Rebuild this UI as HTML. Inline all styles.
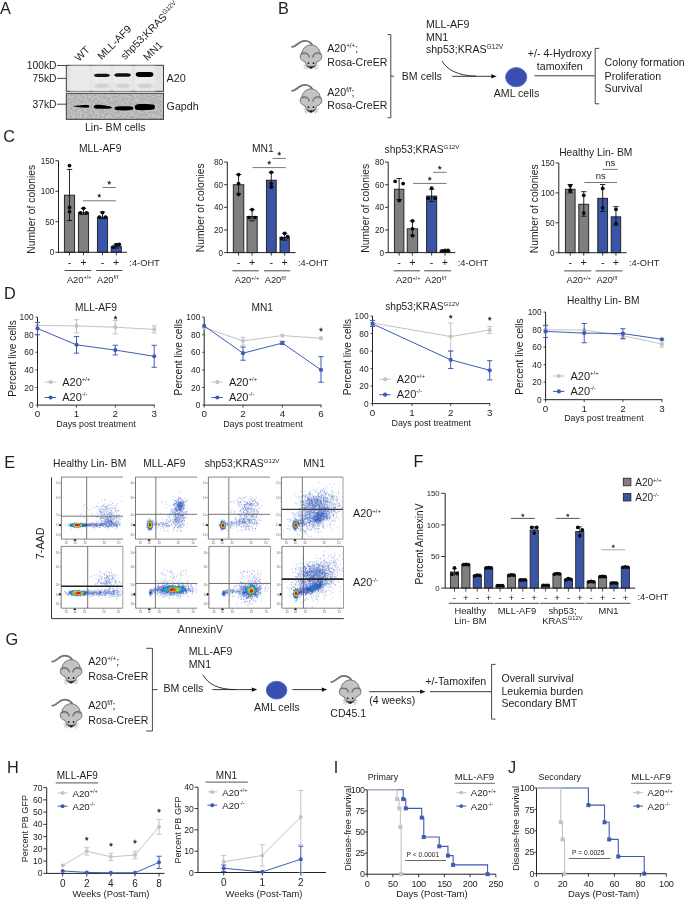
<!DOCTYPE html><html><head><meta charset="utf-8"><style>html,body{margin:0;padding:0;background:#fff;overflow:hidden;width:685px;height:900px;}svg{display:block;will-change:transform;}</style></head><body>
<svg width="685" height="900" viewBox="0 0 685 900" font-family='"Liberation Sans", sans-serif'>
<defs>
<symbol id="mouse" viewBox="0 0 40 38" overflow="visible">
 <path d="M4.2 11.6 C6.5 11.6 9 9.5 11.5 7.5 C13.5 6 16 5.4 18.5 5.8 C21 6.2 23 7.6 24.2 9.6" stroke="#5e5e5e" stroke-width="1.7" fill="none" stroke-linecap="round"/>
 <path d="M4.2 11.6 C6.5 11.6 9 9.5 11.5 7.5 C13.5 6 16 5.4 18.5 5.8 C21 6.2 23 7.6 24.2 9.6" stroke="#9c9c9c" stroke-width="0.6" fill="none" stroke-linecap="round"/>
 <path d="M23 9.7 C27.8 9.7 31.6 13.2 32.2 17.8 C33.8 18.8 34.4 21.6 33.4 23.6 C32.6 25.2 30.8 26 29.2 26.4 C28.2 29.6 25.8 33 23.1 33 C20.4 33 18 29.6 17 26.4 C15.4 26 13.6 25.2 12.8 23.6 C11.8 21.6 12.4 18.8 14 17.8 C14.6 13.2 18.4 9.7 23 9.7 Z" fill="#c3c3c3" stroke="#666" stroke-width="0.9"/>
 <path d="M12.9 19 C14.5 17.8 17.5 17.6 19.3 18.6 C20.6 19.4 21.2 20.8 21.4 22.4" stroke="#6c6c6c" stroke-width="1.3" fill="none"/>
 <path d="M33.3 19 C31.7 17.8 28.7 17.6 26.9 18.6 C25.6 19.4 25 20.8 24.8 22.4" stroke="#6c6c6c" stroke-width="1.3" fill="none"/>
 <path d="M13.2 19.9 C15 19.1 17.6 19 18.8 19.7" stroke="#a0a0a0" stroke-width="0.6" fill="none"/>
 <path d="M33 19.9 C31.2 19.1 28.6 19 27.4 19.7" stroke="#a0a0a0" stroke-width="0.6" fill="none"/>
 <circle cx="20.6" cy="28" r="0.9" fill="#1a1a1a"/>
 <circle cx="25.6" cy="28" r="0.9" fill="#1a1a1a"/>
 <path d="M19.2 30.3 C21.2 31.5 25 31.5 27 30.3 L26.2 31.6 C24.8 33.4 21.4 33.4 20 31.6 Z" fill="#444" stroke="#444" stroke-width="0.4"/>
 <circle cx="23.1" cy="32.3" r="0.9" fill="#111"/>
 <path d="M19 30.6 L15.6 30 M19 31.2 L16 33.2 M19.6 31.8 L18.4 34.6 M27.2 30.6 L30.6 30 M27.2 31.2 L30.2 33.2 M26.6 31.8 L27.8 34.6" stroke="#7a7a7a" stroke-width="0.55"/>
</symbol>
<filter id="fblur" x="0" y="0" width="100%" height="100%"><feGaussianBlur stdDeviation="0.25"/></filter></defs>
<rect width="685" height="900" fill="#fff"/>
<text x="-0.10" y="14.20" font-size="16.3" text-anchor="start" fill="#1e1e1e">A</text>
<text x="79.00" y="62.00" font-size="10.5" text-anchor="start" fill="#1e1e1e" transform="rotate(-45 79.00 62.00)">WT</text>
<text x="101.70" y="60.20" font-size="10.5" text-anchor="start" fill="#1e1e1e" transform="rotate(-45 101.70 60.20)">MLL-AF9</text>
<text x="125.00" y="60.20" font-size="10.5" text-anchor="start" fill="#1e1e1e" transform="rotate(-45 125.00 60.20)">shp53;KRAS<tspan font-size="6.5" dy="-4">G12V</tspan></text>
<text x="147.60" y="61.20" font-size="10.5" text-anchor="start" fill="#1e1e1e" transform="rotate(-45 147.60 61.20)">MN1</text>
<text x="56.50" y="68.80" font-size="10.3" text-anchor="end" fill="#1e1e1e">100kD</text>
<text x="56.50" y="81.80" font-size="10.3" text-anchor="end" fill="#1e1e1e">75kD</text>
<text x="56.50" y="107.50" font-size="10.3" text-anchor="end" fill="#1e1e1e">37kD</text>
<line x1="57.00" y1="65.50" x2="66.00" y2="65.50" stroke="#333" stroke-width="0.9"/>
<line x1="57.00" y1="78.40" x2="66.00" y2="78.40" stroke="#333" stroke-width="0.9"/>
<line x1="57.00" y1="104.20" x2="66.00" y2="104.20" stroke="#333" stroke-width="0.9"/>
<defs><filter id="blur1" x="-20%" y="-50%" width="140%" height="200%"><feGaussianBlur stdDeviation="0.8"/></filter><filter id="blur2" x="-20%" y="-100%" width="140%" height="300%"><feGaussianBlur stdDeviation="0.65"/></filter></defs>
<rect x="66.30" y="65.30" width="97.20" height="26.00" fill="#e2e2e2" stroke="#3e3e3e" stroke-width="1.0"/>
<rect x="70.00" y="66.00" width="20.00" height="25.00" fill="#ebebeb" stroke="none" stroke-width="0" filter="url(#blur1)"/>
<rect x="92.00" y="66.00" width="19.00" height="25.00" fill="#ebebeb" stroke="none" stroke-width="0" filter="url(#blur1)"/>
<rect x="113.00" y="66.00" width="19.00" height="25.00" fill="#ebebeb" stroke="none" stroke-width="0" filter="url(#blur1)"/>
<rect x="134.50" y="66.00" width="21.00" height="25.00" fill="#ebebeb" stroke="none" stroke-width="0" filter="url(#blur1)"/>
<ellipse cx="102.00" cy="85.8" rx="8.00" ry="2.0" fill="#cacaca" filter="url(#blur1)"/>
<ellipse cx="123.00" cy="85.8" rx="8.00" ry="2.0" fill="#cacaca" filter="url(#blur1)"/>
<ellipse cx="145.00" cy="85.8" rx="8.50" ry="2.0" fill="#cacaca" filter="url(#blur1)"/>
<rect x="94.00" y="73.65" width="15.80" height="3.30" rx="3.16" ry="1.65" fill="#151515" filter="url(#blur2)"/>
<rect x="114.40" y="73.15" width="16.40" height="3.50" rx="3.28" ry="1.75" fill="#101010" filter="url(#blur2)"/>
<rect x="135.80" y="72.10" width="17.60" height="4.80" rx="3.52" ry="2.40" fill="#050505" filter="url(#blur2)"/>
<filter id="mottle" x="0" y="0" width="100%" height="100%" filterUnits="objectBoundingBox" color-interpolation-filters="sRGB"><feTurbulence type="fractalNoise" baseFrequency="0.45 0.6" numOctaves="2" seed="7"/><feColorMatrix type="matrix" values="0.28 0 0 0 0.585  0.28 0 0 0 0.585  0.28 0 0 0 0.585  0 0 0 0 1"/></filter>
<rect x="66.3" y="93.3" width="97.2" height="26" filter="url(#mottle)"/>
<rect x="66.30" y="93.30" width="97.20" height="26.00" fill="none" stroke="#3e3e3e" stroke-width="1.0"/>
<path d="M72.9 106.2 C76 105.6 82 104.9 86.5 104.9 C88.5 104.9 89.6 105.6 89.6 106.3 C89.6 107.1 88.5 107.7 86.5 107.7 C82 107.7 76 106.9 72.9 106.2 Z" fill="#060606" filter="url(#blur2)"/>
<path d="M93.8 106.6 C93.8 105.2 95.5 104.8 98 104.8 C103 104.9 108 105.8 111.2 106.7 C112 107.2 112 108.3 110.8 108.6 C106 108.9 100 108.9 96 108.7 C94.5 108.5 93.8 107.8 93.8 106.6 Z" fill="#060606" filter="url(#blur2)"/>
<path d="M114.6 108.2 C114.6 106.8 116.5 106.3 120 106.2 C125 106.1 130 106.1 132.4 106.7 C133.6 107.1 133.6 109.2 132.4 109.7 C128 110.5 120 110.6 116.5 110.1 C115 109.8 114.6 109.2 114.6 108.2 Z" fill="#060606" filter="url(#blur2)"/>
<path d="M134.7 107.0 C134.7 105.2 136.5 104.3 140 104.1 C145 103.9 151 103.9 153.8 104.8 C155.2 105.4 155.3 108.6 153.8 109.3 C150 110.3 142 110.4 137.5 110.0 C135.5 109.7 134.7 108.8 134.7 107.0 Z" fill="#060606" filter="url(#blur2)"/>
<text x="166.60" y="81.50" font-size="10.8" text-anchor="start" fill="#1e1e1e">A20</text>
<text x="166.60" y="110.20" font-size="10.7" text-anchor="start" fill="#1e1e1e">Gapdh</text>
<text x="115.30" y="131.20" font-size="10.6" text-anchor="middle" fill="#1e1e1e">Lin- BM cells</text>
<text x="277.90" y="13.90" font-size="16.3" text-anchor="start" fill="#1e1e1e">B</text>
<use href="#mouse" x="287.90" y="35.20" width="40.00" height="38.00"/>
<use href="#mouse" x="287.90" y="79.20" width="40.00" height="38.00"/>
<text x="327.30" y="52.30" font-size="10.6" text-anchor="start" fill="#1e1e1e">A20<tspan font-size="6.3" dy="-4">+/+</tspan><tspan dy="4">;</tspan></text>
<text x="327.30" y="65.90" font-size="10.6" text-anchor="start" fill="#1e1e1e">Rosa-CreER</text>
<text x="327.30" y="95.50" font-size="10.6" text-anchor="start" fill="#1e1e1e">A20<tspan font-size="6.3" dy="-4">f/f</tspan><tspan dy="4">;</tspan></text>
<text x="327.30" y="109.30" font-size="10.6" text-anchor="start" fill="#1e1e1e">Rosa-CreER</text>
<path d="M387.5 34.6 L390.8 34.6 L390.8 117.8 L387.5 117.8" stroke="#333" stroke-width="0.9" fill="none"/>
<line x1="390.80" y1="76.20" x2="394.00" y2="76.20" stroke="#333" stroke-width="0.9"/>
<text x="401.80" y="79.50" font-size="10.6" text-anchor="start" fill="#1e1e1e">BM cells</text>
<path d="M442 60.9 C447 70 458 75.6 476 76.2" stroke="#222" stroke-width="0.9" fill="none"/>
<line x1="452.20" y1="76.30" x2="492.00" y2="76.30" stroke="#222" stroke-width="0.9"/>
<path d="M496.70 76.30 L491.30 74.14 L491.30 78.46 Z" fill="#111"/>
<text x="425.90" y="28.10" font-size="10.6" text-anchor="start" fill="#1e1e1e">MLL-AF9</text>
<text x="425.90" y="40.90" font-size="10.6" text-anchor="start" fill="#1e1e1e">MN1</text>
<text x="425.90" y="53.20" font-size="10.6" text-anchor="start" fill="#1e1e1e">shp53;KRAS<tspan font-size="6.5" dy="-4">G12V</tspan></text>
<ellipse cx="516.2" cy="77.2" rx="10.6" ry="9.6" fill="#3a4fb0" stroke="#5a70c8" stroke-width="1"/>
<text x="516.50" y="96.80" font-size="10.6" text-anchor="middle" fill="#1e1e1e">AML cells</text>
<line x1="534.50" y1="75.80" x2="594.50" y2="75.80" stroke="#222" stroke-width="0.9"/>
<text x="559.80" y="57.30" font-size="10.6" text-anchor="middle" fill="#1e1e1e">+/- 4-Hydroxy</text>
<text x="559.80" y="70.00" font-size="10.6" text-anchor="middle" fill="#1e1e1e">tamoxifen</text>
<path d="M599.2 48.4 L595.2 48.4 L595.2 103.8 L599.2 103.8" stroke="#333" stroke-width="0.9" fill="none"/>
<text x="604.60" y="66.40" font-size="10.6" text-anchor="start" fill="#1e1e1e">Colony formation</text>
<text x="604.60" y="79.60" font-size="10.6" text-anchor="start" fill="#1e1e1e">Proliferation</text>
<text x="604.60" y="92.20" font-size="10.6" text-anchor="start" fill="#1e1e1e">Survival</text>
<text x="3.30" y="142.00" font-size="16.3" text-anchor="start" fill="#1e1e1e">C</text>
<line x1="58.50" y1="160.70" x2="58.50" y2="252.80" stroke="#222" stroke-width="1"/>
<line x1="55.30" y1="252.30" x2="58.50" y2="252.30" stroke="#222" stroke-width="0.9"/>
<text x="54.30" y="255.20" font-size="8.2" text-anchor="end" fill="#1e1e1e">0</text>
<line x1="55.30" y1="221.77" x2="58.50" y2="221.77" stroke="#222" stroke-width="0.9"/>
<text x="54.30" y="224.67" font-size="8.2" text-anchor="end" fill="#1e1e1e">50</text>
<line x1="55.30" y1="191.23" x2="58.50" y2="191.23" stroke="#222" stroke-width="0.9"/>
<text x="54.30" y="194.13" font-size="8.2" text-anchor="end" fill="#1e1e1e">100</text>
<line x1="55.30" y1="160.70" x2="58.50" y2="160.70" stroke="#222" stroke-width="0.9"/>
<text x="54.30" y="163.60" font-size="8.2" text-anchor="end" fill="#1e1e1e">150</text>
<rect x="64.40" y="195.20" width="10.20" height="57.10" fill="#7f7f7f" stroke="#1a1a1a" stroke-width="0.9"/>
<rect x="78.40" y="212.61" width="10.20" height="39.69" fill="#7f7f7f" stroke="#1a1a1a" stroke-width="0.9"/>
<rect x="97.40" y="217.19" width="10.20" height="35.11" fill="#3a55a6" stroke="#1a1a1a" stroke-width="0.9"/>
<rect x="111.20" y="246.38" width="10.10" height="5.92" fill="#3a55a6" stroke="#1a1a1a" stroke-width="0.9"/>
<line x1="69.50" y1="169.43" x2="69.50" y2="220.55" stroke="#111" stroke-width="0.9"/>
<line x1="66.80" y1="169.43" x2="72.20" y2="169.43" stroke="#111" stroke-width="0.9"/>
<line x1="66.80" y1="220.55" x2="72.20" y2="220.55" stroke="#111" stroke-width="0.9"/>
<circle cx="69.50" cy="165.59" r="1.9" fill="#0a0a0a"/>
<circle cx="69.50" cy="207.42" r="1.9" fill="#0a0a0a"/>
<circle cx="69.50" cy="211.63" r="1.9" fill="#0a0a0a"/>
<line x1="83.50" y1="208.33" x2="83.50" y2="214.44" stroke="#111" stroke-width="0.9"/>
<line x1="80.80" y1="208.33" x2="86.20" y2="208.33" stroke="#111" stroke-width="0.9"/>
<line x1="80.80" y1="214.44" x2="86.20" y2="214.44" stroke="#111" stroke-width="0.9"/>
<circle cx="83.50" cy="208.33" r="1.9" fill="#0a0a0a"/>
<circle cx="80.50" cy="212.91" r="1.9" fill="#0a0a0a"/>
<circle cx="86.50" cy="212.91" r="1.9" fill="#0a0a0a"/>
<line x1="102.50" y1="212.00" x2="102.50" y2="218.71" stroke="#111" stroke-width="0.9"/>
<line x1="99.80" y1="212.00" x2="105.20" y2="212.00" stroke="#111" stroke-width="0.9"/>
<line x1="99.80" y1="218.71" x2="105.20" y2="218.71" stroke="#111" stroke-width="0.9"/>
<circle cx="102.50" cy="212.61" r="1.9" fill="#0a0a0a"/>
<circle cx="99.50" cy="217.19" r="1.9" fill="#0a0a0a"/>
<circle cx="105.50" cy="217.19" r="1.9" fill="#0a0a0a"/>
<line x1="116.25" y1="244.36" x2="116.25" y2="248.03" stroke="#111" stroke-width="0.9"/>
<line x1="113.55" y1="244.36" x2="118.95" y2="244.36" stroke="#111" stroke-width="0.9"/>
<line x1="113.55" y1="248.03" x2="118.95" y2="248.03" stroke="#111" stroke-width="0.9"/>
<circle cx="113.25" cy="247.11" r="1.9" fill="#0a0a0a"/>
<circle cx="116.25" cy="244.67" r="1.9" fill="#0a0a0a"/>
<circle cx="119.25" cy="244.36" r="1.9" fill="#0a0a0a"/>
<line x1="58.50" y1="252.30" x2="127.00" y2="252.30" stroke="#222" stroke-width="1"/>
<line x1="69.50" y1="252.30" x2="69.50" y2="255.30" stroke="#222" stroke-width="0.9"/>
<line x1="83.50" y1="252.30" x2="83.50" y2="255.30" stroke="#222" stroke-width="0.9"/>
<line x1="102.50" y1="252.30" x2="102.50" y2="255.30" stroke="#222" stroke-width="0.9"/>
<line x1="116.25" y1="252.30" x2="116.25" y2="255.30" stroke="#222" stroke-width="0.9"/>
<line x1="82.80" y1="200.80" x2="115.90" y2="200.80" stroke="#6a6a6a" stroke-width="0.9"/>
<text x="99.35" y="200.22" font-size="9" text-anchor="middle" fill="#1e1e1e" stroke="#1e1e1e" stroke-width="0.3">*</text>
<line x1="102.50" y1="187.50" x2="115.90" y2="187.50" stroke="#6a6a6a" stroke-width="0.9"/>
<text x="109.20" y="186.92" font-size="9" text-anchor="middle" fill="#1e1e1e" stroke="#1e1e1e" stroke-width="0.3">*</text>
<text x="100.20" y="151.70" font-size="10.3" text-anchor="middle" fill="#1e1e1e">MLL-AF9</text>
<text x="35.30" y="209.30" font-size="10.3" text-anchor="middle" fill="#1e1e1e" transform="rotate(-90 35.30 209.30)">Number of colonies</text>
<text x="69.50" y="265.90" font-size="10.8" text-anchor="middle" fill="#1e1e1e">-</text>
<text x="83.50" y="265.90" font-size="10.8" text-anchor="middle" fill="#1e1e1e">+</text>
<text x="102.50" y="265.90" font-size="10.8" text-anchor="middle" fill="#1e1e1e">-</text>
<text x="116.25" y="265.90" font-size="10.8" text-anchor="middle" fill="#1e1e1e">+</text>
<text x="129.30" y="265.70" font-size="9.3" text-anchor="start" fill="#1e1e1e">:4-OHT</text>
<line x1="64.60" y1="270.50" x2="91.30" y2="270.50" stroke="#333" stroke-width="0.9"/>
<line x1="96.20" y1="270.50" x2="122.40" y2="270.50" stroke="#333" stroke-width="0.9"/>
<text x="66.90" y="283.00" font-size="9.3" text-anchor="start" fill="#1e1e1e">A20<tspan font-size="5.6" dy="-3.6">+/+</tspan></text>
<text x="97.00" y="283.00" font-size="9.3" text-anchor="start" fill="#1e1e1e">A20<tspan font-size="5.6" dy="-3.6">f/f</tspan></text>
<line x1="227.30" y1="162.10" x2="227.30" y2="253.10" stroke="#222" stroke-width="1"/>
<line x1="224.10" y1="252.60" x2="227.30" y2="252.60" stroke="#222" stroke-width="0.9"/>
<text x="223.10" y="255.50" font-size="8.2" text-anchor="end" fill="#1e1e1e">0</text>
<line x1="224.10" y1="229.97" x2="227.30" y2="229.97" stroke="#222" stroke-width="0.9"/>
<text x="223.10" y="232.88" font-size="8.2" text-anchor="end" fill="#1e1e1e">20</text>
<line x1="224.10" y1="207.35" x2="227.30" y2="207.35" stroke="#222" stroke-width="0.9"/>
<text x="223.10" y="210.25" font-size="8.2" text-anchor="end" fill="#1e1e1e">40</text>
<line x1="224.10" y1="184.72" x2="227.30" y2="184.72" stroke="#222" stroke-width="0.9"/>
<text x="223.10" y="187.62" font-size="8.2" text-anchor="end" fill="#1e1e1e">60</text>
<line x1="224.10" y1="162.10" x2="227.30" y2="162.10" stroke="#222" stroke-width="0.9"/>
<text x="223.10" y="165.00" font-size="8.2" text-anchor="end" fill="#1e1e1e">80</text>
<rect x="233.30" y="184.72" width="10.50" height="67.88" fill="#7f7f7f" stroke="#1a1a1a" stroke-width="0.9"/>
<rect x="247.00" y="216.40" width="10.20" height="36.20" fill="#7f7f7f" stroke="#1a1a1a" stroke-width="0.9"/>
<rect x="266.40" y="180.20" width="9.80" height="72.40" fill="#3a55a6" stroke="#1a1a1a" stroke-width="0.9"/>
<rect x="280.00" y="237.33" width="9.30" height="15.27" fill="#3a55a6" stroke="#1a1a1a" stroke-width="0.9"/>
<line x1="238.55" y1="174.54" x2="238.55" y2="193.77" stroke="#111" stroke-width="0.9"/>
<line x1="235.85" y1="174.54" x2="241.25" y2="174.54" stroke="#111" stroke-width="0.9"/>
<line x1="235.85" y1="193.77" x2="241.25" y2="193.77" stroke="#111" stroke-width="0.9"/>
<circle cx="238.55" cy="174.54" r="1.9" fill="#0a0a0a"/>
<circle cx="238.55" cy="183.59" r="1.9" fill="#0a0a0a"/>
<circle cx="238.55" cy="194.34" r="1.9" fill="#0a0a0a"/>
<line x1="252.10" y1="209.61" x2="252.10" y2="220.92" stroke="#111" stroke-width="0.9"/>
<line x1="249.40" y1="209.61" x2="254.80" y2="209.61" stroke="#111" stroke-width="0.9"/>
<line x1="249.40" y1="220.92" x2="254.80" y2="220.92" stroke="#111" stroke-width="0.9"/>
<circle cx="252.10" cy="209.61" r="1.9" fill="#0a0a0a"/>
<circle cx="249.10" cy="217.53" r="1.9" fill="#0a0a0a"/>
<circle cx="255.10" cy="217.53" r="1.9" fill="#0a0a0a"/>
<line x1="271.30" y1="172.28" x2="271.30" y2="186.99" stroke="#111" stroke-width="0.9"/>
<line x1="268.60" y1="172.28" x2="274.00" y2="172.28" stroke="#111" stroke-width="0.9"/>
<line x1="268.60" y1="186.99" x2="274.00" y2="186.99" stroke="#111" stroke-width="0.9"/>
<circle cx="271.30" cy="172.28" r="1.9" fill="#0a0a0a"/>
<circle cx="271.30" cy="183.59" r="1.9" fill="#0a0a0a"/>
<circle cx="271.30" cy="186.99" r="1.9" fill="#0a0a0a"/>
<line x1="284.65" y1="233.37" x2="284.65" y2="240.16" stroke="#111" stroke-width="0.9"/>
<line x1="281.95" y1="233.37" x2="287.35" y2="233.37" stroke="#111" stroke-width="0.9"/>
<line x1="281.95" y1="240.16" x2="287.35" y2="240.16" stroke="#111" stroke-width="0.9"/>
<circle cx="284.65" cy="233.37" r="1.9" fill="#0a0a0a"/>
<circle cx="281.65" cy="238.46" r="1.9" fill="#0a0a0a"/>
<circle cx="287.65" cy="236.76" r="1.9" fill="#0a0a0a"/>
<line x1="227.30" y1="252.60" x2="295.60" y2="252.60" stroke="#222" stroke-width="1"/>
<line x1="238.55" y1="252.60" x2="238.55" y2="255.60" stroke="#222" stroke-width="0.9"/>
<line x1="252.10" y1="252.60" x2="252.10" y2="255.60" stroke="#222" stroke-width="0.9"/>
<line x1="271.30" y1="252.60" x2="271.30" y2="255.60" stroke="#222" stroke-width="0.9"/>
<line x1="284.65" y1="252.60" x2="284.65" y2="255.60" stroke="#222" stroke-width="0.9"/>
<line x1="252.60" y1="167.60" x2="285.80" y2="167.60" stroke="#6a6a6a" stroke-width="0.9"/>
<text x="269.20" y="167.02" font-size="9" text-anchor="middle" fill="#1e1e1e" stroke="#1e1e1e" stroke-width="0.3">*</text>
<line x1="272.60" y1="158.40" x2="285.80" y2="158.40" stroke="#6a6a6a" stroke-width="0.9"/>
<text x="279.20" y="157.82" font-size="9" text-anchor="middle" fill="#1e1e1e" stroke="#1e1e1e" stroke-width="0.3">*</text>
<text x="262.80" y="151.70" font-size="10.3" text-anchor="middle" fill="#1e1e1e">MN1</text>
<text x="204.30" y="207.80" font-size="10.3" text-anchor="middle" fill="#1e1e1e" transform="rotate(-90 204.30 207.80)">Number of colonies</text>
<text x="238.55" y="266.20" font-size="10.8" text-anchor="middle" fill="#1e1e1e">-</text>
<text x="252.10" y="266.20" font-size="10.8" text-anchor="middle" fill="#1e1e1e">+</text>
<text x="271.30" y="266.20" font-size="10.8" text-anchor="middle" fill="#1e1e1e">-</text>
<text x="284.65" y="266.20" font-size="10.8" text-anchor="middle" fill="#1e1e1e">+</text>
<text x="297.90" y="266.00" font-size="9.3" text-anchor="start" fill="#1e1e1e">:4-OHT</text>
<line x1="232.40" y1="270.80" x2="258.80" y2="270.80" stroke="#333" stroke-width="0.9"/>
<line x1="263.90" y1="270.80" x2="290.20" y2="270.80" stroke="#333" stroke-width="0.9"/>
<text x="234.70" y="283.30" font-size="9.3" text-anchor="start" fill="#1e1e1e">A20<tspan font-size="5.6" dy="-3.6">+/+</tspan></text>
<text x="264.70" y="283.30" font-size="9.3" text-anchor="start" fill="#1e1e1e">A20<tspan font-size="5.6" dy="-3.6">f/f</tspan></text>
<line x1="388.20" y1="162.10" x2="388.20" y2="253.10" stroke="#222" stroke-width="1"/>
<line x1="385.00" y1="252.60" x2="388.20" y2="252.60" stroke="#222" stroke-width="0.9"/>
<text x="384.00" y="255.50" font-size="8.2" text-anchor="end" fill="#1e1e1e">0</text>
<line x1="385.00" y1="229.97" x2="388.20" y2="229.97" stroke="#222" stroke-width="0.9"/>
<text x="384.00" y="232.88" font-size="8.2" text-anchor="end" fill="#1e1e1e">20</text>
<line x1="385.00" y1="207.35" x2="388.20" y2="207.35" stroke="#222" stroke-width="0.9"/>
<text x="384.00" y="210.25" font-size="8.2" text-anchor="end" fill="#1e1e1e">40</text>
<line x1="385.00" y1="184.72" x2="388.20" y2="184.72" stroke="#222" stroke-width="0.9"/>
<text x="384.00" y="187.62" font-size="8.2" text-anchor="end" fill="#1e1e1e">60</text>
<line x1="385.00" y1="162.10" x2="388.20" y2="162.10" stroke="#222" stroke-width="0.9"/>
<text x="384.00" y="165.00" font-size="8.2" text-anchor="end" fill="#1e1e1e">80</text>
<rect x="394.40" y="189.25" width="9.50" height="63.35" fill="#7f7f7f" stroke="#1a1a1a" stroke-width="0.9"/>
<rect x="407.20" y="228.84" width="10.50" height="23.76" fill="#7f7f7f" stroke="#1a1a1a" stroke-width="0.9"/>
<rect x="426.60" y="196.04" width="10.10" height="56.56" fill="#3a55a6" stroke="#1a1a1a" stroke-width="0.9"/>
<rect x="440.00" y="250.90" width="10.00" height="1.70" fill="#3a55a6" stroke="#1a1a1a" stroke-width="0.9"/>
<line x1="399.15" y1="178.50" x2="399.15" y2="199.43" stroke="#111" stroke-width="0.9"/>
<line x1="396.45" y1="178.50" x2="401.85" y2="178.50" stroke="#111" stroke-width="0.9"/>
<line x1="396.45" y1="199.43" x2="401.85" y2="199.43" stroke="#111" stroke-width="0.9"/>
<circle cx="395.15" cy="181.33" r="1.9" fill="#0a0a0a"/>
<circle cx="403.15" cy="183.59" r="1.9" fill="#0a0a0a"/>
<circle cx="399.15" cy="200.56" r="1.9" fill="#0a0a0a"/>
<line x1="412.45" y1="220.92" x2="412.45" y2="235.63" stroke="#111" stroke-width="0.9"/>
<line x1="409.75" y1="220.92" x2="415.15" y2="220.92" stroke="#111" stroke-width="0.9"/>
<line x1="409.75" y1="235.63" x2="415.15" y2="235.63" stroke="#111" stroke-width="0.9"/>
<circle cx="412.45" cy="220.92" r="1.9" fill="#0a0a0a"/>
<circle cx="412.45" cy="228.84" r="1.9" fill="#0a0a0a"/>
<circle cx="412.45" cy="235.63" r="1.9" fill="#0a0a0a"/>
<line x1="431.65" y1="189.25" x2="431.65" y2="201.69" stroke="#111" stroke-width="0.9"/>
<line x1="428.95" y1="189.25" x2="434.35" y2="189.25" stroke="#111" stroke-width="0.9"/>
<line x1="428.95" y1="201.69" x2="434.35" y2="201.69" stroke="#111" stroke-width="0.9"/>
<circle cx="431.65" cy="188.12" r="1.9" fill="#0a0a0a"/>
<circle cx="428.15" cy="198.30" r="1.9" fill="#0a0a0a"/>
<circle cx="435.15" cy="198.30" r="1.9" fill="#0a0a0a"/>
<line x1="445.00" y1="250.34" x2="445.00" y2="251.47" stroke="#111" stroke-width="0.9"/>
<line x1="442.30" y1="250.34" x2="447.70" y2="250.34" stroke="#111" stroke-width="0.9"/>
<line x1="442.30" y1="251.47" x2="447.70" y2="251.47" stroke="#111" stroke-width="0.9"/>
<circle cx="442.00" cy="250.90" r="1.9" fill="#0a0a0a"/>
<circle cx="445.00" cy="250.34" r="1.9" fill="#0a0a0a"/>
<circle cx="448.00" cy="250.34" r="1.9" fill="#0a0a0a"/>
<line x1="388.20" y1="252.60" x2="455.40" y2="252.60" stroke="#222" stroke-width="1"/>
<line x1="399.15" y1="252.60" x2="399.15" y2="255.60" stroke="#222" stroke-width="0.9"/>
<line x1="412.45" y1="252.60" x2="412.45" y2="255.60" stroke="#222" stroke-width="0.9"/>
<line x1="431.65" y1="252.60" x2="431.65" y2="255.60" stroke="#222" stroke-width="0.9"/>
<line x1="445.00" y1="252.60" x2="445.00" y2="255.60" stroke="#222" stroke-width="0.9"/>
<line x1="413.00" y1="183.40" x2="446.60" y2="183.40" stroke="#6a6a6a" stroke-width="0.9"/>
<text x="429.80" y="182.82" font-size="9" text-anchor="middle" fill="#1e1e1e" stroke="#1e1e1e" stroke-width="0.3">*</text>
<line x1="433.00" y1="172.30" x2="446.60" y2="172.30" stroke="#6a6a6a" stroke-width="0.9"/>
<text x="439.80" y="171.72" font-size="9" text-anchor="middle" fill="#1e1e1e" stroke="#1e1e1e" stroke-width="0.3">*</text>
<text x="384.60" y="153.00" font-size="10.3" text-anchor="start" fill="#1e1e1e">shp53;KRAS<tspan font-size="6.2" dy="-4">G12V</tspan></text>
<text x="369.50" y="208.30" font-size="10.3" text-anchor="middle" fill="#1e1e1e" transform="rotate(-90 369.50 208.30)">Number of colonies</text>
<text x="399.15" y="266.20" font-size="10.8" text-anchor="middle" fill="#1e1e1e">-</text>
<text x="412.45" y="266.20" font-size="10.8" text-anchor="middle" fill="#1e1e1e">+</text>
<text x="431.65" y="266.20" font-size="10.8" text-anchor="middle" fill="#1e1e1e">-</text>
<text x="445.00" y="266.20" font-size="10.8" text-anchor="middle" fill="#1e1e1e">+</text>
<text x="457.70" y="266.00" font-size="9.3" text-anchor="start" fill="#1e1e1e">:4-OHT</text>
<line x1="393.60" y1="270.80" x2="419.90" y2="270.80" stroke="#333" stroke-width="0.9"/>
<line x1="424.20" y1="270.80" x2="451.00" y2="270.80" stroke="#333" stroke-width="0.9"/>
<text x="395.90" y="283.30" font-size="9.3" text-anchor="start" fill="#1e1e1e">A20<tspan font-size="5.6" dy="-3.6">+/+</tspan></text>
<text x="425.00" y="283.30" font-size="9.3" text-anchor="start" fill="#1e1e1e">A20<tspan font-size="5.6" dy="-3.6">f/f</tspan></text>
<line x1="558.80" y1="163.00" x2="558.80" y2="253.20" stroke="#222" stroke-width="1"/>
<line x1="555.60" y1="252.70" x2="558.80" y2="252.70" stroke="#222" stroke-width="0.9"/>
<text x="554.60" y="255.60" font-size="8.2" text-anchor="end" fill="#1e1e1e">0</text>
<line x1="555.60" y1="222.80" x2="558.80" y2="222.80" stroke="#222" stroke-width="0.9"/>
<text x="554.60" y="225.70" font-size="8.2" text-anchor="end" fill="#1e1e1e">50</text>
<line x1="555.60" y1="192.90" x2="558.80" y2="192.90" stroke="#222" stroke-width="0.9"/>
<text x="554.60" y="195.80" font-size="8.2" text-anchor="end" fill="#1e1e1e">100</text>
<line x1="555.60" y1="163.00" x2="558.80" y2="163.00" stroke="#222" stroke-width="0.9"/>
<text x="554.60" y="165.90" font-size="8.2" text-anchor="end" fill="#1e1e1e">150</text>
<rect x="565.40" y="189.31" width="9.70" height="63.39" fill="#7f7f7f" stroke="#1a1a1a" stroke-width="0.9"/>
<rect x="578.80" y="204.26" width="9.90" height="48.44" fill="#7f7f7f" stroke="#1a1a1a" stroke-width="0.9"/>
<rect x="597.80" y="198.28" width="9.80" height="54.42" fill="#3a55a6" stroke="#1a1a1a" stroke-width="0.9"/>
<rect x="611.20" y="216.82" width="9.50" height="35.88" fill="#3a55a6" stroke="#1a1a1a" stroke-width="0.9"/>
<line x1="570.25" y1="184.53" x2="570.25" y2="192.90" stroke="#111" stroke-width="0.9"/>
<line x1="567.55" y1="184.53" x2="572.95" y2="184.53" stroke="#111" stroke-width="0.9"/>
<line x1="567.55" y1="192.90" x2="572.95" y2="192.90" stroke="#111" stroke-width="0.9"/>
<circle cx="570.25" cy="185.72" r="1.9" fill="#0a0a0a"/>
<circle cx="570.25" cy="190.21" r="1.9" fill="#0a0a0a"/>
<circle cx="570.25" cy="191.11" r="1.9" fill="#0a0a0a"/>
<line x1="583.75" y1="191.70" x2="583.75" y2="216.22" stroke="#111" stroke-width="0.9"/>
<line x1="581.05" y1="191.70" x2="586.45" y2="191.70" stroke="#111" stroke-width="0.9"/>
<line x1="581.05" y1="216.22" x2="586.45" y2="216.22" stroke="#111" stroke-width="0.9"/>
<circle cx="583.75" cy="195.29" r="1.9" fill="#0a0a0a"/>
<circle cx="583.75" cy="212.93" r="1.9" fill="#0a0a0a"/>
<line x1="602.70" y1="184.53" x2="602.70" y2="211.44" stroke="#111" stroke-width="0.9"/>
<line x1="600.00" y1="184.53" x2="605.40" y2="184.53" stroke="#111" stroke-width="0.9"/>
<line x1="600.00" y1="211.44" x2="605.40" y2="211.44" stroke="#111" stroke-width="0.9"/>
<circle cx="602.70" cy="188.41" r="1.9" fill="#0a0a0a"/>
<circle cx="602.70" cy="207.85" r="1.9" fill="#0a0a0a"/>
<line x1="615.95" y1="206.65" x2="615.95" y2="225.19" stroke="#111" stroke-width="0.9"/>
<line x1="613.25" y1="206.65" x2="618.65" y2="206.65" stroke="#111" stroke-width="0.9"/>
<line x1="613.25" y1="225.19" x2="618.65" y2="225.19" stroke="#111" stroke-width="0.9"/>
<circle cx="615.95" cy="209.34" r="1.9" fill="#0a0a0a"/>
<circle cx="615.95" cy="223.40" r="1.9" fill="#0a0a0a"/>
<line x1="558.80" y1="252.70" x2="626.70" y2="252.70" stroke="#222" stroke-width="1"/>
<line x1="570.25" y1="252.70" x2="570.25" y2="255.70" stroke="#222" stroke-width="0.9"/>
<line x1="583.75" y1="252.70" x2="583.75" y2="255.70" stroke="#222" stroke-width="0.9"/>
<line x1="602.70" y1="252.70" x2="602.70" y2="255.70" stroke="#222" stroke-width="0.9"/>
<line x1="615.95" y1="252.70" x2="615.95" y2="255.70" stroke="#222" stroke-width="0.9"/>
<line x1="584.30" y1="182.50" x2="617.00" y2="182.50" stroke="#6a6a6a" stroke-width="0.9"/>
<text x="600.65" y="179.30" font-size="9.5" text-anchor="middle" fill="#1e1e1e">ns</text>
<line x1="602.40" y1="169.40" x2="617.90" y2="169.40" stroke="#6a6a6a" stroke-width="0.9"/>
<text x="610.15" y="166.20" font-size="9.5" text-anchor="middle" fill="#1e1e1e">ns</text>
<text x="595.80" y="155.50" font-size="10.3" text-anchor="middle" fill="#1e1e1e">Healthy Lin- BM</text>
<text x="538.40" y="208.80" font-size="10.3" text-anchor="middle" fill="#1e1e1e" transform="rotate(-90 538.40 208.80)">Number of colonies</text>
<text x="570.25" y="266.30" font-size="10.8" text-anchor="middle" fill="#1e1e1e">-</text>
<text x="583.75" y="266.30" font-size="10.8" text-anchor="middle" fill="#1e1e1e">+</text>
<text x="602.70" y="266.30" font-size="10.8" text-anchor="middle" fill="#1e1e1e">-</text>
<text x="615.95" y="266.30" font-size="10.8" text-anchor="middle" fill="#1e1e1e">+</text>
<text x="629.00" y="266.10" font-size="9.3" text-anchor="start" fill="#1e1e1e">:4-OHT</text>
<line x1="564.20" y1="270.90" x2="591.20" y2="270.90" stroke="#333" stroke-width="0.9"/>
<line x1="595.60" y1="270.90" x2="622.40" y2="270.90" stroke="#333" stroke-width="0.9"/>
<text x="566.50" y="283.40" font-size="9.3" text-anchor="start" fill="#1e1e1e">A20<tspan font-size="5.6" dy="-3.6">+/+</tspan></text>
<text x="596.40" y="283.40" font-size="9.3" text-anchor="start" fill="#1e1e1e">A20<tspan font-size="5.6" dy="-3.6">f/f</tspan></text>
<text x="4.00" y="298.90" font-size="16.3" text-anchor="start" fill="#1e1e1e">D</text>
<line x1="37.50" y1="317.10" x2="37.50" y2="405.10" stroke="#222" stroke-width="1"/>
<text x="33.60" y="408.10" font-size="8.4" text-anchor="end" fill="#1e1e1e">0</text>
<line x1="35.50" y1="405.10" x2="37.50" y2="405.10" stroke="#222" stroke-width="0.8"/>
<text x="33.60" y="390.50" font-size="8.4" text-anchor="end" fill="#1e1e1e">20</text>
<line x1="35.50" y1="387.50" x2="37.50" y2="387.50" stroke="#222" stroke-width="0.8"/>
<text x="33.60" y="372.90" font-size="8.4" text-anchor="end" fill="#1e1e1e">40</text>
<line x1="35.50" y1="369.90" x2="37.50" y2="369.90" stroke="#222" stroke-width="0.8"/>
<text x="33.60" y="355.30" font-size="8.4" text-anchor="end" fill="#1e1e1e">60</text>
<line x1="35.50" y1="352.30" x2="37.50" y2="352.30" stroke="#222" stroke-width="0.8"/>
<text x="33.60" y="337.70" font-size="8.4" text-anchor="end" fill="#1e1e1e">80</text>
<line x1="35.50" y1="334.70" x2="37.50" y2="334.70" stroke="#222" stroke-width="0.8"/>
<text x="33.60" y="320.10" font-size="8.4" text-anchor="end" fill="#1e1e1e">100</text>
<line x1="35.50" y1="317.10" x2="37.50" y2="317.10" stroke="#222" stroke-width="0.8"/>
<line x1="37.50" y1="405.10" x2="154.70" y2="405.10" stroke="#222" stroke-width="1"/>
<line x1="37.50" y1="405.10" x2="37.50" y2="407.60" stroke="#222" stroke-width="0.8"/>
<text x="37.50" y="417.10" font-size="9.8" text-anchor="middle" fill="#1e1e1e">0</text>
<line x1="76.50" y1="405.10" x2="76.50" y2="407.60" stroke="#222" stroke-width="0.8"/>
<text x="76.50" y="417.10" font-size="9.8" text-anchor="middle" fill="#1e1e1e">1</text>
<line x1="115.30" y1="405.10" x2="115.30" y2="407.60" stroke="#222" stroke-width="0.8"/>
<text x="115.30" y="417.10" font-size="9.8" text-anchor="middle" fill="#1e1e1e">2</text>
<line x1="154.20" y1="405.10" x2="154.20" y2="407.60" stroke="#222" stroke-width="0.8"/>
<text x="154.20" y="417.10" font-size="9.8" text-anchor="middle" fill="#1e1e1e">3</text>
<polyline points="37.50,325.46 76.50,325.90 115.30,327.22 154.20,329.42" fill="none" stroke="#c3c3c3" stroke-width="1.0"/>
<circle cx="37.50" cy="325.46" r="2.1" fill="#c3c3c3"/>
<line x1="76.50" y1="319.74" x2="76.50" y2="332.94" stroke="#c3c3c3" stroke-width="1.0"/>
<line x1="73.90" y1="319.74" x2="79.10" y2="319.74" stroke="#c3c3c3" stroke-width="1.0"/>
<line x1="73.90" y1="332.94" x2="79.10" y2="332.94" stroke="#c3c3c3" stroke-width="1.0"/>
<circle cx="76.50" cy="325.90" r="2.1" fill="#c3c3c3"/>
<line x1="115.30" y1="320.62" x2="115.30" y2="333.82" stroke="#c3c3c3" stroke-width="1.0"/>
<line x1="112.70" y1="320.62" x2="117.90" y2="320.62" stroke="#c3c3c3" stroke-width="1.0"/>
<line x1="112.70" y1="333.82" x2="117.90" y2="333.82" stroke="#c3c3c3" stroke-width="1.0"/>
<circle cx="115.30" cy="327.22" r="2.1" fill="#c3c3c3"/>
<line x1="154.20" y1="325.90" x2="154.20" y2="332.94" stroke="#c3c3c3" stroke-width="1.0"/>
<line x1="151.60" y1="325.90" x2="156.80" y2="325.90" stroke="#c3c3c3" stroke-width="1.0"/>
<line x1="151.60" y1="332.94" x2="156.80" y2="332.94" stroke="#c3c3c3" stroke-width="1.0"/>
<circle cx="154.20" cy="329.42" r="2.1" fill="#c3c3c3"/>
<polyline points="37.50,328.54 76.50,344.82 115.30,350.10 154.20,356.26" fill="none" stroke="#3f5bb5" stroke-width="1.0"/>
<line x1="37.50" y1="322.38" x2="37.50" y2="334.70" stroke="#3f5bb5" stroke-width="1.0"/>
<line x1="34.90" y1="322.38" x2="40.10" y2="322.38" stroke="#3f5bb5" stroke-width="1.0"/>
<line x1="34.90" y1="334.70" x2="40.10" y2="334.70" stroke="#3f5bb5" stroke-width="1.0"/>
<circle cx="37.50" cy="328.54" r="2.1" fill="#3f5bb5"/>
<line x1="76.50" y1="336.46" x2="76.50" y2="353.18" stroke="#3f5bb5" stroke-width="1.0"/>
<line x1="73.90" y1="336.46" x2="79.10" y2="336.46" stroke="#3f5bb5" stroke-width="1.0"/>
<line x1="73.90" y1="353.18" x2="79.10" y2="353.18" stroke="#3f5bb5" stroke-width="1.0"/>
<circle cx="76.50" cy="344.82" r="2.1" fill="#3f5bb5"/>
<line x1="115.30" y1="345.26" x2="115.30" y2="354.94" stroke="#3f5bb5" stroke-width="1.0"/>
<line x1="112.70" y1="345.26" x2="117.90" y2="345.26" stroke="#3f5bb5" stroke-width="1.0"/>
<line x1="112.70" y1="354.94" x2="117.90" y2="354.94" stroke="#3f5bb5" stroke-width="1.0"/>
<circle cx="115.30" cy="350.10" r="2.1" fill="#3f5bb5"/>
<line x1="154.20" y1="345.26" x2="154.20" y2="367.26" stroke="#3f5bb5" stroke-width="1.0"/>
<line x1="151.60" y1="345.26" x2="156.80" y2="345.26" stroke="#3f5bb5" stroke-width="1.0"/>
<line x1="151.60" y1="367.26" x2="156.80" y2="367.26" stroke="#3f5bb5" stroke-width="1.0"/>
<circle cx="154.20" cy="356.26" r="2.1" fill="#3f5bb5"/>
<text x="115.50" y="322.12" font-size="9" text-anchor="middle" fill="#1e1e1e" stroke="#1e1e1e" stroke-width="0.3">*</text>
<text x="96.00" y="311.00" font-size="10.2" text-anchor="middle" fill="#1e1e1e">MLL-AF9</text>
<text x="96.00" y="427.00" font-size="8.9" text-anchor="middle" fill="#1e1e1e">Days post treatment</text>
<text x="16.30" y="358.50" font-size="10.2" text-anchor="middle" fill="#1e1e1e" transform="rotate(-90 16.30 358.50)">Percent live cells</text>
<line x1="44.70" y1="382.10" x2="56.10" y2="382.10" stroke="#c3c3c3" stroke-width="1.0"/>
<circle cx="50.60" cy="382.10" r="2.1" fill="#c3c3c3"/>
<line x1="44.70" y1="397.50" x2="56.10" y2="397.50" stroke="#3f5bb5" stroke-width="1.0"/>
<circle cx="50.60" cy="397.50" r="2.1" fill="#3f5bb5"/>
<text x="62.20" y="385.70" font-size="11.0" text-anchor="start" fill="#1e1e1e">A20<tspan font-size="6.0" dy="-4.6">+/+</tspan></text>
<text x="62.20" y="400.80" font-size="11.0" text-anchor="start" fill="#1e1e1e">A20<tspan font-size="6.0" dy="-4.6">-/-</tspan></text>
<line x1="204.20" y1="317.10" x2="204.20" y2="405.10" stroke="#222" stroke-width="1"/>
<text x="200.30" y="408.10" font-size="8.4" text-anchor="end" fill="#1e1e1e">0</text>
<line x1="202.20" y1="405.10" x2="204.20" y2="405.10" stroke="#222" stroke-width="0.8"/>
<text x="200.30" y="390.50" font-size="8.4" text-anchor="end" fill="#1e1e1e">20</text>
<line x1="202.20" y1="387.50" x2="204.20" y2="387.50" stroke="#222" stroke-width="0.8"/>
<text x="200.30" y="372.90" font-size="8.4" text-anchor="end" fill="#1e1e1e">40</text>
<line x1="202.20" y1="369.90" x2="204.20" y2="369.90" stroke="#222" stroke-width="0.8"/>
<text x="200.30" y="355.30" font-size="8.4" text-anchor="end" fill="#1e1e1e">60</text>
<line x1="202.20" y1="352.30" x2="204.20" y2="352.30" stroke="#222" stroke-width="0.8"/>
<text x="200.30" y="337.70" font-size="8.4" text-anchor="end" fill="#1e1e1e">80</text>
<line x1="202.20" y1="334.70" x2="204.20" y2="334.70" stroke="#222" stroke-width="0.8"/>
<text x="200.30" y="320.10" font-size="8.4" text-anchor="end" fill="#1e1e1e">100</text>
<line x1="202.20" y1="317.10" x2="204.20" y2="317.10" stroke="#222" stroke-width="0.8"/>
<line x1="204.20" y1="405.10" x2="321.50" y2="405.10" stroke="#222" stroke-width="1"/>
<line x1="204.20" y1="405.10" x2="204.20" y2="407.60" stroke="#222" stroke-width="0.8"/>
<text x="204.20" y="417.10" font-size="9.8" text-anchor="middle" fill="#1e1e1e">0</text>
<line x1="243.00" y1="405.10" x2="243.00" y2="407.60" stroke="#222" stroke-width="0.8"/>
<text x="243.00" y="417.10" font-size="9.8" text-anchor="middle" fill="#1e1e1e">2</text>
<line x1="282.40" y1="405.10" x2="282.40" y2="407.60" stroke="#222" stroke-width="0.8"/>
<text x="282.40" y="417.10" font-size="9.8" text-anchor="middle" fill="#1e1e1e">4</text>
<line x1="321.00" y1="405.10" x2="321.00" y2="407.60" stroke="#222" stroke-width="0.8"/>
<text x="321.00" y="417.10" font-size="9.8" text-anchor="middle" fill="#1e1e1e">6</text>
<polyline points="204.20,327.66 243.00,340.86 282.40,335.58 321.00,338.22" fill="none" stroke="#c3c3c3" stroke-width="1.0"/>
<circle cx="204.20" cy="327.66" r="2.1" fill="#c3c3c3"/>
<line x1="243.00" y1="337.34" x2="243.00" y2="345.26" stroke="#c3c3c3" stroke-width="1.0"/>
<line x1="240.40" y1="337.34" x2="245.60" y2="337.34" stroke="#c3c3c3" stroke-width="1.0"/>
<line x1="240.40" y1="345.26" x2="245.60" y2="345.26" stroke="#c3c3c3" stroke-width="1.0"/>
<circle cx="243.00" cy="340.86" r="2.1" fill="#c3c3c3"/>
<circle cx="282.40" cy="335.58" r="2.1" fill="#c3c3c3"/>
<circle cx="321.00" cy="338.22" r="2.1" fill="#c3c3c3"/>
<polyline points="204.20,325.90 243.00,353.18 282.40,343.06 321.00,369.90" fill="none" stroke="#3f5bb5" stroke-width="1.0"/>
<circle cx="204.20" cy="325.90" r="2.1" fill="#3f5bb5"/>
<line x1="243.00" y1="347.02" x2="243.00" y2="360.22" stroke="#3f5bb5" stroke-width="1.0"/>
<line x1="240.40" y1="347.02" x2="245.60" y2="347.02" stroke="#3f5bb5" stroke-width="1.0"/>
<line x1="240.40" y1="360.22" x2="245.60" y2="360.22" stroke="#3f5bb5" stroke-width="1.0"/>
<circle cx="243.00" cy="353.18" r="2.1" fill="#3f5bb5"/>
<line x1="282.40" y1="341.30" x2="282.40" y2="344.38" stroke="#3f5bb5" stroke-width="1.0"/>
<line x1="279.80" y1="341.30" x2="285.00" y2="341.30" stroke="#3f5bb5" stroke-width="1.0"/>
<line x1="279.80" y1="344.38" x2="285.00" y2="344.38" stroke="#3f5bb5" stroke-width="1.0"/>
<circle cx="282.40" cy="343.06" r="2.1" fill="#3f5bb5"/>
<line x1="321.00" y1="356.70" x2="321.00" y2="382.22" stroke="#3f5bb5" stroke-width="1.0"/>
<line x1="318.40" y1="356.70" x2="323.60" y2="356.70" stroke="#3f5bb5" stroke-width="1.0"/>
<line x1="318.40" y1="382.22" x2="323.60" y2="382.22" stroke="#3f5bb5" stroke-width="1.0"/>
<circle cx="321.00" cy="369.90" r="2.1" fill="#3f5bb5"/>
<text x="320.90" y="334.22" font-size="9" text-anchor="middle" fill="#1e1e1e" stroke="#1e1e1e" stroke-width="0.3">*</text>
<text x="262.30" y="311.00" font-size="10.2" text-anchor="middle" fill="#1e1e1e">MN1</text>
<text x="262.90" y="427.00" font-size="8.9" text-anchor="middle" fill="#1e1e1e">Days post treatment</text>
<text x="182.00" y="357.20" font-size="10.2" text-anchor="middle" fill="#1e1e1e" transform="rotate(-90 182.00 357.20)">Percent live cells</text>
<line x1="211.40" y1="382.10" x2="222.80" y2="382.10" stroke="#c3c3c3" stroke-width="1.0"/>
<circle cx="217.30" cy="382.10" r="2.1" fill="#c3c3c3"/>
<line x1="211.40" y1="397.50" x2="222.80" y2="397.50" stroke="#3f5bb5" stroke-width="1.0"/>
<circle cx="217.30" cy="397.50" r="2.1" fill="#3f5bb5"/>
<text x="228.90" y="385.70" font-size="11.0" text-anchor="start" fill="#1e1e1e">A20<tspan font-size="6.0" dy="-4.6">+/+</tspan></text>
<text x="228.90" y="400.80" font-size="11.0" text-anchor="start" fill="#1e1e1e">A20<tspan font-size="6.0" dy="-4.6">-/-</tspan></text>
<line x1="372.50" y1="316.00" x2="372.50" y2="403.60" stroke="#222" stroke-width="1"/>
<text x="368.60" y="406.60" font-size="8.4" text-anchor="end" fill="#1e1e1e">0</text>
<line x1="370.50" y1="403.60" x2="372.50" y2="403.60" stroke="#222" stroke-width="0.8"/>
<text x="368.60" y="389.08" font-size="8.4" text-anchor="end" fill="#1e1e1e">20</text>
<line x1="370.50" y1="386.08" x2="372.50" y2="386.08" stroke="#222" stroke-width="0.8"/>
<text x="368.60" y="371.56" font-size="8.4" text-anchor="end" fill="#1e1e1e">40</text>
<line x1="370.50" y1="368.56" x2="372.50" y2="368.56" stroke="#222" stroke-width="0.8"/>
<text x="368.60" y="354.04" font-size="8.4" text-anchor="end" fill="#1e1e1e">60</text>
<line x1="370.50" y1="351.04" x2="372.50" y2="351.04" stroke="#222" stroke-width="0.8"/>
<text x="368.60" y="336.52" font-size="8.4" text-anchor="end" fill="#1e1e1e">80</text>
<line x1="370.50" y1="333.52" x2="372.50" y2="333.52" stroke="#222" stroke-width="0.8"/>
<text x="368.60" y="319.00" font-size="8.4" text-anchor="end" fill="#1e1e1e">100</text>
<line x1="370.50" y1="316.00" x2="372.50" y2="316.00" stroke="#222" stroke-width="0.8"/>
<line x1="372.50" y1="403.60" x2="490.20" y2="403.60" stroke="#222" stroke-width="1"/>
<line x1="372.50" y1="403.60" x2="372.50" y2="406.10" stroke="#222" stroke-width="0.8"/>
<text x="372.50" y="415.60" font-size="9.8" text-anchor="middle" fill="#1e1e1e">0</text>
<line x1="411.90" y1="403.60" x2="411.90" y2="406.10" stroke="#222" stroke-width="0.8"/>
<text x="411.90" y="415.60" font-size="9.8" text-anchor="middle" fill="#1e1e1e">1</text>
<line x1="450.70" y1="403.60" x2="450.70" y2="406.10" stroke="#222" stroke-width="0.8"/>
<text x="450.70" y="415.60" font-size="9.8" text-anchor="middle" fill="#1e1e1e">2</text>
<line x1="489.70" y1="403.60" x2="489.70" y2="406.10" stroke="#222" stroke-width="0.8"/>
<text x="489.70" y="415.60" font-size="9.8" text-anchor="middle" fill="#1e1e1e">3</text>
<polyline points="372.50,323.01 450.70,336.59 489.70,330.02" fill="none" stroke="#c3c3c3" stroke-width="1.0"/>
<circle cx="372.50" cy="323.01" r="2.1" fill="#c3c3c3"/>
<line x1="450.70" y1="323.01" x2="450.70" y2="351.04" stroke="#c3c3c3" stroke-width="1.0"/>
<line x1="448.10" y1="323.01" x2="453.30" y2="323.01" stroke="#c3c3c3" stroke-width="1.0"/>
<line x1="448.10" y1="351.04" x2="453.30" y2="351.04" stroke="#c3c3c3" stroke-width="1.0"/>
<circle cx="450.70" cy="336.59" r="2.1" fill="#c3c3c3"/>
<line x1="489.70" y1="326.51" x2="489.70" y2="333.52" stroke="#c3c3c3" stroke-width="1.0"/>
<line x1="487.10" y1="326.51" x2="492.30" y2="326.51" stroke="#c3c3c3" stroke-width="1.0"/>
<line x1="487.10" y1="333.52" x2="492.30" y2="333.52" stroke="#c3c3c3" stroke-width="1.0"/>
<circle cx="489.70" cy="330.02" r="2.1" fill="#c3c3c3"/>
<polyline points="372.50,323.88 450.70,359.80 489.70,370.31" fill="none" stroke="#3f5bb5" stroke-width="1.0"/>
<line x1="372.50" y1="320.38" x2="372.50" y2="326.51" stroke="#3f5bb5" stroke-width="1.0"/>
<line x1="369.90" y1="320.38" x2="375.10" y2="320.38" stroke="#3f5bb5" stroke-width="1.0"/>
<line x1="369.90" y1="326.51" x2="375.10" y2="326.51" stroke="#3f5bb5" stroke-width="1.0"/>
<circle cx="372.50" cy="323.88" r="2.1" fill="#3f5bb5"/>
<line x1="450.70" y1="351.04" x2="450.70" y2="368.56" stroke="#3f5bb5" stroke-width="1.0"/>
<line x1="448.10" y1="351.04" x2="453.30" y2="351.04" stroke="#3f5bb5" stroke-width="1.0"/>
<line x1="448.10" y1="368.56" x2="453.30" y2="368.56" stroke="#3f5bb5" stroke-width="1.0"/>
<circle cx="450.70" cy="359.80" r="2.1" fill="#3f5bb5"/>
<line x1="489.70" y1="360.68" x2="489.70" y2="379.95" stroke="#3f5bb5" stroke-width="1.0"/>
<line x1="487.10" y1="360.68" x2="492.30" y2="360.68" stroke="#3f5bb5" stroke-width="1.0"/>
<line x1="487.10" y1="379.95" x2="492.30" y2="379.95" stroke="#3f5bb5" stroke-width="1.0"/>
<circle cx="489.70" cy="370.31" r="2.1" fill="#3f5bb5"/>
<text x="450.70" y="321.02" font-size="9" text-anchor="middle" fill="#1e1e1e" stroke="#1e1e1e" stroke-width="0.3">*</text>
<text x="489.70" y="322.82" font-size="9" text-anchor="middle" fill="#1e1e1e" stroke="#1e1e1e" stroke-width="0.3">*</text>
<text x="385.20" y="309.90" font-size="10.2" text-anchor="start" fill="#1e1e1e">shp53;KRAS<tspan font-size="6.2" dy="-4">G12V</tspan></text>
<text x="431.20" y="425.90" font-size="8.9" text-anchor="middle" fill="#1e1e1e">Days post treatment</text>
<text x="351.20" y="357.00" font-size="10.2" text-anchor="middle" fill="#1e1e1e" transform="rotate(-90 351.20 357.00)">Percent live cells</text>
<line x1="379.20" y1="379.30" x2="390.60" y2="379.30" stroke="#c3c3c3" stroke-width="1.0"/>
<circle cx="385.10" cy="379.30" r="2.1" fill="#c3c3c3"/>
<line x1="379.20" y1="394.70" x2="390.60" y2="394.70" stroke="#3f5bb5" stroke-width="1.0"/>
<circle cx="385.10" cy="394.70" r="2.1" fill="#3f5bb5"/>
<text x="396.70" y="382.90" font-size="11.0" text-anchor="start" fill="#1e1e1e">A20<tspan font-size="6.0" dy="-4.6">+/+</tspan></text>
<text x="396.70" y="398.00" font-size="11.0" text-anchor="start" fill="#1e1e1e">A20<tspan font-size="6.0" dy="-4.6">-/-</tspan></text>
<line x1="545.60" y1="312.10" x2="545.60" y2="399.70" stroke="#222" stroke-width="1"/>
<text x="541.70" y="402.70" font-size="8.4" text-anchor="end" fill="#1e1e1e">0</text>
<line x1="543.60" y1="399.70" x2="545.60" y2="399.70" stroke="#222" stroke-width="0.8"/>
<text x="541.70" y="385.18" font-size="8.4" text-anchor="end" fill="#1e1e1e">20</text>
<line x1="543.60" y1="382.18" x2="545.60" y2="382.18" stroke="#222" stroke-width="0.8"/>
<text x="541.70" y="367.66" font-size="8.4" text-anchor="end" fill="#1e1e1e">40</text>
<line x1="543.60" y1="364.66" x2="545.60" y2="364.66" stroke="#222" stroke-width="0.8"/>
<text x="541.70" y="350.14" font-size="8.4" text-anchor="end" fill="#1e1e1e">60</text>
<line x1="543.60" y1="347.14" x2="545.60" y2="347.14" stroke="#222" stroke-width="0.8"/>
<text x="541.70" y="332.62" font-size="8.4" text-anchor="end" fill="#1e1e1e">80</text>
<line x1="543.60" y1="329.62" x2="545.60" y2="329.62" stroke="#222" stroke-width="0.8"/>
<text x="541.70" y="315.10" font-size="8.4" text-anchor="end" fill="#1e1e1e">100</text>
<line x1="543.60" y1="312.10" x2="545.60" y2="312.10" stroke="#222" stroke-width="0.8"/>
<line x1="545.60" y1="399.70" x2="662.40" y2="399.70" stroke="#222" stroke-width="1"/>
<line x1="545.60" y1="399.70" x2="545.60" y2="402.20" stroke="#222" stroke-width="0.8"/>
<text x="545.60" y="411.70" font-size="9.8" text-anchor="middle" fill="#1e1e1e">0</text>
<line x1="584.20" y1="399.70" x2="584.20" y2="402.20" stroke="#222" stroke-width="0.8"/>
<text x="584.20" y="411.70" font-size="9.8" text-anchor="middle" fill="#1e1e1e">1</text>
<line x1="622.90" y1="399.70" x2="622.90" y2="402.20" stroke="#222" stroke-width="0.8"/>
<text x="622.90" y="411.70" font-size="9.8" text-anchor="middle" fill="#1e1e1e">2</text>
<line x1="661.90" y1="399.70" x2="661.90" y2="402.20" stroke="#222" stroke-width="0.8"/>
<text x="661.90" y="411.70" font-size="9.8" text-anchor="middle" fill="#1e1e1e">3</text>
<polyline points="545.60,329.62 584.20,330.06 622.90,335.75 661.90,344.07" fill="none" stroke="#c3c3c3" stroke-width="1.0"/>
<line x1="545.60" y1="326.12" x2="545.60" y2="333.12" stroke="#c3c3c3" stroke-width="1.0"/>
<line x1="543.00" y1="326.12" x2="548.20" y2="326.12" stroke="#c3c3c3" stroke-width="1.0"/>
<line x1="543.00" y1="333.12" x2="548.20" y2="333.12" stroke="#c3c3c3" stroke-width="1.0"/>
<circle cx="545.60" cy="329.62" r="2.1" fill="#c3c3c3"/>
<circle cx="584.20" cy="330.06" r="2.1" fill="#c3c3c3"/>
<line x1="622.90" y1="333.12" x2="622.90" y2="339.26" stroke="#c3c3c3" stroke-width="1.0"/>
<line x1="620.30" y1="333.12" x2="625.50" y2="333.12" stroke="#c3c3c3" stroke-width="1.0"/>
<line x1="620.30" y1="339.26" x2="625.50" y2="339.26" stroke="#c3c3c3" stroke-width="1.0"/>
<circle cx="622.90" cy="335.75" r="2.1" fill="#c3c3c3"/>
<line x1="661.90" y1="341.01" x2="661.90" y2="347.14" stroke="#c3c3c3" stroke-width="1.0"/>
<line x1="659.30" y1="341.01" x2="664.50" y2="341.01" stroke="#c3c3c3" stroke-width="1.0"/>
<line x1="659.30" y1="347.14" x2="664.50" y2="347.14" stroke="#c3c3c3" stroke-width="1.0"/>
<circle cx="661.90" cy="344.07" r="2.1" fill="#c3c3c3"/>
<polyline points="545.60,331.37 584.20,333.12 622.90,333.56 661.90,339.26" fill="none" stroke="#3f5bb5" stroke-width="1.0"/>
<line x1="545.60" y1="325.24" x2="545.60" y2="337.50" stroke="#3f5bb5" stroke-width="1.0"/>
<line x1="543.00" y1="325.24" x2="548.20" y2="325.24" stroke="#3f5bb5" stroke-width="1.0"/>
<line x1="543.00" y1="337.50" x2="548.20" y2="337.50" stroke="#3f5bb5" stroke-width="1.0"/>
<circle cx="545.60" cy="331.37" r="2.1" fill="#3f5bb5"/>
<line x1="584.20" y1="323.49" x2="584.20" y2="342.76" stroke="#3f5bb5" stroke-width="1.0"/>
<line x1="581.60" y1="323.49" x2="586.80" y2="323.49" stroke="#3f5bb5" stroke-width="1.0"/>
<line x1="581.60" y1="342.76" x2="586.80" y2="342.76" stroke="#3f5bb5" stroke-width="1.0"/>
<circle cx="584.20" cy="333.12" r="2.1" fill="#3f5bb5"/>
<line x1="622.90" y1="328.74" x2="622.90" y2="338.38" stroke="#3f5bb5" stroke-width="1.0"/>
<line x1="620.30" y1="328.74" x2="625.50" y2="328.74" stroke="#3f5bb5" stroke-width="1.0"/>
<line x1="620.30" y1="338.38" x2="625.50" y2="338.38" stroke="#3f5bb5" stroke-width="1.0"/>
<circle cx="622.90" cy="333.56" r="2.1" fill="#3f5bb5"/>
<circle cx="661.90" cy="339.26" r="2.1" fill="#3f5bb5"/>
<text x="603.20" y="303.80" font-size="10.2" text-anchor="middle" fill="#1e1e1e">Healthy Lin- BM</text>
<text x="603.90" y="420.90" font-size="8.9" text-anchor="middle" fill="#1e1e1e">Days post treatment</text>
<text x="523.00" y="356.50" font-size="10.2" text-anchor="middle" fill="#1e1e1e" transform="rotate(-90 523.00 356.50)">Percent live cells</text>
<line x1="553.00" y1="376.00" x2="564.40" y2="376.00" stroke="#c3c3c3" stroke-width="1.0"/>
<circle cx="558.90" cy="376.00" r="2.1" fill="#c3c3c3"/>
<line x1="553.00" y1="391.40" x2="564.40" y2="391.40" stroke="#3f5bb5" stroke-width="1.0"/>
<circle cx="558.90" cy="391.40" r="2.1" fill="#3f5bb5"/>
<text x="570.50" y="379.60" font-size="11.0" text-anchor="start" fill="#1e1e1e">A20<tspan font-size="6.0" dy="-4.6">+/+</tspan></text>
<text x="570.50" y="394.70" font-size="11.0" text-anchor="start" fill="#1e1e1e">A20<tspan font-size="6.0" dy="-4.6">-/-</tspan></text>
<text x="4.20" y="467.50" font-size="16.3" text-anchor="start" fill="#1e1e1e">E</text>
<text x="89.60" y="466.80" font-size="10.3" text-anchor="middle" fill="#1e1e1e">Healthy Lin- BM</text>
<text x="164.40" y="466.80" font-size="10.3" text-anchor="middle" fill="#1e1e1e">MLL-AF9</text>
<text x="242.10" y="466.80" font-size="10.3" text-anchor="middle" fill="#1e1e1e">shp53;KRAS<tspan font-size="6.2" dy="-4">G12V</tspan></text>
<text x="314.00" y="466.80" font-size="10.3" text-anchor="middle" fill="#1e1e1e">MN1</text>
<text x="353.00" y="516.60" font-size="10.8" text-anchor="start" fill="#1e1e1e">A20<tspan font-size="6.1" dy="-4.1">+/+</tspan></text>
<text x="353.00" y="585.80" font-size="10.8" text-anchor="start" fill="#1e1e1e">A20<tspan font-size="6.1" dy="-4.1">-/-</tspan></text>
<text x="43.80" y="543.30" font-size="10.8" text-anchor="middle" fill="#1e1e1e" transform="rotate(-90 43.80 543.30)">7-AAD</text>
<text x="200.50" y="633.00" font-size="10.6" text-anchor="middle" fill="#1e1e1e">AnnexinV</text>
<line x1="51.50" y1="477.50" x2="51.50" y2="618.60" stroke="#333" stroke-width="1.0"/>
<line x1="51.50" y1="618.60" x2="343.80" y2="618.60" stroke="#333" stroke-width="1.0"/>
<g filter="url(#fblur)">
<path d="M104.5 499.6h.8m-.5-.1h.8m-4.3 1.3h.8m18.8 .5h.8m-11.6 .3h.8m-13.1 1.2h.8m13.5 .2h.8m-8.4 .9h.8m6.8-.4h.8m4.1 .2h.8m-34 .8h.8m25.1-.2h.8m-7.3 .9h.8m-.4-.1h.8m3.5-.1h.8m2.2-.2h.8m3.2 .5h.8m.5 .2h.8m-33.4 .4h.8m11.2 .4h.8m-.1 0h.8m4.8-.1h.8m-.4-.6h.8m.3 .5h.8m2.5 .2h.8m-.7-.6h.8m0 .3h.8m1-.4h.8m2.1 .3h.8m-31.3 .5h.8m14.5 .1h.8m1.6 .3h.8m4.1 .1h.8m-.1 .2h.8m-.4-.4h.8m.5 .2h.8m7.2 .1h.8m-22.4 .2h.8m6.5 .2h.8m.1-.1h.8m2.5 .1h.8m-.3-.2h.8m4.9 .7h.8m.1 0h.8m4.5-.1h.8m-31.4 .3h.8m6.2-.1h.8m10.9 .3h.8m.2-.1h.8m-.3 .2h.8m.5-.2h.8m1 .1h.8m3.5-.3h.8m-.4 .2h.8m-32.6 1.2h.8m6.8-.1h.8m6.8-.3h.8m.6 .4h.8m.1-.4h.8m.6 .2h.8m.1-.2h.8m-.5 .1h.8m2.2 .2h.8m.2-.5h.8m-.1 0h.8m.8 .5h.8m2-.5h.8m2.3 0h.8m-.8 .1h.8m-27.4 1h.8m10.1-.1h.8m2.4-.1h.8m.5 .1h.8m0 0h.8m.7-.2h.8m1.9 .3h.8m8.9 0h.8m-20.2 1.2h.8m-.1-.7h.8m.8 .5h.8m1.5-.4h.8m-.6 .3h.8m.4 .2h.8m1.2 .1h.8m2.2-.7h.8m-.1 .2h.8m-.3 0h.8m3.1 .2h.8m-.7-.3h.8m1.2 .3h.8m.2-.3h.8m-19.6 1.3h.8m-.4 .1h.8m-.5-.2h.8m.6 0h.8m.4-.3h.8m2.9 .4h.8m-.1-.6h.8m.6 .6h.8m1.7-.6h.8m2.7 .6h.8m2.3-.2h.8m-18.6 .5h.8m0 .6h.8m.2 0h.8m-.8-.1h.8m.6-.2h.8m.4-.3h.8m3.6 .3h.8m.5-.1h.8m.5 .4h.8m.8-.2h.8m2.4-.5h.8m-26.1 1.5h.8m4.9-.4h.8m2.8-.2h.8m.2 .5h.8m3.8-.6h.8m-.6 .4h.8m1.3-.2h.8m-.4 .5h.8m.2-.6h.8m.1-.1h.8m.2 .7h.8m-30.8 .1h.8m16.7 .1h.8m2.1 .1h.8m1 .5h.8m-.2-.7h.8m-.6 .6h.8m1.8-.1h.8m-.5 .1h.8m.5-.2h.8m-.5-.2h.8m0 .3h.8m.2-.4h.8m-.5 .1h.8m.4 .2h.8m.4-.3h.8m2.3 .5h.8m-36.7 .3h.8m16.2 .4h.8m2-.1h.8m.8-.3h.8m.8 .1h.8m-.3 0h.8m1.1 .5h.8m-.2-.7h.8m1.1 0h.8m-.3 .3h.8m.9-.2h.8m-.3 .5h.8m-.5 0h.8m6.3-.3h.8m-27.6 .7h.8m-.6-.2h.8m2.7 0h.8m5.5 .7h.8m0-.7h.8m2 .6h.8m.5 0h.8m1.5-.3h.8m1.9-.3h.8m.1 .3h.8m.4-.1h.8m.1 .4h.8m.7-.2h.8m-.6 0h.8m.6-.4h.8m.5 .3h.8m-23.3 1.2h.8m1.1-.2h.8m-.4-.2h.8m2-.3h.8m2.8 .3h.8m.1 .3h.8m.1 0h.8m1.3-.2h.8m-.4-.2h.8m-.7-.2h.8m-.4 .7h.8m0-.4h.8m5-.3h.8m1.3 0h.8m-39.6 1.2h.8m2.8 .2h.8m12.2 0h.8m.1-.6h.8m2.5 .5h.8m1.1 .2h.8m0-.3h.8m-.5 .1h.8m0-.3h.8m-.4 0h.8m0 .2h.8m.3-.3h.8m1.1 .6h.8m-.3-.5h.8m.1-.1h.8m-.6 .4h.8m-.5 .2h.8m-.2 0h.8m-.5-.2h.8m.5 0h.8m.9 0h.8m-.8-.3h.8m1 .2h.8m.8 0h.8m-19.2 .7h.8m-.6-.2h.8m.1 .1h.8m-.1-.2h.8m0 .4h.8m-.2 .3h.8m-.1-.2h.8m1.9 .2h.8m.1-.6h.8m-.5 .3h.8m-.8-.4h.8m-.7 .1h.8m-.7 .1h.8m-.5 .5h.8m.6-.3h.8m-.3-.3h.8m1.6 .5h.8m.4-.2h.8m.5-.1h.8m.4 .3h.8m-.1 0h.8m-.6 .1h.8m.4 0h.8m.9-.3h.8m-20.1 .4h.8m-.5 .5h.8m-.5-.5h.8m.7 0h.8m.4 .1h.8m-.5 .2h.8m-.8 .2h.8m1-.1h.8m-.3-.2h.8m-.4 .4h.8m1 0h.8m-.5 .1h.8m.6-.1h.8m-.7-.4h.8m-.3-.2h.8m.1 .4h.8m1.3 .2h.8m-.4-.2h.8m-.5-.1h.8m-15 .8h.8m4-.3h.8m.5 .3h.8m-.4 0h.8m-.5 .4h.8m-.2-.5h.8m-.2 .3h.8m-.7-.3h.8m-.8 .2h.8m1.1 .3h.8m.3-.1h.8m-.7-.2h.8m-.2 0h.8m.1-.4h.8m2.2 .7h.8m2.1-.5h.8m0 .2h.8m-23.8 .4h.8m3.3 .6h.8m.2-.2h.8m1.4-.4h.8m.1 .5h.8m-.5-.5h.8m-.7 .2h.8m-.2 0h.8m.3 0h.8m-.7 .3h.8m.4 .1h.8m-.7-.3h.8m-.7 .4h.8m-.5-.1h.8m-.2-.2h.8m-.6-.4h.8m-.5 .1h.8m-.2 .4h.8m-.6 .2h.8m-.8 0h.8m-.3-.3h.8m0 .2h.8m.4-.6h.8m-.4 .1h.8m1.8 .4h.8m-19.3 .9h.8m2.2-.5h.8m1.4 .4h.8m0-.4h.8m.1 .5h.8m-.7-.4h.8m-.5 .5h.8m.2-.5h.8m.2-.2h.8m-.7 .6h.8m.3-.2h.8m.2 .2h.8m-.6 .1h.8m.5-.1h.8m-.8-.1h.8m-.4-.2h.8m2 .1h.8m.4 .1h.8m.6-.3h.8m-.5 .5h.8m-.3-.1h.8m.2-.6h.8m-.1 .3h.8m-27.3 1.2h.8m2.5-.5h.8m4 0h.8m.3-.2h.8m1.1 .5h.8m.8-.2h.8m-.3 0h.8m-.8 0h.8m-.7 .4h.8m-.6-.2h.8m.1-.1h.8m-.7-.2h.8m-.5 .3h.8m-.3 0h.8m-.7 0h.8m-.8-.3h.8m-.5 .5h.8m-.6-.4h.8m-.3 .3h.8m.9-.6h.8m-.5 0h.8m-.1 0h.8m-.6 .6h.8m-.6-.5h.8m-.8 .4h.8m2.1-.3h.8m-.5 .2h.8m-46.7 1.1h.8m.5-.1h.8m4.9-.5h.8m5.8 .4h.8m7.9 0h.8m6-.3h.8m2 0h.8m-.8 .5h.8m-.4-.3h.8m.2 .1h.8m.8 0h.8m-.6 0h.8m-.2-.5h.8m-.2 0h.8m-.3 .2h.8m-.3 .3h.8m.1-.5h.8m-.2 .3h.8m-.6 0h.8m-.4-.2h.8m-.1 .5h.8m.9-.1h.8m.1 0h.8m-.5-.2h.8m-.5-.1h.8m-.3-.2h.8m-.7 .7h.8m-.2-.6h.8m.7 .2h.8m-.2 .4h.8m-.4-.3h.8m1.1-.1h.8m-.7 .1h.8m-.3 .1h.8m-35.6 .3h.8m.9 0h.8m-.7 .4h.8m1.5 .1h.8m-.7 0h.8m-.1 0h.8m-.1-.1h.8m-.1 .2h.8m-.2-.3h.8m-.4 .1h.8m-.7 .3h.8m-.4-.2h.8m-.1-.1h.8m-.7 0h.8m-.1 .2h.8m-.2 .1h.8m-.3-.1h.8m-.3-.3h.8m.4 0h.8m-.6-.1h.8m-.5 .3h.8m-.6 0h.8m-.5-.4h.8m-.4 .3h.8m.6-.2h.8m-.8 .2h.8m-.5 0h.8m0 .1h.8m1.7 .2h.8m-.7-.1h.8m-.7-.5h.8m-.7 .3h.8m-.3 .2h.8m-.5-.4h.8m-.6 .4h.8m-.8-.2h.8m-.4 .1h.8m-.2-.4h.8m-.8 0h.8m.4-.1h.8m-.6 .4h.8m-.2-.4h.8m-.7 .1h.8m-.8 .3h.8m1-.2h.8m-.3 .4h.8m-.5-.3h.8m0 .1h.8m-.3-.3h.8m-.4 0h.8m-.5 .4h.8m-.7-.5h.8m-.5 .2h.8m-.6-.2h.8m-.3 .3h.8m-.7-.2h.8m-.1 .5h.8m-.7 .1h.8m-.8-.1h.8m.7-.4h.8m-.4 .4h.8m-.2-.4h.8m.2-.1h.8m.5-.1h.8m.5 .7h.8m0-.5h.8m-53.2 1.1h.8m.8-.1h.8m-.8 0h.8m-.5-.2h.8m-.5 .2h.8m16.6 0h.8m0-.3h.8m-.1 .1h.8m.2 .3h.8m-.6-.2h.8m-.3-.1h.8m-.7 .3h.8m-.7-.5h.8m.3 .3h.8m-.4 0h.8m-.5 .3h.8m-.6-.1h.8m-.7-.1h.8m-.5 .1h.8m-.7-.4h.8m-.5 .1h.8m-.4 .4h.8m-.3-.5h.8m.1-.1h.8m-.8 .3h.8m-.8 0h.8m-.6-.1h.8m2.1 0h.8m-.7 .3h.8m.6-.3h.8m-.7 .1h.8m-.8-.2h.8m-.5 .2h.8m-.7 .2h.8m1.1-.4h.8m-.6 .2h.8m-.4 .4h.8m-.5-.3h.8m-.5-.4h.8m-.7 .7h.8m-.5-.4h.8m-.8 .4h.8m-.8-.4h.8m-.3-.1h.8m-.7-.1h.8m-.5 .1h.8m-.7-.2h.8m-.5 .3h.8m-.3 .4h.8m-.4-.1h.8m-.6-.1h.8m.1 0h.8m-.1-.3h.8m-.8-.1h.8m-.3 .3h.8m-.5-.4h.8m-.6 .5h.8m-.8-.1h.8m-.7-.3h.8m-.5 .4h.8m-.8 .2h.8m-.3-.7h.8m-.1 .1h.8m-.1-.1h.8m-.7 .7h.8m.9-.3h.8m-.8-.4h.8m-.6 .3h.8m-.5 0h.8m-.7 .1h.8m-.7-.2h.8m-.5 .1h.8m-.4-.1h.8m-.7 .1h.8m-.3 .3h.8m-.2-.4h.8m-.7-.2h.8m-.4 .7h.8m-.5-.6h.8m-.5 .4h.8m0 .1h.8m-.2-.2h.8m0 .3h.8m-55 .7h.8m2.5-.5h.8m.7 .2h.8m17.9 .3h.8m-.2-.3h.8m-.8-.1h.8m-.8-.1h.8m-.3-.1h.8m-.8 .1h.8m-.6 .2h.8m-.7 .2h.8m-.5-.3h.8m0 0h.8m-.8 .1h.8m-.7-.1h.8m-.1 .4h.8m0-.6h.8m-.6 .1h.8m0 .5h.8m-.4-.4h.8m-.8 .1h.8m-.6 0h.8m-.4 0h.8m-.6-.3h.8m-.5 .2h.8m-.6 .4h.8m-.8-.4h.8m-.6 .1h.8m0 .1h.8m-.8 .1h.8m-.7-.4h.8m-.8 .1h.8m-.3 .2h.8m-.8-.4h.8m-.8 .1h.8m-.6 .3h.8m-.5-.2h.8m-.4-.1h.8m-.7-.1h.8m-.1 .6h.8m-.8-.5h.8m-.1 .3h.8m-.6-.2h.8m-.8 .4h.8m-.4 0h.8m-.7-.6h.8m1.4 0h.8m-.5 .3h.8m-.7 .3h.8m0-.1h.8m1.1 .1h.8m-.6-.3h.8m-.3 .3h.8m-.6-.1h.8m-.8-.1h.8m2-.3h.8m-.7 0h.8m-.1 .5h.8m-.7-.4h.8m-.1 .4h.8m-.7-.3h.8m-.2 .1h.8m-.7-.2h.8m-.7-.2h.8m-.7 .1h.8m-.7 0h.8m0 .2h.8m-.1 0h.8m-.8 .3h.8m-.1-.2h.8m-.6-.2h.8m0-.1h.8m-.2 .3h.8m-.4 .1h.8m-.2-.5h.8m-.2 .7h.8m-.5-.2h.8m1.2-.2h.8m-52.7 .6h.8m.3-.1h.8m.2 .2h.8m-.8 .1h.8m16.3 0h.8m-.7 .4h.8m-.8-.4h.8m-.7-.3h.8m0 .6h.8m-.1-.5h.8m-.6 .5h.8m-.8-.5h.8m-.5 .1h.8m-.1-.1h.8m-.4 0h.8m-.4 .2h.8m-.2-.2h.8m-.6 0h.8m.1-.1h.8m1 .4h.8m-.4-.2h.8m-.5 .4h.8m-.5-.2h.8m-.4-.3h.8m-.3 .3h.8m-.3-.1h.8m-.7 .1h.8m-.6 0h.8m-.2 .1h.8m-.5-.4h.8m-.3 0h.8m.6 .6h.8m-.2-.7h.8m-.7 .2h.8m.2-.2h.8m-.8 .1h.8m.4 0h.8m-.5 .4h.8m-.1 .2h.8m-.3-.3h.8m.6 .2h.8m-.7 .1h.8m0-.3h.8m-.6 0h.8m0 .1h.8m-.6-.4h.8m-.5 .1h.8m-.4-.2h.8m-.3 .3h.8m-.4-.1h.8m-.4 .4h.8m-.8-.4h.8m-.1 .4h.8m-.8-.1h.8m-.5 0h.8m-.5 .1h.8m-.7-.6h.8m.9 .7h.8m.3-.7h.8m.1 .6h.8m-.8-.1h.8m0 .1h.8m-.4-.1h.8m-.6 0h.8m-.4-.1h.8m-.5-.3h.8m-.6 0h.8m-.7 .5h.8m2.4 0h.8m-48.9 .3h.8m9.5 .1h.8m.7 0h.8m-.5 .2h.8m.1 .1h.8m.2-.2h.8m3.1-.3h.8m1 .6h.8m-.2-.5h.8m-.5 .6h.8m-.4-.5h.8m.3 .5h.8m1.1-.7h.8m-.6 .1h.8m-.5 .4h.8m.2 .1h.8m.5 0h.8m-.2-.3h.8m-.8 0h.8m2.9-.2h.8m1.1 .6h.8m.4-.1h.8m.3-.1h.8m-.7-.4h.8m-.3 .6h.8m-.7-.3h.8m-.6-.3h.8m-.4 .1h.8m-.3 .3h.8m1.3-.1h.8m-.3 .3h.8m-.3-.2h.8m.4-.1h.8m1.9-.4h.8m-.8 .5h.8m-.1-.2h.8m-.2-.1h.8m-42.9 1.2h.8m1-.2h.8m16.5-.2h.8m-.7 .2h.8m3.8-.2h.8m.2 .3h.8m3-.4h.8m-.7 .5h.8m2.6 0h.8m8.9 0h.8m-46.8 .4h.8m7.7 0h.8m35.6 .4h.8m-22.6 .4h.8m12.3 .6h.8" stroke="rgb(70, 100, 195)" stroke-width="0.8" stroke-opacity="0.55" fill="none"/>
<path d="M109.6 521.5h.8m-.7-.4h.8m-.9 .7h.8m-.5 .1h.8m-.6 .1h.8m-.8-.2h.8m-.7-.2h.8m-.6 .4h.8m-.3-.1h.8m-.5-.1h.8m-.8 .4h.8m-31.9 .9h.8m29.4-.7h.8m-.2 .2h.8m-.5-.2h.8m-41.5 1.5h.8m-.2-.1h.8m1.5-.4h.8m-.3-.2h.8m4.3 .1h.8m-.2 0h.8m-.4 .1h.8m-.1 .2h.8m4.5 .1h.8m-.5 0h.8m-.6 0h.8m13.8 .2h.8m-.5 0h.8m-32.1 .6h.8m-.7-.1h.8m-.4 .3h.8m-.6 0h.8m.1-.4h.8m-.8 .2h.8m10.3-.4h.8m-.7 0h.8m-.8 0h.8m-.3 .1h.8m-.4 0h.8m-.6 .2h.8m-.5 .2h.8m-.7-.5h.8m-.7 .3h.8m-.5 .2h.8m-.7-.2h.8m-.7-.4h.8m-.2 0h.8m-.7 .2h.8m-.8-.1h.8m-.6 .2h.8m-.7 .1h.8m-.7-.2h.8m-.7 .4h.8m-.8-.2h.8m.1 .1h.8m-.7-.1h.8m-.2 .3h.8m11.4 0h.8m-.7 0h.8m-.6 0h.8m-.6-.1h.8m-.4-.1h.8m-.6-.4h.8m-.4 .3h.8m-32 .7h.8m-.7-.3h.8m-.6 .3h.8m-.8-.1h.8m-.8 .2h.8m-.7 .3h.8m-.7 0h.8m-.7-.2h.8m-.8-.3h.8m-.8 .5h.8m14.8 0h.8m-.7-.2h.8m-.6-.3h.8m-.7-.1h.8m-.4-.1h.8m-.7 .1h.8m0 .4h.8m-.7-.3h.8m11.2 .3h.8m-.4-.3h.8m-.7 .2h.8m-.7 0h.8m-.4 .1h.8m-.4-.2h.8m-.8 .3h.8m-32.3 .4h.8m-.8 0h.8m-.3 .5h.8m-.6-.4h.8m-.8-.2h.8m12.3 .3h.8m-.8 0h.8m-.5-.3h.8m-.6-.1h.8m-.3 .1h.8m-.6 .3h.8m-.8-.2h.8m-.7 0h.8m-.8-.2h.8m-.1 .1h.8m-.8 0h.8m-16.6 .7h.8m-.6 .1h.8m1.5 .4h.8m-.2 0h.8m-.6 .1h.8m5.4 .1h.8m-.6-.2h.8m-.1-.4h.8m3.2-.1h.8m.3 .1h.8m-6.7 .7h.8" stroke="rgb(56, 91, 189)" stroke-width="0.8" stroke-opacity="0.55" fill="none"/>
<path d="M73.9 523h.8m-.1 .1h.8m.8 0h.8m-2.4 .5h.8m-.7-.1h.8m-.2 0h.8m-.5 .1h.8m-.8-.3h.8m-.2 0h.8m-.8 0h.8m-.6 .3h.8m-.6-.1h.8m-.8-.3h.8m.1 .3h.8m4 .4h.8m-11.1 .5h.8m-.7-.2h.8m-.6-.2h.8m-.8 .2h.8m-.7 .4h.8m-.8-.1h.8m-.4-.3h.8m8.4 0h.8m-.6 0h.8m-.8 .1h.8m-.5 0h.8m.4 .4h.8m.4-.1h.8m-.6 .1h.8m-.3 0h.8m-.6-.1h.8m-.3 .1h.8m-4.4 .1h.8m-.8 .6h.8m-.6-.6h.8m-.5 .5h.8m-.7-.3h.8m-.7-.1h.8m-.8 .1h.8m-.7-.1h.8m-.7 .3h.8m-.7 0h.8m-.8-.2h.8m-.6-.1h.8m-.7 .1h.8m-.4 .1h.8m-.7 .4h.8m-.7 0h.8m-.5-.1h.8m-.8-.5h.8m-.6 0h.8m-.7 .6h.8m-.7-.7h.8m-.6 .2h.8m-.8-.1h.8m-.6 .1h.8m-.7 .2h.8m-.7-.1h.8m-.6 .2h.8m-.6-.4h.8m-.8 .1h.8m-16 .9h.8m-.7 .3h.8m-.6-.1h.8m-.5 0h.8m-.8-.5h.8m9.2 .7h.8m-.5-.1h.8m-.8 .1h.8m-.7-.4h.8m-.8 .1h.8m-.7-.4h.8m-.5 .4h.8m-.7 0h.8m-.8 0h.8m-.6-.3h.8m-.6 .5h.8m-.6-.4h.8m-.6 .2h.8m-.8 0h.8m-10.2 .7h.8m-.6 .2h.8m-.6-.3h.8m-.8 .4h.8m4.3-.2h.8m2.4-.4h.8m-9.3 1h.8" stroke="rgb(44, 91, 186)" stroke-width="0.8" stroke-opacity="0.8" fill="none"/>
<path d="M80.7 523.8h.9m-.7 .1h.9m-.5-.3h.9m-10.4 1.1h.9m8.6-.3h.9m-.6-.3h.9m-.8 .5h.9m-.6 0h.9m-.7 0h.9m-.6 .1h.9m-12.4 .2h.9m-.8 .5h.9m-.8-.3h.9m-.7 .1h.9m-.8-.1h.9m-.8-.1h.9m-.7-.2h.9m-.8 .3h.9m-.9-.1h.9m-.2 .5h.9m8.1-.6h.9m-.8 .5h.9m-.9-.5h.9m-.8 .1h.9m-.8-.2h.9m-.8 .5h.9m-.9-.4h.9m-.8 .2h.9m-.9 0h.9m-.8-.1h.9m-.9-.1h.9m-.9 .5h.9m-.7-.3h.9m-11.2 .8h.9m-.9 .3h.9m-.8-.3h.9m-.9 .4h.9m-.6-.3h.9m7.4 0h.9m-.8-.2h.9m-.9-.2h.9m-.5 .2h.9m-.8-.1h.9m-.8 0h.9m-.9 .3h.9m-.8-.2h.9m-7.6 1.1h.9m-.5-.4h.9m.1 .5h.9m-.9-.3h.9m-.8 .4h.9m-.8-.3h.9m-.6 .2h.9m-.9-.3h.9m-.5-.2h.9m-.8 0h.9m-.3 .1h.9m-.8 0h.9m-.3 .4h.9m-.8-.2h.9m-1.8 .4h.9" stroke="rgb(42, 121, 196)" stroke-width="0.9" stroke-opacity="0.8" fill="none"/>
<path d="M73.1 523.6h.9m-.5 .2h.9m5.6 0h.9m-.4-.1h.9m-.8 0h.9m-8.9 1h.9m-.4-.5h.9m-.9-.1h.9m-.7 .4h.9m-.7-.3h.9m-.9 .2h.9m-.6 0h.9m-.8-.2h.9m-.9 .1h.9m-.9 0h.9m-.9 .2h.9m5-.5h.9m-.9 .2h.9m-.9 .2h.9m-.8-.4h.9m-.9 .5h.9m-.8-.3h.9m-.9 .1h.9m-.8 0h.9m-.5 .1h.9m-.9 0h.9m-.8 .1h.9m-9.3 .3h.9m-.9 .4h.9m-.9-.4h.9m-.8 .7h.9m-.8-.5h.9m-.9 0h.9m-.8-.1h.9m-.9 0h.9m-.8-.1h.9m-.9 0h.9m-.8 .5h.9m-.8-.5h.9m-.8 .2h.9m-.9 .1h.9m-.9-.3h.9" stroke="rgb(40, 150, 203)" stroke-width="0.9" stroke-opacity="1" fill="none"/>
<path d="M78.9 524.4h.9m-.9 .1h.9m-.9-.4h.9m-.7 0h.9m-.7 .1h.9m-.9-.2h.9m-.8 .2h.9m-.9-.2h.9m-.9 .2h.9m-.8 .4h.9m.3 .2h.9m-.8 .2h.9m-.8 .3h.9m-.9-.4h.9m-.9-.1h.9m-.8 .4h.9m-.9 0h.9m-.8 .1h.9m-.8-.4h.9m-.9 .1h.9m-.9 .3h.9m-.9-.2h.9m-.8-.3h.9m-.7 .1h.9m-.9-.1h.9m-.8 .3h.9m-9.5 .5h.9m-.9 .5h.9m-.8 .1h.9m-.8 0h.9m-.9-.3h.9m-.7 .3h.9m-.9-.3h.9m-.9 .2h.9m-.8-.2h.9m-.9-.2h.9m-.8 .4h.9m-.8 .2h.9m-.7-.4h.9m-.9-.2h.9m-.9 .5h.9m4.9-.5h.9m-.8 .6h.9m-.7-.4h.9m-.8 0h.9m-.7-.3h.9m-.8 .5h.9m-.8 .1h.9m-.8 .1h.9m-8 .2h.9m-.5 0h.9m4.9-.1h.9m-.4 0h.9m-.9 0h.9m-.6 0h.9" stroke="rgb(55, 170, 161)" stroke-width="0.9" stroke-opacity="1" fill="none"/>
<path d="M73.9 523.9h.9m-.5 0h.9m-.5-.1h.9m2.7-.1h.9m-5.8 1h.9m-.3-.2h.9m-.8-.3h.9m-.9-.1h.9m-.8 .4h.9m-.9 0h.9m-.9-.3h.9m2.7 .3h.9m-.8-.5h.9m-.8 .3h.9m-.9 0h.9m-.8 .1h.9m-.9-.3h.9m-.7 .2h.9m-.7-.1h.9m-.8 .3h.9m-.8-.1h.9m-.9-.4h.9m-6.6 .8h.9m-.8 0h.9m-.9 .1h.9m-.9 .4h.9m-.9-.2h.9m-.9 .4h.9m-.8-.5h.9m-.5 .3h.9m-.9 .2h.9m-.7-.7h.9" stroke="rgb(70, 190, 120)" stroke-width="0.9" stroke-opacity="1" fill="none"/>
<path d="M74.9 523.7h.9m-.1 .1h.9m.5-.1h.9m-.7 0h.9m-.8 .1h.9m-3.4 .3h.9m-.8 0h.9m-.9 .1h.9m-.8 .3h.9m-.9 0h.9m-.7-.3h.9m-.8 0h.9m-.8 .2h.9m-.9 0h.9m-.8-.3h.9m-.9 .4h.9m-.9-.4h.9m-.9-.1h.9m.3 .4h.9m-.8 .1h.9m-.7 .1h.9m-.8-.3h.9m-.9 0h.9m-.8 .2h.9m-.9-.1h.9m-.7 .1h.9m-.8-.4h.9m-.8 .2h.9m-.9-.2h.9m1.1 .6h.9m-.5 0h.9m-.8 0h.9m-.9 0h.9m-.8-.1h.9m-.7 .1h.9m-6.7 .8h.9m4.1-.3h.9m-.8 .2h.9m-.8-.1h.9m-.8-.5h.9m-.8 .4h.9m-.7 0h.9m-.9 .3h.9m-.8-.7h.9m-.9 .4h.9m-.9 .2h.9m-.8-.4h.9m-.8 .5h.9m-7.5 .3h.9m-.9-.2h.9m-.8 .2h.9m-.9 .1h.9m-.8-.3h.9m-.9 .4h.9m-.8 .3h.9m-.9-.6h.9m-.8-.1h.9m-.8 .4h.9m-.9-.2h.9m-.8-.1h.9m-.8 .4h.9m-.8-.4h.9m3 0h.9m-.7-.1h.9m-.9 .4h.9m-.8 0h.9m-.8-.2h.9m-.6-.2h.9m-.7 0h.9m-.9 .3h.9m-.9-.1h.9m-.9 0h.9m-.9-.1h.9m-.8 .1h.9m-.9 0h.9m-1.6 .7h.9m-.4-.1h.9m-.8 .1h.9" stroke="rgb(137, 203, 80)" stroke-width="0.9" stroke-opacity="1" fill="none"/>
<path d="M75.9 523.8h.9m-.5 0h.9m-.6-.2h.9m-1.4 .6h.9m-.9 .3h.9m-.8-.5h.9m-.9 .5h.9m-.8-.2h.9m-.9-.3h.9m-.9 .4h.9m-.9 0h.9m-.8 0h.9m-.8-.1h.9m-.9 .2h.9m-2.5 1.5h.9m-.9-.3h.9m-.8 .5h.9m-.8-.6h.9m-.8 .3h.9m-.8 0h.9m-.9 .2h.9m-.9-.1h.9m-.8-.1h.9m-.9 .1h.9m-.8 0h.9m-.8-.2h.9m-.9 0h.9m-.8-.1h.9m-.8 .2h.9m-1.7 .5h.9m-.3 .1h.9" stroke="rgb(202, 211, 44)" stroke-width="0.9" stroke-opacity="1" fill="none"/>
<path d="M74.3 524.7h.9m-.9 0h.9m-.7 0h.9m-.9 0h.9m3.4-.1h.9m-.7 .1h.9m-.5 0h.9m-6.4 .6h.9m-.9-.2h.9m-.8-.3h.9m-.9 .6h.9m-.9-.1h.9m-.8-.1h.9m-.9-.3h.9m-.9 .1h.9m-.8 .2h.9m-.9-.3h.9m-.8 .6h.9m-.9-.2h.9m-.7-.1h.9m-.9 0h.9m-.8-.3h.9m-.9-.1h.9m-.9 .4h.9m-.8-.1h.9m-.9-.2h.9m-.9-.1h.9m1.1 .7h.9m1.1-.7h.9m-.8 .4h.9m-.9 .1h.9m-.8-.2h.9m-.8-.2h.9m-.9 .6h.9m-.9-.5h.9m-.8 .3h.9m-.9 0h.9m-.8 .1h.9m-.9 .1h.9m-.8-.3h.9m-.9 0h.9m-.9 .3h.9m-.8 0h.9m-.8-.5h.9m-.9 .5h.9m-.9-.2h.9m-.8 .2h.9m-4.5 .7h.9m-.6-.3h.9m-.9 .2h.9m-.9 0h.9m-.9 .1h.9m-.9 .1h.9m-.8-.6h.9m-.9-.1h.9m-.7 .4h.9m-.8-.3h.9m-.8 0h.9m-.9 0h.9m-.9 .3h.9m-.8-.1h.9m-.8 .4h.9m-.8 0h.9m-.8-.4h.9m-.9 .3h.9m-.9-.4h.9m-.8 .1h.9m-.7-.1h.9m-.9 0h.9m-.9-.1h.9m-.9 .2h.9m-.8 .3h.9m-.9-.6h.9m-.9 .3h.9m-.8 .1h.9m-.9-.4h.9m-.9 .4h.9m-.9-.3h.9m-.9 .6h.9m-.9-.7h.9m-.9 .5h.9m-.8-.3h.9m-.9-.1h.9m-.9 0h.9m-.8 .3h.9m-.9-.3h.9m-.8 .3h.9m-.9-.2h.9m-.9-.2h.9m-.9 .2h.9m-.8 .3h.9m-.9-.4h.9m-.9 0h.9m-.7 .6h.9m-.8-.4h.9m-.9 .3h.9m-.9-.3h.9m-.9 .4h.9m-.8-.3h.9m-.8 .1h.9m-.9 .2h.9m-.8-.1h.9m-3.7 .2h.9m.4 .1h.9m-.1-.1h.9" stroke="rgb(228, 173, 32)" stroke-width="0.9" stroke-opacity="1" fill="none"/>
<path d="M75.1 524.7h.9m-.8-.1h.9m-.8 .1h.9m-.9-.1h.9m-.4 0h.9m-.9 .1h.9m.2-.1h.9m-.6 0h.9m-.9 0h.9m-.8 .1h.9m-.7-.1h.9m-.9 0h.9m-.8 0h.9m-.5 0h.9m-.9 .1h.9m-.8-.1h.9m-.6 .1h.9m-.8 0h.9m-4.5 .2h.9m-.9 .2h.9m-.9-.1h.9m-.8-.1h.9m-.9 .5h.9m-.7 .1h.9m-.8-.2h.9m-.9-.4h.9m-.8 .2h.9m-.9-.1h.9m-.9 .3h.9m-.9 .2h.9m-.8-.4h.9m-.9 .2h.9m-.8 0h.9m-.9 .1h.9m-.9-.5h.9m-.9 .6h.9m-.9-.2h.9m-.9-.3h.9m-.9 .1h.9m-.8 0h.9m-.9 .3h.9m-.8-.4h.9m-.9 0h.9m-.9 .2h.9m.1 .2h.9m-.8-.4h.9m-.9 .5h.9m-.9-.4h.9m-.8-.3h.9m-.9 .2h.9m-.8 .4h.9m-.8-.1h.9m-.8-.4h.9m-.9 .6h.9m-.9-.7h.9m-.9 .1h.9m-.8 .4h.9m-.9-.2h.9m-.8 .3h.9m-.8-.2h.9m-.9-.2h.9m-.9 .3h.9m-.9-.2h.9m-.9-.3h.9m-.7 .5h.9m-.9 .1h.9m-.9 .1h.9m-.9-.4h.9m-.8 0h.9m-.7-.2h.9m-.9 .6h.9m-.9-.3h.9m-.9 .1h.9m-.8 0h.9m-.9-.3h.9m-.8 0h.9m-.9-.2h.9m-.9 .2h.9m-.8-.2h.9m-.8 .1h.9m-.9 .4h.9m-.9-.1h.9m-.9 .1h.9m-.8-.2h.9" stroke="rgb(230, 52, 25)" stroke-width="0.9" stroke-opacity="1" fill="none"/>
<path d="M76.2 524.6h.9m-.8 0h.9m-.9 .1h.9m-1.3 .5h.9m-.8 0h.9m-.9-.3h.9m-.9 .1h.9m-.8 0h.9m-.8 .1h.9m-.9 .1h.9m-.9-.2h.9m-.9 .4h.9m-.8-.5h.9m-.9 .2h.9m-.9 .3h.9m-.8-.5h.9m-.9 .6h.9m-.8 0h.9m-.9-.7h.9m-.8 0h.9m-.9 .5h.9m-.8 0h.9m-.8 0h.9m-.9-.4h.9" stroke="rgb(220, 30, 20)" stroke-width="0.9" stroke-opacity="1" fill="none"/>
</g>
<line x1="61.40" y1="477.10" x2="123.00" y2="477.10" stroke="#666" stroke-width="0.8"/>
<line x1="61.40" y1="477.10" x2="61.40" y2="539.10" stroke="#555" stroke-width="0.8"/>
<line x1="61.40" y1="539.10" x2="123.00" y2="539.10" stroke="#666" stroke-width="0.8"/>
<line x1="86.66" y1="477.10" x2="86.66" y2="539.10" stroke="#505050" stroke-width="0.8"/>
<line x1="61.40" y1="516.16" x2="123.00" y2="516.16" stroke="#505050" stroke-width="0.8"/>
<line x1="59.80" y1="483.30" x2="61.40" y2="483.30" stroke="#777" stroke-width="0.6"/>
<text x="59.4" y="484.2" font-size="3" fill="#666" text-anchor="end">10</text>
<line x1="59.80" y1="497.56" x2="61.40" y2="497.56" stroke="#777" stroke-width="0.6"/>
<text x="59.4" y="498.5" font-size="3" fill="#666" text-anchor="end">10</text>
<line x1="59.80" y1="515.54" x2="61.40" y2="515.54" stroke="#777" stroke-width="0.6"/>
<text x="59.4" y="516.4" font-size="3" fill="#666" text-anchor="end">10</text>
<line x1="59.80" y1="525.46" x2="61.40" y2="525.46" stroke="#777" stroke-width="0.6"/>
<text x="59.4" y="526.4" font-size="3" fill="#666" text-anchor="end">10</text>
<line x1="59.80" y1="534.76" x2="61.40" y2="534.76" stroke="#777" stroke-width="0.6"/>
<text x="59.4" y="535.7" font-size="3" fill="#666" text-anchor="end">10</text>
<ellipse cx="60.1" cy="525.1" rx="0.9" ry="1.2" fill="#111"/>
<line x1="66.33" y1="539.10" x2="66.33" y2="540.70" stroke="#777" stroke-width="0.6"/>
<text x="66.3" y="543.9" font-size="3" fill="#666" text-anchor="middle">10</text>
<line x1="74.95" y1="539.10" x2="74.95" y2="540.70" stroke="#777" stroke-width="0.6"/>
<text x="75.0" y="543.9" font-size="3" fill="#666" text-anchor="middle">10</text>
<line x1="84.81" y1="539.10" x2="84.81" y2="540.70" stroke="#777" stroke-width="0.6"/>
<text x="84.8" y="543.9" font-size="3" fill="#666" text-anchor="middle">10</text>
<line x1="103.90" y1="539.10" x2="103.90" y2="540.70" stroke="#777" stroke-width="0.6"/>
<text x="103.9" y="543.9" font-size="3" fill="#666" text-anchor="middle">10</text>
<line x1="118.69" y1="539.10" x2="118.69" y2="540.70" stroke="#777" stroke-width="0.6"/>
<text x="118.7" y="543.9" font-size="3" fill="#666" text-anchor="middle">10</text>
<ellipse cx="75.0" cy="540.1" rx="1.4" ry="0.8" fill="#111"/>
<g filter="url(#fblur)">
<path d="M178.7 491.8h.8m-5.9 4.9h.8m3.6 .7h.8m-.3 .8h.8m-.8-.5h.8m0 .1h.8m.1 .2h.8m-3.8 .8h.8m-.1 .2h.8m.7-.6h.8m-.3 .3h.8m3.4-.3h.8m-12.3 1.1h.8m4.5 .3h.8m-.2-.3h.8m1.3-.1h.8m-.2-.2h.8m-.7 .4h.8m.7 .2h.8m-9.2 .8h.8m-.4 0h.8m.2-.2h.8m.1 .2h.8m-.5-.3h.8m.7-.1h.8m.8-.2h.8m5.7 .2h.8m-.6-.1h.8m-26.4 1.1h.8m12.8-.4h.8m0 .4h.8m-.2 .3h.8m1.3-.5h.8m1.7 .1h.8m-.2 .1h.8m-.4-.2h.8m0 0h.8m2.4-.2h.8m-21.2 1.4h.8m9.4-.3h.8m-.5 .2h.8m-.5-.3h.8m.7-.1h.8m-.5 .1h.8m-.1 .3h.8m.1 0h.8m-.7-.5h.8m0 .4h.8m-.7 0h.8m0-.4h.8m-.3 .4h.8m-.8 .1h.8m-.4-.2h.8m-.2 .1h.8m-.4-.1h.8m-.8 .1h.8m-.6-.3h.8m.1 0h.8m-.3 .4h.8m0-.5h.8m-25.1 1h.8m11.1-.1h.8m1.5 .6h.8m-.2-.1h.8m.1-.6h.8m-.2 .6h.8m-.6-.2h.8m-.5-.1h.8m-.7-.2h.8m-.7 .3h.8m-.8-.2h.8m-.5 .2h.8m1.5-.1h.8m-.8 .3h.8m-.1 0h.8m0 .1h.8m.1-.1h.8m-.7-.6h.8m-10.4 1.3h.8m-.2 .1h.8m-.5-.2h.8m-.5-.3h.8m.4 .6h.8m-.6-.1h.8m0-.6h.8m3.7 .4h.8m-.7 0h.8m-.4 .1h.8m-.7 .2h.8m-.3-.6h.8m-.1-.1h.8m-18.6 1.2h.8m6.4 0h.8m.8-.4h.8m-.7 .1h.8m.1-.1h.8m-.4 .6h.8m-.1-.3h.8m-.2-.3h.8m-.6 .2h.8m-.7 .5h.8m3.7-.6h.8m-.7-.1h.8m-.7 .3h.8m-.3 .4h.8m-.1-.7h.8m-.4 .7h.8m-12.3 .2h.8m.4-.1h.8m-.8 0h.8m-.6 .1h.8m-.7-.1h.8m2.5 0h.8m-.4 .2h.8m-.7 .2h.8m-.8 0h.8m3.2-.2h.8m-.7 .5h.8m-.7-.3h.8m0-.3h.8m-.7 .4h.8m-.2-.5h.8m-.7 .3h.8m-.1-.3h.8m-15.5 1.2h.8m3.5-.1h.8m0 0h.8m.9 0h.8m-.7 0h.8m-.5 .1h.8m-.6 .2h.8m-.4 0h.8m4.7-.3h.8m0 .2h.8m0 .2h.8m1.5-.4h.8m-12.6 1.1h.8m-.5 0h.8m.6-.3h.8m-.4 0h.8m-.1 .2h.8m3.7-.5h.8m-.4 .4h.8m-.4-.2h.8m-.7 .5h.8m-17.7 .8h.8m7.1-.2h.8m-.2 0h.8m.4-.3h.8m-.2 .2h.8m-.6 .2h.8m0-.2h.8m0 .3h.8m-.8-.3h.8m3.4 .2h.8m1-.1h.8m-10.6 .7h.8m.1 .1h.8m.6-.4h.8m.9 .5h.8m-.6-.3h.8m-.7 0h.8m1.8 .1h.8m-.6 .1h.8m.1-.3h.8m-.2 .5h.8m-.6-.1h.8m-.3 0h.8m.1-.1h.8m-14.7 .4h.8m-.6 .6h.8m-.4 0h.8m.4-.3h.8m1-.2h.8m-.7-.2h.8m-.5 0h.8m-.1 0h.8m-.6 0h.8m-.8 .5h.8m-.5-.4h.8m-.8 .3h.8m-.3-.3h.8m-.7 .3h.8m-.2-.1h.8m.1 .4h.8m-.8-.6h.8m-.7 .5h.8m2.6-.1h.8m-.5-.5h.8m.4 .1h.8m-.6 .3h.8m3 0h.8m-15.7 .9h.8m.9-.5h.8m.2 .6h.8m-.6-.2h.8m-.8-.3h.8m-.2 .3h.8m-.2 0h.8m-.4-.3h.8m-.7 .4h.8m-.5 .2h.8m-.7-.2h.8m-.7-.3h.8m-.3 .4h.8m-.5-.2h.8m-.1 .1h.8m1 0h.8m-.5-.1h.8m-.5 .2h.8m-.2-.1h.8m.5 .1h.8m-11.3 .8h.8m-.5-.3h.8m1.1-.3h.8m-.4 .6h.8m-.2-.1h.8m-.4 .1h.8m-.5-.2h.8m-.6 .1h.8m-.8 .2h.8m0-.7h.8m.7 .5h.8m-.7-.4h.8m-.1-.1h.8m-.2 0h.8m-.6 .7h.8m.3-.2h.8m-12 .6h.8m.2-.2h.8m.8 .3h.8m-.2-.2h.8m1.1 0h.8m.1 0h.8m-.3 .5h.8m.7-.5h.8m.1-.2h.8m-.3 .4h.8m1-.2h.8m-.3-.1h.8m-.8 .4h.8m1.3-.5h.8m1.1 .3h.8m-.3 .1h.8m-16.8 1h.8m.3-.2h.8m.4-.2h.8m.1 .5h.8m.2 0h.8m-.8-.6h.8m2.7 .6h.8m-.1-.1h.8m-.8-.2h.8m.6-.1h.8m-.6-.1h.8m-.7-.2h.8m.1 .2h.8m.5 .2h.8m1.1 .1h.8m.1-.3h.8m-.5-.2h.8m-14.8 .9h.8m-.4-.1h.8m.7 .3h.8m-.6 .1h.8m-.5-.1h.8m-.5 .4h.8m0 0h.8m-.6-.4h.8m.4 .3h.8m-.6 0h.8m-.5 0h.8m-.6 0h.8m0-.4h.8m-.6 .1h.8m4.1-.3h.8m-.7 .7h.8m.8-.3h.8m-25.7 .4h.8m7.8 .2h.8m.1 0h.8m.6 .2h.8m.7-.3h.8m1.4 0h.8m-.8 .5h.8m-.7 .1h.8m.3-.6h.8m-.6 0h.8m.4 .6h.8m-.6-.5h.8m-.5 .1h.8m.6 .4h.8m-.4-.1h.8m-.2-.5h.8m.4 0h.8m.8 .6h.8m-.8-.2h.8m2.8-.4h.8m-18.8 1.4h.8m2.7-.4h.8m.7 .4h.8m.2-.2h.8m1.7 .1h.8m-.1 0h.8m-.5-.1h.8m-.6 .2h.8m-.1-.2h.8m-.7 .2h.8m0-.2h.8m-.2-.3h.8m-.6 .5h.8m.6-.3h.8m.8-.4h.8m2 0h.8m-20.1 .9h.8m2.7 0h.8m1.4 .4h.8m1 0h.8m-.6-.3h.8m-.8 0h.8m.9 .2h.8m-.8 .2h.8m.6-.1h.8m.4 .2h.8m-.5-.7h.8m-.7 .5h.8m.2-.1h.8m-.3-.2h.8m-.7-.1h.8m-.2 .6h.8m-.7-.1h.8m-.8-.3h.8m-.3 .4h.8m-.5-.5h.8m-.8 0h.8m-.5 .4h.8m1.3-.6h.8m-17.6 1.4h.8m1-.5h.8m2.8-.1h.8m.3 .5h.8m-.4-.4h.8m.1-.1h.8m-.2 .1h.8m-.4 .3h.8m.7 0h.8m.1 .2h.8m-.4 0h.8m.5 0h.8m4 0h.8m-18.3 .9h.8m3.1-.2h.8m.9-.5h.8m-.7 .3h.8m.5 .4h.8m-.3-.1h.8m.3-.1h.8m-.6 .2h.8m-.4-.6h.8m.3 .5h.8m.2-.5h.8m.1 .5h.8m-.8-.1h.8m.3-.3h.8m-.3 .3h.8m.2-.3h.8m-9.8 .6h.8m-.4 .4h.8m-.8 .2h.8m.3-.3h.8m-.8-.2h.8m-.6 .6h.8m-.7-.4h.8m-.3 .4h.8m.5-.4h.8m-.5 0h.8m-.4 .3h.8m-.4-.2h.8m-.5-.2h.8m-.8 .5h.8m.2-.7h.8m1.5 .5h.8m-.4-.1h.8m-.6-.4h.8m-.3 .3h.8m-.8-.2h.8m-.1 .2h.8m-.4 0h.8m-37.1 1.1h.8m-.8-.1h.8m17.1 .2h.8m1.6-.5h.8m3.6-.2h.8m.9 .5h.8m-.7 0h.8m-.7 0h.8m-.6-.1h.8m0-.3h.8m.3 .5h.8m-.4 .1h.8m-.1-.3h.8m1.7 0h.8m-.4 .1h.8m-.8-.4h.8m.9-.1h.8m-35.3 1.5h.8m-.4-.5h.8m.7 0h.8m10.7 .3h.8m3.2-.1h.8m3.2 .3h.8m1-.3h.8m.6 .3h.8m-.4-.1h.8m-.3 .1h.8m-.6-.5h.8m-.5 .2h.8m-.7-.3h.8m0 .5h.8m-.6-.4h.8m-.6 .5h.8m-.5-.6h.8m.4 .2h.8m.6 .2h.8m-.8 0h.8m-.5-.2h.8m-.2 0h.8m1.8 .4h.8m.4-.3h.8m-37.6 .8h.8m1.8 .2h.8m-.7-.3h.8m1.4 .1h.8m-.5-.3h.8m19-.1h.8m1.1 .3h.8m.3 .3h.8m-.6-.1h.8m-.4-.5h.8m.7 0h.8m-.5 .1h.8m-.6 .5h.8m-.4-.2h.8m-.8 .2h.8m-.5-.4h.8m.1 0h.8m.8 .2h.8m.3-.1h.8m-.5 0h.8m-.2 0h.8m.1 0h.8m-.2 .2h.8m-37.7 .8h.8m3-.2h.8m-.5 .2h.8m-.1 .2h.8m.6-.5h.8m2.2 .2h.8m9-.1h.8m.5-.2h.8m-.1 .6h.8m-.4-.3h.8m.5-.1h.8m-.7 .3h.8m.4-.5h.8m1.9 .2h.8m-.2-.2h.8m.9 .6h.8m-.7-.4h.8m-.6 .3h.8m-.8-.2h.8m-.2-.1h.8m.3 .3h.8m-.3-.1h.8m.4-.3h.8m-.3 .1h.8m-.5 0h.8m.3 .3h.8m1.3-.1h.8m-37.9 1h.8m-.4-.6h.8m4.3 .6h.8m-.4-.2h.8m-.2-.3h.8m8.9 .4h.8m2.7-.4h.8m1.6 .3h.8m2.5-.4h.8m.2 .6h.8m.2-.4h.8m-.2 .1h.8m-.3 .1h.8m-.5-.2h.8m-.8-.2h.8m-.7 .1h.8m.2 0h.8m.6 0h.8m-.2 .5h.8m-.5 0h.8m.6-.7h.8m-.6 .1h.8m-.8 .1h.8m.8 .3h.8m-29.6 .7h.8m1.5 .1h.8m-.6-.4h.8m-.1 .6h.8m3-.4h.8m-.4 .2h.8m-.7 .1h.8m-.5-.2h.8m.5 .1h.8m-.4-.3h.8m.8 0h.8m2.5 .5h.8m4-.3h.8m-.6-.2h.8m1.8 .2h.8m-.4-.2h.8m-.8 .2h.8m0-.2h.8m.8-.2h.8m-.6 .4h.8m2-.3h.8m.4 .3h.8m.7 .1h.8m-38.7 .8h.8m7.4 0h.8m-.3 0h.8m1.2-.5h.8m.7 .4h.8m-.8-.4h.8m.5 .2h.8m1.1 .3h.8m1.6 .2h.8m-.1-.1h.8m0-.4h.8m.1 .1h.8m-.8 .4h.8m-.6-.4h.8m-.7 0h.8m0-.2h.8m3 .6h.8m1.3-.1h.8m-.4-.5h.8m-.7 .3h.8m2 .2h.8m-.1 0h.8m.5-.5h.8m-.7 .6h.8m-.1 0h.8m.4 0h.8m-27.6 .6h.8m-.5-.4h.8m-.4 .4h.8m-.6-.5h.8m-.5 .7h.8m.5-.3h.8m-.5-.4h.8m-.7 .3h.8m.7-.1h.8m.3 .2h.8m-.4 .2h.8m.4 0h.8m.5-.3h.8m-.2 .4h.8m-.8-.7h.8m-.7 .1h.8m-.1 .3h.8m.6-.1h.8m-.6-.2h.8m-.4 .3h.8m1.2 .2h.8m2.3 0h.8m-.4-.5h.8m4.9 .3h.8m2.5 0h.8m0-.1h.8m.5-.3h.8m-.6 .2h.8m-.2-.1h.8m3.5 .2h.8m-33.4 .6h.8m-.2-.1h.8m-.5 .4h.8m.8 .1h.8m.3-.3h.8m-.4 .3h.8m-.6-.2h.8m2.9-.1h.8m.8 .5h.8m1.6 0h.8m.7-.2h.8m.2 0h.8m5-.4h.8m-.6 0h.8m-.6 .5h.8m-.7-.4h.8m1.3-.2h.8m1 .4h.8m-.2-.1h.8m-.1-.1h.8m2.2 .3h.8m-.7-.1h.8m-.7-.1h.8m-38 .6h.8m7.8 .2h.8m6-.2h.8m0 .2h.8m2.3 .1h.8m-.1 0h.8m-.8-.3h.8m-.8 .5h.8m-.5-.3h.8m.3 .1h.8m.3-.1h.8m-.8-.3h.8m2 .1h.8m3 .5h.8m-.2-.4h.8m1 .1h.8m0 .1h.8m.7-.1h.8m-34.1 .8h.8m-.8 0h.8m4.2 .4h.8m-.8-.5h.8m-.7 0h.8m-.6 .2h.8m2.4-.2h.8m1.2 .3h.8m1.3-.5h.8m1.5 .3h.8m-.3-.1h.8m2 .1h.8m.1-.3h.8m1.5 .7h.8m0-.7h.8m4 .5h.8m3.4-.3h.8m-.2 .5h.8m0-.6h.8m-.6 .5h.8m-.6 0h.8m-.2 .1h.8m0-.7h.8m-35.9 .9h.8m-.7-.1h.8m-.2 .6h.8m4.2-.3h.8m10.5 .3h.8m2.7 0h.8m6.6-.5h.8m2.2-.1h.8m-.7 .6h.8m-.7-.6h.8m-.8 .2h.8m-.6-.2h.8m3.7 .4h.8m-31.5 .9h.8m-.3-.5h.8m10.2 0h.8m9.4 .1h.8m.2-.1h.8m11.6 0h.8m-39.3 1.5h.8m-.1 0h.8m.6 0h.8m0-.7h.8m-.8 .3h.8m4.2-.2h.8m3.7-.1h.8m12.1 .2h.8m3.4 0h.8m1.5 0h.8m-33.1 1h.8m.7-.1h.8m-.5 .1h.8m-.2-.3h.8m-.8 .1h.8m-.2 .3h.8m0-.5h.8m15.6 .1h.8m8.7 .6h.8m-30.2 .1h.8m14.5 .4h.8m1.5-.3h.8m7.3 .1h.8m2 .3h.8m2.9-.1h.8m.6 .1h.8m-14.7 .6h.8m12.1-.1h.8m-9.3 .8h.8" stroke="rgb(70, 100, 195)" stroke-width="0.8" stroke-opacity="0.55" fill="none"/>
<path d="M178.9 502.7h.8m-.8-.3h.8m-.5 .6h.8m-.7-.1h.8m-.4-.3h.8m-.6 0h.8m-.7 0h.8m-.7 0h.8m-.8-.2h.8m-.5 .2h.8m-.7 .5h.8m-.7-.3h.8m-3.5 .7h.8m0 .2h.8m0 .2h.8m-.5-.3h.8m-.7-.1h.8m-.8 .3h.8m-.7-.4h.8m-.7 0h.8m-.6-.1h.8m-.1 .4h.8m-.7-.2h.8m-.4 .2h.8m-4.4 .7h.8m-.4 .1h.8m-.6-.4h.8m-.5 0h.8m-.8 0h.8m-.8 0h.8m-.6 .6h.8m0-.7h.8m-.8 0h.8m-.7 .7h.8m-.6-.6h.8m-.8 .3h.8m-.3-.1h.8m-.4-.3h.8m-.1 .3h.8m-5.4 1h.8m.5-.5h.8m-.3 .7h.8m-.5-.3h.8m-.2 0h.8m-.7-.1h.8m-.8-.3h.8m-.5 .6h.8m-.8 .1h.8m-.7-.3h.8m-.6-.4h.8m-.3 0h.8m-.7 .1h.8m-.6 .6h.8m-.5 0h.8m-5.5 .1h.8m-.7 .3h.8m-.5-.1h.8m-.3 .2h.8m-.7 .1h.8m-.6-.3h.8m-.7 .5h.8m-.8-.4h.8m-.3 .2h.8m-.8 0h.8m-.6-.3h.8m-.6 0h.8m-.7 .5h.8m-.7 0h.8m-.7-.2h.8m-.7-.1h.8m-.5-.2h.8m-.8-.1h.8m-.3 .3h.8m-.2 0h.8m-.4-.2h.8m-.7-.1h.8m-.8 .5h.8m-.7-.4h.8m-.8 .5h.8m-.7 0h.8m-4.5 .5h.8m-.7-.4h.8m-.8 .3h.8m-.5 .4h.8m-.6-.5h.8m-.4 .4h.8m-.6 .1h.8m-.7-.1h.8m-.3-.4h.8m-.3 0h.8m-.7 .3h.8m-.4 0h.8m-.6-.4h.8m-.7 .3h.8m-.8 0h.8m-.5 0h.8m-.7 .1h.8m-3.3 .8h.8m-.7 .2h.8m-.4-.3h.8m-.5-.1h.8m-.5 .1h.8m-.6-.4h.8m-.8 .2h.8m-.8-.1h.8m-.3 .4h.8m-.5-.2h.8m-.8 0h.8m-.1 .2h.8m-3.3 .9h.8m-.6 0h.8m-.8-.2h.8m0 .1h.8m.5-.5h.8m-2.7 1.3h.8m-.4-.2h.8m-.7 .2h.8m-.6-.3h.8m-.8-.2h.8m-.6 .3h.8m-.7 .1h.8m-.7-.4h.8m-2.6 .9h.8m-.7 .3h.8m-.5-.4h.8m-.6 .2h.8m-.8 .2h.8m-.7-.4h.8m-.6 .1h.8m-.6 .1h.8m-.8-.2h.8m-.7 .1h.8m-.5 .2h.8m-32.8 11.2h.8m-.7 0h.8m-.6-.3h.8m-.4 .7h.8m-.6-.2h.8m-.6-.3h.8m-.8 .3h.8m-.7-.3h.8m-.4-.2h.8m0 .7h.8m-4.4 .5h.8m1.9-.4h.8m-.5 0h.8m-3.7 .9h.8m-.4-.1h.8m3.4 1.1h.8m-.7 .3h.8m-.9 .7h.8m-.8-.4h.8m-.3 .3h.8m-.7 .1h.8m-.5-.4h.8m-7.1 1.4h.8m-.4 0h.8m4.6 0h.8m-.4-.3h.8m-1.6 1.1h.8m-5.3 1.4h.8m-.6 0h.8m2.7 .2h.8m-.7-.2h.8m-4.9 .7h.8m.7 .3h.8m-.6-.1h.8m-.7-.1h.8m-.5 .2h.8m-.5 0h.8m-.8-.2h.8m-.5 .1h.8m.5-.2h.8m-.6-.3h.8m-3.7 1.2h.8m-.3-.3h.8m-.8 0h.8m-.6-.1h.8m-.6 .4h.8m-.5-.2h.8m-.3 .2h.8m-.7-.2h.8m-.6 0h.8" stroke="rgb(56, 91, 189)" stroke-width="0.8" stroke-opacity="0.55" fill="none"/>
<path d="M151 521.8h.8m-.7 .3h.8m-.8-.2h.8m-.2 .2h.8m-4.6 .6h.8m2.5-.2h.8m-.5 .1h.8m-4.6 .7h.8m-.7 .2h.8m-1.3 3.1h.8m-.2 .6h.8m-.4 .4h.8m-.5 .3h.8m-.7-.1h.8m-.8-.2h.8m-.7 .3h.8m-1 .3h.8" stroke="rgb(44, 91, 186)" stroke-width="0.8" stroke-opacity="0.8" fill="none"/>
<path d="M148.5 522.1h.9m-.7 0h.9m-.9 .1h.9m-.8-.3h.9m-.8 .3h.9m-.9-.2h.9m-.9 0h.9m-1.5 .4h.9m-.8 .2h.9m-.6-.2h.9m-.8 0h.9m-.8 .2h.9m1.3 .3h.9m-.7 .1h.9m-.8-.2h.9m-5.2 1h.9m-.5-.1h.9m-.6 .1h.9m-.8 0h.9m-.9 0h.9m2.3-.5h.9m-.5 .3h.9m-5 .5h.9m-.9 .2h.9m-.7 0h.9m-.8 .3h.9m-.8-.2h.9m-.9 .2h.9m-.8-.5h.9m-.8 0h.9m-.9 .4h.9m-1.3 .4h.9m-.9 .4h.9m-.8-.3h.9m-.8 .4h.9m-.9-.1h.9m-.9-.4h.9m-.9-.1h.9m-1.2 1.3h.9m-.6-.1h.9m-.9-.3h.9m-.8 .1h.9m-.8 .1h.9m2.1 .9h.9m-.9 .2h.9m-.9-.2h.9m-.7 .2h.9m-2.8 .5h.9m-.8 0h.9m-.5 0h.9m-.9 0h.9m-.9 .2h.9m-.9-.1h.9m-.5 0h.9m-.8-.1h.9m-.8 .3h.9m-.9 0h.9m-.9-.1h.9m-.7 .1h.9m-.1-.5h.9m-2.9 1h.9m.2 .1h.9m-.8-.1h.9m-.9 .1h.9" stroke="rgb(42, 121, 196)" stroke-width="0.9" stroke-opacity="0.8" fill="none"/>
<path d="M149.9 522.2h.9m-.5-.2h.9m-.9-.3h.9m-.9 0h.9m-.8 .6h.9m-.8-.6h.9m-1.5 .7h.9m-.8 .1h.9m-.9-.1h.9m-.8 .2h.9m-.5-.1h.9m-.9 0h.9m-.9 .1h.9m-.7-.2h.9m-.7 1.4h.9m-.7 0h.9m-.7-.2h.9m-.7 .3h.9m-1.4 .5h.9m-.9 0h.9m-.9 .2h.9m-.8-.2h.9m-.8-.1h.9m-.8 .1h.9m-.9-.4h.9m-.9 .6h.9m-.8 .1h.9m-.9-.1h.9m-.9 0h.9m-.9 0h.9m-.8-.6h.9m-.8 .6h.9m-.7-.3h.9m-1.8 1.1h.9m-.8-.2h.9m-.4 .1h.9m-.7-.4h.9m-1.4 .7h.9m-.4 .7h.9m-.9-.2h.9m-.8-.5h.9m-.9 .6h.9m-.9-.3h.9m-1.8 .5h.9m-.6 0h.9" stroke="rgb(40, 150, 203)" stroke-width="0.9" stroke-opacity="1" fill="none"/>
<path d="M149.2 522.3h.9m-.7-.1h.9m-.8-.1h.9m-.7-.3h.9m-.9 .2h.9m-.9-.3h.9m-.8 .5h.9m-1.4 .2h.9m-.8 .1h.9m-2 4.3h.9m-.8 0h.9m-.8-.2h.9m-.8 .2h.9m-.8 .2h.9m-.8-.4h.9m-.8 .1h.9m-.9-.1h.9m-.9 0h.9m-.8 .3h.9m-1.3 .5h.9m-.7 0h.9" stroke="rgb(55, 170, 161)" stroke-width="0.9" stroke-opacity="1" fill="none"/>
<path d="M148.1 523.1h.9m-.9-.2h.9m-.9 .2h.9m-.6-.2h.9m-.8 .2h.9m-.8 0h.9m-.8 0h.9m-.9-.1h.9m-.9 .1h.9m-.8-.2h.9m-.8-.1h.9m-.9 .2h.9m-1.7 .3h.9m-.6 .2h.9m-.9 0h.9m-.9-.3h.9m-.6 .1h.9m-.9 .2h.9m-.7-.2h.9m.1 3.7h.9m-.8-.4h.9m-.8 .2h.9m-.9 .1h.9m-.8 0h.9m-.9 .1h.9m-.9 .1h.9m-.9-.3h.9m-.8 .1h.9m-.9-.1h.9m-.8-.1h.9m-.8 0h.9m-.8 0h.9m-.9 .1h.9m-.8 .3h.9m-.8-.1h.9m-.9 .1h.9m-.8-.1h.9m-1.5 .3h.9m-.8 .1h.9m-.6 0h.9" stroke="rgb(70, 190, 120)" stroke-width="0.9" stroke-opacity="1" fill="none"/>
<path d="M150.1 522.9h.9m-.8 .1h.9m-.9-.3h.9m-.7 0h.9m-.8 0h.9m-.8 0h.9m-.9 .3h.9m-.6 .1h.9m-1.6 .1h.9m-.8 .4h.9m-.9 0h.9m-.8-.4h.9m-.8 .2h.9m-.9 0h.9m-.8 0h.9m-3.3 2.6h.9m-.8 .2h.9m-.8-.3h.9m-.9-.2h.9m-.9 .4h.9m-.8 .1h.9m-.9-.2h.9m-.8 .3h.9m-.9-.4h.9m-.8-.2h.9m-.9 .3h.9m-.9 0h.9m-.8 .1h.9m-.8 .1h.9m-.8-.1h.9m-.9-.3h.9m-1.5 .6h.9m-.5 .1h.9m-.9-.1h.9m-.8 0h.9m-.7 .3h.9m-.9-.2h.9m-.9 .2h.9m-.5 .4h.9m-.8 0h.9m-.9-.3h.9m-.8-.3h.9m-.8 .6h.9m-.9-.5h.9m-.9 .1h.9m-.9 .3h.9m-.9 0h.9m-.8 0h.9m-1.4 .3h.9m-.8-.1h.9m-.8 .3h.9m-.8 0h.9m-.9-.2h.9" stroke="rgb(137, 203, 80)" stroke-width="0.9" stroke-opacity="1" fill="none"/>
<path d="M149.1 523.1h.9m-.8-.2h.9m-.8 .1h.9m-.9-.2h.9m-.8 .3h.9m-.8-.2h.9m-.8-.2h.9m-.9 .1h.9m-.9-.1h.9m-.9 0h.9m-.9 .2h.9m-.8 .1h.9m-.8-.2h.9m-.9 .1h.9m-.9 0h.9m-.8-.1h.9m-2.7 1h.9m-.6-.2h.9m-.9 .3h.9m-.8 0h.9m-.6-.1h.9m-.9-.2h.9m-.8 0h.9m-.8-.4h.9m-.9 .2h.9m-.6 .1h.9m-.9-.3h.9m-.9 0h.9m-.7 .3h.9m-.8-.3h.9m-.9 .4h.9m-.7-.3h.9m-.8 0h.9m-2.7 .8h.9m-.8 .3h.9m-.8-.1h.9m-.7 .1h.9m-.8-.4h.9m-.7 .6h.9m-.8-.1h.9m-.9 .1h.9m-.9-.2h.9m-.8-.4h.9m-1.7 .9h.9m-.9 .2h.9m-.7-.2h.9m-.9 .4h.9m-.9 .1h.9m-.8-.1h.9m-.7-.2h.9m-.9-.1h.9m-.8 .4h.9m-.9 .1h.9m-.9-.3h.9m-.8 .1h.9m-.9-.2h.9m-.9-.1h.9m.2 1.2h.9m-.8-.1h.9m-.9 .2h.9m-.9-.4h.9m-.9-.3h.9m-.8 .7h.9m-.9-.4h.9m-.9-.3h.9m-.8 .3h.9m-.9-.2h.9m-.9 .4h.9m-.8 .2h.9m-.8 0h.9m-.8 0h.9m-.9 0h.9m-.8 0h.9m-.8-.6h.9m-1.3 .7h.9m-.7 .1h.9m-.7 0h.9" stroke="rgb(202, 211, 44)" stroke-width="0.9" stroke-opacity="1" fill="none"/>
<path d="M150.3 523.9h.9m-.8-.1h.9m-.9 .1h.9m-.7-.1h.9m-.7 0h.9m-.8 .1h.9m-1.8 .4h.9m-.9 .4h.9m-.8-.6h.9m-.9 .1h.9m-.9-.1h.9m-.9 .2h.9m-.9-.2h.9m-.8 .6h.9m-.8-.5h.9m-.7 0h.9m-.9 .3h.9m-.8-.4h.9m-.9 0h.9m-.9 .2h.9m-.8-.2h.9m-.7 .2h.9m-1.8 1h.9m-.9 .1h.9m-.9-.6h.9m-.8 .5h.9m-.9-.1h.9m-.8 .2h.9m-.8-.4h.9m-.8 0h.9m-.8 .3h.9m-.9-.3h.9m-.9 0h.9m-.9-.1h.9m-.8 .3h.9m-.9-.3h.9m-.8 .1h.9" stroke="rgb(228, 173, 32)" stroke-width="0.9" stroke-opacity="1" fill="none"/>
<path d="M149.5 525.5h.9m-1.4 .4h.9m-.9 0h.9m-.8-.3h.9m-.7 .4h.9m-.9 0h.9m-.9 .2h.9m-.9-.1h.9m-.9 .2h.9m-.9-.3h.9m-.8-.2h.9m-.8 0h.9m-.9-.2h.9m-.9 .4h.9m-.8-.2h.9m-.9 .5h.9m-.9-.4h.9m-.9-.3h.9m-.8 .3h.9m-.9-.3h.9m-.9 .3h.9m-.8 .4h.9m-.9-.7h.9m-.8 0h.9m-1.6 .8h.9m-.8 .1h.9m-.4 0h.9m-.9-.1h.9" stroke="rgb(240, 122, 25)" stroke-width="0.9" stroke-opacity="1" fill="none"/>
<path d="M149 523.9h.9m-.7 0h.9m-.7-.3h.9m-.9 .1h.9m-.8 0h.9m-.6 0h.9m-.8-.1h.9m-1.8 .4h.9m-.9 .2h.9m-.9 .2h.9m-.8-.4h.9m-.7 .2h.9m-.9-.2h.9m-.9 .5h.9m-.9-.2h.9m-.9-.3h.9m-.8 .3h.9m-.9-.3h.9m-.8 .3h.9m-.7 .3h.9m-.8-.2h.9m-.9-.3h.9m-.8-.1h.9m-.9 .1h.9" stroke="rgb(230, 52, 25)" stroke-width="0.9" stroke-opacity="1" fill="none"/>
<path d="M149 524.7h.9m-.5 0h.9m-.8 0h.9m-.6 0h.9m-.9-.1h.9m-.9 .1h.9m-.8-.1h.9m-1.8 .3h.9m-.8 .4h.9m-.9 .1h.9m-.8-.1h.9m-.9-.3h.9m-.8 .2h.9m-.9-.3h.9m-.8 .4h.9m-.9 .2h.9m-.9-.6h.9m-.7 .3h.9m-.8-.4h.9m-.9 .5h.9m-.9-.5h.9m-.9 .2h.9m-.9-.1h.9m-.8 .4h.9m-.9 .2h.9m-.8-.2h.9m-.9 .1h.9" stroke="rgb(220, 30, 20)" stroke-width="0.9" stroke-opacity="1" fill="none"/>
</g>
<line x1="135.50" y1="477.10" x2="197.10" y2="477.10" stroke="#666" stroke-width="0.8"/>
<line x1="135.50" y1="477.10" x2="135.50" y2="539.10" stroke="#555" stroke-width="0.8"/>
<line x1="135.50" y1="539.10" x2="197.10" y2="539.10" stroke="#666" stroke-width="0.8"/>
<line x1="155.83" y1="477.10" x2="155.83" y2="539.10" stroke="#505050" stroke-width="0.8"/>
<line x1="135.50" y1="514.30" x2="197.10" y2="514.30" stroke="#505050" stroke-width="0.8"/>
<line x1="133.90" y1="483.30" x2="135.50" y2="483.30" stroke="#777" stroke-width="0.6"/>
<text x="133.5" y="484.2" font-size="3" fill="#666" text-anchor="end">10</text>
<line x1="133.90" y1="497.56" x2="135.50" y2="497.56" stroke="#777" stroke-width="0.6"/>
<text x="133.5" y="498.5" font-size="3" fill="#666" text-anchor="end">10</text>
<line x1="133.90" y1="515.54" x2="135.50" y2="515.54" stroke="#777" stroke-width="0.6"/>
<text x="133.5" y="516.4" font-size="3" fill="#666" text-anchor="end">10</text>
<line x1="133.90" y1="525.46" x2="135.50" y2="525.46" stroke="#777" stroke-width="0.6"/>
<text x="133.5" y="526.4" font-size="3" fill="#666" text-anchor="end">10</text>
<line x1="133.90" y1="534.76" x2="135.50" y2="534.76" stroke="#777" stroke-width="0.6"/>
<text x="133.5" y="535.7" font-size="3" fill="#666" text-anchor="end">10</text>
<ellipse cx="134.2" cy="525.1" rx="0.9" ry="1.2" fill="#111"/>
<line x1="140.43" y1="539.10" x2="140.43" y2="540.70" stroke="#777" stroke-width="0.6"/>
<text x="140.4" y="543.9" font-size="3" fill="#666" text-anchor="middle">10</text>
<line x1="149.05" y1="539.10" x2="149.05" y2="540.70" stroke="#777" stroke-width="0.6"/>
<text x="149.1" y="543.9" font-size="3" fill="#666" text-anchor="middle">10</text>
<line x1="158.91" y1="539.10" x2="158.91" y2="540.70" stroke="#777" stroke-width="0.6"/>
<text x="158.9" y="543.9" font-size="3" fill="#666" text-anchor="middle">10</text>
<line x1="178.00" y1="539.10" x2="178.00" y2="540.70" stroke="#777" stroke-width="0.6"/>
<text x="178.0" y="543.9" font-size="3" fill="#666" text-anchor="middle">10</text>
<line x1="192.79" y1="539.10" x2="192.79" y2="540.70" stroke="#777" stroke-width="0.6"/>
<text x="192.8" y="543.9" font-size="3" fill="#666" text-anchor="middle">10</text>
<ellipse cx="149.1" cy="540.1" rx="1.4" ry="0.8" fill="#111"/>
<g filter="url(#fblur)">
<path d="M244.9 496h.8m1.4 0h.8m2.5 .4h.8m-8.5 1.1h.8m2-.1h.8m9.7 .1h.8m-17.9 .2h.8m-.7 0h.8m.7 .5h.8m2-.1h.8m.3-.3h.8m6.8 .3h.8m-25.5 .6h.8m12.3-.1h.8m7.6 .3h.8m.9-.1h.8m-.4 0h.8m-14.3 .5h.8m3.3 .4h.8m11.4-.2h.8m.2 0h.8m4.4 .1h.8m-25.4 .9h.8m5.1-.4h.8m7.6 .5h.8m2-.1h.8m-.4 0h.8m.6-.3h.8m-22.3 .9h.8m3.9-.3h.8m-.1 .6h.8m4.8-.2h.8m-.7 .2h.8m.1-.1h.8m3.1-.4h.8m1.9-.1h.8m1.1 .6h.8m1.1-.3h.8m-.4 .1h.8m-25.8 .4h.8m-.3 .7h.8m8.1-.4h.8m-.5 .3h.8m-.7-.2h.8m3-.4h.8m1.7 .7h.8m-.8-.5h.8m2 .1h.8m1.5-.3h.8m-.3 .4h.8m1.9 .3h.8m-.7-.3h.8m-.1 0h.8m.8 .2h.8m-23.9 .8h.8m2.2 .1h.8m.3-.5h.8m.1 .3h.8m-.2-.1h.8m0-.1h.8m5.2 .2h.8m-.7 .1h.8m-.3-.2h.8m-.8-.1h.8m.9 0h.8m-.6 .2h.8m6.4 .2h.8m-11.2 .7h.8m.7-.3h.8m-.6 0h.8m1.8-.3h.8m-.6 .2h.8m-.4 .2h.8m-.5 .3h.8m-.4-.5h.8m-.7-.1h.8m.5 .4h.8m0 .1h.8m2-.2h.8m.5 .2h.8m-.3-.6h.8m-18.4 1.3h.8m1.4 .1h.8m.6-.6h.8m.2 .1h.8m-.7 .2h.8m0 .1h.8m.8-.4h.8m-.3 .4h.8m-.4-.2h.8m-.5 .2h.8m.2 .1h.8m-.8-.5h.8m-.7 .1h.8m.2 .1h.8m-.4 0h.8m.4 .5h.8m-.7-.7h.8m.1 .1h.8m3.1 .4h.8m-.7-.3h.8m-21.5 .6h.8m1 0h.8m-.6 .7h.8m-.1-.1h.8m3.5-.5h.8m-.8 .2h.8m-.6-.3h.8m.6 .1h.8m-.7 .2h.8m-.6-.1h.8m.3 0h.8m1.6-.2h.8m-.6 0h.8m-.4 .6h.8m0-.1h.8m-.4-.2h.8m.2 .4h.8m3.7 0h.8m-.1-.4h.8m-14.1 .9h.8m-.1-.2h.8m1.9 .5h.8m.3-.6h.8m.1 .1h.8m2.7-.2h.8m-.3 .5h.8m.4-.2h.8m-.3 .2h.8m-.2-.4h.8m4.3 .4h.8m-23.3 .8h.8m.4 .1h.8m1.4-.6h.8m1.4 .6h.8m-.4-.5h.8m-.7 .1h.8m.9 .4h.8m1 .1h.8m1.1-.3h.8m.9-.3h.8m5.9 .6h.8m-17 .6h.8m-.1-.1h.8m.4 0h.8m2.7 0h.8m-.1 .3h.8m.6 0h.8m1 0h.8m-23 .1h.8m13.2 .7h.8m1.1 0h.8m-.7-.5h.8m-.7 0h.8m-.6-.2h.8m-.6 .5h.8m-.8-.5h.8m.6 .4h.8m0 .3h.8m.6-.2h.8m.1-.2h.8m.3 .2h.8m.2 .1h.8m1.1-.2h.8m2.4 .3h.8m1.2-.3h.8m-18.8 .7h.8m0 .2h.8m.2-.4h.8m-.7-.1h.8m1.5 .5h.8m.3-.3h.8m.1 0h.8m-.7 .1h.8m.3 0h.8m-.7 .3h.8m0 0h.8m.3-.5h.8m.8 .4h.8m-.1-.4h.8m1.4-.1h.8m-24.3 1.3h.8m7.6 .2h.8m.6-.5h.8m1.9 .2h.8m0-.4h.8m.6 .1h.8m.7 .5h.8m1.1-.4h.8m.6-.1h.8m-.5 .5h.8m1.2-.4h.8m-.2 .4h.8m.9-.4h.8m0 .3h.8m-17.2 .4h.8m-.2 .4h.8m2.3-.4h.8m-.6-.1h.8m.8 0h.8m-.5 .4h.8m-.8-.3h.8m-.4 .2h.8m-.6-.1h.8m-.1 .5h.8m2.5-.3h.8m1.8-.4h.8m0 .2h.8m2.1 .3h.8m-29.6 .6h.8m2 .4h.8m2-.4h.8m-.7 .3h.8m4.3-.5h.8m.3-.1h.8m2.1 .1h.8m2.9 .4h.8m.2 .2h.8m-.1-.3h.8m1.6-.4h.8m.4 .2h.8m.7 .4h.8m.1-.1h.8m.7-.5h.8m1.6 .5h.8m-29.6 .7h.8m3.9 .2h.8m7.7-.2h.8m-.6-.4h.8m-.8 .2h.8m-.4 0h.8m2.7 0h.8m-.3 0h.8m-.5 .5h.8m1.8-.7h.8m1.6 0h.8m0 .7h.8m2.2-.7h.8m-.3 0h.8m.4 .3h.8m-18 .5h.8m0 .6h.8m1.4-.5h.8m0-.1h.8m.5 .6h.8m-.2-.2h.8m.4 .3h.8m.6-.3h.8m-.6-.1h.8m.7 0h.8m.2 .2h.8m1.3 .2h.8m-26.6 .8h.8m8.6-.5h.8m1 0h.8m5.3 .1h.8m-.7 0h.8m-.1-.3h.8m1 .7h.8m2.1-.5h.8m1.9 .5h.8m-.7-.3h.8m0-.4h.8m-.2 .6h.8m.2-.1h.8m-.3-.4h.8m-.5-.1h.8m3.9 .7h.8m-24.1 .7h.8m-.6-.1h.8m-.6-.4h.8m4.1 .5h.8m.5-.1h.8m.2-.2h.8m.7 .3h.8m1.4-.4h.8m1.7 .5h.8m.4-.5h.8m3 .2h.8m-18.5 1h.8m-.1-.3h.8m.6 .4h.8m1-.2h.8m1.5 .2h.8m.2-.6h.8m.9 .3h.8m.2-.3h.8m.7-.1h.8m.2 .3h.8m-.6 .4h.8m-.4-.5h.8m-.8 .4h.8m-.2-.5h.8m2 .1h.8m4.3-.1h.8m-22.1 1.4h.8m3.4-.7h.8m-.4 .1h.8m-.3 .3h.8m.4 0h.8m-.7-.2h.8m3.5 0h.8m-.8-.2h.8m1.1 .5h.8m.1 0h.8m.4-.5h.8m1 .5h.8m-22.2 .9h.8m.9-.6h.8m3.3 .3h.8m-.8-.2h.8m3.3 .6h.8m1 0h.8m-.1-.2h.8m.3 .2h.8m1-.7h.8m.2 .1h.8m-.8 .2h.8m2.5-.3h.8m.3 .2h.8m-.2 .1h.8m-.7 .4h.8m-18.2 .7h.8m1.7 .1h.8m.8-.1h.8m.1-.1h.8m-.8 .1h.8m1.1-.3h.8m-.5-.2h.8m4.4 0h.8m.9 .1h.8m1.5-.1h.8m4 .3h.8m-26.2 1.1h.8m.2-.2h.8m-.6 .1h.8m3.8-.4h.8m.3 .2h.8m-.5-.4h.8m0 .3h.8m.3-.1h.8m-.6 .5h.8m.6-.2h.8m-.2 0h.8m.8 .2h.8m.1-.1h.8m1.3-.2h.8m.9 .2h.8m.1-.3h.8m.7 .4h.8m-34.7 .5h.8m1.7 .2h.8m14.4 .1h.8m-.4-.6h.8m-.5 .6h.8m-.2-.5h.8m.3 0h.8m-.6 .4h.8m-.4-.6h.8m1 .1h.8m-.7 .2h.8m-.8-.3h.8m0 .1h.8m-.3 .4h.8m.9-.3h.8m-.2 0h.8m-.6 .2h.8m-.3-.1h.8m-.5 .3h.8m-.4-.5h.8m.2 0h.8m-.6 .1h.8m-.4-.1h.8m.2 .2h.8m.6-.1h.8m-.4 .1h.8m.3 0h.8m-.2 .1h.8m-.5-.1h.8m1.5-.3h.8m1.3 .7h.8m-38.5 .8h.8m-.4-.1h.8m2-.2h.8m10.2-.2h.8m1.1 .5h.8m.5-.7h.8m-.1 .7h.8m-.6-.4h.8m.5 .4h.8m.7-.5h.8m-.3-.2h.8m1.5 .6h.8m.5 0h.8m.4 .1h.8m-.6-.4h.8m-.2-.2h.8m-.2-.1h.8m-.6 .2h.8m-.7 0h.8m.6 .2h.8m-.5 .2h.8m2.3-.4h.8m1.9 .4h.8m2.3-.1h.8m-39.9 .9h.8m-.7-.6h.8m-.7 .7h.8m-.3 0h.8m-.6-.6h.8m-.8 .6h.8m-.7-.2h.8m-.1 .2h.8m-.6-.4h.8m.4-.1h.8m.2 .2h.8m4.1 .2h.8m1.6-.3h.8m2.6 .3h.8m-.3-.5h.8m.2 .6h.8m.3-.3h.8m-.3 .1h.8m-.5-.1h.8m-.6-.2h.8m0 .2h.8m1.1-.2h.8m-.8 0h.8m-.6 .5h.8m-.5-.7h.8m-.2 .5h.8m0 0h.8m-.8-.5h.8m-.5 0h.8m3.7 .7h.8m-.7-.1h.8m-.6-.4h.8m-.7-.1h.8m-.6 .4h.8m-.5 0h.8m1-.1h.8m-.2-.4h.8m1.5 .3h.8m.1-.1h.8m-.3 .2h.8m-36.4 .8h.8m-.6-.1h.8m-.4-.2h.8m2.7 .5h.8m-.7 .1h.8m3.1-.6h.8m2.1 .1h.8m-.7 .2h.8m-.3 0h.8m1.3-.1h.8m-.4-.2h.8m1.3 .3h.8m1.4-.1h.8m-.6-.1h.8m-.7 .4h.8m.4-.4h.8m.3 0h.8m-.5 .5h.8m-.7 0h.8m-.2-.4h.8m.1 .2h.8m-.8-.4h.8m-.5 0h.8m-.5-.1h.8m-.8 .1h.8m-.7 .3h.8m-.6 .3h.8m0-.3h.8m-.1-.2h.8m-.1-.2h.8m0 .2h.8m-.1-.1h.8m1.5 .6h.8m-.7-.1h.8m3.3 0h.8m-30.4 .3h.8m-.3 .1h.8m.9 .3h.8m.6-.2h.8m.8-.2h.8m.2-.1h.8m-.5 .2h.8m.7-.2h.8m0 .6h.8m-.5 0h.8m-.4-.1h.8m.8-.4h.8m-.6 0h.8m-.3 .6h.8m-.6-.6h.8m0-.1h.8m.4 .2h.8m-.6 .5h.8m.1-.2h.8m-.2 .1h.8m1 0h.8m-.8-.3h.8m-.8 .4h.8m-.7-.3h.8m-.4 0h.8m-.4-.3h.8m.6 .4h.8m-.3-.1h.8m-.6-.3h.8m-.8 .6h.8m-.7-.7h.8m-.7 .3h.8m2.4-.2h.8m-.6 .2h.8m-.3 .3h.8m.1-.6h.8m1 .5h.8m-.7-.2h.8m-.4 .4h.8m.3 0h.8m1.1-.4h.8m0 .3h.8m-.7-.5h.8m-.8 .6h.8m-.4-.3h.8m-37.6 1h.8m4.3-.6h.8m-.3 .3h.8m.1-.1h.8m-.8 .4h.8m-.6-.5h.8m-.2-.1h.8m-.7 .3h.8m-.4 0h.8m-.4-.1h.8m.2 .5h.8m-.5 0h.8m.1-.3h.8m-.3-.3h.8m.1 .1h.8m-.4-.1h.8m-.2 .5h.8m2.1 0h.8m-.6 0h.8m.8-.5h.8m.6 .2h.8m-.2 .1h.8m-.4-.1h.8m.2 .2h.8m1.6-.3h.8m-.1-.2h.8m-.3 .6h.8m-.6-.5h.8m.5 .3h.8m-.5-.1h.8m.9-.2h.8m.6-.1h.8m.4 0h.8m-.5 .3h.8m-.2 .1h.8m1.3-.4h.8m2.3 .5h.8m1 .1h.8m-39.4 .6h.8m4.9-.4h.8m-.5 .6h.8m.4 0h.8m-.3-.2h.8m-.8-.2h.8m-.7 .1h.8m-.6-.1h.8m1.7 .4h.8m1.6-.6h.8m-.7 .4h.8m.3-.3h.8m.5-.1h.8m-.2 .3h.8m1.1 0h.8m-.6-.1h.8m.5 .5h.8m1.4-.6h.8m.6 .2h.8m3.1 .4h.8m-.7-.7h.8m-.8 .7h.8m6.1-.6h.8m-.8 .2h.8m.8-.2h.8m-.6-.1h.8m-37.9 1.2h.8m7.6 .1h.8m.4 0h.8m.1-.1h.8m-.8 .3h.8m1-.7h.8m-.6 .4h.8m-.5-.3h.8m.5 .6h.8m3-.1h.8m-.3-.2h.8m1-.3h.8m-.8 .3h.8m-.5 .3h.8m3.7-.4h.8m1.3-.3h.8m2.6 .5h.8m-.8-.2h.8m3 0h.8m3 0h.8m-38.6 1.2h.8m.4-.2h.8m6.2-.5h.8m2.3 .7h.8m-.7-.4h.8m1.4-.3h.8m2.6 .6h.8m-.5-.1h.8m3.9 .1h.8m1.8-.6h.8m-.5 .5h.8m.3 0h.8m1.5-.1h.8m-.4-.2h.8m.1 .2h.8m1.2 .2h.8m5.4-.3h.8m-31.7 .6h.8m4.2-.1h.8m2.8 .4h.8m2.8 .2h.8m2.3-.5h.8m-.8 .1h.8m0 .5h.8m3-.6h.8m-.1-.1h.8m-.3 .2h.8m.6-.1h.8m2.3 .3h.8m0 .3h.8m-32.9 .1h.8m.2 .6h.8m3.5-.1h.8m4.1 0h.8m-.7-.4h.8m12.6 .1h.8m.6 .5h.8m-.2 0h.8m1.8 0h.8m1.6 0h.8m-31.5 .5h.8m.1-.2h.8m-.3 .5h.8m2.4-.1h.8m.2-.3h.8m5.2-.2h.8m15.4 .2h.8m3.3 .1h.8m.2 0h.8m1.3 .1h.8m-.5 0h.8m-.7-.3h.8m-35.1 .8h.8m2.8-.1h.8m18.9 .6h.8m.3-.3h.8m1.9-.4h.8m.1 .4h.8m-28.5 .7h.8m-.7-.1h.8m-.7-.1h.8m-.8 0h.8m3-.1h.8m1.7 .5h.8m12.1-.2h.8m3.9-.3h.8m-.1 .2h.8m2 .2h.8m-.8 0h.8m5.8 .2h.8m-35.7 .4h.8m16 .1h.8m3.2-.2h.8m10.4-.1h.8m-26 .9h.8" stroke="rgb(70, 100, 195)" stroke-width="0.8" stroke-opacity="0.55" fill="none"/>
<path d="M221 522.1h.8m-.8 0h.8m-.7-.4h.8m-.6 .2h.8m-.7 .2h.8m-.7-.3h.8m-.5 .2h.8m.4 .2h.8m-.5-.2h.8m-.8-.2h.8m-.7 .3h.8m-.6-.1h.8m-3.7 .7h.8m-.3-.1h.8m-.2-.1h.8m.4 .1h.8m-.4-.2h.8m-.8 .2h.8m-3.3 .7h.8m-2 1.3h.8m-1.5 .6h.8m-.6 .1h.8m-.7-.1h.8m-.7 0h.8m-.7-.4h.8m-.5 .4h.8m4.4 .3h.8m-1 .7h.8m-.6-.1h.8m-1.8 1.5h.8m-.5 .3h.8m-.7-.2h.8m-.7 0h.8m-.7-.1h.8m-3.4 .9h.8m-.5 .2h.8m0-.1h.8m0-.6h.8m-.7 .2h.8m-.7-.1h.8m-.5 0h.8m-2.9 .7h.8m-.7 .4h.8m-.7-.4h.8m-.8 .1h.8m-.3 .2h.8m-.6 .2h.8m-.7-.2h.8" stroke="rgb(56, 91, 189)" stroke-width="0.8" stroke-opacity="0.55" fill="none"/>
<path d="M222.1 522.1h.8m-.8 .3h.8m-.7 .2h.8m-.3-.2h.8m.6 .6h.8m-.8 .1h.8m-.7 .4h.8m-.8 .1h.8m-4.7 3.5h.8m-.6-.2h.8m-.8-.2h.8m-.7 .4h.8m-.7-.5h.8m-.8 .5h.8m-1.1 .2h.8m-.7-.1h.8m-.3 .7h.8m-.8-.4h.8m-.7 0h.8m-.7 .4h.8m-.6-.2h.8m-1.2 .7h.8m-.6-.1h.8" stroke="rgb(44, 91, 186)" stroke-width="0.8" stroke-opacity="0.8" fill="none"/>
<path d="M220 523.7h.9m-.8-.1h.9m-.4 .3h.9m-.7-.2h.9m-.9 0h.9m-.9 .1h.9m2.4-.1h.9m-.5 0h.9m-.9-.1h.9m-5.3 1.1h.9m-.7-.6h.9m-.9 .6h.9m-.8-.3h.9m-.8-.3h.9m2.4 .2h.9m-.9-.2h.9m-.4 .1h.9m-.7-.1h.9m-5.1 .8h.9m-.9 .5h.9m-.8 0h.9m-.5 0h.9m-.9 .1h.9m-.8-.1h.9m-1.7 .5h.9m-.5-.2h.9m-.8-.1h.9m-.8 .5h.9m2.3 .6h.9m-.8-.1h.9m-.7 .2h.9m-.9 .3h.9m-.9-.6h.9m-3.2 1.4h.9m-.7-.4h.9m-.8 .1h.9m-.6 .3h.9m-.5-.2h.9m-.9-.2h.9m-.4 .1h.9m-.7 .1h.9m-.7 .1h.9m-2.8 .4h.9m-.7-.2h.9m-.8 .4h.9m-.8-.4h.9m-.9 0h.9m-.9 .1h.9m-.6 .3h.9m-.6-.4h.9m-.9 .1h.9m-.8-.1h.9m-.9 .2h.9m-.2 .1h.9" stroke="rgb(42, 121, 196)" stroke-width="0.9" stroke-opacity="0.8" fill="none"/>
<path d="M221.3 522.9h.9m-.8-.2h.9m-.8 .1h.9m.5 0h.9m-.8 .2h.9m-.9 .1h.9m-.9-.3h.9m-.6 .2h.9m-.9 0h.9m-.8-.3h.9m-.6 0h.9m-3.4 .7h.9m-.8-.2h.9m-.8 0h.9m-.7 .3h.9m-.9-.1h.9m-.8 .2h.9m-.9-.3h.9m.4 0h.9m-.5 .2h.9m-.8 0h.9m-.8-.1h.9m-.7 1.7h.9m-.9 .3h.9m-.8-.2h.9m-.6-.1h.9m-.8-.2h.9m-.9 .5h.9m-.8-.4h.9m-.8 0h.9m-.8 .2h.9m-.8-.1h.9m-1.8 .8h.9m-.8-.3h.9m-.9 .2h.9m-.8 .5h.9m-.9 0h.9m-.9-.3h.9m-.8 0h.9m-.9-.4h.9m-.9 .6h.9m-.4-.6h.9m-.9 .1h.9m-.8 .2h.9m-.9 0h.9m-1.8 .5h.9m-.8 .1h.9m-.5-.1h.9m-.6 0h.9" stroke="rgb(40, 150, 203)" stroke-width="0.9" stroke-opacity="1" fill="none"/>
<path d="M221.9 523h.9m-.8-.2h.9m-.8 0h.9m-.9 .3h.9m-.7-.3h.9m-.9-.1h.9m-.8 .1h.9m-.9 .3h.9m-.9-.1h.9m-.7 0h.9m-1.5 .3h.9m-.9 .2h.9m-.9-.3h.9m-.8 .1h.9m-.7-.1h.9m-.8 0h.9m-.8 .3h.9m-.9 0h.9m-.8-.3h.9m-.8 0h.9m-2.7 3.3h.9m-.5 .6h.9m-.8 0h.9m-.8-.5h.9m-.9 .1h.9m-.8-.1h.9m-.9 .1h.9m-.8 .1h.9m-1.5 .4h.9m-.8 .3h.9m-.4-.3h.9" stroke="rgb(55, 170, 161)" stroke-width="0.9" stroke-opacity="1" fill="none"/>
<path d="M221 523.9h.9m-.8-.1h.9m-.4 .1h.9m-1.6 .3h.9m-.9-.1h.9m-.8 .2h.9m-.8 0h.9m-.8 .1h.9m-.8-.1h.9m-.9-.2h.9m-.9 .1h.9m-.8 .3h.9m-.8-.5h.9m-.9 .2h.9m-.9 .1h.9m-.9 .2h.9m-.9-.2h.9m-.8 .1h.9m-.8-.1h.9m-.8-.1h.9m-.9 .1h.9m-.9 .1h.9m.1 2.4h.9m-.7-.2h.9m-.8 .5h.9m-.6-.4h.9m-.9 .2h.9m-.6 0h.9m-1.8 .5h.9m-.8-.1h.9m-.9 .2h.9m-.8-.1h.9m-.9 0h.9m-.7-.1h.9m-.6-.1h.9m-.8 .1h.9m-.8-.1h.9m-.8 .2h.9" stroke="rgb(70, 190, 120)" stroke-width="0.9" stroke-opacity="1" fill="none"/>
<path d="M223.2 523.6h.9m-.9 0h.9m-.8 .3h.9m-.9-.3h.9m-.8 0h.9m-.9 .1h.9m-.9 0h.9m-.9 0h.9m-.8 0h.9m-.8 0h.9m-.8-.1h.9m-.9 .1h.9m-1.8 .8h.9m-.8-.1h.9m-.9 0h.9m-.9-.1h.9m-.9 0h.9m-.9 0h.9m-.9 .3h.9m-.8-.6h.9m-.6 .5h.9m-.9-.2h.9m-.8 0h.9m-.7 .3h.9m-.9-.4h.9m-.8 .1h.9m-.9-.3h.9m-2.7 3h.9m-.8-.1h.9m-.9 .2h.9m-.8-.1h.9m-.9 0h.9m-.8-.3h.9m-.7 0h.9m-.8-.2h.9m-.9 .2h.9m-.9 .4h.9m-.8-.3h.9m-.7 0h.9m-.9-.2h.9m-1.7 .8h.9m-.8 .1h.9m-.8-.1h.9m-.7-.2h.9m-.8 .2h.9m-.9-.2h.9m-.9 0h.9m-.6 .3h.9" stroke="rgb(137, 203, 80)" stroke-width="0.9" stroke-opacity="1" fill="none"/>
<path d="M221.1 524.7h.9m-.6-.1h.9m-.7 .1h.9m-.8 0h.9m-1.6 .2h.9m-.9 .4h.9m-.9 .1h.9m-.8-.5h.9m-.8 .6h.9m-.8-.1h.9m-.9 .1h.9m-.9-.5h.9m-.7 .3h.9m-.9 .1h.9m-.8-.5h.9m-.9 .5h.9m-.9-.4h.9m-.8-.1h.9m-.9 .1h.9m-.9 .1h.9m-.9-.1h.9m-.8-.1h.9m-.9 .4h.9m-.9-.2h.9m-1.8 .9h.9m-.9 .3h.9m-.9 0h.9m-.7 0h.9m-.8-.5h.9m-.9 .5h.9m-.9-.7h.9m-.9 .1h.9m-.8 .5h.9m-.8-.4h.9m-.8 .4h.9m-.9-.5h.9m-.9 .3h.9m-.9 .3h.9m-.8-.5h.9m-.9-.2h.9m-.9 .7h.9m-.8-.7h.9m-.9 .2h.9m-.9 .4h.9m-.9-.2h.9m-.8-.4h.9m-.9 .3h.9m-.9-.1h.9m-.9-.1h.9m-.8-.1h.9" stroke="rgb(202, 211, 44)" stroke-width="0.9" stroke-opacity="1" fill="none"/>
<path d="M221.9 523.8h.9m-.9-.1h.9m-.9 .1h.9m-.7 0h.9m-.6 .1h.9m-.5 0h.9m-1.8 .4h.9m-.8 0h.9m-.9 .1h.9m-.6-.2h.9m-.8 0h.9m-.9 .1h.9m-.9 0h.9m-.9 .2h.9m-.9-.2h.9m-.7-.3h.9m-.9 0h.9m-.7 0h.9m-.9 .2h.9m-.9 .4h.9m-.9-.1h.9m-.8 .1h.9m-.9 0h.9m-.9 .1h.9m-.8-.1h.9m-.6 0h.9m-.8 .1h.9m-.8 0h.9m-.8-.1h.9m-.7 0h.9m-1.7 .4h.9m-.9-.2h.9m-.8 .6h.9m-.9 0h.9m-.9-.6h.9m-.9 0h.9m-.7 .7h.9m-.8-.2h.9m-.9-.1h.9m-.9 .2h.9m-.9-.6h.9m-.8 .2h.9m-.8 .2h.9m-.7 .1h.9m-1.8 .5h.9m-.9-.1h.9m-.8 .5h.9m-.9 0h.9m-.9 0h.9m-.8-.2h.9m-.9-.1h.9m-.9-.2h.9m-.8 .5h.9m-.9-.4h.9m-.9 0h.9m-.9 .1h.9m-.8 .3h.9m-.9-.6h.9m-.9 0h.9m-.9 0h.9m-.8 .6h.9m-.8-.6h.9m-.8 0h.9m-.9 .3h.9m-.9 0h.9m-.9 .2h.9m-.8-.5h.9m-.9 .5h.9m-.9 0h.9m-1.5 .4h.9m-.3 0h.9" stroke="rgb(228, 173, 32)" stroke-width="0.9" stroke-opacity="1" fill="none"/>
<path d="M221.9 526.2h.9m-.7-.4h.9m-.9 .3h.9m-.9-.2h.9m-.9 .2h.9m-.9 .1h.9m-.9-.2h.9m-.8 0h.9m-.9 0h.9m-.9-.1h.9m-.9 .1h.9m-.8-.1h.9m-.8 .4h.9m-.9 0h.9m-.9-.1h.9m-.9-.6h.9m-.8 .1h.9m-.9 .5h.9m-.9-.1h.9m-.9-.1h.9m-.9-.1h.9m-.9-.2h.9m-.8 .5h.9m-.9 .1h.9m-.9 0h.9m-.8-.4h.9m-.8-.1h.9m-1.8 .7h.9m-.9 0h.9m-.6-.1h.9m-.3 0h.9" stroke="rgb(230, 52, 25)" stroke-width="0.9" stroke-opacity="1" fill="none"/>
<path d="M222.2 524.7h.9m-.9-.1h.9m-1.2 .9h.9m-.8-.4h.9m-.9 .3h.9m-.9-.6h.9m-.9 .7h.9m-.9-.3h.9m-.9 .3h.9m-.8-.7h.9m-.9 .1h.9m-.9 .5h.9m-.9-.5h.9m-.9 .2h.9m-.8 .4h.9m-.9-.6h.9m-.9 .4h.9m-.8-.1h.9m-.9-.3h.9m-.8 .2h.9m-.9 .1h.9m-.9-.4h.9m-.9 .1h.9m-.8-.1h.9m-.9 .3h.9m-.8-.2h.9m-.9 .1h.9m-.8 .3h.9m-.9-.2h.9m-.9-.1h.9m-.9 0h.9m-.8 0h.9m-.9 0h.9" stroke="rgb(220, 30, 20)" stroke-width="0.9" stroke-opacity="1" fill="none"/>
</g>
<line x1="208.40" y1="477.10" x2="270.00" y2="477.10" stroke="#666" stroke-width="0.8"/>
<line x1="208.40" y1="477.10" x2="208.40" y2="539.10" stroke="#555" stroke-width="0.8"/>
<line x1="208.40" y1="539.10" x2="270.00" y2="539.10" stroke="#666" stroke-width="0.8"/>
<line x1="228.73" y1="477.10" x2="228.73" y2="539.10" stroke="#aaa" stroke-width="1.6"/>
<line x1="208.40" y1="514.30" x2="270.00" y2="514.30" stroke="#505050" stroke-width="0.8"/>
<line x1="206.80" y1="483.30" x2="208.40" y2="483.30" stroke="#777" stroke-width="0.6"/>
<text x="206.4" y="484.2" font-size="3" fill="#666" text-anchor="end">10</text>
<line x1="206.80" y1="497.56" x2="208.40" y2="497.56" stroke="#777" stroke-width="0.6"/>
<text x="206.4" y="498.5" font-size="3" fill="#666" text-anchor="end">10</text>
<line x1="206.80" y1="515.54" x2="208.40" y2="515.54" stroke="#777" stroke-width="0.6"/>
<text x="206.4" y="516.4" font-size="3" fill="#666" text-anchor="end">10</text>
<line x1="206.80" y1="525.46" x2="208.40" y2="525.46" stroke="#777" stroke-width="0.6"/>
<text x="206.4" y="526.4" font-size="3" fill="#666" text-anchor="end">10</text>
<line x1="206.80" y1="534.76" x2="208.40" y2="534.76" stroke="#777" stroke-width="0.6"/>
<text x="206.4" y="535.7" font-size="3" fill="#666" text-anchor="end">10</text>
<ellipse cx="207.1" cy="525.1" rx="0.9" ry="1.2" fill="#111"/>
<line x1="213.33" y1="539.10" x2="213.33" y2="540.70" stroke="#777" stroke-width="0.6"/>
<text x="213.3" y="543.9" font-size="3" fill="#666" text-anchor="middle">10</text>
<line x1="221.95" y1="539.10" x2="221.95" y2="540.70" stroke="#777" stroke-width="0.6"/>
<text x="222.0" y="543.9" font-size="3" fill="#666" text-anchor="middle">10</text>
<line x1="231.81" y1="539.10" x2="231.81" y2="540.70" stroke="#777" stroke-width="0.6"/>
<text x="231.8" y="543.9" font-size="3" fill="#666" text-anchor="middle">10</text>
<line x1="250.90" y1="539.10" x2="250.90" y2="540.70" stroke="#777" stroke-width="0.6"/>
<text x="250.9" y="543.9" font-size="3" fill="#666" text-anchor="middle">10</text>
<line x1="265.69" y1="539.10" x2="265.69" y2="540.70" stroke="#777" stroke-width="0.6"/>
<text x="265.7" y="543.9" font-size="3" fill="#666" text-anchor="middle">10</text>
<ellipse cx="222.0" cy="540.1" rx="1.4" ry="0.8" fill="#111"/>
<g filter="url(#fblur)">
<path d="M318.7 482.5h.8m9.5 1.3h.8m4 .7h.8m-8.2 2.5h.8m5.1 .6h.8m-10 1.1h.8m-7 .8h.8m6-.6h.8m-11.2 .9h.8m1.2 .2h.8m4.6-.3h.8m.8 .2h.8m3.2 0h.8m-6.6 .9h.8m1 .1h.8m.3 .1h.8m.1 0h.8m6.8-.5h.8m-32.5 .7h.8m2.7 .5h.8m5.5-.2h.8m3-.2h.8m5.2 .2h.8m-.5 0h.8m.9 .4h.8m1.8-.2h.8m6.3 .1h.8m5.7 0h.8m-43.3 .8h.8m12.9 0h.8m5.1-.5h.8m.3 .1h.8m.4 .3h.8m.1-.3h.8m1 .3h.8m2.9 .2h.8m-.2-.1h.8m-.3-.4h.8m6.7 .5h.8m4.8-.3h.8m-29.5 .7h.8m-.7 .4h.8m-.7-.5h.8m8.7 .3h.8m2.7-.3h.8m1.9 .5h.8m.3-.4h.8m.2-.2h.8m4.5 .4h.8m3.2-.1h.8m-29.5 1.1h.8m.6-.3h.8m.1 .1h.8m.9-.3h.8m5.4 0h.8m-.8 .1h.8m-.4 .4h.8m5.9-.6h.8m-.1 .1h.8m2.7 .3h.8m9.3-.1h.8m-35.1 .6h.8m1.8-.2h.8m1 .4h.8m-.1 0h.8m.5 .1h.8m4.8 .2h.8m-.1-.2h.8m1.6-.2h.8m-.1 0h.8m.4 .2h.8m0-.3h.8m1.2-.1h.8m-.6 .4h.8m-.3-.2h.8m1.4 .2h.8m-.6 .2h.8m0-.7h.8m.8 .5h.8m.3 .1h.8m-38 .7h.8m7.4 .2h.8m0-.4h.8m-.7 .3h.8m.9-.6h.8m.2 .5h.8m2.5 .2h.8m3.1 0h.8m3.9-.1h.8m2.1-.6h.8m-.4 .4h.8m.3 .1h.8m.8-.3h.8m3.7 .2h.8m1.8 0h.8m-.7-.2h.8m1.2 .4h.8m-.5 0h.8m-35.8 .9h.8m2.3 0h.8m-.5-.2h.8m1.4-.1h.8m.2 .1h.8m-.3-.5h.8m.9 .1h.8m.1-.1h.8m.6 .5h.8m2.2-.5h.8m-.6 .4h.8m-.8-.1h.8m-.3 .2h.8m1-.4h.8m-.4 .5h.8m.7-.6h.8m-.3 .3h.8m-.5 .4h.8m-.6-.6h.8m-.2 .6h.8m-.1-.2h.8m-.1-.4h.8m-.1 .6h.8m-.8-.5h.8m8.1 .5h.8m.2-.3h.8m0-.1h.8m-.4 .4h.8m1.4-.1h.8m2.4-.4h.8m-42.2 .6h.8m2.3 .2h.8m1 .4h.8m.1-.2h.8m2.5 .1h.8m-.4-.1h.8m.7 .3h.8m-.8-.3h.8m1.7-.2h.8m1.1-.1h.8m.6 .2h.8m-.4-.2h.8m.3 .5h.8m0-.3h.8m0-.3h.8m-.7 .3h.8m1.3-.2h.8m.4 .2h.8m-.7 .2h.8m.8 0h.8m-.7-.3h.8m-.2 .4h.8m.8-.2h.8m-.7 .2h.8m-.7-.2h.8m-.7-.1h.8m-.4 .2h.8m-.4-.3h.8m-.1 0h.8m-.5 .4h.8m.4 .1h.8m0-.7h.8m3.1 .1h.8m-.1 .1h.8m-.6 .1h.8m.1 0h.8m-.5 .1h.8m1.7-.1h.8m-.6-.1h.8m5.3 0h.8m-44.5 1.3h.8m2.7-.4h.8m2.4-.1h.8m1.5 .2h.8m-.8 .1h.8m-.2-.2h.8m-.6 .4h.8m-.7-.5h.8m1.1 .5h.8m.3-.5h.8m-.6 .3h.8m-.6 .2h.8m.6-.6h.8m-.3-.1h.8m1.5 .4h.8m-.7 .1h.8m.4 .1h.8m-.7-.4h.8m-.3 .2h.8m-.2 0h.8m.9 .2h.8m-.7 .1h.8m-.4-.7h.8m-.4 .5h.8m-.5-.5h.8m.9 .5h.8m-.5 .1h.8m.5-.3h.8m-.8 .4h.8m.6 0h.8m-.1 0h.8m2.9-.7h.8m.4 .2h.8m6.2 .3h.8m-35.3 1h.8m1.8-.2h.8m.4 .1h.8m-.2-.4h.8m-.1 .4h.8m-.4-.3h.8m-.2 0h.8m-.6 .2h.8m1.9-.3h.8m-.6 .3h.8m-.3 .2h.8m-.8-.1h.8m-.3-.6h.8m-.7 0h.8m-.7 .3h.8m.7 .1h.8m-.3-.1h.8m-.6 .1h.8m.2 .3h.8m-.2 0h.8m-.2 0h.8m3.4-.5h.8m1.6 0h.8m-.1 .5h.8m-.2 0h.8m-.7-.3h.8m-.1-.4h.8m3.1 .3h.8m-.6 0h.8m.2 .4h.8m-.6-.2h.8m1.6 .2h.8m-28.8 .2h.8m-.6 .4h.8m-.4-.4h.8m-.3 .6h.8m-.8-.6h.8m-.6-.1h.8m-.4 .4h.8m-.7-.1h.8m-.6 .3h.8m.1 .1h.8m-.1-.3h.8m-.8 .1h.8m-.8 0h.8m.4-.3h.8m-.5 .3h.8m.5-.1h.8m-.7 .3h.8m.2-.1h.8m-.5-.6h.8m-.1 .2h.8m-.6 .3h.8m.2-.4h.8m-.7 .1h.8m-.3-.1h.8m-.5 .2h.8m.7 .2h.8m-.6 .2h.8m.8-.4h.8m-.2-.1h.8m0-.1h.8m-.7 0h.8m-.4 .6h.8m-.4-.2h.8m.2-.2h.8m-.5 .2h.8m2.5-.5h.8m.9 .5h.8m-.2-.5h.8m1.7 .6h.8m1.8-.3h.8m0-.2h.8m-.3 .1h.8m.1 .4h.8m-38.2 .3h.8m2.7 0h.8m.9 .2h.8m-.4 .1h.8m.5 .2h.8m-.2 0h.8m-.6 0h.8m-.4-.4h.8m-.3 .2h.8m-.3-.3h.8m-.2 .1h.8m.2 0h.8m-.7 .2h.8m-.7-.3h.8m-.5 .1h.8m.1 0h.8m-.8-.2h.8m-.5 .2h.8m-.1 0h.8m-.3 0h.8m0-.1h.8m-.7 .1h.8m-.2 .1h.8m-.4 .3h.8m-.7-.3h.8m-.4 .4h.8m-.7 0h.8m-.4-.4h.8m-.8-.3h.8m-.7 .4h.8m-.2-.2h.8m-.4 .1h.8m-.4-.3h.8m-.8 .5h.8m-.5-.3h.8m0 .4h.8m-.1-.2h.8m-.8 .3h.8m-.8-.1h.8m-.3-.3h.8m-.5 .1h.8m1.6-.3h.8m-.7 0h.8m-.7 .4h.8m.5-.5h.8m-.6 .6h.8m1-.2h.8m-.4-.2h.8m2.1-.2h.8m-.3 0h.8m1.5 .4h.8m-.4-.2h.8m2.6 .2h.8m-37.8 .7h.8m.8-.2h.8m1 .4h.8m-.1-.5h.8m.5 .4h.8m.3-.4h.8m-.5 .5h.8m-.6 0h.8m-.4-.2h.8m-.7-.2h.8m.8 0h.8m-.5 .1h.8m-.1 .3h.8m-.5-.2h.8m-.3 .1h.8m-.5 .1h.8m-.6-.4h.8m-.7 0h.8m-.7 .5h.8m.1 0h.8m-.4-.6h.8m.2 .5h.8m-.5 0h.8m-.3 .2h.8m-.7-.3h.8m-.4-.2h.8m-.4 .5h.8m-.8-.7h.8m-.3 .2h.8m.4 .4h.8m-.8-.5h.8m-.2 .1h.8m-.8-.2h.8m-.2 .7h.8m.2-.3h.8m-.4 .2h.8m-.4 0h.8m-.1-.2h.8m-.4 0h.8m0-.1h.8m.1 .1h.8m.1 .1h.8m-.7-.3h.8m-.3 .4h.8m-.1-.5h.8m.1-.1h.8m-.4 .4h.8m-.4 .2h.8m-.3 0h.8m-.1-.1h.8m1.2 .2h.8m5.8-.7h.8m3.2 .2h.8m1 .4h.8m-43.6 .8h.8m.5-.2h.8m-.5-.2h.8m-.7 0h.8m.8 .5h.8m-.7-.3h.8m-.5-.3h.8m.6 .5h.8m-.3-.3h.8m2.2-.1h.8m-.4 .1h.8m.1 .3h.8m-.6 .1h.8m.5-.4h.8m-.4-.2h.8m-.7 .4h.8m-.7 0h.8m-.7 0h.8m-.7-.5h.8m-.5 .2h.8m-.6 0h.8m.1 .2h.8m.1-.2h.8m-.4-.1h.8m-.1-.1h.8m-.6 .6h.8m-.2-.2h.8m-.4 .1h.8m-.7-.1h.8m.1 .1h.8m-.7-.3h.8m-.8-.1h.8m.2 .4h.8m-.5 .2h.8m.2-.5h.8m-.6-.2h.8m-.7 .1h.8m-.8 .4h.8m-.3-.1h.8m-.5-.3h.8m-.4 .5h.8m-.7-.4h.8m1 .5h.8m-.6-.6h.8m-.7 .6h.8m.1-.6h.8m-.5 .2h.8m0-.2h.8m-.7-.1h.8m-.3 .1h.8m-.2 .4h.8m-.2 .2h.8m-.4-.6h.8m0-.1h.8m0 .1h.8m-.8 .2h.8m1.7-.1h.8m-.7 .5h.8m3.8-.5h.8m1.3 .4h.8m-38.9 .5h.8m.3 .2h.8m.5-.3h.8m1.3-.1h.8m-.4 0h.8m-.4 .5h.8m-.7-.3h.8m.6 .4h.8m-.5-.1h.8m.2-.2h.8m-.4 0h.8m-.6 .2h.8m-.7 0h.8m-.7-.5h.8m-.3 .1h.8m-.1 .5h.8m.4-.3h.8m-.8-.3h.8m-.5 0h.8m-.4 .5h.8m-.4 0h.8m-.5 .1h.8m.4-.5h.8m-.4 .2h.8m-.8 .2h.8m-.5-.1h.8m-.4-.3h.8m-.6 .5h.8m-.5 0h.8m-.8-.2h.8m0 .1h.8m-.8 0h.8m-.4-.5h.8m.6 .1h.8m-.1 .5h.8m-.7-.7h.8m-.4 .5h.8m-.8-.1h.8m.1 .2h.8m-.7 0h.8m-.7 0h.8m-.8-.5h.8m2.4 .1h.8m.1-.2h.8m0 .4h.8m.5-.1h.8m.9-.3h.8m-.1 .5h.8m-.6-.3h.8m.7 .5h.8m4.1-.3h.8m-41.4 .5h.8m-.4-.1h.8m6.7 .4h.8m0 0h.8m.9 .1h.8m.2 0h.8m-.7 0h.8m-.7-.5h.8m-.2 .6h.8m-.7 0h.8m.4-.4h.8m-.4 .3h.8m-.6-.5h.8m-.8 .3h.8m-.6-.2h.8m-.1 .6h.8m-.7-.1h.8m-.6-.5h.8m-.6 .4h.8m-.4-.4h.8m-.8 .4h.8m-.2-.1h.8m-.6 .3h.8m-.7-.6h.8m.7 .1h.8m.5 .2h.8m-.7 0h.8m-.5 .1h.8m.1 .1h.8m-.5 0h.8m.2-.6h.8m-.7 .3h.8m-.7-.1h.8m-.1 0h.8m.5 0h.8m-.8 .5h.8m.2-.3h.8m-.5-.1h.8m-.6-.2h.8m-.3 .5h.8m0-.3h.8m-.5 .4h.8m-.7-.1h.8m.7 .1h.8m-.7 0h.8m-.4-.4h.8m1.7-.1h.8m2.9 .4h.8m-.2 0h.8m.7-.2h.8m.3 .3h.8m-.8-.7h.8m3.4 .5h.8m-.3-.3h.8m-43.3 .6h.8m3.4 .5h.8m-.3-.2h.8m1 .2h.8m-.3-.2h.8m-.1 .4h.8m1.2-.6h.8m0 .5h.8m-.1 0h.8m-.6-.3h.8m-.3-.3h.8m.1 .3h.8m.1 .2h.8m.6-.4h.8m-.4 .1h.8m-.4 .5h.8m-.4-.4h.8m-.1-.1h.8m-.6-.2h.8m-.4 .5h.8m-.8 0h.8m-.3-.5h.8m0 .1h.8m-.7 .4h.8m-.1 .1h.8m-.2 .1h.8m-.6 0h.8m-.5-.7h.8m-.7 .5h.8m-.7 .2h.8m-.2-.2h.8m-.6-.2h.8m0 .1h.8m-.6 .2h.8m.8-.6h.8m-.4 .2h.8m-.5 .4h.8m-.6 0h.8m-.1-.5h.8m-.4 .2h.8m.2 .4h.8m-.4 0h.8m-.1-.4h.8m-.4-.2h.8m-.2 .3h.8m.2 0h.8m1-.3h.8m.8 0h.8m1.5 .1h.8m1 .5h.8m-.5-.3h.8m.8-.2h.8m1.1-.1h.8m-40.8 1h.8m2.9 0h.8m-.3 0h.8m-.7-.3h.8m-.5 .1h.8m.8 .3h.8m-.7 .3h.8m-.8-.5h.8m-.4 .2h.8m.7-.2h.8m.4 0h.8m-.6 0h.8m-.7 .5h.8m-.1-.7h.8m-.4 .4h.8m-.3 .2h.8m-.8-.5h.8m-.7-.1h.8m-.3 .5h.8m-.4-.5h.8m.1 .3h.8m-.7 .1h.8m-.5-.3h.8m0 .3h.8m-.3 .1h.8m-.2 .1h.8m-.7-.5h.8m-.5 .6h.8m-.3-.3h.8m-.6 .1h.8m-.3-.4h.8m-.7 .5h.8m.7 0h.8m.3 0h.8m-.3-.5h.8m-.7 .4h.8m-.3-.1h.8m-.5-.3h.8m-.8 .6h.8m-.5-.7h.8m-.7 .5h.8m-.2 .2h.8m.4-.4h.8m-.7-.3h.8m-.4 .7h.8m1.1-.3h.8m-.4 .2h.8m.5-.5h.8m.1 .4h.8m-.8 .2h.8m.4-.5h.8m-.4 .5h.8m2.3-.1h.8m.7-.6h.8m5.8 .2h.8m-.4 .4h.8m-40 .4h.8m.2 .4h.8m-.3-.5h.8m1 .1h.8m.6 .3h.8m-.2 0h.8m.7-.3h.8m-.5 .3h.8m.2-.4h.8m-.3 .1h.8m-.8 .1h.8m.7-.2h.8m-.7 .3h.8m-.4-.2h.8m-.1-.1h.8m-.8 0h.8m-.6 .3h.8m-.6-.4h.8m-.6 .5h.8m-.8-.5h.8m-.7 .7h.8m-.6-.7h.8m-.3 .3h.8m.1-.3h.8m-.1 .1h.8m-.8 .6h.8m-.6-.7h.8m-.4 .5h.8m-.3-.5h.8m-.8 .3h.8m.2 .4h.8m-.2-.7h.8m-.5 0h.8m-.7 .1h.8m-.4 .4h.8m-.1-.2h.8m-.5-.1h.8m.2 .5h.8m-.5-.2h.8m-.4-.4h.8m0 .1h.8m.9 .5h.8m-.4-.7h.8m.2 .7h.8m1.1-.5h.8m1.6-.1h.8m.2 .6h.8m.6-.4h.8m0 .1h.8m1.4 .2h.8m1.6-.4h.8m.3 .4h.8m-.3-.2h.8m-.3-.2h.8m-39.6 1.2h.8m3.1 .1h.8m0-.3h.8m-.3-.1h.8m0 0h.8m-.3-.2h.8m-.5 .2h.8m.3-.1h.8m-.1-.2h.8m.6 .6h.8m.8-.3h.8m-.2-.3h.8m-.4 .1h.8m-.7 .4h.8m0-.3h.8m-.2 .1h.8m-.6 0h.8m-.7 0h.8m-.5 .2h.8m-.5-.1h.8m-.7-.3h.8m0 .2h.8m-.4 .2h.8m.6-.1h.8m-.5 .2h.8m-.5 .1h.8m-.7 0h.8m-.7-.6h.8m-.8 .3h.8m-.7-.4h.8m.8 .6h.8m-.1-.5h.8m-.1 .2h.8m-.2 0h.8m-.6 0h.8m-.4 0h.8m-.7 .1h.8m-.7 .2h.8m-.3-.2h.8m-.3-.1h.8m.7 .1h.8m.1 .3h.8m-.6-.2h.8m.7-.2h.8m4.2 .4h.8m-.3-.7h.8m2.4 .7h.8m2.3-.3h.8m-40.1 .7h.8m.8-.3h.8m-.4 .5h.8m-.5-.3h.8m-.5 .5h.8m-.8-.2h.8m-.6-.5h.8m-.2 .3h.8m-.3 .1h.8m.1-.3h.8m-.3 .2h.8m-.4-.3h.8m.4 0h.8m-.7 .3h.8m.3-.3h.8m-.7 .4h.8m-.6 .2h.8m-.8-.3h.8m.4-.2h.8m-.6 .3h.8m-.7-.3h.8m-.6 .1h.8m.2 0h.8m-.6 .5h.8m-.4-.4h.8m-.5 .1h.8m-.5 .1h.8m-.7 .1h.8m-.4-.5h.8m-.4 .2h.8m-.8 .4h.8m-.7-.6h.8m-.4 .3h.8m-.2 .1h.8m-.7-.5h.8m1.4 .1h.8m-.2 0h.8m-.5 .6h.8m-.7-.7h.8m.4 .4h.8m-.8-.4h.8m-.6 .3h.8m.2 .2h.8m-.6 0h.8m-.7 .1h.8m-.7-.6h.8m.1 .5h.8m-.2-.5h.8m-.6 .4h.8m-.8 .2h.8m-.6-.3h.8m-.6 .4h.8m-.4-.2h.8m-.6 .2h.8m-.4-.7h.8m-.5 .6h.8m-.1 0h.8m.1-.2h.8m-.6-.1h.8m-.4-.3h.8m-.3 .3h.8m-.4 .2h.8m-.1 .1h.8m1.1-.2h.8m-.2 .3h.8m.8-.2h.8m-.4 .1h.8m.7-.3h.8m-.7 .1h.8m-.7-.2h.8m6.1 .5h.8m-.8-.3h.8m-44.1 1.1h.8m-.3-.1h.8m1-.6h.8m2.9 .4h.8m-.3 .3h.8m-.8-.5h.8m-.6 .2h.8m.1-.4h.8m-.5 .1h.8m-.6 0h.8m-.4 .2h.8m1.7 0h.8m.1 .4h.8m-.6-.7h.8m.4 .2h.8m-.5 .3h.8m-.6 .2h.8m-.6 0h.8m-.2-.4h.8m-.7-.2h.8m0-.1h.8m-.5 .7h.8m2.3-.4h.8m-.4 .3h.8m-.2-.6h.8m-.6 .1h.8m-.4 .1h.8m-.5 .1h.8m.3 0h.8m0 .4h.8m-.6-.6h.8m-.5 .6h.8m-.8 0h.8m.8 0h.8m-.3-.3h.8m-.6 .3h.8m-.2-.5h.8m-.4-.1h.8m-.5 .4h.8m-.6-.3h.8m-.6 0h.8m-.6-.1h.8m-.5 .6h.8m-.2-.5h.8m.2 .4h.8m-.8-.2h.8m0-.2h.8m-.2 .3h.8m-.7-.3h.8m.9 .5h.8m1.5-.4h.8m-.7-.2h.8m-.4 0h.8m-.6 .6h.8m-.3-.4h.8m-38.8 1.2h.8m-.4 0h.8m2-.4h.8m.8-.1h.8m.9 .1h.8m.2 .1h.8m-.5-.4h.8m-.6 .1h.8m-.6-.1h.8m0 .6h.8m-.1-.4h.8m.5-.1h.8m-.1 0h.8m.3 .5h.8m0-.4h.8m-.7-.1h.8m.9 0h.8m-.3 .5h.8m-.6-.5h.8m.6 .4h.8m-.5 0h.8m-.4-.2h.8m-.6 .4h.8m-.2 0h.8m-.7-.5h.8m-.7-.1h.8m-.1 .2h.8m-.5-.1h.8m-.4 0h.8m-.2 .4h.8m-.6 .1h.8m-.5 0h.8m-.5-.7h.8m-.5 0h.8m-.5 .1h.8m-.6 .1h.8m-.3 .4h.8m-.6-.6h.8m-.4 .1h.8m-.3-.1h.8m-.6 .4h.8m-.4-.2h.8m.2 .2h.8m-.7 .1h.8m-.6 .1h.8m-.8 0h.8m.1-.6h.8m-.5 .6h.8m-.2-.6h.8m0 0h.8m.6 .3h.8m.1 0h.8m2.5 0h.8m-36 .5h.8m1.7 0h.8m1.2 .5h.8m-.6-.4h.8m3 .2h.8m-.5 0h.8m.8 0h.8m-.7 .1h.8m-.5 .2h.8m-.4-.5h.8m-.8 .2h.8m.2 .2h.8m1-.2h.8m-.6-.3h.8m-.4 .3h.8m-.8-.3h.8m.1 .6h.8m-.8 .1h.8m-.6-.1h.8m-.7-.1h.8m1.1-.3h.8m0-.1h.8m0 0h.8m-.7 .1h.8m-.3-.2h.8m-.7 .7h.8m-.8-.7h.8m-.8 .5h.8m.2-.3h.8m1 .2h.8m-.3-.4h.8m-.5 .2h.8m-.5 .2h.8m-.2-.2h.8m-.6 .1h.8m-.8-.3h.8m.3 .5h.8m-.4-.5h.8m0 .3h.8m-.6 .1h.8m.5 .1h.8m.4-.2h.8m-.7 .1h.8m.8 .1h.8m-.2-.1h.8m.4-.4h.8m-.3 0h.8m-.4 .1h.8m1.2 0h.8m-.1-.1h.8m-.8 .5h.8m-.4 0h.8m2.4-.2h.8m-37 .9h.8m1.6-.2h.8m-.2 .4h.8m-.2-.1h.8m-.2 .1h.8m-.1-.6h.8m1.4 .5h.8m.8 .2h.8m-.5-.1h.8m-.7-.6h.8m.2 .2h.8m-.4 .1h.8m1.2 .1h.8m-.2-.4h.8m-.3 .7h.8m-.8-.1h.8m-.1-.2h.8m-.6 0h.8m-.7 .1h.8m-.5-.3h.8m-.2-.1h.8m1 .6h.8m-.4-.4h.8m-.1-.2h.8m-.7 .5h.8m-.8-.6h.8m-.7 0h.8m.5 .6h.8m-.7-.2h.8m-.7-.3h.8m-.6 .4h.8m-.7-.3h.8m-.4-.1h.8m-.3 .5h.8m0-.6h.8m-.7 .4h.8m-.4 .2h.8m-.5-.1h.8m.3-.1h.8m-.4 .3h.8m-.5-.2h.8m-.8-.3h.8m-.7 .5h.8m-.4-.6h.8m.3 0h.8m-.1 .4h.8m.1-.3h.8m-.5 .1h.8m-.1-.3h.8m1.4 .2h.8m-.7 .1h.8m-.8 0h.8m.4-.1h.8m.9 .2h.8m-.8-.3h.8m-.4 .2h.8m2.2 .4h.8m.8 0h.8m-52.3 .4h.8m10 .1h.8m-.3-.4h.8m1.9 .7h.8m-.7-.3h.8m2 .3h.8m-.1-.2h.8m.4 0h.8m-.6-.2h.8m-.3-.3h.8m-.3 0h.8m-.6 .6h.8m-.4 0h.8m-.6 0h.8m-.3-.6h.8m-.5 .7h.8m-.2-.1h.8m-.1-.5h.8m-.7 .3h.8m-.6 0h.8m.9-.4h.8m-.5 0h.8m-.3 .3h.8m-.8 .3h.8m-.8 0h.8m3.2-.3h.8m-.5-.1h.8m-.4-.1h.8m-.4 0h.8m-.5-.1h.8m-.4 .1h.8m-.7-.1h.8m-.7 .6h.8m.5-.6h.8m-.6 .3h.8m-.5 .2h.8m-.5-.1h.8m-.5 .3h.8m.1-.6h.8m-.8-.1h.8m-.6 .4h.8m-.4 .3h.8m-.8-.7h.8m-.6 .2h.8m-.1 0h.8m-.7 .3h.8m-.5-.5h.8m-.1 .1h.8m0 .2h.8m-.3-.3h.8m-.7 .3h.8m-.1 .1h.8m-.6-.2h.8m-.6-.1h.8m-.8 .2h.8m-.2 .3h.8m.9-.6h.8m-.5 .2h.8m.2 .4h.8m1.1-.4h.8m-.8 .2h.8m.3 .2h.8m3 0h.8m1.5-.6h.8m-49.9 1.4h.8m4.6-.4h.8m1.4 0h.8m-.5-.2h.8m.4 .7h.8m.4-.6h.8m-.7 0h.8m-.1-.1h.8m1.1 0h.8m.5 0h.8m-.7 .3h.8m-.5 .1h.8m0 0h.8m-.8 .3h.8m.5-.4h.8m.5 .3h.8m-.8-.3h.8m-.6-.3h.8m-.3 .3h.8m.1-.1h.8m-.7 .2h.8m-.3-.4h.8m-.7 .6h.8m-.5 0h.8m-.7-.2h.8m-.7 .2h.8m0-.1h.8m-.3-.5h.8m-.2 .1h.8m-.2-.1h.8m-.7 .2h.8m-.5 .4h.8m-.3 0h.8m-.8-.1h.8m2.9 .1h.8m-.3-.5h.8m-.1 0h.8m1.4 .1h.8m-.1 .2h.8m.9-.2h.8m-.7 0h.8m.5 .1h.8m1.3 .4h.8m-.1-.5h.8m1 0h.8m3.2-.2h.8m0 .7h.8m.3-.5h.8m-45.8 1.1h.8m.4-.1h.8m2 0h.8m.4 .1h.8m.4 0h.8m-.3 .2h.8m3.6-.7h.8m-.1 .4h.8m.2-.3h.8m-.4 .4h.8m.2-.3h.8m-.2-.2h.8m1 .7h.8m-.7-.3h.8m-.8 .1h.8m-.5 .2h.8m.2-.2h.8m-.4 0h.8m-.6 .1h.8m.2-.5h.8m0 .1h.8m-.5 0h.8m-.5-.2h.8m0 .7h.8m-.7-.1h.8m-.5-.1h.8m-.7 .2h.8m-.7-.1h.8m-.6-.4h.8m-.7 0h.8m-.2 .3h.8m0-.4h.8m-.6 0h.8m2.3-.1h.8m-.5 .1h.8m.1 0h.8m2.3 .6h.8m-.6-.6h.8m-.5 .2h.8m-.7-.1h.8m-.7-.1h.8m-.6-.1h.8m.1 .5h.8m-.6-.4h.8m-.4-.1h.8m-.4 .7h.8m-.8-.1h.8m.9-.3h.8m-.3 .4h.8m-.4-.3h.8m-.7-.4h.8m-.7 .3h.8m1-.1h.8m.3-.1h.8m1.1 .2h.8m-40.6 .7h.8m5.7 .1h.8m-.4-.1h.8m-.3 .2h.8m2.3 0h.8m0-.1h.8m.3-.2h.8m.1 .6h.8m-.2-.5h.8m-.8 0h.8m-.1 .4h.8m-.1-.3h.8m-.3 .2h.8m1.3 .1h.8m-.6-.1h.8m-.2 .1h.8m-.1-.1h.8m.1-.1h.8m-.4-.3h.8m7.8 0h.8m-.4 .4h.8m-.3-.4h.8m-.5 .3h.8m-.4-.4h.8m-.1 0h.8m-.6 .2h.8m-.2 .4h.8m-.1-.4h.8m-.5-.2h.8m.4 .7h.8m2.6 0h.8m2.3-.6h.8m-42.9 .7h.8m.4 .3h.8m2.7 .4h.8m-.5-.5h.8m.1 .1h.8m-.2 .4h.8m0-.1h.8m-.6 .1h.8m1.7-.7h.8m-.7 0h.8m.2 .4h.8m-.2-.3h.8m-.2 .3h.8m-.7 .1h.8m-.4-.3h.8m-.2 .5h.8m-.3-.4h.8m0-.2h.8m-.6 .2h.8m-.4-.3h.8m-.3 0h.8m-.7 .1h.8m-.7 .1h.8m-.5 .4h.8m.7-.3h.8m1.3 .4h.8m-.5-.2h.8m-.8-.4h.8m.8 .4h.8m-.4-.3h.8m6.7 .4h.8m-.3-.1h.8m-.6 0h.8m.7-.5h.8m-.8 .3h.8m-.6 .2h.8m.4-.2h.8m.1 0h.8m-.3 0h.8m.3 .4h.8m3.1-.6h.8m-.2 .2h.8m-39.1 1h.8m.3-.3h.8m.4 .2h.8m1.5-.1h.8m-.1 .2h.8m-.6-.5h.8m1.1 .4h.8m0 .3h.8m-.4-.4h.8m.1 .2h.8m-.7-.2h.8m.1 0h.8m0 .2h.8m-.6-.5h.8m-.7 .2h.8m.9 .5h.8m-.5-.5h.8m-.4-.1h.8m-.7 0h.8m-.4 .4h.8m-.6 0h.8m.2-.3h.8m-.4 .2h.8m-.5-.4h.8m.6 .6h.8m-.5-.2h.8m-.2 .1h.8m-.5 .1h.8m-.3-.2h.8m-.6 .2h.8m-.7-.4h.8m-.4 .4h.8m6.4 .1h.8m-.5-.3h.8m-.6-.1h.8m0 .4h.8m-.8-.2h.8m-.7 .1h.8m-.4-.5h.8m-.4-.1h.8m-.7 .4h.8m-.5 .1h.8m-.2-.2h.8m-.6 .1h.8m-.7-.1h.8m-.3 .1h.8m-.7-.4h.8m3.3 .3h.8m0 .1h.8m.1-.4h.8m-.7 .3h.8m-.6 .1h.8m-40.5 .5h.8m.4 .1h.8m2.5-.2h.8m.3 .1h.8m.2 .4h.8m-.5-.4h.8m2.1 .1h.8m-.5-.2h.8m-.4 .3h.8m0-.2h.8m-.7 .4h.8m-.4 .2h.8m.3-.4h.8m-.7 .2h.8m1.5-.5h.8m-.2 .6h.8m-.4 0h.8m-.1-.2h.8m-.2-.2h.8m-.3 0h.8m-.1-.2h.8m-.3 .5h.8m-.3-.5h.8m-.4 .6h.8m-.4-.2h.8m-.6-.2h.8m-.8 .5h.8m-.7-.5h.8m-.7-.1h.8m-.6 .4h.8m-.5-.3h.8m7.1-.1h.8m-.3 .1h.8m-.7 .3h.8m-.4-.4h.8m-.8 .4h.8m-.7-.2h.8m-.5 .3h.8m-.1-.2h.8m.1-.4h.8m-.6 .6h.8m-.5-.5h.8m-.1 0h.8m-.2-.1h.8m-.2 .1h.8m-.1-.1h.8m.4 .3h.8m2.7 .4h.8m1.7-.7h.8m-43.8 1.2h.8m5.3 .2h.8m2.3-.3h.8m-.2-.2h.8m1.6 .4h.8m.1-.3h.8m-.2 .5h.8m.6-.5h.8m-.7 .2h.8m-.4 .2h.8m-.3-.1h.8m-.6-.4h.8m-.3 .5h.8m-.4-.1h.8m1.2 0h.8m-.8 0h.8m-.7 0h.8m-.2-.4h.8m-.7 .1h.8m-.1 .2h.8m7.4-.3h.8m-.3-.1h.8m-.3 .4h.8m-.7 .1h.8m-.6 .1h.8m-.6-.6h.8m-.6 .1h.8m-.7 .1h.8m-.1 .5h.8m-.4-.1h.8m-.6-.3h.8m-.7-.1h.8m-.5 .2h.8m-.2-.2h.8m-.8-.2h.8m-.7 .3h.8m-.3 0h.8m-.7 .1h.8m-.4-.1h.8m0-.1h.8m.4 .2h.8m-.5 .1h.8m-.5-.5h.8m2.3 .3h.8m2.5-.1h.8m-41.5 1.1h.8m4.3-.3h.8m-.5-.2h.8m-.8 .4h.8m.5 .1h.8m-.6-.4h.8m1-.1h.8m-.6 .7h.8m-.4-.1h.8m-.8-.5h.8m-.3 .6h.8m.2-.5h.8m-.6 0h.8m-.5-.1h.8m-.6 .5h.8m-.7-.3h.8m-.8 .3h.8m-.4-.1h.8m-.8-.1h.8m-.2 .2h.8m-.5 0h.8m-.6-.6h.8m-.6 0h.8m-.6 .1h.8m-.6 .4h.8m.5-.3h.8m-.6 .5h.8m-.6-.2h.8m-.6 0h.8m-.6-.3h.8m-.3 .3h.8m-.6-.1h.8m-.5-.2h.8m-.8 .5h.8m-.3-.3h.8m-.4-.4h.8m-.7 .4h.8m-.1 0h.8m6.3-.2h.8m-.4 .5h.8m.5-.3h.8m-.8 .2h.8m-.5-.2h.8m-.8-.3h.8m-.4 .5h.8m-.5 .1h.8m.2-.6h.8m.5 .3h.8m-.8 0h.8m-.8-.1h.8m-.7 .4h.8m-.4-.5h.8m-.5 .3h.8m-.6 .1h.8m-.3 0h.8m.5-.4h.8m-.8 .5h.8m-.3-.3h.8m-43 1.1h.8m5.9-.4h.8m-.2 0h.8m-.4 .2h.8m-.7 .1h.8m-.8 .1h.8m2-.2h.8m1.2-.4h.8m-.6 .6h.8m.4-.2h.8m-.4-.2h.8m.3-.3h.8m0 .6h.8m0-.1h.8m-.8-.1h.8m.1-.2h.8m-.6 .5h.8m-.3-.5h.8m-.6 0h.8m-.7 .4h.8m-.2 .1h.8m-.5-.1h.8m-.2-.5h.8m0-.1h.8m.6 .2h.8m0 .1h.8m-.4-.3h.8m-.5 .6h.8m.3-.2h.8m-.7-.3h.8m-.5 .3h.8m-.5-.3h.8m0-.1h.8m6 0h.8m-.3 .3h.8m-.6-.2h.8m-.8 .4h.8m.4-.2h.8m-.7 0h.8m.1 .1h.8m-.1-.1h.8m-.7-.2h.8m-.8 .5h.8m1.5-.6h.8m-.4 .1h.8m.5 .2h.8m-.5 .3h.8m-.4 0h.8m.3 0h.8m4.1-.6h.8m1.6 .2h.8m-50.1 .6h.8m1 .3h.8m.6 .3h.8m1.8-.1h.8m1.2-.4h.8m-.6 .3h.8m1.1 .1h.8m.1 .2h.8m-.3-.2h.8m.5 .1h.8m-.1-.6h.8m-.7 .4h.8m.2-.1h.8m.2 .1h.8m-.8-.4h.8m-.2 .4h.8m.1-.4h.8m-.5 .2h.8m.5 .4h.8m.4-.1h.8m0-.1h.8m-.6 0h.8m-.7 .2h.8m-.5 0h.8m1 0h.8m.1 0h.8m-.7 .1h.8m-.7-.3h.8m-.7-.4h.8m7.6 .7h.8m-.3-.5h.8m-.7 .5h.8m-.2 0h.8m-.4-.3h.8m-.8-.2h.8m-.6 .3h.8m-.7 .1h.8m-.5-.1h.8m-.7-.3h.8m-.8 .2h.8m-.6-.2h.8m-.2 .5h.8m1.1-.6h.8m-.4 .3h.8m-.1-.1h.8m-35.5 1.2h.8m-.1-.2h.8m.3-.3h.8m.8 .3h.8m-.4-.5h.8m-.8 .5h.8m-.7-.1h.8m-.4-.3h.8m-.1-.1h.8m-.8 .6h.8m1 .1h.8m-.3-.2h.8m-.6 0h.8m-.6-.2h.8m-.3 0h.8m-.2-.1h.8m-.4 0h.8m.2-.1h.8m-.8 .6h.8m-.6-.1h.8m-.6-.2h.8m-.5-.2h.8m-.6 .4h.8m.1 .1h.8m2.1-.6h.8m-.2 0h.8m-.2 .6h.8m.2-.6h.8m-.6-.1h.8m0 .4h.8m-.7 .2h.8m-.7-.3h.8m1.2 .2h.8m7.5-.5h.8m-.5 .7h.8m-.7-.4h.8m.2-.3h.8m0 .7h.8m-.6-.5h.8m1-.1h.8m.5-.1h.8m.2 .1h.8m4.4 0h.8m.7 .2h.8m-44.9 .5h.8m2.6 .1h.8m-.8 .3h.8m2.5 .1h.8m.4-.3h.8m-.8 .3h.8m-.5-.5h.8m-.7 .5h.8m.4-.4h.8m.3-.1h.8m.8 0h.8m-.8 .7h.8m-.7-.3h.8m-.6 0h.8m-.6-.4h.8m.5 .4h.8m.4 0h.8m.9-.4h.8m-.5 .1h.8m.9 .4h.8m.2 0h.8m-.6-.4h.8m-.6 .1h.8m-.7-.2h.8m-.7 .4h.8m-.3 .3h.8m-.6-.4h.8m.2 .4h.8m.8-.6h.8m-.7 0h.8m-.7 .2h.8m-.7 .4h.8m1.3-.3h.8m-.6 .2h.8m-.7-.2h.8m.5 .3h.8m-.8-.3h.8m.5-.3h.8m-.7 .4h.8m-.8 .1h.8m-.6 .1h.8m-.2 0h.8m-.6-.2h.8m-.8-.1h.8m-.7-.2h.8m-.4 .5h.8m.4-.5h.8m5.5-.1h.8m2.6-.1h.8m.4 .5h.8m1.3 .2h.8m-46.3 .2h.8m7.7 .3h.8m-.8 .3h.8m-.3-.4h.8m-.6 0h.8m.6-.3h.8m-.4 .6h.8m-.5-.1h.8m-.7-.1h.8m0 .3h.8m-.7 0h.8m-.8-.6h.8m-.1 .6h.8m-.6-.4h.8m-.3-.3h.8m-.6 .2h.8m-.7-.1h.8m2.7 .2h.8m-.1 .1h.8m-.1-.2h.8m-.2 .4h.8m-.2-.6h.8m.6 0h.8m.1 .5h.8m-.7 .2h.8m-.8-.1h.8m-.3-.6h.8m-.4 .3h.8m-.6-.3h.8m.1 .2h.8m.5 .3h.8m0 0h.8m-.8 .1h.8m.1-.5h.8m-.8 .4h.8m-.4-.5h.8m0 .6h.8m-.5-.3h.8m0 .4h.8m-.6-.6h.8m-.7 .1h.8m.6-.1h.8m-.2-.1h.8m2.8 .5h.8m4.1-.1h.8m-38.5 1h.8m-.7 .1h.8m-.3-.5h.8m5.1-.2h.8m0 .6h.8m-.7-.4h.8m-.3-.1h.8m.1 0h.8m-.6 .5h.8m.8 0h.8m-.4-.2h.8m-.7-.3h.8m-.7 .3h.8m.7 0h.8m-.3-.1h.8m-.8-.1h.8m-.7 .2h.8m-.4-.4h.8m-.3 .4h.8m.7-.1h.8m-.4 .3h.8m-.8-.4h.8m-.7-.1h.8m-.7 .1h.8m-.3-.2h.8m-.5 .2h.8m-.8 .2h.8m-.7-.3h.8m-.8 .2h.8m-.4-.3h.8m-.7 .7h.8m2.1 0h.8m.4-.6h.8m-.3 .3h.8m-.2-.1h.8m-.1 .1h.8m-.8 .3h.8m.4 0h.8m-.4-.1h.8m-.5-.1h.8m-.4-.5h.8m-.6 .2h.8m.6 0h.8m-.6 .5h.8m.1-.3h.8m1.1-.1h.8m-.6-.1h.8m-24.7 .9h.8m-.5 .3h.8m-.7-.2h.8m-.7-.3h.8m-.1 .6h.8m-.6-.1h.8m-.1-.3h.8m-.7-.2h.8m-.7 .2h.8m-.7 .4h.8m-.2-.1h.8m-.7-.6h.8m0 .6h.8m-.6-.5h.8m-.7 .5h.8m-.5-.4h.8m-.2 0h.8m-.7 .3h.8m1-.2h.8m-.3 0h.8m2 .4h.8m-.8-.7h.8m2.6 .1h.8m3 .2h.8m-.2-.2h.8m-.7 .6h.8m-.3-.5h.8m-.2 0h.8m-.1 .5h.8m-.1-.5h.8m1.5 .1h.8m-24 .5h.8m-.7 .2h.8m-.8 .1h.8m.4 .4h.8m0-.6h.8m-.3 0h.8m1.4 0h.8m-.5 .6h.8m-.7-.6h.8m-.5 .4h.8m-.5 0h.8m.1-.2h.8m-.7 .1h.8m-.7 .2h.8m.8-.4h.8m1 .2h.8m.6 .1h.8m-.4-.2h.8m-.7-.3h.8m.1 .3h.8m-.6 .3h.8m.7-.5h.8m-.7 .1h.8m-.4-.1h.8m-.4 .2h.8m2 .3h.8m.8-.1h.8m-.4 .2h.8m.4-.6h.8m1-.1h.8m3 .3h.8m2.1 .2h.8m.5-.1h.8m2.1 .1h.8m-34.7 .5h.8m-.8 .4h.8m2.1-.4h.8m.2 .4h.8m-.8 .1h.8m-.8-.1h.8m.8-.1h.8m3.2 .1h.8m-.7 .1h.8m-.5 0h.8m2.7-.5h.8m-.3 .3h.8m-.7-.3h.8m-.7 .2h.8m1.3 .2h.8m.9 .1h.8m.6-.2h.8m0 .2h.8m2.8-.4h.8m-35.5 1h.8m2 .2h.8m-.6-.7h.8m6.9 .2h.8m-.3 .4h.8m.6-.3h.8m-.6 .3h.8m1.6-.4h.8m-.2 0h.8m1 .2h.8m-.5 .1h.8m.6-.3h.8m.9-.1h.8m1.2 .4h.8m.1-.4h.8m.5 .5h.8m.1 0h.8m.2-.1h.8m.5-.5h.8m.2 .3h.8m3.2 0h.8m.7-.3h.8m3.2 .5h.8m2.2-.5h.8m-31.9 1h.8m-.4-.2h.8m-.8 .3h.8m1.7-.1h.8m4.2 .3h.8m1.6-.1h.8m1.6-.1h.8m.2 0h.8m-.5 .1h.8m3.5 .1h.8m.3-.5h.8m2.7 .6h.8m-.5-.1h.8m0 0h.8m-17.2 .5h.8m4.1 .3h.8m-.2-.4h.8m1.5 0h.8m7.9 .4h.8m5.6-.5h.8m6.3 .4h.8m-47.1 1.1h.8m1.7 0h.8m-.4 0h.8m3.1-.6h.8m.1 .4h.8m-.7 .2h.8m1.3-.1h.8m-.4-.6h.8m4.7 .7h.8m-.3-.1h.8m.3-.6h.8m2.5 .3h.8m2.7 0h.8m1.3 .4h.8m-.6-.1h.8m.3-.3h.8m5.2 .4h.8m-37.7 .1h.8m-.3 0h.8m5 .1h.8m-.1 .5h.8m1.5-.5h.8m3.1 .5h.8m8.5-.3h.8m.9 .2h.8m2.2-.4h.8m.5 0h.8m1.7 .2h.8m.1-.2h.8m-30.4 .7h.8m3.8 .5h.8m-.5-.5h.8m-.7 0h.8m-.3 .1h.8m-.8 .4h.8m-.8-.5h.8m-.6 0h.8m-.5 .5h.8m-.8-.4h.8m2.7 .3h.8m.3 .1h.8m2-.4h.8m-.7 .4h.8m-.3-.5h.8m3 .4h.8m-.6-.3h.8m1.6-.1h.8m-.8 .7h.8m-.5-.4h.8m2-.1h.8m17.8 .2h.8m-49.1 .5h.8m12.1 .3h.8m3.4 .1h.8m2.8-.2h.8m.4-.1h.8m-11.6 .8h.8m5-.1h.8m2.7 .3h.8m.4 .1h.8m-.4-.3h.8m-.7 .2h.8m8.6 .2h.8m2.7-.3h.8m2 .2h.8m-17.9 .4h.8m12.6 .2h.8m0 .4h.8m-21.4 .6h.8m6.2 .1h.8m.4 0h.8m-9.5 .6h.8m5.1 0h.8m3.4 .7h.8m-8.6 .7h.8m8.4 1.1h.8m1.7-.1h.8m9.3-.3h.8" stroke="rgb(70, 100, 195)" stroke-width="0.8" stroke-opacity="0.55" fill="none"/>
<path d="M317 512.5h.8m-.7 0h.8m-.6-.2h.8m-.7 0h.8m-.6-.3h.8m-.5 .2h.8m-.5 .4h.8m-.7-.1h.8m1.9 0h.8m-.7 0h.8m-.8 .1h.8m-.7-.1h.8m0-.4h.8m-.3 .6h.8m-6.9 .7h.8m-.7-.1h.8m-.2 .1h.8m-.6 0h.8m-.7-.6h.8m-.6 .3h.8m-.8 0h.8m-.6-.1h.8m-.6 .4h.8m-.5-.4h.8m-.6 0h.8m-.4 .1h.8m-.8 .3h.8m-.7-.2h.8m-.4 .2h.8m-.1-.4h.8m0-.2h.8m-.6 .7h.8m-.3-.5h.8m-.6 .5h.8m-.7-.2h.8m-.8-.5h.8m-.8 .3h.8m-.6 .4h.8m-.6-.4h.8m-.4 0h.8m-.7-.1h.8m-.6 .5h.8m-.7-.4h.8m-.7 .3h.8m-.5 0h.8m-8.1 .5h.8m-.6-.2h.8m-.2 0h.8m-.8-.1h.8m-.4 .6h.8m-.8-.4h.8m-.7 0h.8m-.2-.1h.8m-.8 .2h.8m-.7 .3h.8m-.7-.1h.8m-.6-.4h.8m.1 .4h.8m-.6 .2h.8m-.7-.4h.8m-.7-.2h.8m-.4 .4h.8m-.8 0h.8m-.1 .1h.8m-.6-.5h.8m-.6 .1h.8m-.7-.2h.8m-.5 .2h.8m-.4 0h.8m-.2 .5h.8m-.6-.7h.8m-.6 .3h.8m-.8 0h.8m-.7-.1h.8m-.6 0h.8m-.7 .2h.8m-7.9 .5h.8m-.7 .5h.8m-.6 .1h.8m-.5-.5h.8m-.3 .1h.8m-.7 0h.8m-.7-.2h.8m-.6 .1h.8m-.8 .3h.8m-.6-.3h.8m-.2 .2h.8m-.5-.2h.8m-.6 .3h.8m-.8-.3h.8m-.5-.2h.8m-.8 .7h.8m-.7-.5h.8m-.1 .1h.8m-.8 .2h.8m-.7-.3h.8m-.2 .1h.8m-.8 .4h.8m-.6-.4h.8m-.6 .4h.8m-.7-.5h.8m-.5 .1h.8m-.5-.1h.8m-.6-.2h.8m-.7 .7h.8m-.2-.3h.8m-.7-.3h.8m-8.6 1.4h.8m.2-.3h.8m-.7 .2h.8m-.5-.4h.8m-.5 .3h.8m-.8 .2h.8m-.7-.7h.8m-.8 .7h.8m-.8 0h.8m-.6-.5h.8m-.5 .2h.8m-.7 .2h.8m-.2-.1h.8m-.8 .1h.8m-.6-.4h.8m-.6-.2h.8m-.7 .6h.8m-.7-.3h.8m-.5 .1h.8m0-.1h.8m-.7 .3h.8m-.8-.3h.8m-.7 0h.8m-.7 .2h.8m-.2 .1h.8m-.5-.4h.8m-.7 .3h.8m-.6 .2h.8m-.6-.2h.8m-.7 .1h.8m-.3-.3h.8m-.6 .3h.8m-8 .3h.8m-.1 .3h.8m-.6 .1h.8m-.7-.1h.8m-.7 .2h.8m-.7-.4h.8m-.7-.1h.8m.1 .4h.8m-.7-.5h.8m-.5 .1h.8m-.7 .2h.8m-.4-.3h.8m0 .7h.8m-.8-.2h.8m-.3-.2h.8m-.5-.1h.8m-.6 .3h.8m-.6-.4h.8m-.5 .6h.8m-.8-.4h.8m-.2-.2h.8m-.2 .3h.8m-.7-.1h.8m-.7 .3h.8m-.5 .1h.8m-.5 0h.8m-9.3 .6h.8m-.7-.1h.8m-.5-.2h.8m-.5-.1h.8m-.7 .3h.8m-.2-.2h.8m-.8 .5h.8m-.2-.7h.8m-.7 .6h.8m-.1-.2h.8m-.8 .3h.8m-.7-.5h.8m-.3 .1h.8m-.8 .1h.8m-.5-.2h.8m-.1 .4h.8m-.8-.1h.8m-.2 .1h.8m-.4-.5h.8m-.7 .3h.8m-.7-.3h.8m-.8 .2h.8m-.5 0h.8m-.6-.3h.8m-.4 .2h.8m-.6 0h.8m0 .2h.8m-.8 .2h.8m-8.4 .8h.8m-.7-.2h.8m-.5 0h.8m-.8 .2h.8m.6-.3h.8m-.6 .3h.8m-.8-.6h.8m-.6 0h.8m-.6 .1h.8m-.7 .3h.8m-.6 0h.8m-.3-.4h.8m-.8 .3h.8m-.7 .2h.8m-.8 .2h.8m-.6-.3h.8m-.8-.1h.8m-.6 0h.8m-.7-.2h.8m-.3 .5h.8m-.7-.6h.8m-.8 .6h.8m-.5-.3h.8m-.6 0h.8m-.8-.2h.8m-.7 0h.8m-.4-.1h.8m-.8 .4h.8m-.5-.3h.8m-.7 .3h.8m-.5-.1h.8m-.3-.3h.8m-.6 .7h.8m-.3-.7h.8m-8.9 1.4h.8m.2 .1h.8m-.8 0h.8m-.7-.2h.8m-.7 .1h.8m-.3-.1h.8m-.5 .2h.8m-.5-.4h.8m-.7-.2h.8m-.3 .1h.8m-.6 .2h.8m-.8 .3h.8m-.4-.5h.8m-.7 0h.8m-.6 0h.8m-.5 .5h.8m-.4-.1h.8m-.3-.3h.8m-.7 .1h.8m-.7 .1h.8m-.3 .1h.8m-.8-.2h.8m-.4 .2h.8m-.5-.1h.8m-.6 .2h.8m-.5 0h.8m-.5-.2h.8m-.8-.5h.8m-.7 .2h.8m-.6 .1h.8m-.8 .2h.8m-7.9 1h.8m-.6-.6h.8m0 .2h.8m-.8 .4h.8m-.6-.3h.8m-.7 .3h.8m-.6-.3h.8m-.8 0h.8m-.7 .3h.8m-.5-.5h.8m-.7 .2h.8m-.2 0h.8m-.4 0h.8m-.7 0h.8m-.8-.2h.8m-.6 .3h.8m-.8 0h.8m-.3-.1h.8m-.6 .1h.8m-.8 0h.8m-.6-.5h.8m-.8 .1h.8m-.6 .4h.8m-.6-.2h.8m-.7 .3h.8m-.1-.5h.8m-.4 .2h.8m-.6-.2h.8m-.4 .3h.8m-.2-.2h.8m-8.3 1h.8m-.7-.2h.8m-.6-.1h.8m.1-.1h.8m-.7 .3h.8m-.7-.1h.8m-.8 .3h.8m-.5-.3h.8m-.7 .3h.8m-.7-.1h.8m-.5 0h.8m-.7-.3h.8m-.7 0h.8m-.8 .6h.8m-.6-.4h.8m-.7 .3h.8m-.8-.4h.8m-.3 .3h.8m-.1-.3h.8m-.7-.1h.8m-.8 .2h.8m-.7-.1h.8m-.8-.2h.8m-.6 .2h.8m-.8 .3h.8m-.3-.1h.8m-.1-.2h.8m-.7 .4h.8m-.8-.2h.8m-.7-.4h.8m-.7 .3h.8m-.4 .1h.8m-.5 .1h.8m-.3 0h.8m-.6-.1h.8m-.6-.1h.8m-.8 0h.8m-27.4 1h.8m-.2-.2h.8m-.7 0h.8m-.8 0h.8m-.3 .4h.8m-.3-.5h.8m17.6 .2h.8m-.4 .1h.8m-.6-.2h.8m-.5-.3h.8m-.6 .6h.8m-.4-.3h.8m-.6 .1h.8m1.6-.4h.8m-.6 0h.8m-.8 .3h.8m-.5-.3h.8m-26.3 1.5h.8m-.5-.1h.8m-.5-.2h.8m.5-.4h.8m1 .6h.8m-.6-.5h.8m-.4 .5h.8m17.2-.6h.8m-23.2 1h.8m-.7-.2h.8m2.8 .2h.8m.4 .3h.8m-.7-.1h.8m-6.8 1.1h.8m4.9-.2h.8m-.8 .2h.8m-.7-.2h.8m-.7-.4h.8m-.7 .1h.8m-.3 .2h.8m-.8 .2h.8m-6.6 .9h.8m-.7-.4h.8m4.5 .3h.8m-.6-.6h.8m-.8 .4h.8m-.8 .2h.8m-6.9 .2h.8m-.8 .7h.8m-.8-.1h.8m-.6-.6h.8m4.5 .6h.8m-.4-.5h.8m-.6 .2h.8m-6.7 1.5h.8m-.6-.2h.8m3.3 .7h.8m-.6-.2h.8m-.2 .1h.8m-.8 0h.8m-6.2 .5h.8m-.2-.3h.8m-.2 .5h.8m-.5 .2h.8m1.5-.4h.8m-.7 .3h.8m-.5 .1h.8m-.7 0h.8m-.7-.4h.8m-.7 .1h.8m-4.5 .6h.8m-.4 0h.8m-.6-.2h.8m-.6 .1h.8m.2 .5h.8m-.4 0h.8m-.7-.1h.8m-.2-.3h.8m-2.8 .9h.8m-.4-.3h.8m-.5 .5h.8m-.2 0h.8" stroke="rgb(56, 91, 189)" stroke-width="0.8" stroke-opacity="0.55" fill="none"/>
<path d="M294.1 521.7h.8m-.7 .4h.8m-.7-.1h.8m-.5 .1h.8m-.6-.2h.8m-.7 .1h.8m-.2 .2h.8m-.8 0h.8m-.6-.1h.8m-.8 .1h.8m-.1 0h.8m-.7 .1h.8m-4.2 .8h.8m-.6-.4h.8m-.5 .1h.8m-.4-.3h.8m-.6 .1h.8m-.6 0h.8m-.7-.2h.8m-.8 0h.8m-.6 .2h.8m0-.1h.8m-.3 .1h.8m-.7-.1h.8m-.2 .1h.8m-.6 .5h.8m-.5-.2h.8m-.7 .1h.8m-.8-.3h.8m-.4 .4h.8m-5.3 .1h.8m-.4 .2h.8m-.8 0h.8m-.7-.1h.8m2.3 .2h.8m-.6-.3h.8m-.8 .1h.8m-.4 0h.8m-1.1 2.9h.8m-.8 .2h.8m-3.6 1.1h.8m-.7 .3h.8m-.4-.1h.8m-.7 .1h.8m-.7-.1h.8m-.8 .1h.8m-.7-.3h.8m-.6 .4h.8m-.6 0h.8m-.8-.3h.8m-.6-.1h.8m-1.5 .5h.8m-.6 .2h.8m-.4 .1h.8m-.6-.1h.8" stroke="rgb(44, 91, 186)" stroke-width="0.8" stroke-opacity="0.8" fill="none"/>
<path d="M296.8 523.7h.9m-.8 .2h.9m-1 .7h.9m-.9 0h.9m-.8-.3h.9m-.8-.1h.9m-.5 .2h.9m-.8 .2h.9m-1.3 .9h.9m-.8-.5h.9m-.3 .4h.9m-5.7 1.6h.9m-.5 0h.9m-.9 .1h.9m-.5-.4h.9m-.9 0h.9m-.8-.1h.9m1.1 .2h.9m-.5 .1h.9m-.6-.4h.9m-.7 .2h.9m-4.7 .5h.9m-.4 .1h.9m-.6-.1h.9m2.1 0h.9" stroke="rgb(42, 121, 196)" stroke-width="0.9" stroke-opacity="0.8" fill="none"/>
<path d="M296.1 523h.9m-.5 .1h.9m-.8 0h.9m-.9-.1h.9m-4.1 .9h.9m-.7 0h.9m-.6-.1h.9m1.1-.6h.9m-.8 .4h.9m-.8-.2h.9m-.8 .2h.9m-.8-.1h.9m-4.2 .5h.9m-.7 .1h.9m-.8 .4h.9m-.9-.4h.9m-.5 .1h.9m-.9 0h.9m-.8 .2h.9" stroke="rgb(40, 150, 203)" stroke-width="0.9" stroke-opacity="1" fill="none"/>
<path d="M294.2 522.7h.9m-.8 .3h.9m-.6-.2h.9m-.8-.1h.9m-.9-.1h.9m-.8 .3h.9m-1.6 .3h.9m-.6 .2h.9m-.8-.1h.9m-.7 0h.9m-.9 .3h.9m-.9-.3h.9m-.8 .2h.9m-2.7 1.1h.9m-.9 0h.9m-.4 .1h.9m-.9-.1h.9m-1.4 .2h.9m-.8 .7h.9m-.9 0h.9m-.7-.2h.9m-.8-.1h.9m-.8 .1h.9m-.9 .1h.9m-.8-.4h.9m-.9 0h.9m-.8-.2h.9m-.8 .3h.9m-.8 .2h.9m-1.7 .7h.9m-.8-.2h.9m-.8 0h.9m-.7 .5h.9m-.8-.6h.9m-.8 .4h.9m-.9-.2h.9m-.8 .3h.9m-.9 .3h.9m-.7 .2h.9m-.8 .4h.9m-.9-.5h.9m-.8 .3h.9m-.8-.1h.9m-.7 0h.9m-.8 .3h.9m-.7 0h.9m-.9-.5h.9m-.9 .1h.9m-.9 .3h.9m-.9 .1h.9m-1.5 .1h.9m-.8 0h.9m-.6 0h.9m-.9 .2h.9m-.8-.2h.9m-.8 0h.9" stroke="rgb(55, 170, 161)" stroke-width="0.9" stroke-opacity="1" fill="none"/>
<path d="M294.9 522.8h.9m-.9-.1h.9m-.8 .2h.9m-.8 .2h.9m-.9-.4h.9m-.9 .4h.9m-.7 0h.9m-.9-.4h.9m-.8 0h.9m-.8 .3h.9m-.8 .1h.9m-.7 0h.9m-.9-.3h.9m-.9 .2h.9m-1.5 .2h.9m-.8 .3h.9m-.9-.1h.9m-.8-.1h.9m-.9-.1h.9m-.9 .1h.9m-.4 3h.9m-.9-.6h.9m-.9 .4h.9m-.8-.3h.9m-.9-.2h.9m-.9 .6h.9m-.8 .1h.9m-.9-.3h.9m-.5 .1h.9m-.9 0h.9m-.9-.1h.9m-.7 0h.9m-2.7 .9h.9m-.9 0h.9m-.8-.1h.9m-.8 .1h.9m-.8 0h.9m-.9-.3h.9m-.9 .4h.9m-.8 .1h.9m-.8-.1h.9m-.8-.3h.9m-.4-.3h.9m-.3 .1h.9m-2.6 .7h.9m-.4 0h.9m-.9 0h.9m-.5 .3h.9" stroke="rgb(70, 190, 120)" stroke-width="0.9" stroke-opacity="1" fill="none"/>
<path d="M296.2 523.9h.9m-.6 0h.9m-.7-.2h.9m-1.6 .5h.9m-.9 .4h.9m-.8-.1h.9m-.9-.1h.9m-.9-.1h.9m-.8 0h.9m-.9-.2h.9m-.8 .2h.9m-.9 0h.9m-.8 .2h.9m-.8 0h.9" stroke="rgb(137, 203, 80)" stroke-width="0.9" stroke-opacity="1" fill="none"/>
<path d="M294 523.6h.9m-.8 .1h.9m-.5 0h.9m-.8-.1h.9m-.8 .1h.9m-.9 .1h.9m-.7 0h.9m-.9-.1h.9m-1.8 .8h.9m-.6-.4h.9m-.7-.1h.9m-.9 .4h.9m-.9-.1h.9m-.8-.1h.9m-.9 .3h.9m-.8-.5h.9m-.9 .5h.9m-.9-.5h.9m-.8 .5h.9m-.9-.5h.9m.2 .6h.9m-.7 0h.9m-.7 .1h.9m-.9-.1h.9m-.8 0h.9m-.6 .1h.9m-1.7 .6h.9m-.9-.2h.9m-.9 .3h.9m-.8 .1h.9m-.9-.6h.9m-.8-.1h.9m-.9 .1h.9m-.8 .6h.9m-.9-.7h.9m-.8 .5h.9m-.9-.2h.9m-.8 .3h.9m-.7-.1h.9m-.8 0h.9m-.9 0h.9m-.9 0h.9m-.8-.2h.9m-.9 0h.9" stroke="rgb(202, 211, 44)" stroke-width="0.9" stroke-opacity="1" fill="none"/>
<path d="M294 526.2h.9m-.9-.2h.9m-.8-.3h.9m-.9 .5h.9m-.9 0h.9m-.9-.6h.9m-.8 0h.9m-.9 .6h.9m-.8-.4h.9m-.8 .3h.9m-.9-.5h.9m-.9 .3h.9m-.8 .3h.9m-.9-.6h.9m-.8 .2h.9m-.8 .4h.9m-.9-.1h.9m-.8 0h.9m-.9-.2h.9m-.8 0h.9m-1.9 .6h.9m-.7 0h.9m-.8-.1h.9m-.8 0h.9m-.5 0h.9m-.8 .1h.9" stroke="rgb(228, 173, 32)" stroke-width="0.9" stroke-opacity="1" fill="none"/>
<path d="M294.9 523.9h.9m-.6-.2h.9m-.6 0h.9m-.9 .2h.9m-.9 0h.9m-.8-.1h.9m-.7 0h.9m-.9 0h.9m-.9 0h.9m-2.7 .8h.9m-.6 .1h.9m-.5 0h.9m-.8 0h.9m-.7-.4h.9m-.8 .2h.9m-.9-.3h.9m-.9 .2h.9m-.9-.2h.9m-.9 .3h.9m-.8-.4h.9m-.9-.1h.9m-.9 .1h.9m-.8 .1h.9m-.9-.1h.9m-.8 .4h.9m-.8-.3h.9m-.9 .2h.9m-.8-.4h.9m-.8 .3h.9m-.9 .1h.9m-.8-.1h.9m-.9-.2h.9m-2.7 1.2h.9m-.9-.1h.9m-.8-.1h.9m-.9-.2h.9m-.9 .3h.9m-.8 .2h.9m-.9-.6h.9m-.8 .7h.9m-.9-.7h.9m-.8 .1h.9m-.9 .5h.9m-.8-.6h.9m-.9 .7h.9m-.8-.5h.9m-.8-.2h.9m-.9 .3h.9m-.8-.1h.9m-.9 .4h.9m-.9-.6h.9m-.8 0h.9m-.9 0h.9m-.7 .7h.9m-1.1 .4h.9m-.9 .2h.9m-.8-.2h.9m-.9-.2h.9m-.9 .3h.9m-.9-.2h.9m-.9 .2h.9m-.8 0h.9m-.9 .3h.9m-.8-.6h.9m-.9 .6h.9m-.9 0h.9m-.8-.7h.9m-.7 .3h.9m-.9 .2h.9m-.9-.2h.9m-.9 0h.9m-.9-.3h.9m-.9 .4h.9m-.8-.4h.9m-.8 .6h.9m-.8 .1h.9m-1.8 .1h.9m-.8 .1h.9m-.5-.1h.9m-.6 0h.9" stroke="rgb(240, 122, 25)" stroke-width="0.9" stroke-opacity="1" fill="none"/>
<path d="M294.9 524.7h.9m-.8-.1h.9m-.9 0h.9m-.6 0h.9m-.8 0h.9m-.8 0h.9m-1.5 .8h.9m-.9-.6h.9m-.8 .6h.9m-.9-.6h.9m-.9 0h.9m-.8 .6h.9m-.9-.3h.9m-.8-.2h.9m-.9 .2h.9m-.9 0h.9m-.9 .4h.9m-.9-.6h.9m-.9 .5h.9m-.8-.4h.9m-.9 .5h.9m-.7-.1h.9m-.9-.3h.9m-.9 .2h.9m-.9 .1h.9m-.8-.2h.9m-.9 .3h.9m-.8-.5h.9m-.8-.1h.9m-.9 0h.9" stroke="rgb(220, 30, 20)" stroke-width="0.9" stroke-opacity="1" fill="none"/>
</g>
<line x1="281.40" y1="477.10" x2="343.00" y2="477.10" stroke="#666" stroke-width="0.8"/>
<line x1="281.40" y1="477.10" x2="281.40" y2="539.10" stroke="#555" stroke-width="0.8"/>
<line x1="281.40" y1="539.10" x2="343.00" y2="539.10" stroke="#666" stroke-width="0.8"/>
<line x1="343.00" y1="477.10" x2="343.00" y2="539.10" stroke="#888" stroke-width="0.8"/>
<line x1="302.34" y1="477.10" x2="302.34" y2="539.10" stroke="#505050" stroke-width="0.8"/>
<line x1="281.40" y1="509.34" x2="343.00" y2="509.34" stroke="#3a3a3a" stroke-width="1.2"/>
<line x1="279.80" y1="483.30" x2="281.40" y2="483.30" stroke="#777" stroke-width="0.6"/>
<text x="279.4" y="484.2" font-size="3" fill="#666" text-anchor="end">10</text>
<line x1="279.80" y1="497.56" x2="281.40" y2="497.56" stroke="#777" stroke-width="0.6"/>
<text x="279.4" y="498.5" font-size="3" fill="#666" text-anchor="end">10</text>
<line x1="279.80" y1="515.54" x2="281.40" y2="515.54" stroke="#777" stroke-width="0.6"/>
<text x="279.4" y="516.4" font-size="3" fill="#666" text-anchor="end">10</text>
<line x1="279.80" y1="525.46" x2="281.40" y2="525.46" stroke="#777" stroke-width="0.6"/>
<text x="279.4" y="526.4" font-size="3" fill="#666" text-anchor="end">10</text>
<line x1="279.80" y1="534.76" x2="281.40" y2="534.76" stroke="#777" stroke-width="0.6"/>
<text x="279.4" y="535.7" font-size="3" fill="#666" text-anchor="end">10</text>
<ellipse cx="280.1" cy="525.1" rx="0.9" ry="1.2" fill="#111"/>
<line x1="286.33" y1="539.10" x2="286.33" y2="540.70" stroke="#777" stroke-width="0.6"/>
<text x="286.3" y="543.9" font-size="3" fill="#666" text-anchor="middle">10</text>
<line x1="294.95" y1="539.10" x2="294.95" y2="540.70" stroke="#777" stroke-width="0.6"/>
<text x="295.0" y="543.9" font-size="3" fill="#666" text-anchor="middle">10</text>
<line x1="304.81" y1="539.10" x2="304.81" y2="540.70" stroke="#777" stroke-width="0.6"/>
<text x="304.8" y="543.9" font-size="3" fill="#666" text-anchor="middle">10</text>
<line x1="323.90" y1="539.10" x2="323.90" y2="540.70" stroke="#777" stroke-width="0.6"/>
<text x="323.9" y="543.9" font-size="3" fill="#666" text-anchor="middle">10</text>
<line x1="338.69" y1="539.10" x2="338.69" y2="540.70" stroke="#777" stroke-width="0.6"/>
<text x="338.7" y="543.9" font-size="3" fill="#666" text-anchor="middle">10</text>
<ellipse cx="295.0" cy="540.1" rx="1.4" ry="0.8" fill="#111"/>
<g filter="url(#fblur)">
<path d="M103.3 567h.8m7.2 2.9h.8m-12 1.8h.8m5.4-.5h.8m-7.7 1h.8m8.3-.1h.8m-.5 .1h.8m1.1 .5h.8m-8.2 .8h.8m1.5-.5h.8m2.5-.2h.8m1.5 .2h.8m-7.9 1.2h.8m8-.1h.8m-16.9 .8h.8m2.9-.4h.8m2.7 .3h.8m-.6-.1h.8m4.1 .2h.8m3.5-.4h.8m2.2 .3h.8m2.4-.1h.8m-26.1 .6h.8m4.5 .5h.8m5.6-.2h.8m-.4 .2h.8m-.6-.4h.8m2.1 .1h.8m.3 .1h.8m0-.4h.8m.1 .5h.8m2-.1h.8m-25.5 1.1h.8m.9-.6h.8m5.7 .3h.8m1.2-.1h.8m.6 .1h.8m3.9 .1h.8m-.5 0h.8m-.5-.3h.8m.3 .3h.8m-.6-.5h.8m5.1 .1h.8m-9.2 1.1h.8m-.8 .2h.8m.7-.3h.8m-.5 .3h.8m3-.6h.8m-.4 .4h.8m1.3 0h.8m-19.6 .8h.8m4.7-.2h.8m2.3 .3h.8m-.7-.5h.8m.8 .4h.8m-.1 .3h.8m-.6-.4h.8m2.6-.2h.8m1-.1h.8m-.7 .3h.8m-.7 .3h.8m5.6 .1h.8m-18.4 .2h.8m-.5 .2h.8m-.1-.1h.8m1.4 0h.8m1.2 .4h.8m-.2-.5h.8m0-.1h.8m.6 .4h.8m-.7-.3h.8m2.2 .3h.8m1-.4h.8m-16.3 1.3h.8m-.8-.4h.8m0 .1h.8m5.1-.2h.8m3.1 .5h.8m-.5 0h.8m-.3-.1h.8m.7-.2h.8m1.2-.2h.8m.6 .4h.8m-16.2 .9h.8m.8-.3h.8m3.1 .4h.8m.3-.1h.8m.5-.5h.8m.3 0h.8m-.3 .1h.8m2.3 .1h.8m2.9-.1h.8m-.7 .4h.8m-18.2 .4h.8m-.4 .6h.8m5.5-.5h.8m-.2 .3h.8m-.5-.5h.8m.2 .4h.8m.1-.1h.8m-.6-.2h.8m.4 0h.8m2.4 .1h.8m1.6 .3h.8m-.2-.1h.8m3 0h.8m-21.9 1.1h.8m.4-.6h.8m1.4 .5h.8m1.6-.5h.8m1.4 .2h.8m-.4-.1h.8m1 .1h.8m.5-.1h.8m-.4 0h.8m4.8-.1h.8m2.2 .4h.8m.1-.4h.8m-36.4 .7h.8m12.7 .5h.8m2.4 0h.8m.5 0h.8m.6 0h.8m.8 .2h.8m-.4-.4h.8m.1 0h.8m-.2-.1h.8m-.7-.1h.8m-.8 .1h.8m.1 .4h.8m.1-.6h.8m-.4 .6h.8m.8-.5h.8m-.7 .4h.8m-.1-.5h.8m2.2 .2h.8m0 .3h.8m-.1-.3h.8m-21.2 1h.8m1-.4h.8m1.7 .6h.8m-.2-.6h.8m-.4 0h.8m-.2 .2h.8m-.1 0h.8m.3 .1h.8m-.1 .4h.8m-.3-.5h.8m.2 .1h.8m-.4 0h.8m-.4 .2h.8m.1 .1h.8m1.1-.5h.8m-.5 .4h.8m-.3-.2h.8m5.5 .2h.8m2.9 .2h.8m.3-.7h.8m-27 1.4h.8m.5-.6h.8m7.8 .3h.8m-.1 .2h.8m0 .1h.8m.6-.5h.8m3 .4h.8m1.4-.1h.8m-12.2 .6h.8m1.8 .3h.8m1.8 .2h.8m.5-.1h.8m-.3 .1h.8m.8-.5h.8m1.8 0h.8m3.1 0h.8m-17.5 .9h.8m.3 0h.8m3 .3h.8m2.3-.3h.8m-13.2 .8h.8m6.6-.3h.8m2.9 .7h.8m4.7 0h.8m0-.7h.8m4.3 .2h.8m-10.5 1h.8m-.1-.3h.8m-.5 .4h.8m-1.5 1h.8m2.2-.3h.8m2.8-.2h.8m.1-.1h.8m.5 .4h.8m-23.3 .8h.8m1.7-.2h.8m2.3 0h.8m2.5 .1h.8m1-.2h.8m.7 .5h.8m.1-.2h.8m-.8-.2h.8m.3 .1h.8m-.2-.4h.8m1.6 .5h.8m-.5-.5h.8m-.2 .5h.8m-43.7 .8h.8m2.7-.4h.8m.7 .5h.8m2.9 0h.8m5.3-.5h.8m1.8 .6h.8m8.7-.3h.8m3.6 .2h.8m1.9 0h.8m0-.4h.8m.4 .4h.8m.4-.4h.8m-.7 .5h.8m-.1-.4h.8m4.2 .3h.8m.1-.1h.8m.4 .1h.8m3.5-.6h.8m-52.7 1.4h.8m.7 0h.8m1.6-.4h.8m-.5 0h.8m-.4 0h.8m0 .1h.8m.1 .1h.8m6.1-.2h.8m1.6 .1h.8m1.5 0h.8m1.5-.3h.8m.1 .7h.8m-.4-.5h.8m-.1 .2h.8m.7-.3h.8m1 .4h.8m-.5 .2h.8m-.3-.5h.8m1.3-.2h.8m.6 .3h.8m.2 .3h.8m.4-.5h.8m1.2 0h.8m.8 .1h.8m-.7 .5h.8m-.5 0h.8m-.6-.5h.8m-.3 0h.8m-.5 .2h.8m-.2 .3h.8m.9-.1h.8m.1-.3h.8m-.6 .2h.8m-.5 .2h.8m2.9-.5h.8m-.1 .2h.8m-.7 .1h.8m-.6-.3h.8m-.4 .3h.8m-.7 0h.8m-.4-.2h.8m.5-.2h.8m-.2 .1h.8m-.6-.2h.8m-.6 .3h.8m-.6-.3h.8m-.7 .6h.8m.1-.2h.8m-.6 .1h.8m-54.7 .4h.8m3.9 .5h.8m16.1-.6h.8m-.4 .4h.8m-.8-.2h.8m.8 .4h.8m-.1-.2h.8m-.5 .2h.8m.8-.5h.8m.3 .4h.8m-.8-.3h.8m1 .5h.8m.4-.2h.8m-.7 .1h.8m-.3 0h.8m.5-.3h.8m-.6 .4h.8m1.7-.3h.8m-.8 0h.8m.1-.4h.8m-.5 0h.8m-.6 .4h.8m-.5-.1h.8m1.7 .1h.8m.4-.3h.8m1 .1h.8m-.6 .2h.8m-.4 .1h.8m-.8-.3h.8m1.1 0h.8m-.8 .4h.8m-.6-.2h.8m-.2-.2h.8m-.5-.1h.8m0 .4h.8m.2-.2h.8m-.4 .1h.8m-.8-.4h.8m-.3 .5h.8m-.5 0h.8m-.7-.1h.8m.2 .3h.8m-.4-.4h.8m1.7-.3h.8m-.2 .7h.8m1-.3h.8m.4 .2h.8m0 .1h.8m-57.8 .1h.8m.3 .3h.8m-.4 0h.8m1.4 .3h.8m18.9-.4h.8m-.2 0h.8m-.7 .5h.8m0-.4h.8m-.3 .4h.8m0-.5h.8m-.6 .3h.8m.1-.5h.8m-.2 .2h.8m-.2 .3h.8m-.6-.2h.8m-.6-.3h.8m-.4 .2h.8m.1 .4h.8m-.4 .1h.8m-.4-.2h.8m-.7-.2h.8m-.7-.3h.8m-.7 .2h.8m-.2 .5h.8m-.5-.6h.8m-.6 .3h.8m-.6 .3h.8m.1-.6h.8m-.7 .1h.8m-.1 0h.8m1.6 .4h.8m-.7-.3h.8m-.8-.2h.8m-.2-.1h.8m-.3 .5h.8m-.6-.5h.8m.5 .1h.8m-.1 .1h.8m-.5 .1h.8m.1 .2h.8m-.7-.5h.8m-.4 .4h.8m-.5 0h.8m-.4 .1h.8m-.4 .2h.8m-.4-.5h.8m-.1 .1h.8m-.4 .1h.8m-.6-.1h.8m.7 .1h.8m-.3-.2h.8m-.5 .5h.8m-.5-.4h.8m.4-.3h.8m-.5 .2h.8m-.4 .1h.8m-.7 .1h.8m-.5 0h.8m.3-.3h.8m.6 .2h.8m.3 .4h.8m-.7 0h.8m-.2-.7h.8m-.2 .4h.8m-53.7 .5h.8m-.1 .2h.8m.6 .2h.8m-.7 0h.8m18.9-.2h.8m-.6-.2h.8m-.2 .4h.8m-.5 .1h.8m-.6-.4h.8m-.7 .2h.8m-.4 .3h.8m-.6 0h.8m-.5 0h.8m-.4-.3h.8m-.2-.2h.8m-.6-.2h.8m-.7 .4h.8m-.6 .3h.8m-.7-.6h.8m-.5 .3h.8m-.5-.1h.8m-.5 .3h.8m0-.3h.8m-.7 .2h.8m-.7-.2h.8m-.7-.1h.8m-.8 .4h.8m-.4-.4h.8m-.8 .2h.8m.6-.4h.8m.8 .1h.8m-.7 .4h.8m.7-.1h.8m1.4 .1h.8m-.1-.5h.8m.6 .2h.8m-.6 .5h.8m-.6-.4h.8m-.7-.1h.8m-.7 .2h.8m-.5-.1h.8m.2 .4h.8m-.8-.1h.8m-.7-.2h.8m-.7-.3h.8m-.1 .4h.8m-.1-.1h.8m.5-.1h.8m-.7-.2h.8m-.7 .3h.8m-.2-.2h.8m0 .2h.8m-.4 .2h.8m-.5 .1h.8m-.6-.3h.8m-.2 0h.8m0 .1h.8m-.4 .1h.8m-.2-.6h.8m-.1 .3h.8m-.4 0h.8m-.7 .1h.8m1.4-.3h.8m.8 .6h.8m-54.5 .6h.8m.8-.5h.8m.7 .5h.8m.7-.3h.8m-.2 .2h.8m15.8 .2h.8m-.4-.1h.8m-.7 .2h.8m.5-.3h.8m-.6-.3h.8m-.7-.1h.8m.7 .7h.8m-.5-.5h.8m0 .1h.8m0-.2h.8m-.6 .4h.8m-.8-.4h.8m-.1-.1h.8m-.4 0h.8m-.8 .1h.8m.5 .3h.8m-.5 .2h.8m.7 0h.8m-.3-.2h.8m-.7 .3h.8m-.7-.3h.8m-.4 .1h.8m-.7-.5h.8m-.8 .1h.8m-.4 .4h.8m-.6-.1h.8m-.3 .3h.8m-.6-.1h.8m.3 .1h.8m-.8-.5h.8m-.1 .1h.8m-.4 .4h.8m-.5-.1h.8m0-.5h.8m2.4 .5h.8m-.5 .1h.8m-.1-.5h.8m-.8-.2h.8m.5 .1h.8m-.5-.1h.8m0 .1h.8m.2 0h.8m-.1 0h.8m-.3 0h.8m-.6-.1h.8m-.1 .4h.8m-.2 .1h.8m.6 .2h.8m-.7-.2h.8m-.4 .2h.8m-.5-.5h.8m.8 .3h.8m0-.3h.8m-.2 .1h.8m-.4 .4h.8m1.5-.2h.8m1-.5h.8m-55.8 .8h.8m-.6 .6h.8m.5-.5h.8m-.6 .2h.8m-.7 0h.8m-.2-.2h.8m14.8 .4h.8m-.2 0h.8m-.7 0h.8m-.6 .2h.8m-.8 0h.8m1.1-.3h.8m-.4 .3h.8m-.4-.5h.8m.6 .2h.8m-.5 .2h.8m.4-.5h.8m-.6 .2h.8m.5 .2h.8m-.5-.1h.8m-.7-.1h.8m-.4 .2h.8m1.2-.2h.8m1.4-.2h.8m-.2-.1h.8m-.7 0h.8m-.7 .1h.8m-.5 0h.8m-.7 .2h.8m-.2-.1h.8m1.1 .3h.8m-.6 0h.8m.8-.1h.8m-.1 .2h.8m-.8-.5h.8m.9 .3h.8m-.3-.2h.8m-.6 .2h.8m2.4-.3h.8m.9 .5h.8m-.7-.4h.8m.5-.1h.8m-.6 0h.8m-.2-.1h.8m-.8 .3h.8m.4 .2h.8m.4-.5h.8m.6 .6h.8m.6-.2h.8m-.6-.2h.8m.8 .2h.8m-52.3 .4h.8m7.1 .7h.8m3.1-.2h.8m10.9-.5h.8m.2 .5h.8m-.2-.1h.8m1.8 0h.8m1.9-.1h.8m0 .2h.8m1.1-.2h.8m-.5-.3h.8m-.6 .7h.8m1.3-.7h.8m-.7 .3h.8m-.7 .3h.8m-.5-.5h.8m3.1 .2h.8m-.2 .3h.8m.5-.3h.8m1.2-.1h.8m.4-.2h.8m3.2 .1h.8m-.4 .1h.8m.4 .1h.8m-.4 .3h.8m-49.3 .5h.8m3.1 .1h.8m3.9 0h.8m8.9-.2h.8m-.5 .1h.8m.6 .3h.8m6.1 0h.8m12.7 .1h.8m.1-.3h.8m1.9 .2h.8m.8-.2h.8m-.4 .2h.8m-12.5 .7h.8m2.3-.4h.8m.1 .4h.8m4-.5h.8m1.4 .9h.8m-16.1 .8h.8m14.3 .3h.8" stroke="rgb(70, 100, 195)" stroke-width="0.8" stroke-opacity="0.55" fill="none"/>
<path d="M76.7 590.1h.8m-7.1 .9h.8m5.9-.4h.8m.2 .2h.8m-.5-.2h.8m3.8 .3h.8m-.5 0h.8m.7 .2h.8m-16.3 .8h.8m-.2-.5h.8m-.3-.2h.8m-.1 .4h.8m-.5-.1h.8m-.6 .1h.8m-.6-.2h.8m10.1 0h.8m-.5 0h.8m.8 0h.8m-.7 .1h.8m-.8 .3h.8m-.1 0h.8m13.8 0h.8m-31.8 .6h.8m-.5-.1h.8m-.8 .1h.8m-.3 .1h.8m14.7 .1h.8m-.8 .1h.8m-.7-.5h.8m-.5 .1h.8m-.7-.1h.8m-.8-.2h.8m-.4 .5h.8m-.7 0h.8m-.4 .1h.8m-.8-.5h.8m-.6 .5h.8m-.6-.5h.8m10.9 .1h.8m-.7-.1h.8m-.6 .1h.8m-.8 .1h.8m-.7 .3h.8m-.4-.3h.8m-.7 .4h.8m-.6 0h.8m-.6-.5h.8m-.7 .4h.8m-.8-.5h.8m-31.9 .7h.8m-.6 .5h.8m-.8 .1h.8m-.5-.6h.8m-.8 .1h.8m-.7 .5h.8m-.7 0h.8m15.1-.1h.8m-.7 .1h.8m-.7-.6h.8m-.7 0h.8m.1 .7h.8m-.8-.5h.8m11.2 .1h.8m-.5 .2h.8m-.6-.2h.8m-.5 .4h.8m-.7-.2h.8m-.8-.2h.8m-30.8 .5h.8m-.3 .6h.8m-.7-.4h.8m13.4 .3h.8m-.3 .2h.8m-.7-.3h.8m-.1-.4h.8m13.7 0h.8m-30.2 1.1h.8m9.9 .2h.8m-.4 .2h.8m-.4-.4h.8m-.8 .1h.8m-.6 .1h.8m-.4 0h.8m1.4-.4h.8m-14.8 .7h.8m-.8 .2h.8m11.1-.1h.8m-.4 .3h.8m-.5-.4h.8m-.6 .1h.8" stroke="rgb(56, 91, 189)" stroke-width="0.8" stroke-opacity="0.55" fill="none"/>
<path d="M72.1 591h.8m6.7-.1h.8m-10.1 1h.8m-.4-.1h.8m.4 0h.8m-.2-.2h.8m-.7-.2h.8m-.7-.2h.8m6.1 .5h.8m0-.3h.8m-.5 .3h.8m-.5 0h.8m-.7-.3h.8m-.4-.2h.8m-.7 .5h.8m-.4 .1h.8m-.5-.3h.8m1.4 .4h.8m-15.4 .3h.8m-.6 0h.8m-.8 .5h.8m-.6-.2h.8m-.7-.4h.8m-.6 .6h.8m12 0h.8m-.7 0h.8m-.5-.5h.8m-.7 .1h.8m-.7-.3h.8m-.8 .1h.8m-.7 .6h.8m-.8-.7h.8m-.3 .3h.8m-.7 0h.8m-.6 .4h.8m-.6 0h.8m-1.5 .1h.8m-.8 .6h.8m-.6-.2h.8m-.6 .3h.8m-.6-.1h.8m-2.4 .5h.8m-.6 .3h.8m-.4 0h.8m-.7 .1h.8m-.7-.3h.8m-12.5 .8h.8m-.3 0h.8m.3-.1h.8m-.6 0h.8m.2 .3h.8m-.3 .1h.8m-.7-.3h.8m-.6 0h.8m-.7 .3h.8m-.5-.3h.8m2.5 .3h.8m-.4-.3h.8m-.3 .2h.8m-.7-.2h.8m1.8-.4h.8m-11.6 .8h.8m-.5 .2h.8m-.2 .2h.8m-.8-.4h.8m.6 .3h.8m.5-.2h.8m-.6 0h.8m2.8 .1h.8" stroke="rgb(44, 91, 186)" stroke-width="0.8" stroke-opacity="0.8" fill="none"/>
<path d="M73.5 590.9h.9m-.1 .2h.9m-.9 0h.9m-.6-.2h.9m3 .2h.9m-.8-.2h.9m-.4 .2h.9m-8.4 .8h.9m-.8 0h.9m.8-.3h.9m-.7 .1h.9m-.9-.3h.9m-.8 .2h.9m-.5 .1h.9m-.8-.1h.9m-.9-.3h.9m3.7 .4h.9m-.6-.2h.9m-.8 0h.9m-.8-.1h.9m-9.4 .7h.9m-.8 .1h.9m-.9 .5h.9m-.5-.7h.9m-.8 .6h.9m-.8 0h.9m-.8-.5h.9m-2.3 .7h.9m-.9 .4h.9m-.8-.1h.9m-.6 .4h.9m-.8-.6h.9m-.9 .5h.9m-.8-.1h.9m11.8-.5h.9m-.8 .2h.9m-.8 .5h.9m-.8-.6h.9m-.9 .3h.9m-.7-.1h.9m-.9 .1h.9m-14.8 .5h.9m-.1 .1h.9m-.8 .4h.9m-.9 .1h.9m-.8-.4h.9m-.8-.1h.9m-.8 .1h.9m-.7-.2h.9m-.9 .3h.9m-.9-.1h.9m-.8 .4h.9m-.9-.4h.9m-.8 .1h.9m11-.3h.9m-.8-.1h.9m-.7 0h.9m-13.7 .8h.9m-.5 .2h.9m4.3 .3h.9m-.8-.1h.9m-.1 .2h.9m-.7-.2h.9m-.9 .3h.9m-.6-.1h.9m-.9 0h.9m-.6-.2h.9m-.7 .3h.9m-.9-.3h.9m-.1-.1h.9m-.8 0h.9m-3.5 .9h.9m0 0h.9m-.6 0h.9m-.7-.3h.9" stroke="rgb(42, 121, 196)" stroke-width="0.9" stroke-opacity="0.8" fill="none"/>
<path d="M75.9 591.1h.9m.4-.2h.9m-.7 0h.9m-.2 .1h.9m-4.3 .5h.9m-.1 0h.9m-.7 .1h.9m-.9 .2h.9m-.7 0h.9m-.7-.5h.9m-.9 .4h.9m-.8 .1h.9m-.6-.6h.9m-.7 0h.9m-.8 0h.9m-.9 .3h.9m-.2-.2h.9m-.7-.1h.9m-.9 .1h.9m-.6-.1h.9m-.9 .5h.9m-.7 0h.9m-.7-.4h.9m3.2 .5h.9m-.9 .6h.9m-.9-.2h.9m-.8 .5h.9m-.9-.7h.9m-.8 0h.9m-.8 .1h.9m-.9 .6h.9m-.7-.3h.9m-.9 .2h.9m-.6-.4h.9m-13.3 1.2h.9m-.8-.6h.9m-.8 .4h.9m-.9 0h.9m-.8-.4h.9m-.6 .3h.9m-.9-.2h.9m-.9 .1h.9m-.7 .5h.9m10 .8h.9m-.9-.1h.9m-.6-.3h.9m-.9-.2h.9m-.9 .2h.9m-.6 .1h.9m-.9 0h.9m-.9 .1h.9m-.9-.2h.9m-.8 0h.9m-.9-.1h.9m-.9 .5h.9" stroke="rgb(40, 150, 203)" stroke-width="0.9" stroke-opacity="1" fill="none"/>
<path d="M81.8 591.9h.9m-.8 0h.9m-.8 0h.9m-.9-.1h.9m-10.9 .7h.9m-.8-.1h.9m-.9 .2h.9m-.8-.4h.9m-.6 0h.9m-.9 .5h.9m-.8-.7h.9m-.9 .7h.9m8.2-.2h.9m-.9 .1h.9m-.8-.5h.9m-.9-.1h.9m-.7 .3h.9m-.6 .1h.9m-.8 1h.9m-.9-.1h.9m-.8-.1h.9m-.9 0h.9m-.8-.4h.9m-.7 .6h.9m-.6-.4h.9m-.8 .1h.9m-12.2 .7h.9m-.9 0h.9m-.9 .3h.9m-.7 .2h.9m-.9-.2h.9m-.7 0h.9m-.9 .1h.9m-.8-.1h.9m-.9 .2h.9m-.3-.1h.9m-.8-.2h.9m-.9-.2h.9m-.8 .5h.9m-.5-.1h.9m-.9 0h.9m-.9-.2h.9m-.8 .1h.9m6.9-.1h.9m-.8-.2h.9m-.8 .1h.9m-.7 .1h.9m-.9 0h.9m-.7 0h.9m.1-.4h.9m-12 1h.9m-.8-.2h.9m-.8 .2h.9m.2-.2h.9m-.9 .1h.9m-.7-.1h.9m-.8 .1h.9m-.8 0h.9m7.1-.1h.9m-.7 .1h.9m-.5 .2h.9" stroke="rgb(55, 170, 161)" stroke-width="0.9" stroke-opacity="1" fill="none"/>
<path d="M72.9 591.9h.9m-.9 0h.9m-.8-.1h.9m-.8 .1h.9m6.9-.1h.9m-9 .5h.9m-.7 .3h.9m-.8-.2h.9m-.9 .2h.9m-.9-.2h.9m-.8 .2h.9m-.9-.5h.9m-.9 .3h.9m-.8-.1h.9m-.8-.1h.9m-.9 .2h.9m-.7-.2h.9m-.8 0h.9m-.9 .4h.9m5.9-.6h.9m-.9 0h.9m-.8 .1h.9m-.7 .6h.9m-.8 0h.9m-.8-.2h.9m-.8 0h.9m-.9 0h.9m-.7-.4h.9m-10.3 1.1h.9m-.8 .3h.9m-.8-.4h.9m-.9-.2h.9m-.7-.1h.9m-.9 .2h.9m-.8 0h.9m-.9-.2h.9m-.8 .4h.9m-.8-.2h.9m-.8 .2h.9m-1.4 .4h.9m.8 .7h.9m-.8-.6h.9m-.9 .1h.9m-.8 .4h.9m-.9-.3h.9m-.9 .1h.9m-.9 .1h.9m-.7-.3h.9m-.9 0h.9m-.8 .2h.9m-.8-.3h.9m-.6 .2h.9m-.9-.2h.9m-.8 .3h.9m-.9 .3h.9m-.7-.3h.9m-.9 .2h.9m-.8-.4h.9m-.8 .2h.9m-.8 .1h.9m-.9 .2h.9m-.9-.4h.9m-.9 .3h.9m-.8 .1h.9m4.1-.5h.9m-.9 .1h.9m-.8-.1h.9m-.9 .5h.9m-.8-.5h.9m-.9 .3h.9m-.6-.2h.9m-.8 .3h.9m-8.3 .2h.9m0 .2h.9m-.6 0h.9m4.9-.2h.9" stroke="rgb(70, 190, 120)" stroke-width="0.9" stroke-opacity="1" fill="none"/>
<path d="M79.5 592.1h.9m-.9 .6h.9m-.7 0h.9m-.6 0h.9m-.9-.7h.9m-.9 .2h.9m-.8 .1h.9m-.8 .1h.9m-.7-.1h.9m.2 .6h.9m-.9 .4h.9m-.9 .2h.9m-.8-.3h.9m-.9-.2h.9m-.9 .2h.9m-.8-.1h.9m-.8-.3h.9m-.9 .3h.9m-.8 .2h.9m-.9 .2h.9m-.9-.2h.9m-.8-.5h.9m-.6 .5h.9m-.9-.5h.9m-7.3 1.4h.9m-.7-.4h.9m-.9 .4h.9m-.8-.1h.9m-.7-.1h.9m-.8 .1h.9m-.8-.2h.9m1.1 0h.9m-.9 .2h.9m-.9 0h.9m-.7 0h.9m-.7-.2h.9m-.8 .4h.9m-.9-.6h.9m-.9 .6h.9m-.9-.4h.9m-.7-.2h.9m-.8 .1h.9m-.7-.1h.9m-.7 .5h.9m-.9-.3h.9m-.8 .1h.9m-.5 0h.9m-.9 0h.9m.8-.4h.9m-7.1 .9h.9m-.1-.1h.9m1.2 .1h.9m-.8-.1h.9m-.6 0h.9m-.3 .2h.9m-.9 .1h.9m-.5-.2h.9" stroke="rgb(137, 203, 80)" stroke-width="0.9" stroke-opacity="1" fill="none"/>
<path d="M73.9 591.9h.9m.2 0h.9m-.8 0h.9m-.8-.1h.9m-.7 .1h.9m-.9-.1h.9m-2.5 .9h.9m-.8 0h.9m-.9-.5h.9m-.9 0h.9m-.8-.1h.9m-.9-.1h.9m-.7 .4h.9m-.8-.1h.9m-.8 .2h.9m-.8-.1h.9m-.9-.4h.9m-.9 .6h.9m-.8 .1h.9m-.7-.3h.9m-.9 .3h.9m-.9-.1h.9m-.8 0h.9m-.7 .1h.9m-.9-.7h.9m-.8 .6h.9m-.9-.3h.9m-.9-.3h.9m-.9 .4h.9m-.9-.2h.9m-.9 .1h.9m-.9 .3h.9m-.8-.3h.9m-.8 .3h.9m-.9-.2h.9m-.8 .1h.9m-.8-.5h.9m-.9 0h.9m2 .5h.9m-.8-.2h.9m-.9 .3h.9m-.9 .1h.9m-.8 0h.9m-.8-.2h.9m-.9 .2h.9m-.8-.5h.9m-.9 .3h.9m-.9-.2h.9m-.7 .1h.9m-.8-.3h.9m-.9 .5h.9m-.8 0h.9m-.8-.2h.9m-7.5 1.1h.9m-.7-.7h.9m-.9 .7h.9m-.8-.3h.9m-.8-.3h.9m-.8 .1h.9m-.8 .3h.9m-.8-.4h.9m-.9 .3h.9m-.9 .1h.9m-.9-.1h.9m-.8-.3h.9m-.9 .1h.9m-.9 .5h.9m-.8-.4h.9m5.9 0h.9m-.9-.2h.9m-.9 .2h.9m-.8 0h.9m-.8 .4h.9m-.8-.6h.9m-.9-.1h.9m-.8 .5h.9m-.9 .1h.9m-.9-.5h.9m-.9 0h.9m-.8 .6h.9m-.8-.3h.9m-.9-.3h.9m-.8 .5h.9m-.9 0h.9m-.8-.1h.9m-.9-.4h.9m-.9-.1h.9m-.9 .6h.9m-.9-.2h.9m-.8-.3h.9m-9.2 .7h.9m-.6 .1h.9m2.3 .5h.9m-.6 .1h.9m-.9-.5h.9m-.7 .1h.9m-.9 .1h.9m-.9-.2h.9m-.7 0h.9m-.7 .1h.9m-.9 0h.9m-.8-.2h.9m-.8 .4h.9m-.8 .1h.9m-.8-.5h.9m-.9 .3h.9m-.6 .2h.9m-.8-.1h.9m-.8-.1h.9m-.9-.2h.9m-.8 .2h.9m-.9-.1h.9m1.5-.3h.9m-.8 .1h.9m-5 .9h.9m-.2 0h.9m-.5-.2h.9m-.8 0h.9m-.7 .1h.9m-.9-.1h.9m-.7 .2h.9" stroke="rgb(202, 211, 44)" stroke-width="0.9" stroke-opacity="1" fill="none"/>
<path d="M75.7 591.9h.9m-.2 0h.9m-.8 0h.9m-.5 0h.9m-.8 0h.9m-.6 0h.9m.1 0h.9m-3.5 .4h.9m-.8 .1h.9m-.9-.1h.9m-.7-.3h.9m-.9 .3h.9m-.8 0h.9m-.9-.2h.9m-.8 .2h.9m-.9 .2h.9m-.7-.5h.9m-.8 .2h.9m-.8-.2h.9m-.9 .5h.9m-.8 .1h.9m-.9-.4h.9m-.8 .1h.9m-.7 0h.9m-.8 .1h.9m-.9 .2h.9m-.8-.2h.9m-.9 .2h.9m-.8-.5h.9m-.9-.1h.9m-.9 .5h.9m-.9-.3h.9m-.8 .1h.9m-.9 .2h.9m-.7-.4h.9m-.8 .1h.9m-.9 0h.9m-.8 .3h.9m-.9-.5h.9m-.9 .1h.9m-.8 .5h.9m-.9-.5h.9m-.9 .5h.9m-.8-.2h.9m-.8-.2h.9m-.9 .2h.9m-.9 0h.9m-.7 .3h.9m-.9-.5h.9m-.8-.1h.9m-.8-.1h.9m-5.6 1.2h.9m-.9 .1h.9m-.9 .2h.9m-.8-.6h.9m-.9 .4h.9m-.9 .1h.9m-.6 .1h.9m-.7-.7h.9m-.8 .7h.9m-.9-.6h.9m-.8 .2h.9m-.8-.1h.9m-1.4 .7h.9m-.8-.1h.9m-.7 .1h.9" stroke="rgb(228, 173, 32)" stroke-width="0.9" stroke-opacity="1" fill="none"/>
<path d="M74.9 593.5h.9m-.9-.3h.9m-.9-.2h.9m-.8 0h.9m-.9 .5h.9m-.8-.5h.9m-.9-.1h.9m-.8 .3h.9m-.8-.3h.9m-.9 .3h.9m-.8-.2h.9m-.9 .1h.9m-.9 .2h.9m-.9-.1h.9m-.8 .2h.9m-.8-.3h.9m-.8-.2h.9m-.6 .1h.9m-.8 .4h.9m-.9-.5h.9m-.7 .3h.9m-.8 .3h.9m-.9-.7h.9m-.9 0h.9m-.8 .6h.9m2.1-.3h.9m-.8-.3h.9m-.9 .4h.9m-.8 .2h.9m-.9-.4h.9m-.9 .3h.9m-.9-.3h.9m-.7 .5h.9m-.9-.3h.9m-.9 .3h.9m-.9-.5h.9m-.8-.2h.9m-.9 .4h.9m-.9-.1h.9m-.8 .2h.9m-.9 .2h.9m-.8-.4h.9m-.9 0h.9m-.8-.3h.9m-.9 .2h.9m-.9 .1h.9m-.9-.1h.9m-.8-.1h.9m-6.6 .7h.9m-.8 .1h.9m-.6-.1h.9m-.9 .1h.9m-.4-.1h.9m-.9 0h.9m-.7 .1h.9m-.9-.1h.9m-.8 0h.9m-.8 .1h.9m2.7-.1h.9m-.9 .1h.9m-.8-.1h.9m-.6 0h.9m-.8 .1h.9" stroke="rgb(240, 122, 25)" stroke-width="0.9" stroke-opacity="1" fill="none"/>
<path d="M76.7 593.4h.9m-.9-.4h.9m-.8 0h.9m-.9 .4h.9m-.9-.3h.9m-.8 .3h.9m-.9 .1h.9m-.9-.3h.9m-.9 0h.9m-.9 .3h.9m-.8-.1h.9m-.9-.5h.9m-.9 .4h.9m-.8-.2h.9m-.9 .4h.9m-.8-.2h.9m-.9 0h.9m-.9-.5h.9m-.8 0h.9m-.9 .4h.9m-.9 .3h.9m-.7-.1h.9m-.9-.6h.9m-.9 .3h.9m-.9 0h.9m.1-.3h.9m-.8 0h.9m-.9 .5h.9m-.8 .2h.9m-.9-.3h.9m-.8 .3h.9m-.8-.2h.9m-.8-.5h.9m-.9 0h.9m-.8 .7h.9m-.8-.5h.9m-.8 .3h.9m-.9 0h.9m-.8-.5h.9m-.9 .7h.9m-3.4 .1h.9m-.8 .1h.9m-.8-.1h.9m-.6 0h.9m-.8 .1h.9m.2-.1h.9m-.8 .1h.9m-.3-.1h.9m-.7 .1h.9" stroke="rgb(230, 52, 25)" stroke-width="0.9" stroke-opacity="1" fill="none"/>
<path d="M77.6 593.1h.9m-.8 .4h.9m-.8-.1h.9m-.9-.6h.9m-.9 .5h.9m-.6 .1h.9m-.9-.5h.9m-.9 .4h.9m-.9-.5h.9m-.7 .4h.9m-.9-.2h.9m-.9 .1h.9m-.9 .1h.9m-.9-.3h.9m-.8-.1h.9m-.9 .3h.9m-.8-.2h.9m-1.8 .7h.9m-.1 .1h.9" stroke="rgb(220, 30, 20)" stroke-width="0.9" stroke-opacity="1" fill="none"/>
</g>
<line x1="61.20" y1="546.40" x2="122.80" y2="546.40" stroke="#666" stroke-width="0.8"/>
<line x1="61.20" y1="546.40" x2="61.20" y2="608.20" stroke="#555" stroke-width="0.8"/>
<line x1="61.20" y1="608.20" x2="122.80" y2="608.20" stroke="#666" stroke-width="0.8"/>
<line x1="122.80" y1="546.40" x2="122.80" y2="608.20" stroke="#888" stroke-width="0.8"/>
<line x1="87.69" y1="546.40" x2="87.69" y2="608.20" stroke="#505050" stroke-width="0.8"/>
<line x1="61.20" y1="586.26" x2="122.80" y2="586.26" stroke="#222" stroke-width="1.4"/>
<line x1="59.60" y1="552.58" x2="61.20" y2="552.58" stroke="#777" stroke-width="0.6"/>
<text x="59.2" y="553.5" font-size="3" fill="#666" text-anchor="end">10</text>
<line x1="59.60" y1="566.79" x2="61.20" y2="566.79" stroke="#777" stroke-width="0.6"/>
<text x="59.2" y="567.7" font-size="3" fill="#666" text-anchor="end">10</text>
<line x1="59.60" y1="584.72" x2="61.20" y2="584.72" stroke="#777" stroke-width="0.6"/>
<text x="59.2" y="585.6" font-size="3" fill="#666" text-anchor="end">10</text>
<line x1="59.60" y1="594.60" x2="61.20" y2="594.60" stroke="#777" stroke-width="0.6"/>
<text x="59.2" y="595.5" font-size="3" fill="#666" text-anchor="end">10</text>
<line x1="59.60" y1="603.87" x2="61.20" y2="603.87" stroke="#777" stroke-width="0.6"/>
<text x="59.2" y="604.8" font-size="3" fill="#666" text-anchor="end">10</text>
<ellipse cx="59.9" cy="594.3" rx="0.9" ry="1.2" fill="#111"/>
<line x1="66.13" y1="608.20" x2="66.13" y2="609.80" stroke="#777" stroke-width="0.6"/>
<text x="66.1" y="613.0" font-size="3" fill="#666" text-anchor="middle">10</text>
<line x1="74.75" y1="608.20" x2="74.75" y2="609.80" stroke="#777" stroke-width="0.6"/>
<text x="74.8" y="613.0" font-size="3" fill="#666" text-anchor="middle">10</text>
<line x1="84.61" y1="608.20" x2="84.61" y2="609.80" stroke="#777" stroke-width="0.6"/>
<text x="84.6" y="613.0" font-size="3" fill="#666" text-anchor="middle">10</text>
<line x1="103.70" y1="608.20" x2="103.70" y2="609.80" stroke="#777" stroke-width="0.6"/>
<text x="103.7" y="613.0" font-size="3" fill="#666" text-anchor="middle">10</text>
<line x1="118.49" y1="608.20" x2="118.49" y2="609.80" stroke="#777" stroke-width="0.6"/>
<text x="118.5" y="613.0" font-size="3" fill="#666" text-anchor="middle">10</text>
<ellipse cx="74.8" cy="609.2" rx="1.4" ry="0.8" fill="#111"/>
<g filter="url(#fblur)">
<path d="M163.3 569.9h.8m1.9 0h.8m4.4 .1h.8m11.6 .3h.8m1.4-.3h.8m-6.1 1h.8m1.7 .1h.8m-16.9 .1h.8m1.3 .3h.8m1.4 .2h.8m13.9-.3h.8m-16.5 .7h.8m9.8 .6h.8m-21.4 .1h.8m.6 .7h.8m0-.2h.8m7.2-.4h.8m.5 .2h.8m1.4 .1h.8m2.9-.4h.8m2.2 .6h.8m3.8 .7h.8m-23.7 .7h.8m.6 0h.8m8.1 .1h.8m4.3-.2h.8m1.4 0h.8m1.7 .2h.8m-18.3 .3h.8m6.3 .1h.8m3.1 .6h.8m4.1-.2h.8m-16.1 .3h.8m3.9 .7h.8m2.8-.2h.8m13.4-.3h.8m-15.4 1.1h.8m2-.4h.8m-11.5 1.3h.8m6.7-.4h.8m5.8-.2h.8m-10 .8h.8m1.5 0h.8m-11.5 1.1h.8m2.9 0h.8m13.1 .2h.8m-15.3 .8h.8m3.6-.1h.8m1.9 0h.8m2-.4h.8m11.7 .7h.8m-31.7 .4h.8m.4 .1h.8m2-.3h.8m2.6 .2h.8m2.9-.1h.8m9.5 0h.8m8.5 .4h.8m-26.7 .4h.8m.2 .5h.8m-.3-.3h.8m.4 0h.8m-.4-.3h.8m1.1 .6h.8m.6-.1h.8m2.4-.5h.8m.8 0h.8m4.3 .3h.8m2.3 .3h.8m-21.9 .2h.8m6.5 0h.8m5.7 .6h.8m-.1-.2h.8m1.6 .2h.8m3.2-.4h.8m4.6-.1h.8m-32.8 1.3h.8m7.3-.4h.8m-.7 .2h.8m-.3 0h.8m3.6-.4h.8m2.4 .3h.8m1.3 .2h.8m.5-.3h.8m1.2 .1h.8m-.4-.3h.8m1.9 .2h.8m1.1 .4h.8m.4-.6h.8m0 0h.8m-.7 .4h.8m-.7-.2h.8m.6 .3h.8m1.9-.2h.8m-.6 0h.8m-.2 .3h.8m-.3-.2h.8m-.2-.2h.8m-34.3 .9h.8m1.8 0h.8m5.1 .2h.8m.4 .1h.8m.1-.5h.8m-.5 0h.8m-.7 0h.8m-.4 .4h.8m.8-.2h.8m3.4-.1h.8m-.3-.3h.8m4.1 0h.8m-.6 .6h.8m-.8-.2h.8m.5-.3h.8m1.2 .5h.8m.6 .1h.8m3-.7h.8m-.3 .4h.8m2.7 .3h.8m4.1-.1h.8m-34.1 .5h.8m-.2 .1h.8m.4 .2h.8m6.7-.4h.8m2.6 .3h.8m2.5-.5h.8m2.1 .4h.8m-.5 .3h.8m.3-.3h.8m2.1 .2h.8m1.5-.4h.8m1.9 .2h.8m-.4-.1h.8m-34.9 .7h.8m.3-.2h.8m.1 .4h.8m1.7 .1h.8m.1-.3h.8m-.6 .1h.8m-.3-.3h.8m.1 .1h.8m.2 .1h.8m-.5-.2h.8m7.9 .3h.8m-.1 0h.8m-.5-.3h.8m3.6 .1h.8m1.8 0h.8m.5 .2h.8m-.5 0h.8m-.3 0h.8m-.2 .3h.8m-.6 .1h.8m.2-.6h.8m-.5 .4h.8m3.1 0h.8m5.1-.4h.8m-40.6 1.3h.8m.2-.6h.8m-.4 .4h.8m-.2 0h.8m-.3 0h.8m0-.1h.8m0-.1h.8m-.8 .1h.8m-.3-.1h.8m-.7 .2h.8m24.3 .2h.8m.5 0h.8m.1-.6h.8m-.6 .7h.8m-.8-.7h.8m-.7 .6h.8m1.8-.4h.8m-.1-.1h.8m-37.4 1.4h.8m1.3-.4h.8m-.5 0h.8m27.3-.1h.8m1.8 .4h.8m2.7-.6h.8m-.2 .6h.8m-39.3 .5h.8m33.2 .2h.8m0 0h.8m-.7 .2h.8m-.7-.4h.8m-.4 .3h.8m.1 .1h.8m.7-.1h.8m.2-.3h.8m-.4-.1h.8m2.2-.2h.8m-46.6 .9h.8m-.1 .6h.8m-.1 0h.8m.8-.6h.8m-.7 .5h.8m-.8 0h.8m.2-.6h.8m-.7 0h.8m-.6 .1h.8m31.2-.1h.8m-.5 .6h.8m-.1-.2h.8m.1 .1h.8m.3 .1h.8m-.5-.6h.8m1.8 .7h.8m.2-.3h.8m-44.5 .4h.8m-.7 .5h.8m-.4-.4h.8m3 .4h.8m-.6-.5h.8m32.4 .4h.8m-.5-.1h.8m0-.1h.8m.1 .4h.8m-.7-.2h.8m-.1-.2h.8m-.4 .5h.8m4.3-.1h.8m-46.8 .2h.8m-.4 0h.8m2.8 .3h.8m-.8-.2h.8m-.4 .2h.8m-.8 .4h.8m-.5 0h.8m-.5-.1h.8m1.3-.1h.8m29.1 0h.8m.2 .2h.8m-.3-.6h.8m-.3 .6h.8m-.4-.4h.8m-.5 .1h.8m-.1 0h.8m-.6 0h.8m0 .3h.8m.2 0h.8m-.7-.1h.8m0-.2h.8m2.8-.2h.8m-48.8 .7h.8m2.9 .6h.8m0-.5h.8m-.7-.2h.8m.9 .6h.8m-.6-.1h.8m-.6 .1h.8m.8-.6h.8m-.6 .2h.8m-.2 0h.8m.2 .5h.8m-.5-.1h.8m25.2 .1h.8m-.4 0h.8m-.7 0h.8m-.8-.1h.8m4-.4h.8m-.5 0h.8m.8-.1h.8m.4 0h.8m-40.3 1.1h.8m-.2-.1h.8m-.5 .1h.8m-.4 0h.8m1 0h.8m.4 .2h.8m.1-.4h.8m-.4 .1h.8m-.6 .2h.8m-.5-.4h.8m25.3 .5h.8m-.4-.6h.8m-.3 .7h.8m-.1-.6h.8m3.6 .6h.8m-.8-.1h.8m2.8-.3h.8m-47.8 .9h.8m3.3 .1h.8m1.1-.3h.8m-.5-.1h.8m-.5 .5h.8m.9-.6h.8m2 .1h.8m-.1 .4h.8m-.5-.2h.8m-.7-.3h.8m-.5 .1h.8m.3 0h.8m-.6 .2h.8m.2 .3h.8m-.7 0h.8m3.1-.5h.8m14.2 .2h.8m0 .4h.8m2.5-.1h.8m3.4 0h.8m-43 .3h.8m2.5 .1h.8m-.5 .2h.8m.7 0h.8m1.7 0h.8m.4 0h.8m-.6-.3h.8m1.2 .3h.8m.8-.3h.8m.1 .2h.8m-.1 .1h.8m.7-.2h.8m-.2 .5h.8m2.1 0h.8m3.4 0h.8m-.1-.3h.8m-.2 .2h.8m-.4-.2h.8m-.3 .1h.8m-.3-.1h.8m.9-.3h.8m.8 .6h.8m.1-.4h.8m-.1 .3h.8m-.5-.3h.8m.3-.2h.8m.8-.1h.8m-.2 .1h.8m1-.1h.8m.1 .4h.8m5.9 .3h.8m-43.3 .5h.8m6.9-.3h.8m1.3 0h.8m2.2 .5h.8m1.2-.5h.8m1.7 .1h.8m-.2 .2h.8m1.3 .3h.8m-.4-.2h.8m1 .1h.8m.3-.2h.8m-.4-.2h.8m.5 0h.8m.8 0h.8m-.2 .5h.8m1.8-.4h.8m3.8-.1h.8m-35.6 1h.8m-.7 .3h.8m-.1-.7h.8m-.4 .3h.8m8 .1h.8m1-.4h.8m.1 .6h.8m.5-.1h.8m.1-.5h.8m.7 .1h.8m.3 .5h.8m.8-.4h.8m-.2 .4h.8m-.6-.5h.8m.4-.1h.8m-.7 .6h.8m1.6-.1h.8m-.5-.1h.8m1.5-.2h.8m-.5 .4h.8m1.3-.5h.8m-.5 .3h.8m2.2 .3h.8m1.1-.2h.8m-34.6 .3h.8m14.8 .2h.8m-.8-.1h.8m12.3 .1h.8m.9 .5h.8m-.7-.1h.8m6.4-.1h.8m-29.4 .3h.8m2.4 .1h.8m.7 .6h.8m8.1-.1h.8m3.7-.4h.8m-.7 .5h.8m10-.7h.8m-20.7 .9h.8m11.3-.1h.8m-11.4 .8h.8m8.9 .4h.8" stroke="rgb(70, 100, 195)" stroke-width="0.8" stroke-opacity="0.55" fill="none"/>
<path d="M167.3 585.4h.8m2.4 0h.8m.8-.1h.8m-.1-.2h.8m5.3 .1h.8m-17.6 1h.8m-.1 .1h.8m2.2-.5h.8m-.8 .3h.8m-.3 .1h.8m-.7-.3h.8m1-.1h.8m-.5-.1h.8m-.3-.1h.8m-.6 .3h.8m-.2-.1h.8m-.7-.1h.8m.7 0h.8m-.6-.1h.8m-.7 0h.8m1.1 .6h.8m-.7 0h.8m3.6-.4h.8m-.2-.1h.8m-.5-.1h.8m.5 .6h.8m.2-.1h.8m-.3 .1h.8m.1-.1h.8m-.2 0h.8m-26.2 .9h.8m2.7 0h.8m.6-.2h.8m-.6-.4h.8m-.6 .2h.8m.1 .1h.8m0-.3h.8m-.3 .5h.8m-.6-.5h.8m0 .4h.8m6.6-.1h.8m-.6-.2h.8m-.7 0h.8m-.6 .1h.8m-.5 .3h.8m-.7-.5h.8m-.3 .4h.8m-.2-.4h.8m4.2 .2h.8m-.6 .2h.8m-.1 .1h.8m-.5-.5h.8m.3 .1h.8m-.5 .3h.8m-26 .8h.8m0 .3h.8m-.8-.5h.8m-.6 .2h.8m-.6 .3h.8m.1-.6h.8m-.8 .2h.8m0 .1h.8m-.5-.2h.8m-.8 0h.8m-.5 .5h.8m-.6-.5h.8m-.1 .3h.8m21.2 .2h.8m-28.4 .5h.8m-.8 0h.8m.2-.3h.8m-.7 .2h.8m-.3 .1h.8m-.6 .3h.8m-.7 0h.8m.5-.2h.8m0 .2h.8m23.1-.5h.8m-30.5 1.3h.8m-.6-.3h.8m-.3-.3h.8m-.8 .6h.8m-.8-.2h.8m-.7 .1h.8m.7-.1h.8m-.5-.3h.8m-.6 .1h.8m-.5 .1h.8m-.7 .3h.8m-.6-.6h.8m.6 .6h.8m-.8-.4h.8m24.4-.1h.8m-.7 .4h.8m-.6-.5h.8m-.5 .5h.8m-.6 0h.8m-36.1 .7h.8m-.5 .2h.8m-.7-.1h.8m-.2-.3h.8m-.7 .4h.8m-.5-.3h.8m-.4 .3h.8m2.5-.6h.8m-.7-.1h.8m-.6 .6h.8m-.8-.6h.8m-.6 .3h.8m-.5 .1h.8m-.6-.4h.8m-.7 .4h.8m-.7 .3h.8m.1-.2h.8m-.6 .1h.8m-.7-.6h.8m-.8 .5h.8m-.5 0h.8m-.1-.3h.8m-.7 .3h.8m-.4 0h.8m-.7 0h.8m-.7-.5h.8m-.7 .4h.8m-.5-.4h.8m-.8 .5h.8m-.7-.3h.8m-.8 .4h.8m24-.2h.8m-.1 0h.8m-.6 .1h.8m-.3-.3h.8m-.7 .2h.8m-37.2 1.1h.8m-.5 0h.8m.4-.5h.8m-.7 .5h.8m-.5-.5h.8m-.5 0h.8m2.6 .1h.8m.5 .1h.8m-.7 0h.8m-.1-.3h.8m-.7 .1h.8m.6 .3h.8m-.1 0h.8m.6-.1h.8m-.4 .1h.8m21.4 0h.8m-.1 .1h.8m-.8-.1h.8m-.5-.3h.8m-.7 .5h.8m-.6-.6h.8m-.8 .3h.8m0 .3h.8m-.7-.5h.8m-37.9 .7h.8m-.6 .2h.8m.2 .2h.8m-.7 0h.8m-.2-.3h.8m-.7 .3h.8m-.5-.1h.8m7.4 .1h.8m-.1-.5h.8m-.4 .2h.8m-.2 .2h.8m-.7-.2h.8m-.8-.2h.8m-.6 .4h.8m-.5-.3h.8m0 .6h.8m-.6-.1h.8m19.5 .1h.8m.3-.7h.8m.2 .1h.8m.2 .4h.8m-36.2 .5h.8m-.6 .5h.8m0-.1h.8m9-.6h.8m-.7 0h.8m-.8 .2h.8m0 .4h.8m.1-.4h.8m3.2 .4h.8m-.7 0h.8m-.8-.5h.8m14 .6h.8m-.6-.6h.8m-.5 .2h.8m-.8-.2h.8m-.3-.1h.8m.3 0h.8m-34.2 1.3h.8m-.7 .1h.8m-.5-.5h.8m11.3 .4h.8m-.7-.2h.8m-.8 .4h.8m-.2-.7h.8m0 .7h.8m.3-.2h.8m1.4-.5h.8m-.5 .6h.8m-.4 .1h.8m2.7-.5h.8m-.1 .5h.8m-.7-.4h.8m.1 .1h.8m.2 .3h.8m-.5-.7h.8m-.5 .4h.8m-.4 .1h.8m-.6-.4h.8m-.5 .2h.8m-.5 .3h.8m-.8-.4h.8m.5-.1h.8m-.3-.1h.8m-.2 0h.8m-.6 .4h.8m-.7-.1h.8m-.4 0h.8m-.4 .1h.8m-.4-.4h.8m-.5 .7h.8m-.5-.2h.8m-.7 0h.8m-32.9 1h.8m-.8-.3h.8m-.8 .3h.8m-.5 0h.8m-.7-.4h.8m-.6-.1h.8m-.8 .1h.8m-.8 .3h.8m14.4-.5h.8m0 0h.8m-.6-.1h.8m2.2 .7h.8m-.6-.3h.8m.3 .2h.8m-.6-.2h.8m.4-.4h.8m-.1 0h.8m-.1 .1h.8m3.7 0h.8m1.6 0h.8m-31.7 .8h.8m-.5 .1h.8m-.6-.2h.8m19.9 0h.8" stroke="rgb(56, 91, 189)" stroke-width="0.8" stroke-opacity="0.55" fill="none"/>
<path d="M167 586.1h.8m.1 .2h.8m-.4-.3h.8m-.1 .1h.8m-.7 .1h.8m0 0h.8m-.2-.2h.8m-.4 .2h.8m.2-.1h.8m-.6 .2h.8m4.4-.2h.8m.5 .1h.8m-.8-.1h.8m-16.3 1h.8m2.8-.4h.8m-.5-.1h.8m-.3 0h.8m-.8 .1h.8m-.2-.2h.8m-.5 .4h.8m-.8 0h.8m-.8-.4h.8m-.6 .2h.8m-.6-.2h.8m.1 .1h.8m-.3 .2h.8m-.8 .1h.8m-.6-.2h.8m-.4-.1h.8m-.3 .2h.8m-.1-.4h.8m-.7 .1h.8m-.7 .3h.8m-.3-.3h.8m-.7 .2h.8m-.8-.3h.8m2.9 .1h.8m-.4 0h.8m-.8 .3h.8m-.5-.3h.8m-.7 .3h.8m-.7 0h.8m-.6 .1h.8m-.8-.2h.8m-.5-.2h.8m.1 0h.8m-.7 .2h.8m-.7 0h.8m2.1 .4h.8m-.5-.1h.8m.5 0h.8m-21.3 .3h.8m-.6 .2h.8m-.6 .1h.8m-.8 .1h.8m-.6-.3h.8m-.5-.2h.8m-.8 .6h.8m-.4 .1h.8m-.6-.1h.8m-.8-.2h.8m-.5 .2h.8m-.5-.4h.8m-.5-.2h.8m-.4 .4h.8m-.4-.2h.8m-.8 .1h.8m-.3 .4h.8m-.5-.2h.8m-.8-.3h.8m-.6 .3h.8m13.4 .1h.8m-.7-.5h.8m-.6 .5h.8m-.5-.1h.8m-.8-.4h.8m-.7 0h.8m-.6-.1h.8m.1 0h.8m-.5 .7h.8m-.7-.2h.8m.1 .2h.8m-23.4 .6h.8m-.8 .2h.8m-.4-.1h.8m21.2-.1h.8m-.5-.2h.8m-.7 .2h.8m-24.3 .6h.8m-.5 .2h.8m0-.5h.8m20.8 .2h.8m-.6 .2h.8m-.7 .3h.8m-.3 0h.8m-.8-.5h.8m-24.5 .7h.8m-.4 .4h.8m.4 .1h.8m-.8 .1h.8m20.6-.3h.8m-.8-.1h.8m-.5-.2h.8m-23.8 1h.8m-.2-.1h.8m-.6 .1h.8m5.1 .4h.8m-.5 0h.8m12.8 0h.8m-.5-.2h.8m-.5 .2h.8m.3-.2h.8m-.5-.4h.8m0 0h.8m-22.3 1h.8m1 .4h.8m-.2-.1h.8m.1 .1h.8m-.8 0h.8m.8-.5h.8m-.8 0h.8m-.6 .1h.8m-.5 .3h.8m11.5 .1h.8m-.6 0h.8m0 0h.8m-.7-.5h.8m-.7-.2h.8m0 0h.8m-.6 .2h.8m-34.7 1.2h.8m-.7 0h.8m-.6-.6h.8m-.7 0h.8m-.6 .2h.8m-.5 .3h.8m-.5 .1h.8m-.6 .1h.8m-.6-.3h.8m-.6-.4h.8m-.8 .1h.8m-.7 .4h.8m13.4-.4h.8m-.5 .4h.8m-.5-.1h.8m-.6-.1h.8m-.4-.3h.8m-.5 .2h.8m-.6 .3h.8m-.5 .1h.8m-.7-.5h.8m.7-.1h.8m-.5 0h.8m8.1 .6h.8m-.7-.6h.8m-.1 .4h.8m-.7-.4h.8m-.8 .6h.8m-.4-.2h.8m-.7 0h.8m-.6 .3h.8m-.2-.5h.8m-.6 .1h.8m.1 0h.8m-.5-.1h.8m-33 1.1h.8m-.7-.1h.8m-.8 .2h.8m-.7-.5h.8m-.7 .6h.8m-.5-.4h.8m-.6 .4h.8m-.8-.2h.8m-.2 .1h.8m-.7-.5h.8m18.1 0h.8m-.7-.1h.8m-.4 .4h.8m-.4-.3h.8m-.3 .1h.8m-.8-.1h.8m-22.6 .7h.8m.4 0h.8m18.5 .1h.8m-.3 0h.8" stroke="rgb(44, 91, 186)" stroke-width="0.8" stroke-opacity="0.8" fill="none"/>
<path d="M173.5 587.1h.9m5.8 0h.9m-15.6 .8h.9m1.3-.1h.9m-.9 .1h.9m-.7-.6h.9m-.8 0h.9m-.7 .4h.9m3.2-.5h.9m-.7 .4h.9m-.8-.3h.9m-.8 .5h.9m-.5 0h.9m.2-.2h.9m4.1 .3h.9m-.8-.1h.9m-.9-.5h.9m-.8 .3h.9m-.8-.3h.9m-.9 .4h.9m-.4 .2h.9m-.9 0h.9m-.8-.6h.9m-.6-.1h.9m-18.6 1.2h.9m-.9 .2h.9m-.8-.2h.9m-.2 .3h.9m-.8-.3h.9m-.7 .1h.9m-.5 .2h.9m-.4-.3h.9m-.9 .3h.9m-.1-.1h.9m-.9 0h.9m-.9-.5h.9m.3-.1h.9m-.7 .2h.9m-.8 .4h.9m-.8-.4h.9m-.7 .2h.9m14.1-.2h.9m-.6-.2h.9m-.9 .5h.9m-.8-.4h.9m-.9 .2h.9m-.7 .2h.9m-.6-.5h.9m-.6 .2h.9m-.7 .5h.9m-.8 0h.9m-.9-.3h.9m-22.8 .7h.9m-.7 .4h.9m-.9-.3h.9m-.7 .2h.9m-.9-.5h.9m-.5 .4h.9m-.8-.4h.9m-.6 .5h.9m1.5-.6h.9m.3 .2h.9m-.6-.1h.9m-.6 .2h.9m14.1-.3h.9m-.1 .2h.9m-.9 .1h.9m-.6 .2h.9m-.9-.1h.9m-.7-.3h.9m-.7 0h.9m-23 .7h.9m-.8 0h.9m-.7 .1h.9m-.6 0h.9m-.8 0h.9m-.4 .6h.9m-.6-.3h.9m-.9-.3h.9m-.9 .2h.9m-.6 .1h.9m-.9 .2h.9m2.5-.6h.9m-.8 .2h.9m-.9 0h.9m-.8-.2h.9m-.6 .1h.9m-.2 .6h.9m-.6-.4h.9m12 .4h.9m-.5 0h.9m-.9-.4h.9m-.3 .2h.9m-.7-.2h.9m-.7 .1h.9m-.7 .2h.9m-.8 .1h.9m-.9-.3h.9m-.6-.3h.9m-.7 .2h.9m-.6-.1h.9m-21.8 .9h.9m-.7 0h.9m-.2 .2h.9m2.2 .1h.9m-.9 .1h.9m.1-.7h.9m10.5 .5h.9m.1 .1h.9m-.4 0h.9m-.8 0h.9m-.5-.6h.9m-.8 .3h.9m-.6 .4h.9m-.4-.4h.9m-.6 0h.9m-.9 0h.9m-.8 0h.9m0-.2h.9m-20.3 1.1h.9m-.8-.4h.9m-.8 .1h.9m-.9-.1h.9m1.7 .4h.9m-.7-.3h.9m.6 .3h.9m-.7-.3h.9m.3 .6h.9m-.7-.1h.9m-.9 0h.9m-.8 .1h.9m3.2 0h.9m-.3 0h.9m-.8-.1h.9m-.8 .1h.9m-.6 0h.9m2.6-.4h.9m-.1-.3h.9m-.8 .4h.9m-.5-.4h.9m-.7 .4h.9m-.8 0h.9m-.3-.1h.9m-.7 .1h.9m-.7-.4h.9m-12.7 1.5h.9m-.7-.4h.9m-.8 .4h.9m1.5-.7h.9m-.8 .2h.9m-.8-.1h.9m-.9 .6h.9m-.6-.1h.9m-.8-.2h.9m-.8 .3h.9m-.4-.2h.9m-.8 .1h.9m-.9-.5h.9m-.4 .2h.9m-.5 .2h.9m-.1 0h.9m-.3-.2h.9m-.5-.3h.9m-.5 .6h.9m-.6-.5h.9m-.8-.1h.9m-.7 .6h.9m-.6-.4h.9m-.8 .3h.9" stroke="rgb(42, 121, 196)" stroke-width="0.9" stroke-opacity="0.8" fill="none"/>
<path d="M169.1 587.1h.9m4.6-.1h.9m-.5 .1h.9m.1 0h.9m.3 0h.9m-9.7 .8h.9m-.8-.1h.9m-.8 0h.9m-.7-.6h.9m-.5 .3h.9m-.9 .4h.9m-.6-.2h.9m-.7 .1h.9m-.9-.2h.9m-.3-.4h.9m.4 .7h.9m-.7-.5h.9m-.9 .3h.9m-.9-.4h.9m1.8 .3h.9m-.8-.2h.9m-.4-.2h.9m-.4 .6h.9m-.9-.1h.9m-.5 .1h.9m-.8-.1h.9m-.8-.5h.9m-.8 .4h.9m-.9 .1h.9m-.4-.2h.9m-.8-.2h.9m-.9 0h.9m-.5 .4h.9m-.7 0h.9m-.8 0h.9m-.7-.4h.9m-.9-.1h.9m-.3 .7h.9m-.8-.2h.9m-.6-.1h.9m-12 .7h.9m-.9 .4h.9m-.6-.3h.9m-.6-.2h.9m-.9-.1h.9m11.2 .2h.9m-.8-.2h.9m-.9 .6h.9m-.9-.3h.9m-.8-.1h.9m-.9-.2h.9m-.8 0h.9m-.7 .1h.9m-.7 .5h.9m-.9-.7h.9m-.7 .1h.9m-.7 .4h.9m-.9-.3h.9m-.7 .4h.9m-18.8 .4h.9m-.6 .2h.9m-.6 0h.9m-.8-.1h.9m-.7 .3h.9m-.7-.4h.9m-.8-.1h.9m-.6 .3h.9m-.9-.1h.9m-.7-.2h.9m-.9 .3h.9m0 .1h.9m.3-.4h.9m-.8 .1h.9m-.6 .5h.9m-.7-.3h.9m11 .1h.9m-.7-.1h.9m-.9 .2h.9m-.2-.2h.9m-.5 0h.9m-.7-.2h.9m-.8 .4h.9m-.6 .1h.9m-.7-.4h.9m-19.1 1h.9m-.7-.5h.9m-.9 .5h.9m-.9-.5h.9m-.8 0h.9m-.9 .1h.9m-.8 .2h.9m-.5-.1h.9m-.9 .1h.9m-.5-.1h.9m-.4-.1h.9m-.5-.1h.9m-.9 0h.9m-.5 .7h.9m-.6-.3h.9m0-.2h.9m-.7 0h.9m11.5 .3h.9m.1-.4h.9m-.8 .1h.9m-.7-.2h.9m-.7 0h.9m-.7 .1h.9m-.8 .1h.9m-.6-.2h.9m-19.4 1h.9m-.9 0h.9m-.7 .2h.9m-.8-.2h.9m-.4 .4h.9m-.6-.1h.9m-.6 .2h.9m-.8-.3h.9m-.9 0h.9m-.6 .1h.9m-.8 .2h.9m-.7-.2h.9m-.8 .2h.9m-.2-.3h.9m-.8-.1h.9m10.6 .3h.9m-.7-.1h.9m-.7 0h.9m-.9 0h.9m.5-.2h.9m-.7-.3h.9m-.8 .2h.9m-.6 .1h.9m-17 .7h.9m-.7-.2h.9m0 0h.9m-.6 .5h.9m-.9 0h.9m3.9 .2h.9m.1 0h.9m-.7 0h.9m-.8 0h.9m5.1-.7h.9m-.8 0h.9m-.9 .2h.9m-.9 0h.9m-.7 .2h.9m-.9-.2h.9m-.9 .1h.9m-9 .9h.9m-.8 0h.9m-.7 .2h.9m-.3-.5h.9m-.7 .5h.9m-.6 0h.9m-.7-.5h.9m-.9 0h.9m-.9-.1h.9m-.7 .1h.9" stroke="rgb(40, 150, 203)" stroke-width="0.9" stroke-opacity="1" fill="none"/>
<path d="M170.5 587h.9m-.3 0h.9m-.8 0h.9m-.9 .1h.9m-1.7 .1h.9m-.9 0h.9m-.9 .4h.9m-.3 .2h.9m-.7 .1h.9m-3.7 .5h.9m-.5 .3h.9m-.5-.6h.9m-.7 0h.9m9.2 .2h.9m-.8 .3h.9m-.9-.5h.9m-.8 .2h.9m-.8 0h.9m-.8 .4h.9m-.9-.3h.9m-.9 .4h.9m-16.1 1.3h.9m-.5 .2h.9m-.8-.3h.9m-.8 .1h.9m-.6-.1h.9m-.9 .3h.9m-.8-.1h.9m-.7-.1h.9m-.8-.1h.9m-.8 .3h.9m-.9-.4h.9m-.8 0h.9m-.8 .1h.9m1.3 .1h.9m-.7 .1h.9m-.5 .1h.9m-.7-.1h.9m9-.2h.9m-.4-.1h.9m-.7 0h.9m-15.8 .8h.9m-.6-.1h.9m-.8-.1h.9m0 .1h.9m-.8-.2h.9m1.3 .2h.9m-.7 .2h.9m-.9-.3h.9m7.4 .5h.9m1.3-.4h.9m-.7-.2h.9m-2.7 1h.9m-.8 .1h.9m-.7 .2h.9" stroke="rgb(55, 170, 161)" stroke-width="0.9" stroke-opacity="1" fill="none"/>
<path d="M177.4 588h.9m-.8 .6h.9m-.9-.3h.9m-.3-.3h.9m-.7 .3h.9m-.9 .2h.9m-.8 0h.9m-.8-.5h.9m-.9 0h.9m-.8 0h.9m-.9 .4h.9m-.8-.4h.9m-.9 .7h.9m-.7-.5h.9m-10.8 1h.9m-.8-.1h.9m-.8-.1h.9m-.9 .3h.9m-.8-.1h.9m6.9-.4h.9m-.1 .1h.9m-.9-.1h.9m-.3 0h.9m-.3 .1h.9m-.6 .6h.9m-.9-.5h.9m-.6 .3h.9m-.9-.3h.9m-.8 0h.9m-.8 0h.9m-12.3 .6h.9m-.3 .2h.9m8.2 .2h.9m-.7 0h.9m-.3 .1h.9m-.6-.5h.9m-.9 0h.9m-.7 0h.9m-.5 .2h.9m-11.4 1.1h.9m-.6 0h.9m-.6 0h.9m2.6 .2h.9m-.8-.2h.9m-.3 .2h.9m-.6-.2h.9m.1 .1h.9m-.8-.2h.9m-.6 .1h.9m-.7 0h.9m-.8 .1h.9m-.7 0h.9m-.3 .1h.9m.3-.4h.9m-.9 .1h.9m-.7-.4h.9m-.7 0h.9m-9.6 1.2h.9m-.7-.1h.9m-.8-.3h.9m3.2 .3h.9m-.9-.1h.9m-.6 .2h.9m-.7-.2h.9m-.9 .1h.9m-.7 0h.9m-.6-.2h.9m-.8 0h.9m-.8-.1h.9m-.7 .1h.9m-.7 .1h.9m-.8 .2h.9m-.7-.2h.9m-.7 0h.9m-.8 0h.9m-.8 .2h.9m-.7-.3h.9m-.9 .3h.9m-.8-.3h.9m-.9 .2h.9m-.8 .1h.9" stroke="rgb(70, 190, 120)" stroke-width="0.9" stroke-opacity="1" fill="none"/>
<path d="M174.4 587.9h.9m-5.8 .2h.9m-.9 .4h.9m-.7 0h.9m-.8-.4h.9m-.9 .3h.9m-.8 .3h.9m-.7 0h.9m-.8-.6h.9m-.8 .6h.9m.2-.3h.9m-.9-.4h.9m-.9 .2h.9m-.8 .4h.9m-.5-.1h.9m-.8 .2h.9m-.9-.1h.9m-.9 0h.9m-.7 .1h.9m-.9 0h.9m-.8-.1h.9m-.7-.2h.9m-.9-.4h.9m-.9 0h.9m-.8 .7h.9m0 0h.9m-.8 0h.9m-.8 0h.9m-.7-.7h.9m-.9 .7h.9m-.8-.4h.9m-.9 .1h.9m-.8-.4h.9m-.9 .6h.9m-.6-.5h.9m-.9 .4h.9m-.8-.4h.9m-.8 .3h.9m-.5-.4h.9m-.9 0h.9m-.9 .2h.9m-.6 .3h.9m-.9 .2h.9m-.8-.3h.9m-.9 0h.9m-.8 .2h.9m-.9-.2h.9m-.9-.1h.9m-.8 .2h.9m-.6-.5h.9m-.4 .3h.9m-.8 0h.9m-.6 .1h.9m-.8-.3h.9m-.8 .5h.9m-.8 0h.9m-8.5 .2h.9m-.4 0h.9m-.6 0h.9m1.5 0h.9m.6 0h.9m0 0h.9m-.3 0h.9m0 0h.9m-.7 .1h.9m-.7-.1h.9m.2 .6h.9m-.9-.1h.9m-.5 .2h.9m-.9-.4h.9m-.9 0h.9m-.7 .4h.9m-.7-.1h.9m-.9-.3h.9m-2.7 .9h.9m-.5-.1h.9m-.7 .3h.9m-.7-.2h.9m-.8 .1h.9m-6.6 .8h.9m-.8 .2h.9m-.3-.2h.9m3.2-.5h.9m-.5 0h.9m-.7 .2h.9m-.7 0h.9m-.9 0h.9m-.8-.2h.9m-6.5 .9h.9m-.8 .2h.9m-.6 .2h.9m-.5-.3h.9" stroke="rgb(137, 203, 80)" stroke-width="0.9" stroke-opacity="1" fill="none"/>
<path d="M170.6 588.5h.9m-.9 0h.9m-.7 0h.9m-.8-.1h.9m-.8-.3h.9m-.7 .3h.9m-.8 .3h.9m4 .6h.9m-.9-.2h.9m-.8-.1h.9m-.9 .4h.9m-.6-.5h.9m-.7 .6h.9m-.6-.4h.9m-.8 0h.9m-.8 .2h.9m-.8 0h.9m-.8-.3h.9m-.9 .1h.9m-.9 0h.9m-.6 .3h.9m-.7-.4h.9m-.9 0h.9m-2.7 1.2h.9m-.8-.6h.9m-.9 .6h.9m-.8-.3h.9m-.9-.3h.9m-.6 .4h.9m-.7-.3h.9m-.8 .4h.9m-.9 .1h.9m-.8-.5h.9m-.9 0h.9m-.6-.1h.9m-.8 .2h.9m-.4 0h.9m-8.5 1h.9m-.9 .3h.9m-.9 0h.9m-.8 0h.9m-.5-.1h.9m-.9 .1h.9m-.7-.1h.9m-.7 .1h.9m-.9 0h.9m-.4 0h.9m-.6-.1h.9m3.6-.3h.9m-.5 0h.9m-7.2 .7h.9m-.8 .3h.9m-.7-.4h.9m-.4 0h.9m-.8 .3h.9m-.5-.4h.9m-.9 .5h.9" stroke="rgb(202, 211, 44)" stroke-width="0.9" stroke-opacity="1" fill="none"/>
<path d="M175.2 589h.9m-.7 .3h.9m-.7 .1h.9m-.7-.4h.9m-.9-.1h.9m-.9 .6h.9m-.8-.5h.9m-.8-.1h.9m-7.3 1h.9m-.8 .2h.9m-.9 .2h.9m-.6-.1h.9m-.9-.3h.9m-.8 .4h.9m-.9 0h.9m4.2-.3h.9m-.7 .2h.9m-.7-.1h.9m-.9 0h.9m-.8 .1h.9m-7.2 .6h.9m-.7-.3h.9m-.5-.1h.9m4.3 .4h.9m-.7-.2h.9m-.5-.1h.9" stroke="rgb(228, 173, 32)" stroke-width="0.9" stroke-opacity="1" fill="none"/>
<path d="M169.5 589.5h.9m-.8-.3h.9m-.9-.1h.9m-.7 0h.9m-.7 .4h.9m-.8-.2h.9m-.9 .2h.9m-.9 0h.9m1.3-.6h.9m-.5 .1h.9m-.5 .4h.9m.2 .1h.9m-.8-.4h.9m-.6 .4h.9m-.9-.3h.9m-.7-.3h.9m-.9 .4h.9m-.8 .1h.9m-.8-.5h.9m-.9 .3h.9m-.9 0h.9m-.8 .1h.9m-.9 0h.9m-.9-.1h.9m-.9 0h.9m-6.6 .6h.9m-.8-.1h.9m-.5 .2h.9m-.9-.2h.9m-.9 .1h.9m-.7-.2h.9m-.9 0h.9m-.8 0h.9m-.8 .1h.9m1.1 .6h.9m-.9-.3h.9m-.9 .2h.9m-.8 0h.9m-.9 .1h.9m-.9 0h.9m-.8 0h.9m-.8-.2h.9m-.9-.5h.9m-.9 .1h.9m-.8 .6h.9m-.7-.5h.9m-.9-.1h.9m-.9 .5h.9m-.8-.5h.9m-.9 .2h.9m-.9 .4h.9m-.2-.2h.9m-.9 .1h.9m-.8 .1h.9m-.8-.2h.9m-.7-.1h.9m-.9 .3h.9m-.8-.3h.9m-.9 .3h.9m-.8 0h.9m-.9-.5h.9m-.9 .3h.9m-.8-.4h.9m-.8 .2h.9m-.9-.3h.9m-.5 .5h.9m-.8-.4h.9m-.8 .4h.9m-3.5 .3h.9m-.8 .3h.9m-.8-.3h.9m-.9 .1h.9m-.7 .3h.9m-.8-.1h.9m-.6-.3h.9m-.9 .1h.9m-.9 0h.9m-.5 .2h.9m-.8-.1h.9m-.8 .1h.9m-.9-.2h.9m-.8-.1h.9m-.9 .2h.9m-.4-.1h.9m-.6-.1h.9m-.8 .2h.9m-.9 0h.9m-.9-.1h.9m-.7-.1h.9" stroke="rgb(240, 122, 25)" stroke-width="0.9" stroke-opacity="1" fill="none"/>
<path d="M171.3 589.1h.9m-.7 .4h.9m-.6 0h.9m-.8-.3h.9m-.9-.2h.9m-.8 .2h.9m-.9 .2h.9m-.8-.5h.9m-.8 .4h.9m.2 .2h.9m-.8-.4h.9m-.8 .4h.9m-.8-.1h.9m-.9 0h.9m-.7-.3h.9m-.9 .2h.9m-.8-.3h.9m-.8 .1h.9m-4.5 .8h.9m-.7 .4h.9m-.9-.4h.9m-.7 0h.9m-.8 .1h.9m-.9 .2h.9m-.7-.1h.9m-.8-.2h.9m-.8 .3h.9m-.8-.4h.9m-.9 .1h.9m-.8 .3h.9m-.9 .1h.9m-.9-.7h.9m-.8 .5h.9m-.8 0h.9m-.6 .2h.9m-.8-.3h.9m-.8-.4h.9m-.9 .3h.9m-.8 .2h.9m.1-.4h.9m-.7 0h.9m-.6 .1h.9m-.6-.2h.9m-4.4 .9h.9m-.8 .1h.9m-.9 0h.9m-.7-.1h.9m-.9 .1h.9m-.8 0h.9m-.7-.1h.9m-.8 .2h.9m-.5-.3h.9m-.8 .4h.9" stroke="rgb(230, 52, 25)" stroke-width="0.9" stroke-opacity="1" fill="none"/>
<path d="M170.5 589.2h.9m-.8-.1h.9m-.9 0h.9m-.6 .2h.9m-.9 .1h.9m-.8 0h.9m-.9-.3h.9m-.7 .4h.9m-.8-.1h.9m-1.8 .3h.9m-.8-.1h.9m-.7 .2h.9m-.9 0h.9m-.8-.2h.9m-.8 0h.9m-.8 .1h.9m-.7-.1h.9" stroke="rgb(220, 30, 20)" stroke-width="0.9" stroke-opacity="1" fill="none"/>
</g>
<line x1="135.70" y1="546.40" x2="197.30" y2="546.40" stroke="#666" stroke-width="0.8"/>
<line x1="135.70" y1="546.40" x2="135.70" y2="608.20" stroke="#555" stroke-width="0.8"/>
<line x1="135.70" y1="608.20" x2="197.30" y2="608.20" stroke="#666" stroke-width="0.8"/>
<line x1="155.41" y1="546.40" x2="155.41" y2="608.20" stroke="#505050" stroke-width="0.8"/>
<line x1="135.70" y1="583.48" x2="197.30" y2="583.48" stroke="#505050" stroke-width="0.8"/>
<line x1="134.10" y1="552.58" x2="135.70" y2="552.58" stroke="#777" stroke-width="0.6"/>
<text x="133.7" y="553.5" font-size="3" fill="#666" text-anchor="end">10</text>
<line x1="134.10" y1="566.79" x2="135.70" y2="566.79" stroke="#777" stroke-width="0.6"/>
<text x="133.7" y="567.7" font-size="3" fill="#666" text-anchor="end">10</text>
<line x1="134.10" y1="584.72" x2="135.70" y2="584.72" stroke="#777" stroke-width="0.6"/>
<text x="133.7" y="585.6" font-size="3" fill="#666" text-anchor="end">10</text>
<line x1="134.10" y1="594.60" x2="135.70" y2="594.60" stroke="#777" stroke-width="0.6"/>
<text x="133.7" y="595.5" font-size="3" fill="#666" text-anchor="end">10</text>
<line x1="134.10" y1="603.87" x2="135.70" y2="603.87" stroke="#777" stroke-width="0.6"/>
<text x="133.7" y="604.8" font-size="3" fill="#666" text-anchor="end">10</text>
<ellipse cx="134.4" cy="594.3" rx="0.9" ry="1.2" fill="#111"/>
<line x1="140.63" y1="608.20" x2="140.63" y2="609.80" stroke="#777" stroke-width="0.6"/>
<text x="140.6" y="613.0" font-size="3" fill="#666" text-anchor="middle">10</text>
<line x1="149.25" y1="608.20" x2="149.25" y2="609.80" stroke="#777" stroke-width="0.6"/>
<text x="149.3" y="613.0" font-size="3" fill="#666" text-anchor="middle">10</text>
<line x1="159.11" y1="608.20" x2="159.11" y2="609.80" stroke="#777" stroke-width="0.6"/>
<text x="159.1" y="613.0" font-size="3" fill="#666" text-anchor="middle">10</text>
<line x1="178.20" y1="608.20" x2="178.20" y2="609.80" stroke="#777" stroke-width="0.6"/>
<text x="178.2" y="613.0" font-size="3" fill="#666" text-anchor="middle">10</text>
<line x1="192.99" y1="608.20" x2="192.99" y2="609.80" stroke="#777" stroke-width="0.6"/>
<text x="193.0" y="613.0" font-size="3" fill="#666" text-anchor="middle">10</text>
<ellipse cx="149.3" cy="609.2" rx="1.4" ry="0.8" fill="#111"/>
<g filter="url(#fblur)">
<path d="M240 570.1h.8m11.5 0h.8m-.6 .1h.8m7.3 0h.8m-14.7 .8h.8m5.3-.4h.8m3.4 .1h.8m-14.7 .9h.8m-.2-.2h.8m-.3 0h.8m1.1 .4h.8m2.1-.2h.8m-.7 0h.8m4.2 0h.8m-14.5 1.1h.8m6-.2h.8m9.4 .2h.8m2.6-.1h.8m-20.1 .7h.8m-.5-.4h.8m8.8 .5h.8m5.3 .2h.8m.1 0h.8m-11.6 1.4h.8m2.6-.6h.8m8.1 .3h.8m-18.7 .5h.8m6.9 .1h.8m3.5 .2h.8m2.6 .2h.8m-14.8 .7h.8m3.2-.2h.8m.8 .5h.8m3.9-.2h.8m.9-.5h.8m-13.7 1.2h.8m4.4 .1h.8m4.9 .1h.8m3.2 .1h.8m1.4-.7h.8m-14.6 1.5h.8m3.7-.5h.8m3 0h.8m-.1 .4h.8m.1 0h.8m-15.3 .2h.8m10.1 0h.8m3.1 .4h.8m0-.2h.8m-15.3 1.1h.8m5-.1h.8m3.2-.2h.8m1.5-.2h.8m3.7 .1h.8m-.5 .1h.8m-.4 .4h.8m-.2-.6h.8m-10.8 1.4h.8m2.6-.3h.8m1.2-.3h.8m1.3 .5h.8m-20.8 .6h.8m1.6 .4h.8m4.9-.3h.8m1.1 0h.8m0-.4h.8m1.3 .7h.8m-.1-.7h.8m1.8 0h.8m-.5 .5h.8m0 0h.8m-.5 0h.8m1.4 .2h.8m.1-.2h.8m-.7-.2h.8m-.2 .4h.8m-19.7 .8h.8m7.6-.4h.8m2.7-.3h.8m2.4 .6h.8m-.1-.2h.8m-16.1 .4h.8m-.6 .4h.8m0-.2h.8m-.1 .1h.8m.1-.1h.8m1.5 .5h.8m2.3-.1h.8m-.4-.6h.8m2.2 .2h.8m-.2 .5h.8m-.6 0h.8m-.1-.1h.8m.4-.2h.8m-.2 .2h.8m.2 .1h.8m2.3-.3h.8m0 0h.8m-.8-.1h.8m4.8-.1h.8m-25.6 .6h.8m3 .5h.8m-.8-.4h.8m1.4 .5h.8m-.7-.5h.8m.8-.1h.8m.9 .7h.8m-.7-.7h.8m.5 .7h.8m1.2-.6h.8m1.2 .6h.8m2.1-.1h.8m-23.6 .5h.8m2.3-.2h.8m1.1 .6h.8m2-.4h.8m.4 .1h.8m-.7 .3h.8m.4-.7h.8m.2 .1h.8m-.4 .6h.8m-.6-.2h.8m-.4-.2h.8m.5-.2h.8m1.3-.1h.8m1.1 .6h.8m-.8-.6h.8m1.2 .7h.8m-.7-.2h.8m-.5 .2h.8m.3-.5h.8m-.8 .5h.8m.9-.5h.8m3.3 .3h.8m-26.3 1h.8m1.1-.1h.8m2.5-.2h.8m1.5 0h.8m3.7-.4h.8m-.4 0h.8m4 .1h.8m.3 .5h.8m-.4-.1h.8m.2 .2h.8m1.6-.1h.8m-.4 .1h.8m6-.5h.8m-31.7 1.1h.8m2.9-.4h.8m.9-.1h.8m.1 .5h.8m-.5 .2h.8m-.5 0h.8m-.6-.3h.8m1-.3h.8m.7 .5h.8m10.1-.2h.8m1.5 0h.8m-.1-.3h.8m-.5 .5h.8m-.2-.6h.8m-27.8 1h.8m-.8-.2h.8m-.2 0h.8m3.1 .4h.8m.2 .3h.8m-.2 0h.8m-.4-.4h.8m-.5 .1h.8m-.3 .1h.8m.7 0h.8m-.6 0h.8m-.3 0h.8m1.8 0h.8m9.3-.5h.8m-.6 0h.8m1.4 .7h.8m-.5-.1h.8m-.7-.4h.8m5.2 .5h.8m-.4-.1h.8m-36.9 .9h.8m9.9-.7h.8m-.5 .7h.8m-.5-.7h.8m.2 .5h.8m-.4 .2h.8m13.6-.1h.8m-.8-.6h.8m.2 .5h.8m-.1-.2h.8m-.5 .3h.8m-.5-.6h.8m-.5 .1h.8m-.8-.1h.8m.2 .3h.8m.5 .3h.8m6.6-.1h.8m-33.4 1h.8m.6 0h.8m1.4-.6h.8m.5 .4h.8m17.8 0h.8m-.8-.3h.8m.5-.1h.8m-.5 .6h.8m5.5 0h.8m-41.8 .6h.8m1.3-.1h.8m.3 .1h.8m-.7 .1h.8m.9 .1h.8m-.3-.2h.8m.4-.1h.8m-.1-.2h.8m4.3 .1h.8m-.3 .1h.8m-.3 .2h.8m.2-.2h.8m-.7-.1h.8m-.5 .2h.8m17 0h.8m-.7-.1h.8m-.7-.3h.8m-.1 .2h.8m-.5 .4h.8m2.7-.5h.8m.4 .2h.8m-.8 .3h.8m-43.7 .8h.8m2.2-.2h.8m.8 .2h.8m-.3 0h.8m.8-.2h.8m-.2 .1h.8m-.3 0h.8m1-.1h.8m.4-.1h.8m-.8 .2h.8m2.8 0h.8m.9 0h.8m.8-.5h.8m-.6-.1h.8m.2 .6h.8m17.5 .1h.8m-.3-.5h.8m-37.3 .8h.8m-.3 .1h.8m1-.3h.8m-.7 .1h.8m.1 0h.8m-.5 .3h.8m-.4 .1h.8m1.3-.1h.8m-.8-.2h.8m.3 .3h.8m-.8 0h.8m-.5-.5h.8m-.4 .7h.8m-.3-.5h.8m-.7 0h.8m.6 0h.8m-.6-.1h.8m.8 .4h.8m-.7-.1h.8m0-.1h.8m.5-.1h.8m-.5 0h.8m-.6 .5h.8m0 0h.8m.6-.3h.8m0-.2h.8m16.5 .2h.8m-.7 .3h.8m-.5-.1h.8m-.1-.5h.8m-33.3 .7h.8m-.2 .5h.8m-.2-.1h.8m-.5 .2h.8m1.1-.5h.8m-.2-.1h.8m.8 .4h.8m-.7 .3h.8m-.8-.7h.8m-.2 .4h.8m-.5-.4h.8m-.2 .5h.8m-.5-.2h.8m.1 .3h.8m-.5 0h.8m-.1-.2h.8m.2 .1h.8m-.8-.5h.8m-.2 .5h.8m-.6 0h.8m-.7-.4h.8m-.3 .3h.8m-.3-.2h.8m-.5 .3h.8m-.8-.2h.8m-.7 .3h.8m-.1 0h.8m-.6-.1h.8m.1-.5h.8m-.8 .5h.8m17.9 .2h.8m0-.1h.8m3-.3h.8m1.8-.1h.8m-41.2 .8h.8m-.6 .5h.8m-.7-.6h.8m-.3-.1h.8m2.5 .6h.8m.5 .1h.8m-.7-.6h.8m-.7 .6h.8m-.8-.7h.8m-.8 .7h.8m-.8-.4h.8m-.7 .1h.8m2.5 .1h.8m1-.1h.8m-.4-.3h.8m0 0h.8m-.2 .2h.8m.9 .3h.8m15.6-.5h.8m-.4 0h.8m-.8 .5h.8m-.6-.1h.8m-.6-.3h.8m-.5 0h.8m0 .3h.8m.2-.1h.8m-34.6 .4h.8m-.3 .2h.8m-.5 .4h.8m-.7 0h.8m1.1-.1h.8m-.1-.2h.8m-.4-.2h.8m.7 0h.8m-.1-.1h.8m1.7 0h.8m.1 .1h.8m1.1 .5h.8m0-.4h.8m.1 .4h.8m-.4 0h.8m.1-.6h.8m-.7 .5h.8m-.3 0h.8m16.3-.1h.8m-.3 .2h.8m0 0h.8m-.4-.4h.8m-.3 .1h.8m-40.6 .6h.8m5.3 .4h.8m5.8-.4h.8m4.3 .1h.8m-.6 .3h.8m-.1-.4h.8m0 .5h.8m15.8-.1h.8m-.5-.1h.8m.1-.3h.8m-37.2 1.2h.8m1.7-.2h.8m4.4 .2h.8m-.7-.2h.8m7.9 .4h.8m.5-.7h.8m17 0h.8m.4 .6h.8m.6-.4h.8m-.6 .5h.8m-36.6 .4h.8m-.2 .1h.8m6.9 .2h.8m7.4-.2h.8m.1 .3h.8m-.7-.7h.8m.8 .7h.8m-.1-.1h.8m.3 .1h.8m5.1 0h.8m1.9-.1h.8m2.5-.3h.8m.5 .3h.8m-35.8 .3h.8m-.8 .3h.8m7.5 .2h.8m1.2 .1h.8m4.9-.5h.8m-.5 .2h.8m1-.3h.8m.4 0h.8m-.3-.1h.8m-.2 .4h.8m-.7-.3h.8m-.4-.1h.8m1.1 .7h.8m4.3 0h.8m-.6-.4h.8m-.6 .2h.8m-.8-.5h.8m-.7 .4h.8m.8-.3h.8m-.6-.1h.8m-.7 .6h.8m.6-.4h.8m-.7-.1h.8m-.4 0h.8m-.4 .5h.8m-.4-.4h.8m-.7 .5h.8m.1 0h.8m-20.2 .2h.8m1.4 .3h.8m1.8 0h.8m-.8-.2h.8m2.1 .3h.8m-.6 .1h.8m-.8-.2h.8m-.6 .3h.8m-.7-.7h.8m-.5 .1h.8m-.2 .5h.8m1.4-.5h.8m-.6 0h.8m-.3 .1h.8m1 .3h.8m3.1-.4h.8m-.3 .3h.8m-.7-.2h.8m.1 .1h.8m-19.8 .9h.8m2.1 .1h.8m1.3-.1h.8m2.5 .3h.8m-.6-.7h.8m-.8 .5h.8m-.2 0h.8m.2 0h.8m1.1-.3h.8m-.7 .4h.8m-.4 .1h.8m.8-.5h.8m-.8 .1h.8m3.4-.3h.8m3.8 .5h.8m-21.1 1h.8m3.5-.7h.8m-.1 .4h.8m-.6 .2h.8m-.4-.5h.8m1.2-.1h.8m.9 .2h.8m0 .3h.8m-11.2 .5h.8m-.4 .1h.8m1.4-.2h.8m-.6 .2h.8m6.7-.2h.8m-.1 .5h.8m.8 .1h.8m-5 .6h.8m-.3-.1h.8m4.3-.3h.8m5.6 .3h.8m-17.9 1.1h.8m-.1-.6h.8m.9 .4h.8m-.6 .1h.8m1.6 0h.8m3.5-.6h.8m1.2 .2h.8m-14.6 1.3h.8m2.5-.2h.8m.8-.4h.8m1.7 0h.8m4.6 .3h.8m-18.3 .4h.8m6.6 .5h.8m3.6 0h.8m-8.1 .4h.8m7.5 .1h.8m-13.9 1.2h.8m14.5-.6h.8m-5.3 1.1h.8m-.1 .1h.8m-3.8 .8h.8" stroke="rgb(70, 100, 195)" stroke-width="0.8" stroke-opacity="0.55" fill="none"/>
<path d="M250.5 584.6h.8m-.7-.1h.8m-.6-.3h.8m.3 .5h.8m-.5-.1h.8m-4 .9h.8m.1-.4h.8m-.6 .1h.8m-.3-.4h.8m-.4 0h.8m-.2 .2h.8m1.2 .4h.8m-.6-.1h.8m-11 .8h.8m.1 .1h.8m-.4 0h.8m.7-.1h.8m-.6 .2h.8m-.2 0h.8m-.6-.1h.8m-.6 0h.8m.1-.3h.8m-.7 0h.8m.6-.3h.8m2.9 0h.8m-.6 .3h.8m-.5 .3h.8m-.7 0h.8m-.8-.2h.8m-11.1 1h.8m-.8-.4h.8m-.6 .5h.8m-.8-.6h.8m-.8 .6h.8m-.2-.5h.8m-.7 .2h.8m-.6-.2h.8m8.3 .3h.8m-.7-.4h.8m-.6 .4h.8m-.1-.5h.8m-13 1.5h.8m-.7-.2h.8m-.3 .1h.8m.1-.5h.8m.4 .5h.8m-.6-.5h.8m-.8 .4h.8m8.7 .2h.8m-14.6 .7h.8m-.5-.6h.8m-.7 .7h.8m-.4-.3h.8m-.8 .1h.8m.3 .2h.8m-.8-.2h.8m-.2-.4h.8m-.5 .5h.8m11.2-.6h.8m-.4 0h.8m-.7 .3h.8m-.8 .2h.8m-.1 .2h.8m-.4-.1h.8m.1-.6h.8m-17.2 1.4h.8m.4-.4h.8m12.9 .1h.8m-.8-.1h.8m-.3-.1h.8m-.3 .3h.8m-.6 .3h.8m-.8 0h.8m-17.6 .7h.8m-.1-.2h.8m-.3-.2h.8m-.5 .3h.8m-.6-.2h.8m-.8-.1h.8m-.7 .4h.8m-.7-.3h.8m-.2 0h.8m12.2 .1h.8m-.4 .2h.8m-35 .7h.8m1.9 .2h.8m14.9-.1h.8m-.6-.6h.8m-.6 .6h.8m.2-.2h.8m12 .1h.8m-.6 .2h.8m-.8 0h.8m-.4-.1h.8m-.6-.1h.8m-.3-.2h.8m-35.4 .6h.8m-.3 .2h.8m-.2 .2h.8m0 .1h.8m-.5-.2h.8m-.2-.4h.8m16 .7h.8m-.6-.4h.8m-.5-.3h.8m-.2 .5h.8m12-.5h.8m-.6 0h.8m-.6 .3h.8m-.2 0h.8m-36.4 .5h.8m-.3 .7h.8m2.8-.4h.8m-.7 .4h.8m15.4-.1h.8m12.5-.1h.8m-.7 0h.8m-34.4 .8h.8m-.4-.4h.8m2.5 .2h.8m-.6-.3h.8m-.7 .2h.8m15.1-.1h.8m.4 .6h.8m-.8-.2h.8m-.6-.1h.8m-.7 .3h.8m2-.3h.8m8.8 0h.8m-.6-.4h.8m0 .1h.8m-.6 .2h.8m-35.9 .6h.8m-.6 .4h.8m-.6-.4h.8m1.6 .5h.8m-.4-.2h.8m-.3-.4h.8m15.9 .6h.8m-.7-.4h.8m-.7 .5h.8m-.7-.3h.8m-.6 .1h.8m-.3 0h.8m-.7 0h.8m0 .1h.8m-.4-.4h.8m-.6 .4h.8m.9-.1h.8m-.6-.3h.8m-.5 .2h.8m-.6-.2h.8m7.3 .5h.8m-.7-.1h.8m-.5-.1h.8m-.6 .1h.8m-34.6 .2h.8m.3 .6h.8m-.8 0h.8m-.5 0h.8m17.5-.4h.8m.4 .1h.8m.4 .1h.8m-.7 .1h.8m.7-.5h.8m-.8 0h.8m-.7 0h.8m-.6 .6h.8m-.3 0h.8m-.4-.4h.8m-.7 0h.8m-.6-.2h.8m-.2 .4h.8m-.5 .3h.8m0 0h.8m-.2-.3h.8m-.1 .3h.8m-.2 0h.8m-.2 0h.8m-.4-.2h.8m-.1-.1h.8m.7 0h.8m-.8-.1h.8m.5 .3h.8m-.6 .1h.8m-.4-.7h.8m-.5 .4h.8m-.8 .2h.8m-.7-.5h.8m-.5-.1h.8m-.7 .3h.8m-.7 .3h.8m-34.8 .3h.8m-.3 0h.8m-.8 .1h.8m-.3 .1h.8m-.4 0h.8m18.3-.2h.8m.9 .3h.8m-.8-.2h.8m-.7-.2h.8m.1 .1h.8m.6 .4h.8m-.4-.4h.8m0 0h.8m-.3 .4h.8m-.5-.1h.8m-.6 .3h.8m-.7-.5h.8m.3 .3h.8m-.6 .1h.8m1.6-.6h.8m.5 0h.8m-.6 .4h.8m-.5-.1h.8m-8.3 1.2h.8m-.7-.7h.8m-.6 .2h.8m-.8 .4h.8m-.4-.2h.8m-.7 .3h.8m-.7-.4h.8m-.6-.3h.8m.1 .1h.8m-.6-.1h.8m-.2 .2h.8m-3.6 1.1h.8m-.3-.1h.8m.1-.3h.8" stroke="rgb(56, 91, 189)" stroke-width="0.8" stroke-opacity="0.55" fill="none"/>
<path d="M250.5 585.1h.8m.8 .3h.8m-3 .8h.8m-.6 0h.8m-.7-.1h.8m-.2-.3h.8m0 .2h.8m-.7-.3h.8m-.1 0h.8m-.6 0h.8m-.8 0h.8m-.6 .1h.8m-.5-.1h.8m-.1 .4h.8m-7.5 1h.8m-.8-.1h.8m1.6-.3h.8m-.5-.1h.8m2.6 .2h.8m-.8-.3h.8m-.6 0h.8m-.4 .1h.8m-.3 .4h.8m-.9 .6h.8m-.8-.2h.8m-.5 .5h.8m-.7-.1h.8m-.4-.4h.8m-.5 .5h.8m-11.1 .5h.8m-.6-.1h.8m-.7-.1h.8m-.7 .2h.8m9.9-.1h.8m-12.2 .6h.8m-.7 .2h.8m-.8-.3h.8m-.2 0h.8m8.9 .1h.8m-.6-.1h.8m0 .6h.8m-.6-.1h.8m-12.5 .8h.8m-.5-.3h.8m-.7-.2h.8m-.6 .5h.8m-.7-.1h.8m-.8 .1h.8m10.1-.2h.8m-.7-.3h.8m-.8 .7h.8m-13.5 .5h.8m.4 0h.8m-.7 .2h.8m-.7-.5h.8m-.5 0h.8m-.7 .3h.8m-.7 .1h.8m-.7 .1h.8m9.2 0h.8m.4-.4h.8m-35 1.3h.8m-.1 0h.8m-.5-.1h.8m.2 .1h.8m-.8 0h.8m18.5 0h.8m-.1 0h.8m-.6-.2h.8m.2 0h.8m-.8 .1h.8m-.7 0h.8m-.6-.6h.8m7.3 .7h.8m-.8 0h.8m.6-.6h.8m-33.5 1.3h.8m-.8-.6h.8m-.6 .1h.8m-.7 .6h.8m-.7-.3h.8m-.8 0h.8m-.6-.2h.8m-.7 .4h.8m-.8-.1h.8m-.4-.2h.8m-.7 .1h.8m-.4 .3h.8m-.7-.6h.8m-.8 .6h.8m-.3 0h.8m16.7-.1h.8m-.7-.2h.8m-.8-.2h.8m-.7 .3h.8m-.5-.3h.8m-.5 .4h.8m-.6-.5h.8m-.8 .4h.8m-.8 .1h.8m-.4-.6h.8m-.6 .6h.8m-.3-.1h.8m-.5-.2h.8m-.5 .2h.8m-.7 .2h.8m-.8-.6h.8m0-.1h.8m-.7 .7h.8m-.7 0h.8m-.5-.2h.8m-.8-.1h.8m-.7-.2h.8m6.9 .3h.8m-.6-.3h.8m-.7 .3h.8m-31.3 .3h.8m-.7 .7h.8m-.7-.5h.8m18.7 .5h.8m-.8-.2h.8m-.6-.3h.8m-.8 .2h.8m-.6-.3h.8m-.8 0h.8m-.4 0h.8m-.5-.1h.8m-.7 .3h.8m.5 .2h.8m-.7-.2h.8m-.5 0h.8m-.8-.2h.8m-.7 .3h.8m6.5 .2h.8m-.6-.5h.8m-.7 .5h.8m-.7-.6h.8m-.5 .2h.8m-33.2 .8h.8m-.4 .2h.8m-.7-.3h.8m-.6 .5h.8m-.8-.4h.8m-.7 .5h.8m-.7 0h.8m-.3-.3h.8m-.8-.1h.8m-.7 .1h.8m-.6-.2h.8m22.7 0h.8m-.3 .3h.8m-.6 .2h.8m-.5-.5h.8m2.7 .1h.8m-.7 .4h.8m-.8-.5h.8m-.6 .3h.8m-.2 .1h.8m-.5-.4h.8m-.6 .3h.8m-.3-.4h.8m-.6 .1h.8m-.5 .2h.8m-.8-.3h.8m-.4 .4h.8m-33.4 .3h.8m-.6 .2h.8m0 0h.8m23.7 0h.8m3.7 0h.8m.2-.1h.8" stroke="rgb(44, 91, 186)" stroke-width="0.8" stroke-opacity="0.8" fill="none"/>
<path d="M250.5 586.3h.9m-.4-.1h.9m-.8 .1h.9m-.3 0h.9m.1 0h.9m-.8-.2h.9m-3.4 .8h.9m-.4 0h.9m-.6-.4h.9m-.6 .1h.9m-.8 .2h.9m-.8-.2h.9m-.7 .1h.9m-.8-.2h.9m-.6 .4h.9m-.8-.4h.9m-.6 .3h.9m-.6-.4h.9m-6.1 1.3h.9m-.8-.5h.9m-.9 .4h.9m-.8 .3h.9m-.9-.6h.9m-.6 .1h.9m-3.6 1.1h.9m-.7-.5h.9m-.7 .1h.9m-.7 .5h.9m-.9-.5h.9m-.7 .6h.9m7.1-.7h.9m-.7 .5h.9m-.5-.2h.9m-.8 .1h.9m-10.3 .7h.9m-.7-.2h.9m-.8 .2h.9m-.6-.3h.9m-.8 .5h.9m8-.3h.9m-.8 .1h.9m-.9 .2h.9m-.8 0h.9m-10.7 .4h.9m-.5-.1h.9m-.7 .6h.9m-.9-.5h.9m8.3 .3h.9m-.8-.3h.9m-.8 .2h.9m-.8 0h.9m-.8-.3h.9m-.8 .1h.9m-10.6 .9h.9m7.3 .2h.9m-.6 .2h.9m-.2-.3h.9m-.7 .1h.9m-.5-.1h.9m-10.4 .6h.9m-.5 .1h.9m-.6 0h.9m6.2 0h.9m-.6-.2h.9m-33 2.2h.9m-.7 0h.9m-.8-.5h.9m-.6 .6h.9m-.7-.2h.9m-.7 0h.9m-.6-.3h.9m-.9-.1h.9m-.7 .6h.9m-.9-.3h.9m22.7-.2h.9m-.7 .3h.9m-.6-.4h.9m4.3 0h.9m-.6 .4h.9m-.8-.2h.9m-.9 .3h.9m-.9-.6h.9m-32.1 .8h.9m.2 0h.9m-.7 0h.9m24.8 .7h.9m-.6-.4h.9m-.8 .1h.9m-.5 0h.9m-.8 .2h.9m-.8-.3h.9m-.7 .1h.9m-.7 .2h.9m-.7 0h.9m-.6 .1h.9m-.8-.6h.9m1.4-.1h.9m-5 .8h.9m.8 0h.9m-.3 .1h.9" stroke="rgb(42, 121, 196)" stroke-width="0.9" stroke-opacity="0.8" fill="none"/>
<path d="M253.7 587h.9m-.9 0h.9m-6.2 .9h.9m-.9-.4h.9m-.7-.2h.9m-.9 .2h.9m-.8 .3h.9m-.9-.5h.9m-.7 .5h.9m-.6-.4h.9m-.9 .5h.9m-.6 0h.9m-.8-.3h.9m-.8-.3h.9m-.7 .5h.9m-.7-.1h.9m-.8-.1h.9m-.8 .2h.9m2.1 0h.9m-.1-.2h.9m-8.3 .6h.9m-.6 .5h.9m-.9 0h.9m-.6 0h.9m6.7 .7h.9m-.7-.3h.9m-9.3 .8h.9m-.8 .4h.9m-.9-.3h.9m-.8 .1h.9m-.6-.2h.9m-.8 .4h.9m6 0h.9m-.9 0h.9m-.8-.3h.9m-.8 .3h.9m-.6-.2h.9m-.9-.1h.9m-.7-.3h.9m-9.3 1h.9m-.9-.3h.9m-.6 .3h.9m-.6 .1h.9m6.2-.1h.9m-.6-.1h.9m-.6-.2h.9m-7.8 1.4h.9m-.6 .1h.9m-1.5 .7h.9m-.4-.3h.9m4.2 .1h.9m-.6-.4h.9m-.9 .1h.9m-.8 .3h.9m-.7-.2h.9m-6.3 .8h.9m-.7 0h.9m-.9 .1h.9m-.8 0h.9m-.9-.1h.9m-.8 .5h.9m-.7-.7h.9m-.8 .7h.9m-.9-.2h.9m-.9 .2h.9m-.8-.6h.9m-1.3 .8h.9" stroke="rgb(40, 150, 203)" stroke-width="0.9" stroke-opacity="1" fill="none"/>
<path d="M250.3 587.8h.9m-.8-.6h.9m-.8 .3h.9m-.7 .1h.9m-.6 .3h.9m-.9-.6h.9m.3 .5h.9m-.8-.4h.9m-.5 0h.9m-.9 .1h.9m-.8-.2h.9m-.9 0h.9m-.7-.1h.9m-6.3 1h.9m-.8 0h.9m-.8-.2h.9m-.7 .6h.9m-.8 0h.9m-.9-.3h.9m-.8 .2h.9m-.9 .1h.9m-.8-.4h.9m4.1-.1h.9m-.8 0h.9m-.7 .4h.9m-.8 .1h.9m-.8 .1h.9m-.7-.7h.9m-.8 .6h.9m-.9 0h.9m-8.6 .8h.9m-.8-.4h.9m-.6-.1h.9m-.8 .2h.9m-.9 .1h.9m-.6-.2h.9m-.7 .2h.9m-.8-.3h.9m-.7-.1h.9m-.8 .1h.9m-.7-.1h.9m-.9 0h.9m4.3 .6h.9m-.8 0h.9m-.6-.1h.9m-.9-.5h.9m-7.9 1h.9m-.4-.1h.9m5.2 .3h.9m-.9-.2h.9m-.3 .4h.9m-.8 0h.9m-.9 .1h.9m-.8-.5h.9m-.9 .1h.9m-7.1 1.2h.9m-.6-.3h.9m4.4 0h.9m-.6-.4h.9m-.9 .2h.9m-.8-.2h.9m-.6 .5h.9m-.9-.1h.9m-7.2 .4h.9m-.9 .6h.9m-.6-.6h.9m-.8 .3h.9m-.8 .2h.9m4-.3h.9m-.7 0h.9m-.5 .3h.9m-.8-.2h.9m-.7-.3h.9m-.9 .1h.9m-5.5 1.9h.9m-.9-.4h.9m-.9 .5h.9m-.9 0h.9m-.8-.5h.9m-.5 .3h.9m-.8-.2h.9m1.3 .6h.9m-.4-.2h.9m-.8-.2h.9m-.8 .4h.9m-.8-.6h.9m-.8-.1h.9" stroke="rgb(55, 170, 161)" stroke-width="0.9" stroke-opacity="1" fill="none"/>
<path d="M251.7 587.1h.9m-.8-.1h.9m-1.3 .2h.9m-.8 0h.9m-.8 .7h.9m-.9-.4h.9m-.8-.1h.9m-.7-.2h.9m-4.3 1.4h.9m-.8-.1h.9m-.9-.1h.9m-.5 .3h.9m-.4-.4h.9m-.6 0h.9m-.8 .2h.9m-.9-.3h.9m-.9 .3h.9m-.8 .1h.9m-3.5 .6h.9m-.5 .1h.9m-.8-.3h.9m-.7 0h.9m-.7 .1h.9m-.9 .1h.9m-.9-.2h.9m-.6-.2h.9m-.9 0h.9m-.3 .1h.9m-2.3 .8h.9m-.9 .4h.9m-.7 0h.9m-.8 0h.9m-1.3 .4h.9m-.9 .2h.9m-.6 0h.9m-.7 0h.9m-.7 1.1h.9m-.6 0h.9m-1.2 .5h.9m-.8-.2h.9m-.7 0h.9m-.9 .1h.9m-.6 .1h.9m-.8-.2h.9m-.8 .3h.9m-.9-.4h.9m-.8 .6h.9m.2 .7h.9m-.6-.4h.9m-.8 .5h.9m-.5 0h.9m-.9-.4h.9m-.8-.1h.9m-.9 0h.9m-.8-.1h.9m-.8 .2h.9m-.9 .4h.9m-.8-.2h.9m-.8-.3h.9m-.5-.1h.9m-.8 .3h.9m-.9-.1h.9m-2.8 .6h.9m-.3 .1h.9m-.9-.1h.9m-.5 .1h.9" stroke="rgb(70, 190, 120)" stroke-width="0.9" stroke-opacity="1" fill="none"/>
<path d="M251 587.9h.9m-1.5 .1h.9m-.9 .7h.9m-.9-.1h.9m-.5-.6h.9m-.9 .5h.9m-.9 .2h.9m-.7-.6h.9m-.9 .4h.9m-.7-.4h.9m.5 .1h.9m-.9 .3h.9m-.9 .1h.9m-.9-.1h.9m-.6 0h.9m-.9 0h.9m-.7-.3h.9m-.9 .3h.9m-.9 .2h.9m-5.4 .3h.9m-.9 .5h.9m-.7 0h.9m-.8-.4h.9m-.7 .2h.9m-.7-.2h.9m1-.2h.9m.1 .1h.9m-.8-.2h.9m-.8 0h.9m-.9 .6h.9m-.8-.4h.9m-.8 .5h.9m-.9-.7h.9m-.8 .3h.9m-.9 .2h.9m-.9 .1h.9m-.8-.2h.9m-5.2 .7h.9m3.1-.2h.9m-.8 .1h.9m-5 1.1h.9m-.8 .3h.9m-.6 .2h.9m-.7-.1h.9m-.9 0h.9m-.9 .1h.9m2.5 .5h.9m-.9 .8h.9m-.9-.7h.9m-.6 .1h.9m-.8 .3h.9m-.9-.3h.9m-.7-.1h.9m-.9 .2h.9m-.9-.1h.9" stroke="rgb(137, 203, 80)" stroke-width="0.9" stroke-opacity="1" fill="none"/>
<path d="M251.5 587.9h.9m-1.1 .2h.9m-.8 .4h.9m-.8-.2h.9m-.7 .2h.9m-.7-.3h.9m-.8 .5h.9m-.8 0h.9m-.9-.6h.9m-3.6 1h.9m-.5 0h.9m-.9 .4h.9m-.7-.3h.9m-.7 0h.9m.4-.4h.9m-.7 0h.9m-.9 .1h.9m-.9 0h.9m-.7-.1h.9m-4.4 1.1h.9m-.8 0h.9m-.9 .1h.9m-.8 0h.9m-.8 .1h.9m-.8-.1h.9m-.9 .2h.9m-.7-.2h.9m-.8 .3h.9m-.9-.4h.9m-.2-.2h.9m-.9-.1h.9m-.6 .1h.9m-.9 0h.9m1.6 .3h.9m-.8 .1h.9m-.6-.2h.9m-.9 .4h.9m-.9-.4h.9m-5.4 .8h.9m-.8-.1h.9m-.9 .1h.9m-.8 .1h.9m-.8 0h.9m-.9-.4h.9m-.6 .2h.9m2.3 .1h.9m-.9 .3h.9m-.8 0h.9m-.3-.5h.9m-.9 .5h.9m-.9-.3h.9m-.7 .1h.9m-4.3 1.1h.9m1.9-.7h.9m-.7 0h.9m-.7 0h.9m-.8 .6h.9m-4.6 .9h.9m-.8-.3h.9m-.8-.1h.9m-.7 .4h.9m-.9-.6h.9m-.6 .2h.9m-.9-.2h.9m-.9 0h.9m-.8-.1h.9m-.8 .6h.9" stroke="rgb(202, 211, 44)" stroke-width="0.9" stroke-opacity="1" fill="none"/>
<path d="M250.5 589h.9m-.9-.1h.9m-.8 .4h.9m-.9 .1h.9m-.5-.2h.9m-.9-.2h.9m-.7 .1h.9m-.9 0h.9m-.9 .1h.9m-.8 .1h.9m-.8 0h.9m-.9 .1h.9m-.2-.1h.9m-3.5 .7h.9m-.8-.1h.9m-.7 0h.9m-.9 .4h.9m-.7-.2h.9m-.3-.3h.9m-.3-.2h.9m-.7 0h.9m-.6 .2h.9m-.8-.1h.9m-.8-.1h.9m-3.5 .8h.9m-.6 .4h.9m-.9-.1h.9m-.8 0h.9m-.9-.2h.9m-.8 .3h.9m-.9-.3h.9m-.8 .3h.9m-.8 .1h.9m-.8 0h.9m-1.7 .7h.9m-.5-.1h.9m-.5-.3h.9m-.8 0h.9m.2 .8h.9m-.8 .6h.9m-.7-.2h.9m-.8 .2h.9m-.9-.4h.9m-.8 .3h.9m-.9-.3h.9m-.7 .4h.9m-.9-.5h.9m-.9-.1h.9m-.8 .2h.9" stroke="rgb(228, 173, 32)" stroke-width="0.9" stroke-opacity="1" fill="none"/>
<path d="M251.5 590.2h.9m-.9-.1h.9m-.9-.2h.9m-.8 0h.9m-.5 .2h.9m-.8-.1h.9m-1.7 .4h.9m-.9 .1h.9m-.4 0h.9m-.7 .3h.9m-.7-.4h.9m-2.7 2.3h.9m-.9-.6h.9m-.9 .1h.9m-.9-.2h.9m-.8 .3h.9m-.9 0h.9m-.7 0h.9m-.8 .4h.9m-.6 0h.9m-.8-.6h.9m-.9 0h.9" stroke="rgb(240, 122, 25)" stroke-width="0.9" stroke-opacity="1" fill="none"/>
<path d="M250.3 589.9h.9m-.9 .4h.9m-.8-.2h.9m-.7 .1h.9m-.8-.1h.9m-.9 0h.9m-.8 .2h.9m-.7 0h.9m-.7-.3h.9m-1.8 .5h.9m-.3 .3h.9m-.8-.2h.9m-.5 .5h.9m-.6 0h.9m-.9-.1h.9m-.8 .1h.9m-.8-.1h.9m-.9 .1h.9m-.8-.1h.9m-.7 .1h.9m-1.8 .1h.9m-.8 .5h.9m-.9-.4h.9m-.9 .1h.9m-.8 .3h.9m-.8-.4h.9m-.8 .1h.9m-.8 .3h.9m-.9-.1h.9m-.9 0h.9m-.8-.3h.9m-.8 .2h.9m-.8-.2h.9m-.8 .3h.9" stroke="rgb(230, 52, 25)" stroke-width="0.9" stroke-opacity="1" fill="none"/>
<path d="M250.4 590.9h.9m-.8 .1h.9m-.7 .1h.9m-.8-.1h.9m-.7 .1h.9m-.8-.2h.9m-.9 .2h.9m-.9-.1h.9m-1.6 .2h.9m-.9 0h.9m-.8 .6h.9m-.9-.3h.9m-.9 0h.9m-.7 0h.9m-.9 .3h.9m-.5-.4h.9m-.9 .3h.9m-.8-.4h.9" stroke="rgb(220, 30, 20)" stroke-width="0.9" stroke-opacity="1" fill="none"/>
</g>
<line x1="208.90" y1="546.40" x2="270.50" y2="546.40" stroke="#666" stroke-width="0.8"/>
<line x1="208.90" y1="546.40" x2="208.90" y2="608.20" stroke="#555" stroke-width="0.8"/>
<line x1="208.90" y1="608.20" x2="270.50" y2="608.20" stroke="#666" stroke-width="0.8"/>
<line x1="270.50" y1="546.40" x2="270.50" y2="608.20" stroke="#888" stroke-width="0.8"/>
<line x1="229.23" y1="546.40" x2="229.23" y2="608.20" stroke="#aaa" stroke-width="1.6"/>
<line x1="208.90" y1="583.48" x2="270.50" y2="583.48" stroke="#505050" stroke-width="0.8"/>
<line x1="207.30" y1="552.58" x2="208.90" y2="552.58" stroke="#777" stroke-width="0.6"/>
<text x="206.9" y="553.5" font-size="3" fill="#666" text-anchor="end">10</text>
<line x1="207.30" y1="566.79" x2="208.90" y2="566.79" stroke="#777" stroke-width="0.6"/>
<text x="206.9" y="567.7" font-size="3" fill="#666" text-anchor="end">10</text>
<line x1="207.30" y1="584.72" x2="208.90" y2="584.72" stroke="#777" stroke-width="0.6"/>
<text x="206.9" y="585.6" font-size="3" fill="#666" text-anchor="end">10</text>
<line x1="207.30" y1="594.60" x2="208.90" y2="594.60" stroke="#777" stroke-width="0.6"/>
<text x="206.9" y="595.5" font-size="3" fill="#666" text-anchor="end">10</text>
<line x1="207.30" y1="603.87" x2="208.90" y2="603.87" stroke="#777" stroke-width="0.6"/>
<text x="206.9" y="604.8" font-size="3" fill="#666" text-anchor="end">10</text>
<ellipse cx="207.6" cy="594.3" rx="0.9" ry="1.2" fill="#111"/>
<line x1="213.83" y1="608.20" x2="213.83" y2="609.80" stroke="#777" stroke-width="0.6"/>
<text x="213.8" y="613.0" font-size="3" fill="#666" text-anchor="middle">10</text>
<line x1="222.45" y1="608.20" x2="222.45" y2="609.80" stroke="#777" stroke-width="0.6"/>
<text x="222.5" y="613.0" font-size="3" fill="#666" text-anchor="middle">10</text>
<line x1="232.31" y1="608.20" x2="232.31" y2="609.80" stroke="#777" stroke-width="0.6"/>
<text x="232.3" y="613.0" font-size="3" fill="#666" text-anchor="middle">10</text>
<line x1="251.40" y1="608.20" x2="251.40" y2="609.80" stroke="#777" stroke-width="0.6"/>
<text x="251.4" y="613.0" font-size="3" fill="#666" text-anchor="middle">10</text>
<line x1="266.19" y1="608.20" x2="266.19" y2="609.80" stroke="#777" stroke-width="0.6"/>
<text x="266.2" y="613.0" font-size="3" fill="#666" text-anchor="middle">10</text>
<ellipse cx="222.5" cy="609.2" rx="1.4" ry="0.8" fill="#111"/>
<g filter="url(#fblur)">
<path d="M326.4 547.2h.8m-3 4.1h.8m9.5 1h.8m6.7 1h.8m-26.9 1.6h.8m6.5 .1h.8m4-.1h.8m1.6-.3h.8m3.4 .2h.8m3.4 .1h.8m-16.6 .7h.8m.4-.3h.8m8.6 .4h.8m-6.3 .9h.8m2.6 0h.8m6.5-.3h.8m-16.3 .6h.8m7.9 .6h.8m1.6-.7h.8m-32.8 1.4h.8m.2-.4h.8m11.4 .1h.8m11.1 .4h.8m3.5-.1h.8m-14.2 .5h.8m.9 .1h.8m-.1-.3h.8m11.8 .2h.8m3 .2h.8m-13.6 .5h.8m11.3 .5h.8m4.7-.7h.8m-19.8 .9h.8m.5 .3h.8m5.8 .1h.8m1.6-.1h.8m.4-.2h.8m3.3 .2h.8m-23.3 1h.8m.6-.5h.8m-.5 .3h.8m4.5 .1h.8m-.1-.4h.8m.2 .5h.8m8.8-.1h.8m-29 .4h.8m1.9 .3h.8m.3 0h.8m1 .2h.8m1-.3h.8m1.3-.2h.8m3.8 .6h.8m-.2-.2h.8m-.7-.1h.8m2 .1h.8m1.3 .1h.8m2.2-.6h.8m1 .1h.8m2.3 .2h.8m-.7 .3h.8m.6-.2h.8m-.4 .3h.8m-34.9 .8h.8m7-.6h.8m3 0h.8m.7 .4h.8m4.6 .2h.8m1.5-.4h.8m1.5 0h.8m.3 .1h.8m.1-.2h.8m1.2-.1h.8m3.1-.1h.8m-.3 .2h.8m-38.3 1.3h.8m2.3-.2h.8m.2-.4h.8m2 .2h.8m2.3-.2h.8m2.4 0h.8m6.5 .5h.8m-.5 .1h.8m-.5-.4h.8m.7-.1h.8m5.2 .3h.8m.8-.4h.8m0 .3h.8m.3-.2h.8m.8 .5h.8m.1-.7h.8m0 .2h.8m1-.1h.8m-.3 .4h.8m1.4-.1h.8m-.3 .1h.8m-29.8 .7h.8m-.6 .2h.8m-.5-.3h.8m4.2 .4h.8m-.7-.5h.8m.7 .1h.8m-.4 .1h.8m1.7-.2h.8m.1 .2h.8m-.5 .3h.8m-.7-.4h.8m.4-.1h.8m0 .1h.8m.6-.3h.8m1 .2h.8m4.2 .2h.8m1.4 .1h.8m4 .1h.8m3.5-.5h.8m-44.3 1h.8m6.4-.2h.8m2.6 .6h.8m.6-.4h.8m2.8 .1h.8m-.5 .3h.8m-.8-.3h.8m1.6 0h.8m.4-.1h.8m1.2 .1h.8m.1 .3h.8m-.8-.6h.8m-.6 .4h.8m-.1-.5h.8m1.2 .1h.8m.6-.1h.8m-.5 .7h.8m3.2-.5h.8m-.6-.1h.8m.8 .4h.8m4.4 .2h.8m-32.8 .4h.8m.9 .1h.8m1.8 .1h.8m-.5 0h.8m.2 .2h.8m-.6-.1h.8m-.1-.3h.8m.7-.3h.8m-.6 .7h.8m.3-.7h.8m.5 0h.8m-.1 .6h.8m-.7-.2h.8m-.5-.1h.8m-.2-.1h.8m1.2-.2h.8m0 .2h.8m-.2 .5h.8m.2-.1h.8m-.5 .1h.8m-.3-.7h.8m-.3 .7h.8m-.2-.1h.8m.1-.4h.8m-.8 .5h.8m-.6-.4h.8m1.8 0h.8m-.8-.2h.8m-.6-.1h.8m.3 0h.8m.4 .3h.8m.2-.2h.8m-.5 .1h.8m-.7 .4h.8m-.6-.2h.8m3.9-.4h.8m.4 .2h.8m-.3 0h.8m1 .4h.8m-39.2 .8h.8m4.3-.1h.8m-.5-.2h.8m-.6 .3h.8m-.3-.1h.8m-.7-.2h.8m-.1 .2h.8m1.9-.4h.8m.2 .2h.8m-.8-.3h.8m-.7 0h.8m-.7 .1h.8m-.6 0h.8m.1 .2h.8m-.4-.3h.8m.3 .5h.8m.2-.5h.8m.2 .1h.8m-.4 .3h.8m-.6-.3h.8m1.8-.1h.8m-.2 .5h.8m-.4 .1h.8m1.8 0h.8m-.6-.5h.8m.7 .3h.8m-.8 .2h.8m-.5-.3h.8m-.2 .3h.8m.1-.5h.8m.4 .1h.8m.1-.2h.8m.4 .2h.8m-.7-.2h.8m3.5 .5h.8m3.7 0h.8m-39.4 1h.8m1.5-.1h.8m.4-.4h.8m2 .5h.8m.1-.3h.8m.3 .1h.8m1.5-.3h.8m-.4 .3h.8m1.3 .2h.8m-.7-.4h.8m.1 .2h.8m-.4-.4h.8m-.2 0h.8m.1 0h.8m.8 .5h.8m-.4-.4h.8m-.5 .5h.8m-.4-.3h.8m-.7 .2h.8m-.8-.6h.8m.4 .5h.8m-.5-.4h.8m0 .6h.8m-.7-.4h.8m2.2 .4h.8m-.5-.6h.8m.3 .4h.8m0 0h.8m-.6 0h.8m1.7-.3h.8m.3-.2h.8m-.8 .4h.8m-.5 0h.8m.8 0h.8m0 .3h.8m3.7-.3h.8m1.3-.1h.8m-45.7 .8h.8m2.6-.3h.8m3.1 .3h.8m-.1 .4h.8m.2-.6h.8m0 .3h.8m1.4-.3h.8m-.3 .2h.8m-.4 .2h.8m-.2 .1h.8m-.6-.1h.8m-.8-.3h.8m-.4 .5h.8m1.5-.3h.8m-.4 .1h.8m-.7 0h.8m-.6-.2h.8m-.5-.2h.8m-.3 0h.8m1.4 .2h.8m.2-.2h.8m-.5 .5h.8m-.7 .1h.8m-.3-.6h.8m.9 .3h.8m-.2-.3h.8m-.7 .1h.8m-.8 .1h.8m0 0h.8m.3 .4h.8m-.5-.4h.8m.6-.2h.8m1.8-.1h.8m.4 0h.8m1.2 0h.8m.5 .4h.8m-.7-.3h.8m-.3 0h.8m1.7 .4h.8m-.7-.1h.8m-.6 0h.8m10.9 0h.8m-52.5 .9h.8m3.5-.3h.8m-.7-.1h.8m-.6 .5h.8m3.5-.2h.8m3.2 .1h.8m.4-.4h.8m-.4 .6h.8m2.4 0h.8m-.6 0h.8m-.3-.6h.8m.1 .4h.8m-.7-.4h.8m-.4 .2h.8m-.6-.1h.8m-.1-.2h.8m-.4 0h.8m-.6 .6h.8m-.1-.2h.8m-.5-.2h.8m.7-.2h.8m-.1 .6h.8m-.7-.5h.8m-.5 .1h.8m-.5 .4h.8m.1 0h.8m-.4-.6h.8m-.8 .5h.8m-.8-.1h.8m.2 0h.8m-.8 0h.8m.5 .2h.8m.3-.6h.8m-.8 .7h.8m-.8-.6h.8m.4 .6h.8m-.8-.4h.8m-.7-.3h.8m-.7 .3h.8m-.5 .4h.8m-.2 0h.8m.4-.5h.8m-.2 .1h.8m-.5-.2h.8m.3-.1h.8m1.3 .6h.8m-.4-.4h.8m-.7 .1h.8m-.3-.3h.8m2 .3h.8m-.5 0h.8m-.1 .3h.8m-.6-.1h.8m1.7-.1h.8m.1 .2h.8m.9 0h.8m-.3 0h.8m.9-.4h.8m-44 .9h.8m.4-.2h.8m3.3 .5h.8m-.5-.4h.8m-.4 .2h.8m.3-.2h.8m-.1 0h.8m-.5 .2h.8m1.4-.2h.8m-.1 .1h.8m.5 0h.8m-.7 .2h.8m-.3 .1h.8m.8 .1h.8m0-.4h.8m-.6 .4h.8m-.6 0h.8m-.3-.4h.8m-.4 .4h.8m-.5-.7h.8m-.7 .3h.8m-.5-.3h.8m-.6 .2h.8m-.4 .5h.8m.2-.1h.8m-.3-.5h.8m-.3 .1h.8m.4 .3h.8m-.7-.4h.8m-.1 .3h.8m-.6 .1h.8m-.6-.5h.8m-.4 .3h.8m-.7-.1h.8m-.7 .4h.8m-.8-.3h.8m.8-.1h.8m-.1 .5h.8m-.7-.6h.8m.8 .3h.8m-.3-.2h.8m-.6-.2h.8m-.1 .7h.8m-.2-.6h.8m.7 0h.8m-.7 .6h.8m.3 0h.8m-.7-.1h.8m3.3-.5h.8m1 .4h.8m-35.2 .7h.8m-.2-.1h.8m-.8-.3h.8m-.8 .3h.8m1.1 .3h.8m.5-.2h.8m-.3-.3h.8m-.6 .6h.8m-.7-.2h.8m-.7 .2h.8m.8-.4h.8m1.3 .2h.8m-.6-.1h.8m-.5 0h.8m.2 .3h.8m-.5-.6h.8m-.7 .5h.8m-.8-.3h.8m-.8 .4h.8m-.4 0h.8m-.5 0h.8m-.8-.3h.8m-.5-.2h.8m1.9 .1h.8m-.7 .2h.8m-.5-.3h.8m-.3 .4h.8m-.8-.5h.8m-.7 .2h.8m-.4-.1h.8m-.8 .5h.8m-.7-.4h.8m-.1 .4h.8m-.7-.5h.8m-.6 0h.8m-.6 .4h.8m-.2-.4h.8m-.4 .3h.8m.1-.4h.8m-.5 0h.8m-.5 .1h.8m-.6 0h.8m.1 .3h.8m-.5 .1h.8m.1 0h.8m-.4 .1h.8m-.7-.6h.8m-.3 .2h.8m-.3 .3h.8m-.2 0h.8m-.7 0h.8m-.6-.2h.8m.2 0h.8m-.4-.2h.8m0 0h.8m-.7 0h.8m0-.1h.8m4.9 0h.8m.2 0h.8m4.3 .4h.8m1.5-.1h.8m-47.5 1.1h.8m3.3-.4h.8m.2-.1h.8m1.2 .5h.8m-.2-.3h.8m-.2 .2h.8m.1-.3h.8m-.6 .2h.8m.4-.4h.8m-.4 .1h.8m-.5 .5h.8m.1-.7h.8m-.6 .3h.8m-.7-.2h.8m-.5 .6h.8m-.7 0h.8m-.2-.2h.8m-.7 0h.8m-.5-.5h.8m-.7 0h.8m-.6 .6h.8m-.7 0h.8m-.7 .1h.8m-.6-.2h.8m0-.5h.8m-.5 .3h.8m-.7-.1h.8m-.6 .1h.8m-.4 .1h.8m-.4-.4h.8m-.7 .6h.8m-.6-.3h.8m-.4 .2h.8m-.1-.4h.8m-.8 .5h.8m-.7-.5h.8m-.8 .5h.8m-.6 .1h.8m-.4-.1h.8m-.7-.4h.8m-.3 .1h.8m.6 .2h.8m-.7-.2h.8m.5-.3h.8m-.8 .6h.8m.2-.4h.8m.4 .1h.8m-.8 .2h.8m-.3 .1h.8m-.6-.4h.8m-.7 .3h.8m-.7 0h.8m.3-.5h.8m-.4 .3h.8m-.5 .4h.8m-.7-.7h.8m-.8 .3h.8m0-.3h.8m-.2 .4h.8m0 .2h.8m3.4-.5h.8m-.7 .3h.8m-.1-.4h.8m-.8 .3h.8m-.4-.3h.8m.5 .7h.8m-.5-.2h.8m-.8 .1h.8m4.2-.3h.8m4.4-.3h.8m-49.1 1h.8m2.2 .4h.8m4-.1h.8m1.7-.1h.8m-.8 .1h.8m-.6 .2h.8m.1 0h.8m-.8-.3h.8m-.8-.2h.8m-.1-.2h.8m-.1 .6h.8m-.7-.4h.8m-.8 .5h.8m-.5 0h.8m-.4-.7h.8m-.7 0h.8m-.8 0h.8m-.1 .6h.8m-.6-.6h.8m-.6 .7h.8m-.7-.1h.8m-.4-.4h.8m-.2 .3h.8m-.6-.3h.8m-.4 .4h.8m-.7 .1h.8m-.4-.5h.8m-.8 0h.8m-.3 .4h.8m-.1-.5h.8m-.6 .6h.8m-.5-.3h.8m-.2-.4h.8m-.7 .1h.8m-.4-.1h.8m-.5 .7h.8m-.1-.1h.8m-.6 .1h.8m-.8-.5h.8m-.5 .3h.8m-.5-.1h.8m-.4-.2h.8m-.4-.1h.8m-.6 .3h.8m-.4 .1h.8m-.6-.5h.8m-.3 .5h.8m-.3 0h.8m.5 .2h.8m-.4-.1h.8m-.3-.1h.8m0 .2h.8m.2-.1h.8m-.6-.5h.8m-.7 .3h.8m-.7 .1h.8m-.6 .1h.8m-.3-.4h.8m-.6 .3h.8m0-.5h.8m-.7 .4h.8m-.2-.2h.8m2.3 .1h.8m1.5-.1h.8m-.8-.1h.8m-.7 .5h.8m.1-.2h.8m-.2 .3h.8m-.7-.2h.8m-.5 .2h.8m1.1-.7h.8m-.7 .3h.8m2.9 .2h.8m-46.2 .3h.8m5.3 0h.8m.4 .2h.8m.8 .3h.8m-.5-.5h.8m2 .7h.8m-.2-.5h.8m-.3 .5h.8m-.6-.5h.8m-.3 .2h.8m-.6-.3h.8m-.4 0h.8m-.5 .3h.8m.7 .2h.8m.3-.3h.8m.2-.2h.8m-.2 .3h.8m-.7 .3h.8m-.5-.3h.8m.5 .1h.8m-.2-.5h.8m-.6 .6h.8m-.1-.2h.8m-.7-.3h.8m-.2 0h.8m-.5 0h.8m-.8 .2h.8m-.1-.3h.8m-.5 .3h.8m-.7 .3h.8m-.8-.1h.8m0-.1h.8m-.2 .1h.8m-.6 .1h.8m-.3-.4h.8m-.4 .1h.8m-.7 .3h.8m-.7 0h.8m-.6-.4h.8m-.2-.1h.8m-.6-.1h.8m-.1 .2h.8m-.3 .5h.8m-.7 0h.8m-.7 0h.8m-.7-.5h.8m-.7-.1h.8m-.8 .6h.8m-.6-.4h.8m-.5 .4h.8m-.5 0h.8m-.3 0h.8m.3-.7h.8m-.7 0h.8m-.7 .3h.8m-.7-.1h.8m-.5-.2h.8m-.3 0h.8m-.3 .5h.8m-.6-.5h.8m-.4 .4h.8m-.8 .1h.8m-.2-.4h.8m-.3 .3h.8m-.8-.4h.8m-.3 .4h.8m5 0h.8m2.2 .1h.8m-40.1 1h.8m.2-.6h.8m.2 .2h.8m-.2 .4h.8m1.5-.7h.8m.2 .2h.8m1 .5h.8m-.7-.6h.8m-.7 .2h.8m-.5 0h.8m0-.2h.8m-.5 .5h.8m0 0h.8m-.6-.2h.8m0 .3h.8m.2-.1h.8m-.5-.1h.8m-.8 .2h.8m-.3-.4h.8m.4-.2h.8m-.3 .2h.8m-.1 .1h.8m-.4-.4h.8m-.7 .6h.8m.2 0h.8m-.6 0h.8m-.1-.5h.8m-.5 0h.8m-.2 .4h.8m-.7-.4h.8m-.5 0h.8m-.4 .3h.8m-.5 .3h.8m-.4-.1h.8m-.6 0h.8m-.7 .1h.8m-.2-.6h.8m-.7 .5h.8m.2-.2h.8m0-.4h.8m-.7 .4h.8m-.7 .1h.8m-.4-.5h.8m-.7 .1h.8m-.3 .3h.8m-.7-.3h.8m-.2-.1h.8m-.5 0h.8m-.7 .2h.8m1 .4h.8m-.3-.1h.8m-.7-.3h.8m-.7 .1h.8m-.5 .4h.8m-.5-.3h.8m-.6-.4h.8m-.1 0h.8m.3 .1h.8m.1 .3h.8m-.4-.2h.8m2.5-.2h.8m.5 .5h.8m5.9 .2h.8m-43.3 .5h.8m-.4-.3h.8m-.3 .3h.8m1-.3h.8m.9 0h.8m-.3 .4h.8m-.7 .1h.8m-.5 0h.8m0-.5h.8m-.1 .4h.8m.1-.1h.8m-.1 .2h.8m-.6 .1h.8m-.2-.3h.8m-.6-.2h.8m-.5 .5h.8m-.8 0h.8m-.5-.2h.8m.2 .2h.8m-.6-.1h.8m-.8-.1h.8m-.2-.2h.8m-.7-.1h.8m-.2 0h.8m-.5-.2h.8m-.1 .5h.8m.5-.5h.8m-.7 0h.8m-.7 .3h.8m.6 .1h.8m-.8 0h.8m-.7-.1h.8m-.3-.1h.8m0 .2h.8m-.8-.3h.8m-.7 .1h.8m-.3 .4h.8m-.5-.3h.8m-.5-.2h.8m-.7 .6h.8m-.6 0h.8m-.4-.1h.8m-.8-.4h.8m-.7 .4h.8m0 0h.8m-.4 .1h.8m-.5-.1h.8m-.3-.2h.8m.3 .2h.8m-.4-.6h.8m0 .3h.8m-.7-.3h.8m.6 0h.8m-.3 0h.8m-.7 .6h.8m-.7-.5h.8m-.6 .4h.8m.3 .1h.8m-.5 0h.8m.3-.6h.8m.7 0h.8m-.3 .1h.8m.2 .4h.8m-.3-.1h.8m-.7-.3h.8m-.1 .2h.8m-.2-.2h.8m-.1 .6h.8m1.5-.5h.8m-35.1 .7h.8m1 .6h.8m-.1-.7h.8m-.6 .3h.8m-.2 .2h.8m-.5-.3h.8m-.7 .4h.8m-.7-.2h.8m-.8-.2h.8m.4-.1h.8m-.5 0h.8m-.7 .6h.8m-.1-.6h.8m-.2 .5h.8m-.7-.2h.8m-.7 0h.8m-.8-.2h.8m-.1-.2h.8m-.2 .1h.8m-.4 .2h.8m-.4 .3h.8m.2-.4h.8m-.6 0h.8m-.8-.2h.8m-.6 .3h.8m-.5 .2h.8m-.1-.5h.8m-.5 .4h.8m-.6-.2h.8m-.8-.2h.8m.3 .6h.8m-.7-.6h.8m-.5 .1h.8m0 .4h.8m-.6-.4h.8m-.4 .6h.8m-.7-.4h.8m-.5 .2h.8m-.7-.3h.8m-.3 .3h.8m0 0h.8m.5-.1h.8m.2-.3h.8m-.8 .5h.8m-.7 .1h.8m-.7-.1h.8m-.6-.2h.8m-.2 0h.8m-.3-.1h.8m.2 .1h.8m-.4-.4h.8m0 .6h.8m0-.5h.8m-.7 .5h.8m-.1-.4h.8m-.5 .1h.8m-.4 .1h.8m.5 .3h.8m-.6-.5h.8m-.4 .3h.8m0-.5h.8m2.6 .5h.8m5-.1h.8m-43.5 1.1h.8m0-.1h.8m2.2-.4h.8m-.7-.2h.8m.5 0h.8m-.3 .5h.8m.2-.2h.8m.6-.2h.8m.2 .2h.8m-.4 .2h.8m-.6-.1h.8m-.5-.4h.8m-.2 0h.8m-.6 .7h.8m-.5-.3h.8m-.7 .3h.8m-.4-.6h.8m.2 .3h.8m.3 0h.8m-.4-.4h.8m.7 .6h.8m-.2-.3h.8m-.6 0h.8m-.5 .4h.8m2.7-.5h.8m0 .5h.8m0-.4h.8m-.2 .2h.8m-.3-.2h.8m-.7-.2h.8m-.6 .5h.8m-.3-.5h.8m-.3 .1h.8m-.6-.2h.8m-.3 .1h.8m-.2 .1h.8m-.6-.2h.8m1 .4h.8m-.3-.1h.8m-.1 .3h.8m-.4-.3h.8m-.4-.1h.8m-.8-.2h.8m-.5 .3h.8m-.6 .3h.8m-.4-.3h.8m-.3 .4h.8m1.5-.3h.8m-.1-.1h.8m.5 .1h.8m-.2 .2h.8m2.5-.4h.8m.2 .3h.8m-39.3 .3h.8m-.3 0h.8m-.3 .6h.8m.8-.2h.8m1.2 .1h.8m2 .2h.8m.5-.5h.8m0 .2h.8m-.7-.1h.8m0 0h.8m.2 .3h.8m-.8 .1h.8m.4-.1h.8m-.7-.3h.8m-.8-.1h.8m-.6 .4h.8m.4-.3h.8m-.5 0h.8m-.8 .4h.8m-.6-.7h.8m-.8 .2h.8m-.6 .1h.8m-.6 .3h.8m3.4-.6h.8m-.4 .3h.8m-.4 .4h.8m-.8 0h.8m-.4 0h.8m-.1-.6h.8m-.8 0h.8m-.5 .6h.8m-.2-.3h.8m-.3-.1h.8m-.6-.1h.8m-.7 .5h.8m-.4 0h.8m-.5-.3h.8m-.7-.4h.8m-.5 .6h.8m-.7 0h.8m-.6 .1h.8m-.8 0h.8m.1-.3h.8m-.7-.4h.8m-.3 0h.8m-.5 .2h.8m-.7 .5h.8m-.3-.4h.8m-.6 .4h.8m-.5-.6h.8m-.8 .5h.8m-.6-.4h.8m.7-.1h.8m-.6 0h.8m-.6 .4h.8m-.8-.3h.8m.6 .4h.8m-.1-.6h.8m2 .2h.8m-.6 0h.8m-.2 .2h.8m-.3-.4h.8m-.6 .5h.8m-.2-.3h.8m1-.1h.8m.2 .4h.8m-.2-.1h.8m-40.4 .7h.8m5.2-.1h.8m-.3 .5h.8m-.6-.1h.8m-.7-.1h.8m-.5-.5h.8m1.7 .4h.8m1.4-.3h.8m.3 .2h.8m-.6 .2h.8m-.7-.4h.8m-.8 .2h.8m-.5-.2h.8m-.1 .4h.8m0 0h.8m-.6 .1h.8m-.6-.6h.8m-.8 .5h.8m1.6 0h.8m-.1-.1h.8m-.7 .1h.8m0-.2h.8m.8 .2h.8m-.4 .1h.8m-.1 0h.8m-.7 0h.8m-.7 .1h.8m-.3-.4h.8m-.8 .4h.8m-.4-.1h.8m-.7-.2h.8m-.5-.4h.8m0 .7h.8m-.8-.4h.8m-.1-.1h.8m-.4 0h.8m-.4 .5h.8m-.8-.5h.8m-.7 .4h.8m.2 0h.8m-.7 0h.8m-.8-.5h.8m-.5 0h.8m-.7 .2h.8m1.2-.3h.8m-.6 .7h.8m-.7 0h.8m-.6-.4h.8m-.1 .4h.8m-.5-.3h.8m2-.2h.8m-.6-.1h.8m-.1 .4h.8m-.2-.1h.8m1.6-.1h.8m2 .2h.8m-52 .7h.8m1.7 .2h.8m9.8-.1h.8m-.8 .2h.8m-.5-.3h.8m1.5-.1h.8m.9 .4h.8m-.4-.3h.8m1-.1h.8m-.7-.1h.8m-.6-.1h.8m-.3 0h.8m-.6-.1h.8m-.1 .3h.8m-.6 .2h.8m.8-.2h.8m-.3 .2h.8m-.8 .1h.8m-.8-.3h.8m-.4-.3h.8m-.3 0h.8m1.8 .6h.8m-.7 .1h.8m-.6-.1h.8m-.8 .1h.8m.1-.3h.8m-.8-.2h.8m-.4 .3h.8m0-.1h.8m-.8 .3h.8m.8-.5h.8m-.4 .2h.8m-.6-.4h.8m-.6 .1h.8m-.7 .1h.8m-.7 .4h.8m-.5-.5h.8m-.7 .5h.8m.2-.3h.8m.4 0h.8m-.8 .3h.8m0 .1h.8m-.3 0h.8m-.7-.6h.8m-.7-.1h.8m.2 .6h.8m-.7 0h.8m5.8-.3h.8m1.6 .4h.8m-.2-.2h.8m.8-.1h.8m-.4 .2h.8m2.2-.1h.8m-43.4 1h.8m3-.4h.8m.4 .1h.8m.2 0h.8m1.1-.2h.8m-.5 0h.8m.4-.1h.8m-.5 .3h.8m-.6 0h.8m-.5 .2h.8m-.8-.5h.8m-.6 0h.8m.2 .5h.8m-.2-.6h.8m-.6 .4h.8m-.4-.3h.8m-.4 .6h.8m.1 0h.8m-.7-.2h.8m-.2 .2h.8m-.1 0h.8m-.2-.6h.8m-.5 .4h.8m-.6 .2h.8m-.8-.2h.8m2.3-.4h.8m.1-.1h.8m-.6 0h.8m-.1 .2h.8m.7 .3h.8m-.7 .2h.8m-.1 0h.8m.7-.2h.8m-.4-.5h.8m-.1 .5h.8m-.6 .2h.8m-.4-.7h.8m-.5 .1h.8m1.3 .6h.8m-.5-.5h.8m-.8 .4h.8m.1-.1h.8m-.8 .2h.8m-.6-.7h.8m-.7 .1h.8m1.6 .2h.8m-.1 .2h.8m-.4-.4h.8m.3 .2h.8m-.6 .1h.8m-.5-.3h.8m-.8 .5h.8m-.3 0h.8m.7-.5h.8m.2 .2h.8m-.1-.2h.8m-.6 .2h.8m-.6 0h.8m-47.6 .6h.8m6.2 .3h.8m2.2 .1h.8m-.2-.3h.8m1.2 .4h.8m-.3 0h.8m-.7 .1h.8m-.8-.7h.8m-.6 .4h.8m.3 .1h.8m-.3-.3h.8m-.4 .2h.8m.6 .3h.8m.3-.4h.8m.2-.3h.8m-.2 0h.8m-.8 .1h.8m-.2 .3h.8m.4-.3h.8m-.7 .6h.8m-.7 0h.8m-.3-.3h.8m-.7 .3h.8m-.3 0h.8m-.8-.4h.8m.2 .2h.8m-.3 .1h.8m-.6-.6h.8m.6 .2h.8m-.6 0h.8m-.6 .3h.8m0-.3h.8m.1 .3h.8m1.5-.4h.8m-.3 0h.8m-.6 .1h.8m-.3 .4h.8m-.3-.4h.8m0 .4h.8m-.6-.2h.8m0 0h.8m-.6-.4h.8m-.1 .5h.8m-.8 .2h.8m-.7-.5h.8m-.6 .3h.8m-.4-.3h.8m.1 0h.8m0 .4h.8m-.4-.1h.8m-.8-.3h.8m-.4-.1h.8m-.7 .3h.8m-.1-.4h.8m-.8 .7h.8m.2-.7h.8m-.7 .7h.8m0-.7h.8m-.7 0h.8m1 .7h.8m1.5-.1h.8m-35.5 .8h.8m-.5-.2h.8m.9 0h.8m-.2-.3h.8m1.2-.1h.8m-.6 0h.8m-.7 .7h.8m.2-.6h.8m-.7 .5h.8m-.7-.2h.8m0 .3h.8m1.8-.7h.8m-.5 .2h.8m-.4 0h.8m-.8 .1h.8m-.4 .4h.8m-.1 0h.8m-.4-.5h.8m-.6 .1h.8m-.5-.3h.8m-.3 .3h.8m0-.2h.8m.1 .5h.8m-.4-.5h.8m-.5 .2h.8m-.7-.3h.8m-.3 .2h.8m-.6-.2h.8m-.1 .1h.8m-.7 0h.8m-.6 .5h.8m-.5-.3h.8m3.7-.3h.8m-.1 .1h.8m.3 .1h.8m-.2 .4h.8m-.6-.4h.8m-.6-.1h.8m1.2 .4h.8m-.7 .1h.8m-.6 0h.8m-.2-.3h.8m1.6-.1h.8m.5 .3h.8m.3-.3h.8m0 .3h.8m-.8 .2h.8m-.4-.5h.8m-.7 .2h.8m1.9-.4h.8m5 .2h.8m-54.3 .8h.8m5.9 .1h.8m2.4 .1h.8m0-.1h.8m.9-.3h.8m-.7 .7h.8m.8-.6h.8m.5 .2h.8m-.8 .3h.8m-.7-.4h.8m-.7 .1h.8m1.3-.1h.8m-.6-.2h.8m-.4 .1h.8m0 .6h.8m-.8 0h.8m-.5-.1h.8m-.7 .1h.8m1.2-.7h.8m.3 .1h.8m-.4 .2h.8m-.8-.3h.8m-.5 .2h.8m-.2 .1h.8m-.6-.2h.8m-.6-.1h.8m-.8 .3h.8m1 .3h.8m-.8-.4h.8m.2 .1h.8m.2 .1h.8m-.5 0h.8m-.3-.3h.8m-.2-.1h.8m-.2 .2h.8m-.7 .1h.8m4.5 .1h.8m-.7-.3h.8m-.5 .1h.8m.9 .3h.8m.2 .1h.8m.2-.2h.8m0-.3h.8m-.8 .4h.8m-.3 .2h.8m1.6-.5h.8m.5 .2h.8m-.8 0h.8m1.7-.1h.8m2.7 .1h.8m.8 0h.8m-48.2 .4h.8m-.4 .1h.8m7.2 .5h.8m.4-.1h.8m-.3-.3h.8m-.6 .1h.8m-.1-.2h.8m-.7 .3h.8m-.8 .3h.8m.5-.3h.8m-.1 .3h.8m-.5 0h.8m.7-.6h.8m-.3 .2h.8m1.4 .1h.8m-.7 .2h.8m-.2 .1h.8m-.6-.3h.8m.7 .1h.8m.1-.1h.8m-.2-.1h.8m-.5-.3h.8m-.8 .1h.8m-.4 .1h.8m-.7 .4h.8m-.6 0h.8m-.7-.1h.8m-.8-.2h.8m-.4 .2h.8m0-.2h.8m-.3-.1h.8m6.3 0h.8m-.6-.1h.8m.1 0h.8m.1 .6h.8m.2 0h.8m-.2-.1h.8m.5 0h.8m3.3-.1h.8m-.5 .1h.8m.1-.2h.8m-38.7 .8h.8m.2-.2h.8m2.5 .1h.8m-.6 .3h.8m.6-.1h.8m-.2-.1h.8m.2-.3h.8m-.2 .1h.8m-.5 .3h.8m.1-.2h.8m-.8-.2h.8m.9 .5h.8m-.5 .1h.8m-.4-.4h.8m.5 .3h.8m-.6-.2h.8m-.2-.4h.8m0 .7h.8m-.4-.4h.8m-.5 .2h.8m-.7 .1h.8m-.2-.4h.8m0-.1h.8m-.2 .4h.8m-.6-.5h.8m-.5 .5h.8m10.1 0h.8m-.3-.1h.8m.5-.2h.8m-.7 .3h.8m-.4 .1h.8m-.7 0h.8m-.4-.6h.8m-.5 .5h.8m.8-.2h.8m-.7-.1h.8m-.5 0h.8m1.1-.2h.8m1.9 .6h.8m-38.7 .6h.8m-.6 .3h.8m2.6-.1h.8m.9-.2h.8m-.3-.2h.8m2.1 .5h.8m-.2 0h.8m0-.2h.8m-.2 .1h.8m-.3-.3h.8m.5-.3h.8m.2 .6h.8m-.7-.3h.8m.7-.2h.8m0 0h.8m-.6 .1h.8m-.8 .2h.8m-.7-.2h.8m.4-.1h.8m8.2 .6h.8m-.7-.6h.8m-.3 .3h.8m-.7-.1h.8m-.7 .4h.8m-.7 0h.8m-.5-.1h.8m-.7-.6h.8m-.7 .4h.8m-.7-.4h.8m.1 .5h.8m-.8-.4h.8m-.1 .6h.8m-.1 0h.8m.6-.6h.8m.3 .5h.8m.1-.5h.8m-.5 .1h.8m1-.2h.8m2 .5h.8m.7 .1h.8m-46.3 .4h.8m.4-.2h.8m1.8 .1h.8m.8 .5h.8m.6 .1h.8m.8-.4h.8m1.3 .2h.8m-.8-.5h.8m.6 .6h.8m-.6-.5h.8m.8 .2h.8m.2-.1h.8m-.7 .2h.8m-.6 .1h.8m-.7-.4h.8m-.7 .5h.8m-.2-.3h.8m.2 .2h.8m-.5 0h.8m-.3-.4h.8m-.3 .4h.8m0 .1h.8m-.5-.3h.8m-.8-.3h.8m11.8 .7h.8m-.3-.7h.8m-.4 .4h.8m.5 .2h.8m.3 0h.8m-.3-.3h.8m8.8 0h.8m-35.4 .8h.8m-.5 .3h.8m-.5-.5h.8m-.6 .4h.8m.3-.3h.8m-.4-.2h.8m1.8 .5h.8m0-.1h.8m-.8-.4h.8m.5 .5h.8m.8-.2h.8m-.2 .1h.8m11 .1h.8m.3 .1h.8m.1 0h.8m-.8-.2h.8m-.4 0h.8m1.9-.3h.8m2.1 0h.8m.1 .3h.8m-39.2 1.1h.8m-.2-.3h.8m.2 .3h.8m-.6-.6h.8m4.4 .5h.8m-.7-.1h.8m.4-.3h.8m.8-.1h.8m.2 0h.8m-.6-.1h.8m0 .6h.8m0-.3h.8m-.4 .4h.8m.2-.3h.8m-.6-.1h.8m-.6 .2h.8m-.7-.1h.8m-.6-.1h.8m0 .2h.8m-.4-.4h.8m12.7 .5h.8m-.4-.1h.8m.9-.3h.8m2.4 .5h.8m3.1-.4h.8m-44.6 .8h.8m1.9-.1h.8m3.2-.2h.8m.3 .5h.8m-.4 .2h.8m1.2-.2h.8m2.3 .2h.8m-.6-.6h.8m-.7 .3h.8m.6 .2h.8m-.6-.4h.8m.4 .1h.8m-.5-.3h.8m-.6 .1h.8m.2 .1h.8m-.7-.1h.8m-.7-.1h.8m15.2 .1h.8m.3-.1h.8m-.8 .6h.8m-.7 .1h.8m-.4-.1h.8m-.1 .1h.8m-.7-.2h.8m3.7 0h.8m-.1-.1h.8m1.4-.1h.8m8.4-.3h.8m-51.8 1.4h.8m1.5-.3h.8m-.7 .3h.8m2.7 .1h.8m-.5-.4h.8m0 0h.8m.7 0h.8m.3-.1h.8m-.4-.1h.8m0 .5h.8m-.8-.5h.8m-.8 .4h.8m-.3 .1h.8m-.4-.6h.8m-.2 .1h.8m-.5 .3h.8m-.7 .1h.8m-.5 0h.8m-.4-.5h.8m-.2 .1h.8m-.5 .2h.8m-.5 .1h.8m15.2 .1h.8m-.6-.3h.8m-.4 .4h.8m-.5-.3h.8m-.2-.2h.8m.4 .3h.8m-31.4 .9h.8m2.9-.4h.8m-.6-.1h.8m1 .1h.8m.1 .3h.8m-.3 .1h.8m-.7-.4h.8m-.6 .1h.8m-.2 0h.8m.7-.2h.8m.4 .5h.8m-.7-.4h.8m-.5 .1h.8m14.2 .1h.8m.1 0h.8m.2-.2h.8m.8 .5h.8m.7 0h.8m8.8-.2h.8m-40.3 1.1h.8m-.7-.4h.8m-.7 .4h.8m3.7-.5h.8m-.7-.1h.8m-.6 .1h.8m.4-.1h.8m17.2 .3h.8m0 .2h.8m-.7 .1h.8m-.6-.1h.8m-.7 .1h.8m-.2-.7h.8m-.2 .3h.8m-.6-.1h.8m-.3-.1h.8m1.8 .3h.8m2.1-.1h.8m-.7 .4h.8m2-.2h.8m-40.8 .8h.8m26.4-.1h.8m.1-.1h.8m-.4-.1h.8m-.7-.2h.8m0 .1h.8m2.3 .6h.8m.6-.4h.8m-.4-.1h.8m-15.3 1.3h.8m-.3-.1h.8m.6 .1h.8m1 0h.8m1-.1h.8m-.5 0h.8m.1-.4h.8m-.8 .2h.8m1.9 .3h.8m-.4-.3h.8m-.7 .2h.8m.9-.5h.8m1 .3h.8m2.1 .2h.8m-.2-.1h.8m.5-.1h.8m2.9-.4h.8m9.1 .1h.8m-32.9 1.4h.8m-.8-.6h.8m-.6 .2h.8m-.5-.1h.8m-.5 .2h.8m-.6 .1h.8m-.3-.2h.8m1.5-.3h.8m-.6 .2h.8m-.5 .3h.8m-.6-.4h.8m-.7-.1h.8m.1 .4h.8m1.2-.2h.8m3.3 .4h.8m.3-.3h.8m.5-.2h.8m9.4 .4h.8m-41.2 .7h.8m8.6-.4h.8m-.7 .7h.8m.5-.5h.8m.8-.1h.8m-.7-.1h.8m-.7 .1h.8m-.6 .1h.8m-.5 .5h.8m-.2-.5h.8m-.5 .4h.8m-.5-.2h.8m-.7-.3h.8m-.8 .4h.8m-.8 .1h.8m-.5-.3h.8m-.8-.3h.8m-.7 .2h.8m1.1-.2h.8m.4 .4h.8m.8-.2h.8m.4 0h.8m3.9 .2h.8m4.6-.2h.8m.4-.1h.8m-32.9 1.3h.8m7.6 0h.8m-.6-.2h.8m.5-.1h.8m-.5 .1h.8m-.7-.1h.8m-.3 0h.8m-.1 .3h.8m-.7-.5h.8m-.7 .5h.8m1-.1h.8m-.7 .2h.8m-.7 0h.8m-.3-.1h.8m-.3 .1h.8m-.4-.6h.8m-.4 .5h.8m.6-.3h.8m-.3-.3h.8m.2 .1h.8m-.1-.1h.8m-.2 .7h.8m-.7-.7h.8m1.1 .3h.8m1 0h.8m.5-.2h.8m1.4 .6h.8m6.1-.4h.8m3.4 .2h.8m-38.8 .4h.8m.6 .5h.8m4.8-.1h.8m1.6 0h.8m-.4-.2h.8m-.7 .2h.8m.4-.3h.8m1.7-.2h.8m3.5 .1h.8m-.7-.1h.8m.3 0h.8m11.2 .5h.8m-34.8 .6h.8m3.5-.1h.8m7.1 .1h.8m3-.2h.8m-.6 .1h.8m-.3-.1h.8m6.4 .6h.8m-.3-.2h.8m2.3 .2h.8m.8-.1h.8m6.7-.1h.8m-.2-.4h.8m-34 .8h.8m-.6 .1h.8m6.3-.1h.8m9.8 .3h.8m5-.3h.8m1 .5h.8m-28.7 .3h.8m6.1-.1h.8m-.7 .6h.8m-.3-.5h.8m.1 .1h.8m-.7 .3h.8m.2-.5h.8m8 0h.8m5.9 .5h.8m7.6 .2h.8m-30.8 .1h.8m-.7 .7h.8m-.6-.2h.8m-.3 .1h.8m-.2-.4h.8m1-.1h.8m8 .1h.8m4.6 .3h.8m-.3 .2h.8m19.9-.3h.8m-37 1h.8m-.5-.4h.8m-.7-.2h.8m-.3 .6h.8m7.8-.6h.8m9.5 .1h.8m-16.9 1.4h.8m6.4-.5h.8m-.5 .1h.8m7.3 .1h.8m.6-.4h.8m6.2 .6h.8m-29.5 .9h.8m-.8-.1h.8m-.2-.2h.8m-.5-.4h.8m.2 .1h.8m6.6-.1h.8m-.8 0h.8m-.6 .1h.8m-9.3 1.3h.8m15.6-.4h.8m4.5 .5h.8m-24.8 1.4h.8m7.2-.4h.8m-2 .8h.8m10.3 3.5h.8m-6.8 .4h.8" stroke="rgb(70, 100, 195)" stroke-width="0.8" stroke-opacity="0.55" fill="none"/>
<path d="M318.6 571h.8m-.6-.1h.8m-.6 0h.8m-.4-.4h.8m-.8 .5h.8m-2.7 .5h.8m.4 .4h.8m-.3-.5h.8m-.8 0h.8m-.7 0h.8m-2.4 .6h.8m-.8 .2h.8m.5-.1h.8m-12.7 1.3h.8m-.6-.3h.8m-.7-.2h.8m-.4 .4h.8m5.1 2.3h.8m-.7 0h.8m-.7 .1h.8m-.6 .2h.8m-.6-.4h.8m-3 1.2h.8m-.5 0h.8m-.6-.2h.8m-.7 .2h.8m-.4 0h.8m-2 .5h.8m-.8-.1h.8m-.5-.1h.8m-.8 .1h.8m-.6 .3h.8m-.7 0h.8m-.5-.2h.8m-.4 .1h.8m-.6-.1h.8m-.4-.2h.8m-.4 .2h.8m-.8 0h.8m-.8-.3h.8m-3.1 1h.8m-.6 .1h.8m-.1-.4h.8m-.7 .1h.8m-.8 .1h.8m-.6 .4h.8m-.4 .1h.8m2.6 2.3h.8m-.7-.1h.8m-.6-.1h.8m-.6 0h.8m-.7-.2h.8m-1.5 1.1h.8m-.7 .2h.8m-.6 0h.8m-.6-.7h.8m-.7 .4h.8m-.6-.4h.8m-.8 .6h.8m-.4-.6h.8m-.8 .2h.8m-.8 .1h.8m-.5-.2h.8m-.7 .5h.8m-.6-.1h.8m.5 .1h.8m-.7 0h.8m-.6-.2h.8m-.4 .1h.8m-.7 .2h.8m-4.4 .2h.8m-.6 0h.8m-.7 .1h.8m-.6 .2h.8m.7 0h.8m-.2-.1h.8m-.8 0h.8m-.7-.1h.8m-.3 0h.8m-.8 .1h.8m-.3-.1h.8m-.4-.2h.8m-.7 .2h.8m-.4 .4h.8m-.8 .1h.8m-6.9 .7h.8m-.6-.2h.8m-.6-.4h.8m-.4 .4h.8m-.7 0h.8m-.7 0h.8m-.6 0h.8m-.1 .3h.8m-.3-.7h.8m-.7 .7h.8m-.5-.6h.8m-.4 .3h.8m-.7 .1h.8m-.7-.1h.8m-.8-.4h.8m-.2 .6h.8m-.4-.5h.8m-.8 .2h.8m-.7-.3h.8m-.6 .5h.8m-.4 0h.8m-.5-.2h.8m-.7-.2h.8m-.7-.1h.8m-.8 0h.8m-.7 .4h.8m-.3-.1h.8m-.5 .1h.8m-.7 .1h.8m-10.3 .7h.8m-.5 .3h.8m-.4-.2h.8m-.5 .2h.8m-.6-.2h.8m-.7-.3h.8m-.1-.2h.8m-.8 0h.8m-.7 .6h.8m-.7 .1h.8m-.8-.3h.8m-.6-.2h.8m-.1-.2h.8m-.5 .6h.8m-.7-.3h.8m-.6 .4h.8m-.2 0h.8m-.5-.1h.8m.5-.2h.8m-.6 .1h.8m-.7-.4h.8m-.8 .3h.8m-.7 .1h.8m-.7-.1h.8m.8-.3h.8m-.4 .2h.8m-.7 .3h.8m-.1-.6h.8m-10.7 .9h.8m-.7 .6h.8m-.5 0h.8m.8-.4h.8m-.4-.3h.8m-.5 0h.8m.6 0h.8m-.3 .5h.8m-.7 .2h.8m-.3-.5h.8m-.4 .4h.8m-.6-.2h.8m-.7 .1h.8m-.4-.4h.8m1.9 .6h.8m-.7 0h.8m-.7-.3h.8m-11.8 .8h.8m-.7-.1h.8m-.5 .1h.8m.6-.1h.8m-.7 .1h.8m.2-.4h.8m-.4 0h.8m-.5 .1h.8m-.3-.1h.8m2.3 0h.8m-.7 .1h.8m2.3-.1h.8m-.8 .4h.8m-.6 .3h.8m-.7-.3h.8m-.5 .3h.8m-13.1 .5h.8m.1 .1h.8m-.8-.2h.8m-.7 .4h.8m-.7-.5h.8m-.5 .3h.8m-.7-.4h.8m-.7 .1h.8m-.7 .5h.8m.1-.7h.8m-.6 .2h.8m-.5 .1h.8m-.5-.1h.8m7.5 .3h.8m-.6 .2h.8m-.6-.4h.8m-.8 .1h.8m-.6 .3h.8m-16.6 .8h.8m.8 0h.8m-.7 0h.8m-.6 0h.8m-.7-.1h.8m1.5 .1h.8m-.2-.7h.8m-.7 .5h.8m-.7 0h.8m8.2 0h.8m-.7 0h.8m-.7 .2h.8m-.8-.1h.8m-.5-.4h.8m-.5 .4h.8m-.8-.5h.8m-.5-.1h.8m-.8 .5h.8m-.6-.5h.8m-.5 0h.8m-16.7 .9h.8m-.7 .3h.8m0-.1h.8m-.3 .2h.8m-.8-.4h.8m-.5 .3h.8m-.1-.2h.8m-.7-.2h.8m.2 0h.8m-.5 .6h.8m-.7 .1h.8m-.6-.3h.8m-.8-.1h.8m-.5-.2h.8m-.8 .4h.8m-.6-.3h.8m6.9 .5h.8m.2 0h.8m-.7-.7h.8m-.6 .5h.8m-.7 .1h.8m-.4-.4h.8m-.4 .2h.8m-.4-.1h.8m-16.8 .9h.8m-.3 0h.8m-.6 .3h.8m-.6-.1h.8m-.6-.2h.8m-.7 .2h.8m-.1-.5h.8m-.4 .4h.8m-.8 0h.8m-.8 0h.8m9.4 0h.8m-.7-.2h.8m-.8 .3h.8m-.7 0h.8m-.8-.5h.8m-.6 0h.8m-.8 .6h.8m.2-.6h.8m-.4 .5h.8m-.7-.6h.8m-.4 .5h.8m-.8 .2h.8m-.5-.7h.8m-.7 .4h.8m-25.3 1h.8m.4-.3h.8m.2 .2h.8m2.8-.2h.8m0-.1h.8m-.2 0h.8m-.7 .5h.8m.8-.5h.8m-.7 .4h.8m-.7-.5h.8m-.8 .2h.8m-.4 .2h.8m-.8-.2h.8m-.5-.3h.8m-.8 .3h.8m-.7 0h.8m-.4-.1h.8m-.6-.1h.8m-.7 .2h.8m-.4 .4h.8m-.7-.5h.8m-.8 .5h.8m-.1-.7h.8m8.5 .6h.8m.1-.1h.8m-.3-.1h.8m-24.6 .7h.8m-.7 0h.8m-.4 .3h.8m.3-.6h.8m-.8 .2h.8m-.7 0h.8m-.6-.2h.8m-.2 .1h.8m-.1 .1h.8m.2 .3h.8m1.5 0h.8m-.7 0h.8m-.7 .2h.8m-.6 0h.8m-.8-.5h.8m-.6 .1h.8m-.6-.2h.8m-.7 .6h.8m-.8-.1h.8m-.7 .1h.8m-.1-.4h.8m-.7 0h.8m.5-.1h.8m-.7 .2h.8m-.2 0h.8m-.4 .3h.8m-.4-.7h.8m-.3 .6h.8m-.2-.2h.8m-.3 .3h.8m-.2-.3h.8m5.1 .2h.8m-.8 0h.8m-.7-.1h.8m-.4 0h.8m-.1 0h.8m-.1 0h.8m-.2 .1h.8m-.3-.6h.8m-.8 0h.8m-.1 .2h.8m-23.7 .6h.8m-.6 .3h.8m3.1-.1h.8m-.7-.2h.8m.1 0h.8m0 0h.8m-.6 0h.8m-.2 .1h.8m-.4 0h.8m-.7 .4h.8m-.8-.4h.8m-.5 .3h.8m-.7 0h.8m-.6-.2h.8m-.5 0h.8m-.3 .2h.8m0 .2h.8m-.2 .1h.8m-.7 0h.8m-.3-.5h.8m-.7 .5h.8m-.1-.7h.8m-.4 .2h.8m-.6-.1h.8m-.7 .4h.8m-.7 0h.8m-.8-.4h.8m-.5 .1h.8m-.5 .1h.8m-.7 .1h.8m-.5 .3h.8m-.2-.3h.8m.2 .2h.8m-.4-.1h.8m0 .2h.8m-.6-.2h.8m-.6 .1h.8m-.5 0h.8m0 .1h.8m-.8 0h.8m-.7-.1h.8m-.4 0h.8m-.2-.1h.8m-.6-.1h.8m.1 .1h.8m-.3-.2h.8m.8-.2h.8m-17.7 1.2h.8m-.5-.3h.8m-.6 .3h.8m-.3-.5h.8m-.6 .6h.8m-.8 0h.8m-.5-.1h.8m-.8-.3h.8m.5 .2h.8m-.7-.3h.8m-.7 .6h.8m-.8-.4h.8m-.7 0h.8m-.6 .4h.8m-.6-.2h.8m-.8-.3h.8m-.4-.2h.8m-.7 0h.8m-.5 0h.8m-.1 .4h.8m-.6-.4h.8m-.8 .4h.8m-.5-.2h.8m-.7 .1h.8m-.5-.2h.8m-.5 .1h.8m.4 .2h.8m-.7 .1h.8m-.7-.1h.8m-.7-.2h.8m.2 .1h.8m-.6 .1h.8m-.6-.3h.8m-.4 .2h.8m-.7-.1h.8m.2-.1h.8m0 .3h.8m-.4 .1h.8m-.5 0h.8m.1 0h.8m-.6-.5h.8m-.7 .4h.8m-.7-.4h.8m.1 .3h.8m-.7-.3h.8m-.7 .3h.8m-.4 .1h.8m-.8-.3h.8m-14.8 1.1h.8m-.8-.2h.8m-.4 .3h.8m-.8 .2h.8m-.6-.5h.8m-.6 .1h.8m-.7-.2h.8m-.7 .4h.8m-.7-.3h.8m-.7 .2h.8m-.5-.3h.8m-.8 .4h.8m-.4-.4h.8m-.6 .1h.8m-.6 .5h.8m-.7-.6h.8m-.7 .5h.8m-.3-.5h.8m-.6 .5h.8m-.7-.1h.8m-.7-.2h.8m-.7-.3h.8m-.2 .1h.8m-.8 .1h.8m-.6-.1h.8m-.7 .4h.8m-.6-.3h.8m-.2 .4h.8m-.8-.5h.8m0-.1h.8m-.7 .5h.8m-.7-.4h.8m-.7 .4h.8m-.3 .1h.8m-.6-.1h.8m-.5 0h.8m-.6 .1h.8m-.7 0h.8m-.6-.2h.8m-.6 .3h.8m-.3-.4h.8m2.7 .1h.8m-.8 .2h.8m-.6-.3h.8m-.7-.2h.8m-19.6 .8h.8m-.7 .4h.8m-.4-.4h.8m5.2-.1h.8m-.8 .4h.8m-.2-.3h.8m-.8 .1h.8m.2-.2h.8m-.6 .4h.8m-.8 .3h.8m-8.7 .2h.8m4.7 .6h.8m-.7-.6h.8m-.1 0h.8m-.3 0h.8m.1-.1h.8m-8.8 .9h.8m5.4 .1h.8m-3.2 2.1h.8m0-.2h.8m-4.7 .4h.8m-.6 .1h.8m-.2 .1h.8m1.5-.3h.8m-.8 .4h.8m-.7 .3h.8m-.5-.4h.8m-2.5 .8h.8m-.6 .4h.8m-.5-.2h.8m-.4-.3h.8" stroke="rgb(56, 91, 189)" stroke-width="0.8" stroke-opacity="0.55" fill="none"/>
<path d="M319.5 583.5h.8m-.7-.2h.8m-.5 .6h.8m-.8 0h.8m-.8-.4h.8m-.6 .4h.8m-.5-.2h.8m-5.8 .8h.8m-.4 0h.8m-.6-.3h.8m-.3 .2h.8m1.3 .1h.8m-.6-.1h.8m-.8-.1h.8m-.6 .1h.8m-.6-.1h.8m-.7 .4h.8m-.7-.6h.8m-.7 0h.8m-.8 .3h.8m-.7-.2h.8m-.4 .1h.8m-.7-.1h.8m-.8 .5h.8m-.6-.4h.8m-7.7 1.1h.8m-.5 0h.8m-.5-.3h.8m-.8 .1h.8m-.7 .1h.8m-.7-.2h.8m-.7 .1h.8m-.5 .3h.8m-.8-.7h.8m-.7 .7h.8m-.7-.2h.8m-.8-.2h.8m-.7 0h.8m-.3 0h.8m-.5 0h.8m-.7-.2h.8m-.7 .2h.8m-.5-.1h.8m-.7 .5h.8m-.6-.5h.8m-.7 .5h.8m-.7-.4h.8m-.7 0h.8m-.8 0h.8m.5 0h.8m-.8 .4h.8m-.7-.1h.8m.3-.3h.8m-.5 .2h.8m-.7-.2h.8m-.6-.2h.8m-.7 0h.8m-.7 .1h.8m-.6 0h.8m-.7 .5h.8m-9.4 .8h.8m-.5-.2h.8m-.6 .1h.8m-.7 .1h.8m-.7-.3h.8m-.7 .2h.8m-.6-.6h.8m.1 0h.8m-.8 .4h.8m-.3-.2h.8m-.5-.1h.8m-.6-.1h.8m-.4 .3h.8m-.4 .1h.8m-.5-.3h.8m-.7 0h.8m-.7-.1h.8m-.7 .1h.8m-.7 .1h.8m-.8 0h.8m-.5 .1h.8m-.7 .4h.8m-.8-.6h.8m-.6 .1h.8m-.7 .4h.8m-.7-.3h.8m-.8 .4h.8m-.3-.5h.8m-.6 .1h.8m-.7 .4h.8m-.7-.6h.8m-.5 .5h.8m-.7-.3h.8m-.6-.2h.8m-.5 .6h.8m-.7-.7h.8m-.7 .6h.8m-.7-.3h.8m-.6-.2h.8m-.7 .6h.8m-.8 0h.8m-.8-.5h.8m-.5 .1h.8m-.3-.1h.8m-10.4 1.3h.8m-.7-.1h.8m-.7-.1h.8m-.7-.3h.8m-.5-.1h.8m-.5 .1h.8m-.8 .2h.8m-.2 .1h.8m-.7-.1h.8m-.6-.1h.8m-.7-.2h.8m-.8 .5h.8m2.8 0h.8m-.5 .1h.8m-.6-.1h.8m-.6 0h.8m.1-.2h.8m-.2 .3h.8m-.8-.5h.8m-.7 .1h.8m-.6 .2h.8m-.6-.2h.8m-.6 0h.8m-.7 .2h.8m-.7-.5h.8m-10 .9h.8m-.4 .6h.8m-.8-.6h.8m-.7 0h.8m-.6 .3h.8m3.3 .3h.8m0-.2h.8m-.7-.4h.8m-.6 .2h.8m-.4 .3h.8m-.6-.6h.8m-.6 .4h.8m-.5-.1h.8m-.7-.2h.8m-.7-.1h.8m-.8 .7h.8m-.5 0h.8m-.8-.2h.8m-.6-.4h.8m-.8 .3h.8m-.6-.1h.8m-.4-.3h.8m-12.1 1.5h.8m-.8-.2h.8m-.6-.2h.8m-.3 0h.8m-.8-.1h.8m-.8-.1h.8m-.8 .4h.8m-.4 .1h.8m-.8-.4h.8m-.4-.1h.8m-.8 .4h.8m-.4-.4h.8m-.7 .3h.8m-.6-.1h.8m-.5 .4h.8m-.2-.5h.8m-.5 .1h.8m-.7 .2h.8m3.5 .1h.8m-.6-.3h.8m-.8 .1h.8m-.6-.4h.8m-.5 .2h.8m-.8-.2h.8m-.7 .3h.8m-.2 0h.8m-.7 .4h.8m-.7-.3h.8m-.7 .2h.8m-11.2 .7h.8m-.4-.3h.8m-.7 .4h.8m-.8 0h.8m-.7 0h.8m-.3 0h.8m-.7 0h.8m-.7-.2h.8m-.6 .2h.8m-.6 0h.8m-.7 .1h.8m-.8 0h.8m-.5-.6h.8m-.7 .2h.8m-.7 .2h.8m-.6 .2h.8m-.5-.5h.8m-.8 0h.8m-.7 .2h.8m-.6-.1h.8m-.7-.1h.8m-.6 .2h.8m-.6 .2h.8m-.5-.6h.8m-.8 .7h.8m-.2-.3h.8m-.7-.3h.8m1.3 .6h.8m-.8-.4h.8m-.7 .1h.8m0 0h.8m-.7 .3h.8m-.8-.3h.8m-.5 .3h.8m-.7-.2h.8m-.7-.4h.8m-.7 .1h.8m-.8 .5h.8m-.5-.6h.8m-.6 .4h.8m-.6-.2h.8m-.5 0h.8m-.8 0h.8m.1-.3h.8m-20.5 1.1h.8m-.6 .2h.8m-.3-.2h.8m8-.2h.8m-.2 .1h.8m-.5-.2h.8m-.5 .6h.8m-.7-.2h.8m-.8 .1h.8m-.8-.2h.8m-.2 0h.8m-.8-.2h.8m-.7-.1h.8m-.6 .4h.8m-.8-.4h.8m-.6 0h.8m-.5 0h.8m-.5 .5h.8m-.7 0h.8m-.8-.2h.8m-.6 0h.8m-.6-.1h.8m-.7 .5h.8m-.6-.3h.8m-.4-.2h.8m-.8-.1h.8m-.7 .6h.8m-.6-.2h.8m-.7-.1h.8m-.8-.2h.8m0 .5h.8m-.5-.3h.8m-.2 0h.8m.1-.2h.8m-.3 0h.8m-.8-.2h.8m-.7 0h.8m-.8 .1h.8m-.6 .1h.8m0 0h.8m-22.1 1.1h.8m-.3 .2h.8m1.6-.7h.8m-.6 .2h.8m-.7-.1h.8m-.4 .2h.8m-.6 .4h.8m8.7-.4h.8m-.6-.2h.8m-.5 .3h.8m-.5-.1h.8m-.4-.2h.8m-.6 0h.8m.2 .2h.8m-.5-.2h.8m-.1 .3h.8m-.5-.4h.8m-.4 .4h.8m-.7-.1h.8m-.5-.1h.8m-.3 0h.8m-.3 .2h.8m-19.5 .6h.8m-.3 0h.8m-.8-.2h.8m2.5 .1h.8m-.6 0h.8m-.7 .3h.8m-.8-.1h.8m.5 .3h.8m-1.4 .8h.8m-.6-.4h.8m-.5 .2h.8m-.7-.4h.8m-1.3 1.2h.8m-.4-.3h.8m-.8 .5h.8m-.7-.5h.8m-2.6 2h.8m-.2-.1h.8m-.7 .2h.8m-.7-.3h.8m-5.3 1.3h.8m-.7 .5h.8m-.8-.1h.8m-.7 .1h.8m-.5-.1h.8m-.6 0h.8m-.8-.4h.8m-.7 .3h.8m0 .4h.8m-.7-.1h.8m-.6 .1h.8m-.5 0h.8m-.7 0h.8m-2.1 .7h.8m-.7 0h.8m-.5-.6h.8m-.8 .7h.8m-.7 0h.8m-.4-.5h.8m-.5-.2h.8m-.7 .4h.8m-.8 .3h.8" stroke="rgb(44, 91, 186)" stroke-width="0.8" stroke-opacity="0.8" fill="none"/>
<path d="M313 586.2h.9m-.9 0h.9m0-.1h.9m-.4 .2h.9m-.8-.2h.9m-.7 .1h.9m-.7 .1h.9m-.6-.2h.9m-.8 .1h.9m-.7-.1h.9m-.4 0h.9m-.9-.1h.9m-.7 .1h.9m-.9 .1h.9m-.9-.1h.9m-5.9 .9h.9m.7-.5h.9m-.9 .2h.9m-.9 .2h.9m-.7-.5h.9m-.9 .7h.9m-.7-.2h.9m-.7-.4h.9m-.8 .3h.9m-.9 .3h.9m-.7-.6h.9m-.9 .1h.9m-.8 .1h.9m-.9-.3h.9m-.7 .5h.9m-.7 .1h.9m-.7-.3h.9m-.6-.3h.9m-.9 .4h.9m-.4-.4h.9m-.8 .4h.9m-.5 .1h.9m-.8-.5h.9m-.8 .4h.9m-.7-.4h.9m-.8 .5h.9m-.9-.4h.9m-6.3 .7h.9m-.9 .7h.9m-.9-.1h.9m-.6-.5h.9m-.8 .4h.9m-.3 .1h.9m-.9-.4h.9m-.7 .1h.9m-.9 .3h.9m-.8-.5h.9m-.9 .6h.9m-.8-.5h.9m-.9 .1h.9m-.7-.1h.9m-.8 .5h.9m-.6-.5h.9m-.7 .2h.9m-.9 .1h.9m-.9-.5h.9m-.8 0h.9m-.7 .2h.9m-.8 .3h.9m-.6-.1h.9m-.9 .1h.9m-.7-.3h.9m-.9 .3h.9m-.9-.1h.9m-.7 0h.9m-.7-.3h.9m-.7 .4h.9m-.5-.1h.9m-.4 0h.9m-5.4 .6h.9m-.9 .5h.9m-.8-.3h.9m-.8-.2h.9m-.8 .5h.9m-.9 0h.9m-.8 0h.9m-.7-.6h.9m-.9 .5h.9m-.8-.2h.9m-.7 .1h.9m-.8-.5h.9m-.8 0h.9m-.8 .7h.9m-.8-.1h.9m-.9-.6h.9m-.8 0h.9m-.9 .3h.9m-.8-.3h.9m-.7 .5h.9m-.9 .1h.9m-.8-.1h.9m-.7-.5h.9m-.7 .1h.9m-.8-.1h.9m-.8 .4h.9m-.7-.1h.9m-.9-.2h.9m-.8 .3h.9m-.8-.2h.9m-.7 .3h.9m-.8-.1h.9m-.9-.1h.9m-.9 .4h.9m-.7-.4h.9m-.7-.3h.9m-.9 .2h.9m-.8 .3h.9m-4.6 .5h.9m-.8 .4h.9m-.8-.1h.9m-.9-.2h.9m-.6 .4h.9m-.8 0h.9m-.7 0h.9m-.7-.4h.9m-.9 .3h.9m-.7-.2h.9m-.9-.1h.9m-.8 .4h.9m-.8-.5h.9m-.8 .5h.9m-.9-.1h.9m-.8-.1h.9m-.8-.3h.9m-.8 .3h.9m.4-.4h.9m-20.2 1.4h.9m-.2-.3h.9m-.9 .2h.9m-.1 .1h.9m14.1-.6h.9m-.8 .1h.9m-17.3 .8h.9m-.8 .2h.9m-.7-.3h.9m-.6 .3h.9m-.7-.2h.9m-.9 .1h.9m-.9-.2h.9m-.7 .1h.9m-.9 .1h.9m-.8 .1h.9m-.5-.4h.9m-3 1.5h.9m-1.2 .1h.9m-.8 .3h.9m-.6 .3h.9m-.9-.5h.9m-.9 .1h.9m-.8 .2h.9m2 1.6h.9m-.9 0h.9m-.3-.1h.9m-5.3 1h.9m-.9-.2h.9m-.6 .2h.9m-.7-.1h.9m2.6-.2h.9m-.8 0h.9m-2.1 1.2h.9m-.9 0h.9m-.8-.1h.9m-.6 .1h.9m-.6 .1h.9m-1.6 .3h.9m-.7-.2h.9m-.8 .4h.9" stroke="rgb(42, 121, 196)" stroke-width="0.9" stroke-opacity="0.8" fill="none"/>
<path d="M297.4 591.9h.9m-.1-.1h.9m-1.6 .9h.9m-.8-.5h.9m-.8 .4h.9m-.8 0h.9m-.8 .1h.9m-.9-.1h.9m-5.3 .8h.9m-.8-.1h.9m-.8-.2h.9m-.5-.2h.9m-.8-.1h.9m-.8 .5h.9m-.9-.3h.9m2.4 .2h.9m-.8 0h.9m-.9-.1h.9m-.8 .1h.9m-.8-.3h.9m-.9 0h.9m-.8 .6h.9m-.9 0h.9m-5.4 .7h.9m-.6-.1h.9m-.8-.3h.9m-.8 0h.9m-.8-.1h.9m-.9 .5h.9m2.4-.6h.9m-.6 0h.9m-5.1 .9h.9m-.6 0h.9m-.9 .1h.9m-.3-.2h.9m-.6 1.5h.9m-.4 0h.9m-1.6 .3h.9m-.8 .1h.9m-.5 0h.9m-.8-.3h.9m-.9 0h.9m-.7 .4h.9" stroke="rgb(40, 150, 203)" stroke-width="0.9" stroke-opacity="1" fill="none"/>
<path d="M296.5 591.1h.9m-.9-.1h.9m-.8 .1h.9m-.5 0h.9m-.9-.1h.9m-1.6 .4h.9m-.7 .4h.9m-.6-.4h.9m-.6 .3h.9m-.9 0h.9m-.8-.3h.9m-.9-.2h.9m-2.7 4.6h.9m-.8-.1h.9m-.8 .1h.9m-.8 0h.9m-.8 .1h.9m-.6-.2h.9m-.8 .2h.9m-.8 0h.9m-1.7 .5h.9m-.9-.4h.9m-.9 .5h.9m-.9-.1h.9m-.9 0h.9m-.8-.1h.9m-.8-.1h.9m-.6-.1h.9m-.8 .2h.9" stroke="rgb(55, 170, 161)" stroke-width="0.9" stroke-opacity="1" fill="none"/>
<path d="M294.5 590.9h.9m-.9 0h.9m-.7 0h.9m-.7 .2h.9m-.8 0h.9m-.6-.1h.9m-.8 .1h.9m-1.7 .4h.9m-.8-.1h.9m-.8-.1h.9m-.9 .3h.9m-.8 0h.9m-.9 .1h.9m-.9 0h.9m-.9-.3h.9m-.8-.1h.9m-.8-.1h.9m-.8 .2h.9m-.8 .2h.9m-.9 0h.9m-1.6 3.1h.9m-.9 .4h.9m-.8-.3h.9m-.9 .1h.9m-.5 .1h.9m-.8-.3h.9m-.8 .2h.9m.2 .2h.9m-.9-.2h.9m-.9-.1h.9m-.7 .2h.9m-.8-.2h.9m-.7 .3h.9m-.9-.3h.9m-.5 0h.9m-3.4 .4h.9m-.5 0h.9m-.8 0h.9m-.9 .1h.9m.3 .3h.9m-.9-.1h.9m-.9-.1h.9m-.7-.2h.9m-.8 .1h.9m-.6 0h.9m-.9 .1h.9m-.8-.2h.9" stroke="rgb(70, 190, 120)" stroke-width="0.9" stroke-opacity="1" fill="none"/>
<path d="M295.7 590.9h.9m-.3 .2h.9m-1.8 .3h.9m-.9 .3h.9m-.8-.5h.9m-.9 .2h.9m-.8 .2h.9m-.6-.2h.9m-.8-.2h.9m-.8 .5h.9m-.8-.1h.9m-.9 0h.9" stroke="rgb(137, 203, 80)" stroke-width="0.9" stroke-opacity="1" fill="none"/>
<path d="M294.6 591.9h.9m-.6-.1h.9m-.5 .1h.9m.3-.1h.9m-.8 0h.9m-.4 0h.9m-3.6 .7h.9m-.9-.2h.9m-.8 .1h.9m-.9 0h.9m-.9-.3h.9m-.8 .1h.9m-.9 .4h.9m-.7-.6h.9m-.8 .2h.9m-.8-.1h.9m-.9-.1h.9m-.9 .4h.9m-.7-.3h.9m-.9 .3h.9m-.8-.1h.9m-.9 .3h.9m-.9-.4h.9m-.9-.1h.9m-.9 .6h.9m.2-.7h.9m-.9 .1h.9m-.8 .5h.9m-.9-.3h.9m-.9 .1h.9m-.8 .1h.9m-.8 0h.9m-.8 .2h.9m-.9-.5h.9m-.8 .4h.9m-.9 .1h.9m-.9-.3h.9m-.8 .1h.9m-.9-.2h.9m-.7 .3h.9m-3.5 1.7h.9m-.8-.3h.9m-.9 .2h.9m-.9-.4h.9m-.7 .1h.9m-.9 0h.9m-.8 0h.9m-.9-.1h.9m-.8 .4h.9m-.9-.5h.9m-.8 .3h.9m-.9-.1h.9m-.8 0h.9m-.9 .3h.9m-.9-.3h.9m-.9-.1h.9m-.8 .5h.9m.1-.2h.9m-.9 .2h.9m-.9 0h.9m-.9-.2h.9m-.8 0h.9m-.7 .1h.9m-.9 0h.9m-.9-.1h.9m-.8 .2h.9m-.9-.2h.9m-.9 0h.9m-3.2 .5h.9m-.8-.1h.9m-.9 .1h.9m-.8 0h.9m-.7-.1h.9m-.8 .1h.9m-.8-.1h.9m-.7-.1h.9m-.6 .3h.9m-.8 .4h.9m-.9-.2h.9m-.6 0h.9m-.9-.1h.9m-.9 .3h.9m-.8-.3h.9m-.8 0h.9m-.8-.1h.9m-.3-.3h.9m-2.3 1h.9m-.9-.1h.9m-.9 0h.9m-.8-.1h.9m-.9 .4h.9m-.5-.3h.9m-.8-.1h.9m-.7 .3h.9m-.9-.1h.9" stroke="rgb(202, 211, 44)" stroke-width="0.9" stroke-opacity="1" fill="none"/>
<path d="M294.6 592.9h.9m-.8 .1h.9m-.9-.2h.9m-.8 0h.9m-.8 .7h.9m-.8-.6h.9m-.9 .3h.9m-.8 .2h.9m-.7-.5h.9m.1 0h.9m-.9 0h.9m-.8 .6h.9m-.9-.2h.9m-.8-.5h.9m-.9 0h.9m-.8 .6h.9m-.9-.6h.9m-.9 .4h.9m-.9 .2h.9m-.8-.2h.9m-.8-.4h.9m-.6 .5h.9m-.9 .2h.9m-.8-.1h.9m-.9-.2h.9m-.9 0h.9m-3.4 .5h.9m.8-.1h.9m-.7 .1h.9m-.7 0h.9m-.6-.1h.9" stroke="rgb(228, 173, 32)" stroke-width="0.9" stroke-opacity="1" fill="none"/>
<path d="M295.4 591.8h.9m-.7 .1h.9m-.4-.1h.9m-.9 0h.9m-.7 .1h.9m-1.8 .8h.9m-.8-.7h.9m-.8 .2h.9m-.9-.1h.9m-.8 .4h.9m-.9-.4h.9m-.9 .2h.9m-.9 .3h.9m-.8-.3h.9m-.9 .4h.9m-.8-.3h.9m-.9 .1h.9m-.9 .2h.9m-.7-.5h.9m-.9 0h.9m-.9-.1h.9m-.9 .2h.9m-.8 0h.9m-.9 .3h.9m-.9-.1h.9m-.8 .2h.9" stroke="rgb(240, 122, 25)" stroke-width="0.9" stroke-opacity="1" fill="none"/>
<path d="M295.5 594.2h.9m-.9 0h.9m-.8 0h.9m-.8-.3h.9m-.9 .1h.9m-.9-.2h.9m-.8 0h.9m-.9 .1h.9m-.8 .3h.9m-.9-.4h.9m-.8 0h.9m-.9 .5h.9m-.8-.3h.9m-.9 .2h.9m-.9 .1h.9m-.8-.5h.9m-.9 0h.9m-1.7 .7h.9m-.8 0h.9m-.8 .1h.9m-.9-.2h.9m-.8 .1h.9m-.8 0h.9m-.9 0h.9m-.9 .1h.9m-.9-.2h.9m-.8 0h.9m-.8 .1h.9m-.7-.1h.9m-.9 0h.9" stroke="rgb(230, 52, 25)" stroke-width="0.9" stroke-opacity="1" fill="none"/>
<path d="M295.4 593.1h.9m-.9 0h.9m-.9 .1h.9m-.8 .2h.9m-.9 .1h.9m-.8-.2h.9m-.9-.3h.9m-.9-.1h.9m-.8 .1h.9m-.9-.2h.9m-.9 .6h.9m-.9 0h.9m-.7-.5h.9m-.7 .5h.9m-.9 0h.9m-.9-.5h.9m-.8 .4h.9m-.9-.3h.9m-1.7 .7h.9m-.8-.1h.9m-.7 .1h.9m-.6-.1h.9m-.7 .1h.9" stroke="rgb(220, 30, 20)" stroke-width="0.9" stroke-opacity="1" fill="none"/>
</g>
<line x1="281.90" y1="546.40" x2="343.50" y2="546.40" stroke="#666" stroke-width="0.8"/>
<line x1="281.90" y1="546.40" x2="281.90" y2="608.20" stroke="#555" stroke-width="0.8"/>
<line x1="281.90" y1="608.20" x2="343.50" y2="608.20" stroke="#666" stroke-width="0.8"/>
<line x1="343.50" y1="546.40" x2="343.50" y2="608.20" stroke="#888" stroke-width="0.8"/>
<line x1="303.46" y1="546.40" x2="303.46" y2="608.20" stroke="#505050" stroke-width="0.8"/>
<line x1="281.90" y1="579.15" x2="343.50" y2="579.15" stroke="#222" stroke-width="1.6"/>
<line x1="280.30" y1="552.58" x2="281.90" y2="552.58" stroke="#777" stroke-width="0.6"/>
<text x="279.9" y="553.5" font-size="3" fill="#666" text-anchor="end">10</text>
<line x1="280.30" y1="566.79" x2="281.90" y2="566.79" stroke="#777" stroke-width="0.6"/>
<text x="279.9" y="567.7" font-size="3" fill="#666" text-anchor="end">10</text>
<line x1="280.30" y1="584.72" x2="281.90" y2="584.72" stroke="#777" stroke-width="0.6"/>
<text x="279.9" y="585.6" font-size="3" fill="#666" text-anchor="end">10</text>
<line x1="280.30" y1="594.60" x2="281.90" y2="594.60" stroke="#777" stroke-width="0.6"/>
<text x="279.9" y="595.5" font-size="3" fill="#666" text-anchor="end">10</text>
<line x1="280.30" y1="603.87" x2="281.90" y2="603.87" stroke="#777" stroke-width="0.6"/>
<text x="279.9" y="604.8" font-size="3" fill="#666" text-anchor="end">10</text>
<ellipse cx="280.6" cy="594.3" rx="0.9" ry="1.2" fill="#111"/>
<line x1="286.83" y1="608.20" x2="286.83" y2="609.80" stroke="#777" stroke-width="0.6"/>
<text x="286.8" y="613.0" font-size="3" fill="#666" text-anchor="middle">10</text>
<line x1="295.45" y1="608.20" x2="295.45" y2="609.80" stroke="#777" stroke-width="0.6"/>
<text x="295.5" y="613.0" font-size="3" fill="#666" text-anchor="middle">10</text>
<line x1="305.31" y1="608.20" x2="305.31" y2="609.80" stroke="#777" stroke-width="0.6"/>
<text x="305.3" y="613.0" font-size="3" fill="#666" text-anchor="middle">10</text>
<line x1="324.40" y1="608.20" x2="324.40" y2="609.80" stroke="#777" stroke-width="0.6"/>
<text x="324.4" y="613.0" font-size="3" fill="#666" text-anchor="middle">10</text>
<line x1="339.19" y1="608.20" x2="339.19" y2="609.80" stroke="#777" stroke-width="0.6"/>
<text x="339.2" y="613.0" font-size="3" fill="#666" text-anchor="middle">10</text>
<ellipse cx="295.5" cy="609.2" rx="1.4" ry="0.8" fill="#111"/>
<text x="413.60" y="467.30" font-size="16.3" text-anchor="start" fill="#1e1e1e">F</text>
<line x1="445.20" y1="493.30" x2="445.20" y2="588.60" stroke="#222" stroke-width="1"/>
<line x1="441.20" y1="588.10" x2="445.20" y2="588.10" stroke="#222" stroke-width="0.9"/>
<text x="439.70" y="590.90" font-size="7.8" text-anchor="end" fill="#1e1e1e">0</text>
<line x1="441.20" y1="556.50" x2="445.20" y2="556.50" stroke="#222" stroke-width="0.9"/>
<text x="439.70" y="559.30" font-size="7.8" text-anchor="end" fill="#1e1e1e">50</text>
<line x1="441.20" y1="524.90" x2="445.20" y2="524.90" stroke="#222" stroke-width="0.9"/>
<text x="439.70" y="527.70" font-size="7.8" text-anchor="end" fill="#1e1e1e">100</text>
<line x1="441.20" y1="493.30" x2="445.20" y2="493.30" stroke="#222" stroke-width="0.9"/>
<text x="439.70" y="496.10" font-size="7.8" text-anchor="end" fill="#1e1e1e">150</text>
<text x="423.30" y="544.00" font-size="10.2" text-anchor="middle" fill="#1e1e1e" transform="rotate(-90 423.30 544.00)">Percent AnnexinV</text>
<rect x="450.40" y="571.98" width="8.20" height="16.12" fill="#7f7f7f" stroke="#1a1a1a" stroke-width="0.8"/>
<rect x="461.79" y="564.72" width="8.20" height="23.38" fill="#7f7f7f" stroke="#1a1a1a" stroke-width="0.8"/>
<rect x="473.18" y="575.46" width="8.20" height="12.64" fill="#3a55a6" stroke="#1a1a1a" stroke-width="0.8"/>
<rect x="484.57" y="567.88" width="8.20" height="20.22" fill="#3a55a6" stroke="#1a1a1a" stroke-width="0.8"/>
<rect x="495.96" y="585.57" width="8.20" height="2.53" fill="#7f7f7f" stroke="#1a1a1a" stroke-width="0.8"/>
<rect x="507.35" y="575.14" width="8.20" height="12.96" fill="#7f7f7f" stroke="#1a1a1a" stroke-width="0.8"/>
<rect x="518.74" y="579.88" width="8.20" height="8.22" fill="#3a55a6" stroke="#1a1a1a" stroke-width="0.8"/>
<rect x="530.13" y="529.96" width="8.20" height="58.14" fill="#3a55a6" stroke="#1a1a1a" stroke-width="0.8"/>
<rect x="541.52" y="585.26" width="8.20" height="2.84" fill="#7f7f7f" stroke="#1a1a1a" stroke-width="0.8"/>
<rect x="552.91" y="573.88" width="8.20" height="14.22" fill="#7f7f7f" stroke="#1a1a1a" stroke-width="0.8"/>
<rect x="564.30" y="579.25" width="8.20" height="8.85" fill="#3a55a6" stroke="#1a1a1a" stroke-width="0.8"/>
<rect x="575.69" y="531.54" width="8.20" height="56.56" fill="#3a55a6" stroke="#1a1a1a" stroke-width="0.8"/>
<rect x="587.08" y="581.78" width="8.20" height="6.32" fill="#7f7f7f" stroke="#1a1a1a" stroke-width="0.8"/>
<rect x="598.47" y="576.72" width="8.20" height="11.38" fill="#7f7f7f" stroke="#1a1a1a" stroke-width="0.8"/>
<rect x="609.86" y="583.04" width="8.20" height="5.06" fill="#3a55a6" stroke="#1a1a1a" stroke-width="0.8"/>
<rect x="621.25" y="567.24" width="8.20" height="20.86" fill="#3a55a6" stroke="#1a1a1a" stroke-width="0.8"/>
<line x1="454.50" y1="568.51" x2="454.50" y2="575.46" stroke="#111" stroke-width="0.8"/>
<line x1="452.30" y1="568.51" x2="456.70" y2="568.51" stroke="#111" stroke-width="0.8"/>
<circle cx="454.50" cy="567.88" r="1.85" fill="#0a0a0a"/>
<circle cx="452.00" cy="574.20" r="1.85" fill="#0a0a0a"/>
<circle cx="457.00" cy="573.56" r="1.85" fill="#0a0a0a"/>
<line x1="465.89" y1="563.77" x2="465.89" y2="565.66" stroke="#111" stroke-width="0.8"/>
<line x1="463.69" y1="563.77" x2="468.09" y2="563.77" stroke="#111" stroke-width="0.8"/>
<circle cx="463.39" cy="564.72" r="1.85" fill="#0a0a0a"/>
<circle cx="465.89" cy="564.40" r="1.85" fill="#0a0a0a"/>
<circle cx="468.39" cy="564.72" r="1.85" fill="#0a0a0a"/>
<line x1="477.28" y1="574.51" x2="477.28" y2="576.41" stroke="#111" stroke-width="0.8"/>
<line x1="475.08" y1="574.51" x2="479.48" y2="574.51" stroke="#111" stroke-width="0.8"/>
<circle cx="474.78" cy="575.78" r="1.85" fill="#0a0a0a"/>
<circle cx="477.28" cy="575.14" r="1.85" fill="#0a0a0a"/>
<circle cx="479.78" cy="575.46" r="1.85" fill="#0a0a0a"/>
<line x1="488.67" y1="566.93" x2="488.67" y2="568.82" stroke="#111" stroke-width="0.8"/>
<line x1="486.47" y1="566.93" x2="490.87" y2="566.93" stroke="#111" stroke-width="0.8"/>
<circle cx="486.17" cy="567.88" r="1.85" fill="#0a0a0a"/>
<circle cx="488.67" cy="567.56" r="1.85" fill="#0a0a0a"/>
<circle cx="491.17" cy="567.88" r="1.85" fill="#0a0a0a"/>
<line x1="500.06" y1="584.94" x2="500.06" y2="586.20" stroke="#111" stroke-width="0.8"/>
<line x1="497.86" y1="584.94" x2="502.26" y2="584.94" stroke="#111" stroke-width="0.8"/>
<circle cx="497.56" cy="585.57" r="1.85" fill="#0a0a0a"/>
<circle cx="500.06" cy="585.57" r="1.85" fill="#0a0a0a"/>
<circle cx="502.56" cy="585.57" r="1.85" fill="#0a0a0a"/>
<line x1="511.45" y1="574.20" x2="511.45" y2="576.09" stroke="#111" stroke-width="0.8"/>
<line x1="509.25" y1="574.20" x2="513.65" y2="574.20" stroke="#111" stroke-width="0.8"/>
<circle cx="508.95" cy="575.46" r="1.85" fill="#0a0a0a"/>
<circle cx="511.45" cy="574.83" r="1.85" fill="#0a0a0a"/>
<circle cx="513.95" cy="575.14" r="1.85" fill="#0a0a0a"/>
<line x1="522.84" y1="579.25" x2="522.84" y2="580.52" stroke="#111" stroke-width="0.8"/>
<line x1="520.64" y1="579.25" x2="525.04" y2="579.25" stroke="#111" stroke-width="0.8"/>
<circle cx="520.34" cy="579.88" r="1.85" fill="#0a0a0a"/>
<circle cx="522.84" cy="579.88" r="1.85" fill="#0a0a0a"/>
<circle cx="525.34" cy="579.88" r="1.85" fill="#0a0a0a"/>
<line x1="534.23" y1="526.80" x2="534.23" y2="532.48" stroke="#111" stroke-width="0.8"/>
<line x1="532.03" y1="526.80" x2="536.43" y2="526.80" stroke="#111" stroke-width="0.8"/>
<circle cx="531.73" cy="527.43" r="1.85" fill="#0a0a0a"/>
<circle cx="536.73" cy="527.43" r="1.85" fill="#0a0a0a"/>
<circle cx="534.23" cy="533.12" r="1.85" fill="#0a0a0a"/>
<line x1="545.62" y1="584.62" x2="545.62" y2="585.89" stroke="#111" stroke-width="0.8"/>
<line x1="543.42" y1="584.62" x2="547.82" y2="584.62" stroke="#111" stroke-width="0.8"/>
<circle cx="543.12" cy="585.26" r="1.85" fill="#0a0a0a"/>
<circle cx="545.62" cy="585.26" r="1.85" fill="#0a0a0a"/>
<circle cx="548.12" cy="585.26" r="1.85" fill="#0a0a0a"/>
<line x1="557.01" y1="572.93" x2="557.01" y2="574.83" stroke="#111" stroke-width="0.8"/>
<line x1="554.81" y1="572.93" x2="559.21" y2="572.93" stroke="#111" stroke-width="0.8"/>
<circle cx="554.51" cy="574.20" r="1.85" fill="#0a0a0a"/>
<circle cx="557.01" cy="573.56" r="1.85" fill="#0a0a0a"/>
<circle cx="559.51" cy="573.88" r="1.85" fill="#0a0a0a"/>
<line x1="568.40" y1="577.99" x2="568.40" y2="580.52" stroke="#111" stroke-width="0.8"/>
<line x1="566.20" y1="577.99" x2="570.60" y2="577.99" stroke="#111" stroke-width="0.8"/>
<circle cx="565.90" cy="579.88" r="1.85" fill="#0a0a0a"/>
<circle cx="568.40" cy="578.62" r="1.85" fill="#0a0a0a"/>
<circle cx="570.90" cy="579.25" r="1.85" fill="#0a0a0a"/>
<line x1="579.79" y1="526.80" x2="579.79" y2="536.28" stroke="#111" stroke-width="0.8"/>
<line x1="577.59" y1="526.80" x2="581.99" y2="526.80" stroke="#111" stroke-width="0.8"/>
<circle cx="577.79" cy="527.43" r="1.85" fill="#0a0a0a"/>
<circle cx="582.29" cy="529.96" r="1.85" fill="#0a0a0a"/>
<circle cx="579.79" cy="535.64" r="1.85" fill="#0a0a0a"/>
<line x1="591.18" y1="581.15" x2="591.18" y2="582.41" stroke="#111" stroke-width="0.8"/>
<line x1="588.98" y1="581.15" x2="593.38" y2="581.15" stroke="#111" stroke-width="0.8"/>
<circle cx="588.68" cy="581.78" r="1.85" fill="#0a0a0a"/>
<circle cx="591.18" cy="581.46" r="1.85" fill="#0a0a0a"/>
<circle cx="593.68" cy="581.78" r="1.85" fill="#0a0a0a"/>
<line x1="602.57" y1="576.09" x2="602.57" y2="577.36" stroke="#111" stroke-width="0.8"/>
<line x1="600.37" y1="576.09" x2="604.77" y2="576.09" stroke="#111" stroke-width="0.8"/>
<circle cx="600.07" cy="576.72" r="1.85" fill="#0a0a0a"/>
<circle cx="602.57" cy="576.41" r="1.85" fill="#0a0a0a"/>
<circle cx="605.07" cy="576.72" r="1.85" fill="#0a0a0a"/>
<line x1="613.96" y1="582.41" x2="613.96" y2="583.68" stroke="#111" stroke-width="0.8"/>
<line x1="611.76" y1="582.41" x2="616.16" y2="582.41" stroke="#111" stroke-width="0.8"/>
<circle cx="611.46" cy="583.04" r="1.85" fill="#0a0a0a"/>
<circle cx="613.96" cy="582.73" r="1.85" fill="#0a0a0a"/>
<circle cx="616.46" cy="583.04" r="1.85" fill="#0a0a0a"/>
<line x1="625.35" y1="566.61" x2="625.35" y2="567.88" stroke="#111" stroke-width="0.8"/>
<line x1="623.15" y1="566.61" x2="627.55" y2="566.61" stroke="#111" stroke-width="0.8"/>
<circle cx="622.85" cy="567.24" r="1.85" fill="#0a0a0a"/>
<circle cx="625.35" cy="566.93" r="1.85" fill="#0a0a0a"/>
<circle cx="627.85" cy="567.24" r="1.85" fill="#0a0a0a"/>
<line x1="445.20" y1="588.10" x2="635.30" y2="588.10" stroke="#222" stroke-width="1"/>
<line x1="454.50" y1="588.10" x2="454.50" y2="591.60" stroke="#222" stroke-width="0.8"/>
<text x="454.50" y="600.50" font-size="9.8" text-anchor="middle" fill="#1e1e1e">-</text>
<line x1="465.89" y1="588.10" x2="465.89" y2="591.60" stroke="#222" stroke-width="0.8"/>
<text x="465.89" y="600.50" font-size="9.8" text-anchor="middle" fill="#1e1e1e">+</text>
<line x1="477.28" y1="588.10" x2="477.28" y2="591.60" stroke="#222" stroke-width="0.8"/>
<text x="477.28" y="600.50" font-size="9.8" text-anchor="middle" fill="#1e1e1e">-</text>
<line x1="488.67" y1="588.10" x2="488.67" y2="591.60" stroke="#222" stroke-width="0.8"/>
<text x="488.67" y="600.50" font-size="9.8" text-anchor="middle" fill="#1e1e1e">+</text>
<line x1="500.06" y1="588.10" x2="500.06" y2="591.60" stroke="#222" stroke-width="0.8"/>
<text x="500.06" y="600.50" font-size="9.8" text-anchor="middle" fill="#1e1e1e">-</text>
<line x1="511.45" y1="588.10" x2="511.45" y2="591.60" stroke="#222" stroke-width="0.8"/>
<text x="511.45" y="600.50" font-size="9.8" text-anchor="middle" fill="#1e1e1e">+</text>
<line x1="522.84" y1="588.10" x2="522.84" y2="591.60" stroke="#222" stroke-width="0.8"/>
<text x="522.84" y="600.50" font-size="9.8" text-anchor="middle" fill="#1e1e1e">-</text>
<line x1="534.23" y1="588.10" x2="534.23" y2="591.60" stroke="#222" stroke-width="0.8"/>
<text x="534.23" y="600.50" font-size="9.8" text-anchor="middle" fill="#1e1e1e">+</text>
<line x1="545.62" y1="588.10" x2="545.62" y2="591.60" stroke="#222" stroke-width="0.8"/>
<text x="545.62" y="600.50" font-size="9.8" text-anchor="middle" fill="#1e1e1e">-</text>
<line x1="557.01" y1="588.10" x2="557.01" y2="591.60" stroke="#222" stroke-width="0.8"/>
<text x="557.01" y="600.50" font-size="9.8" text-anchor="middle" fill="#1e1e1e">+</text>
<line x1="568.40" y1="588.10" x2="568.40" y2="591.60" stroke="#222" stroke-width="0.8"/>
<text x="568.40" y="600.50" font-size="9.8" text-anchor="middle" fill="#1e1e1e">-</text>
<line x1="579.79" y1="588.10" x2="579.79" y2="591.60" stroke="#222" stroke-width="0.8"/>
<text x="579.79" y="600.50" font-size="9.8" text-anchor="middle" fill="#1e1e1e">+</text>
<line x1="591.18" y1="588.10" x2="591.18" y2="591.60" stroke="#222" stroke-width="0.8"/>
<text x="591.18" y="600.50" font-size="9.8" text-anchor="middle" fill="#1e1e1e">-</text>
<line x1="602.57" y1="588.10" x2="602.57" y2="591.60" stroke="#222" stroke-width="0.8"/>
<text x="602.57" y="600.50" font-size="9.8" text-anchor="middle" fill="#1e1e1e">+</text>
<line x1="613.96" y1="588.10" x2="613.96" y2="591.60" stroke="#222" stroke-width="0.8"/>
<text x="613.96" y="600.50" font-size="9.8" text-anchor="middle" fill="#1e1e1e">-</text>
<line x1="625.35" y1="588.10" x2="625.35" y2="591.60" stroke="#222" stroke-width="0.8"/>
<text x="625.35" y="600.50" font-size="9.8" text-anchor="middle" fill="#1e1e1e">+</text>
<text x="637.50" y="600.00" font-size="9.4" text-anchor="start" fill="#1e1e1e">:4-OHT</text>
<line x1="448.90" y1="603.30" x2="493.67" y2="603.30" stroke="#333" stroke-width="0.9"/>
<line x1="494.46" y1="603.30" x2="539.23" y2="603.30" stroke="#333" stroke-width="0.9"/>
<line x1="540.02" y1="603.30" x2="584.79" y2="603.30" stroke="#333" stroke-width="0.9"/>
<line x1="585.58" y1="603.30" x2="630.35" y2="603.30" stroke="#333" stroke-width="0.9"/>
<text x="470.30" y="613.60" font-size="9.4" text-anchor="middle" fill="#1e1e1e">Healthy</text>
<text x="470.30" y="624.00" font-size="9.4" text-anchor="middle" fill="#1e1e1e">Lin- BM</text>
<text x="517.00" y="613.60" font-size="9.4" text-anchor="middle" fill="#1e1e1e">MLL-AF9</text>
<text x="562.50" y="613.60" font-size="9.4" text-anchor="middle" fill="#1e1e1e">shp53;</text>
<text x="562.50" y="624.00" font-size="9.4" text-anchor="middle" fill="#1e1e1e">KRAS<tspan font-size="5.8" dy="-3.6">G12V</tspan></text>
<text x="608.50" y="613.60" font-size="9.4" text-anchor="middle" fill="#1e1e1e">MN1</text>
<line x1="510.80" y1="518.40" x2="534.80" y2="518.40" stroke="#555" stroke-width="1.0"/>
<text x="522.80" y="519.00" font-size="8" text-anchor="middle" fill="#1e1e1e" stroke="#1e1e1e" stroke-width="0.3">*</text>
<line x1="555.80" y1="518.40" x2="579.70" y2="518.40" stroke="#555" stroke-width="1.0"/>
<text x="567.75" y="519.00" font-size="8" text-anchor="middle" fill="#1e1e1e" stroke="#1e1e1e" stroke-width="0.3">*</text>
<line x1="601.40" y1="549.80" x2="625.10" y2="549.80" stroke="#aaa" stroke-width="1.0"/>
<text x="613.25" y="550.40" font-size="8" text-anchor="middle" fill="#1e1e1e" stroke="#1e1e1e" stroke-width="0.3">*</text>
<rect x="623.30" y="478.20" width="7.60" height="7.60" fill="#7f7f7f" stroke="#222" stroke-width="0.8"/>
<rect x="623.30" y="493.40" width="7.60" height="7.60" fill="#3a55a6" stroke="#222" stroke-width="0.8"/>
<text x="635.30" y="485.60" font-size="10.0" text-anchor="start" fill="#1e1e1e">A20<tspan font-size="6" dy="-4">+/+</tspan></text>
<text x="635.30" y="500.80" font-size="10.0" text-anchor="start" fill="#1e1e1e">A20<tspan font-size="6" dy="-4">-/-</tspan></text>
<text x="5.60" y="645.20" font-size="16.3" text-anchor="start" fill="#1e1e1e">G</text>
<use href="#mouse" x="48.00" y="650.00" width="40.00" height="38.00"/>
<use href="#mouse" x="48.00" y="694.00" width="40.00" height="38.00"/>
<text x="88.30" y="665.10" font-size="10.6" text-anchor="start" fill="#1e1e1e">A20<tspan font-size="6.3" dy="-4">+/+</tspan><tspan dy="4">;</tspan></text>
<text x="88.30" y="679.80" font-size="10.6" text-anchor="start" fill="#1e1e1e">Rosa-CreER</text>
<text x="88.30" y="709.40" font-size="10.6" text-anchor="start" fill="#1e1e1e">A20<tspan font-size="6.3" dy="-4">f/f</tspan><tspan dy="4">;</tspan></text>
<text x="88.30" y="723.60" font-size="10.6" text-anchor="start" fill="#1e1e1e">Rosa-CreER</text>
<path d="M146.2 648.3 L152.4 648.3 L152.4 731 L146.2 731" stroke="#333" stroke-width="0.9" fill="none"/>
<line x1="152.40" y1="689.60" x2="157.50" y2="689.60" stroke="#333" stroke-width="0.9"/>
<text x="163.40" y="692.20" font-size="10.6" text-anchor="start" fill="#1e1e1e">BM cells</text>
<text x="188.80" y="655.30" font-size="10.6" text-anchor="start" fill="#1e1e1e">MLL-AF9</text>
<text x="188.80" y="668.40" font-size="10.6" text-anchor="start" fill="#1e1e1e">MN1</text>
<path d="M202.8 674.8 C208 684 218 689.6 236 689.6" stroke="#222" stroke-width="0.9" fill="none"/>
<line x1="212.40" y1="689.60" x2="252.50" y2="689.60" stroke="#222" stroke-width="0.9"/>
<path d="M257.20 689.60 L251.80 687.44 L251.80 691.76 Z" fill="#111"/>
<ellipse cx="276.6" cy="690.2" rx="10.3" ry="8.9" fill="#3a4fb0" stroke="#5a70c8" stroke-width="1"/>
<text x="276.80" y="710.80" font-size="10.6" text-anchor="middle" fill="#1e1e1e">AML cells</text>
<line x1="292.40" y1="689.60" x2="322.50" y2="689.60" stroke="#222" stroke-width="0.9"/>
<path d="M327.20 689.60 L321.80 687.44 L321.80 691.76 Z" fill="#111"/>
<use href="#mouse" x="327.10" y="670.30" width="40.00" height="38.00"/>
<text x="348.20" y="717.40" font-size="10.6" text-anchor="middle" fill="#1e1e1e">CD45.1</text>
<line x1="369.30" y1="691.70" x2="420.50" y2="691.70" stroke="#222" stroke-width="0.9"/>
<path d="M425.50 691.70 L420.10 689.54 L420.10 693.86 Z" fill="#111"/>
<text x="369.30" y="704.00" font-size="10.6" text-anchor="start" fill="#1e1e1e">(4 weeks)</text>
<text x="425.30" y="685.10" font-size="10.6" text-anchor="start" fill="#1e1e1e">+/-Tamoxifen</text>
<line x1="430.00" y1="691.70" x2="491.50" y2="691.70" stroke="#222" stroke-width="0.9"/>
<path d="M495.5 664.4 L491.6 664.4 L491.6 719.1 L495.5 719.1" stroke="#333" stroke-width="0.9" fill="none"/>
<text x="501.40" y="682.00" font-size="10.6" text-anchor="start" fill="#1e1e1e">Overall survival</text>
<text x="501.40" y="694.60" font-size="10.6" text-anchor="start" fill="#1e1e1e">Leukemia burden</text>
<text x="501.40" y="707.30" font-size="10.6" text-anchor="start" fill="#1e1e1e">Secondary BMT</text>
<text x="6.90" y="773.40" font-size="16.3" text-anchor="start" fill="#1e1e1e">H</text>
<line x1="46.70" y1="787.60" x2="46.70" y2="873.90" stroke="#222" stroke-width="1"/>
<line x1="43.30" y1="873.40" x2="46.70" y2="873.40" stroke="#222" stroke-width="0.9"/>
<text x="42.50" y="876.40" font-size="8.6" text-anchor="end" fill="#1e1e1e">0</text>
<line x1="43.30" y1="861.14" x2="46.70" y2="861.14" stroke="#222" stroke-width="0.9"/>
<text x="42.50" y="864.14" font-size="8.6" text-anchor="end" fill="#1e1e1e">10</text>
<line x1="43.30" y1="848.89" x2="46.70" y2="848.89" stroke="#222" stroke-width="0.9"/>
<text x="42.50" y="851.89" font-size="8.6" text-anchor="end" fill="#1e1e1e">20</text>
<line x1="43.30" y1="836.63" x2="46.70" y2="836.63" stroke="#222" stroke-width="0.9"/>
<text x="42.50" y="839.63" font-size="8.6" text-anchor="end" fill="#1e1e1e">30</text>
<line x1="43.30" y1="824.37" x2="46.70" y2="824.37" stroke="#222" stroke-width="0.9"/>
<text x="42.50" y="827.37" font-size="8.6" text-anchor="end" fill="#1e1e1e">40</text>
<line x1="43.30" y1="812.11" x2="46.70" y2="812.11" stroke="#222" stroke-width="0.9"/>
<text x="42.50" y="815.11" font-size="8.6" text-anchor="end" fill="#1e1e1e">50</text>
<line x1="43.30" y1="799.86" x2="46.70" y2="799.86" stroke="#222" stroke-width="0.9"/>
<text x="42.50" y="802.86" font-size="8.6" text-anchor="end" fill="#1e1e1e">60</text>
<line x1="43.30" y1="787.60" x2="46.70" y2="787.60" stroke="#222" stroke-width="0.9"/>
<text x="42.50" y="790.60" font-size="8.6" text-anchor="end" fill="#1e1e1e">70</text>
<line x1="46.70" y1="873.40" x2="164.50" y2="873.40" stroke="#222" stroke-width="1"/>
<line x1="62.70" y1="873.40" x2="62.70" y2="876.40" stroke="#222" stroke-width="0.9"/>
<text x="62.70" y="886.70" font-size="10.0" text-anchor="middle" fill="#1e1e1e">0</text>
<line x1="86.80" y1="873.40" x2="86.80" y2="876.40" stroke="#222" stroke-width="0.9"/>
<text x="86.80" y="886.70" font-size="10.0" text-anchor="middle" fill="#1e1e1e">2</text>
<line x1="110.90" y1="873.40" x2="110.90" y2="876.40" stroke="#222" stroke-width="0.9"/>
<text x="110.90" y="886.70" font-size="10.0" text-anchor="middle" fill="#1e1e1e">4</text>
<line x1="135.00" y1="873.40" x2="135.00" y2="876.40" stroke="#222" stroke-width="0.9"/>
<text x="135.00" y="886.70" font-size="10.0" text-anchor="middle" fill="#1e1e1e">6</text>
<line x1="159.00" y1="873.40" x2="159.00" y2="876.40" stroke="#222" stroke-width="0.9"/>
<text x="159.00" y="886.70" font-size="10.0" text-anchor="middle" fill="#1e1e1e">8</text>
<polyline points="62.70,865.43 86.80,851.34 110.90,856.85 135.00,855.01 159.00,826.82" fill="none" stroke="#c3c3c3" stroke-width="1"/>
<circle cx="62.70" cy="865.43" r="2.0" fill="#c3c3c3"/>
<line x1="86.80" y1="847.66" x2="86.80" y2="855.01" stroke="#c3c3c3" stroke-width="1"/>
<line x1="84.30" y1="847.66" x2="89.30" y2="847.66" stroke="#c3c3c3" stroke-width="1"/>
<line x1="84.30" y1="855.01" x2="89.30" y2="855.01" stroke="#c3c3c3" stroke-width="1"/>
<circle cx="86.80" cy="851.34" r="2.0" fill="#c3c3c3"/>
<line x1="110.90" y1="853.18" x2="110.90" y2="860.53" stroke="#c3c3c3" stroke-width="1"/>
<line x1="108.40" y1="853.18" x2="113.40" y2="853.18" stroke="#c3c3c3" stroke-width="1"/>
<line x1="108.40" y1="860.53" x2="113.40" y2="860.53" stroke="#c3c3c3" stroke-width="1"/>
<circle cx="110.90" cy="856.85" r="2.0" fill="#c3c3c3"/>
<line x1="135.00" y1="851.34" x2="135.00" y2="858.69" stroke="#c3c3c3" stroke-width="1"/>
<line x1="132.50" y1="851.34" x2="137.50" y2="851.34" stroke="#c3c3c3" stroke-width="1"/>
<line x1="132.50" y1="858.69" x2="137.50" y2="858.69" stroke="#c3c3c3" stroke-width="1"/>
<circle cx="135.00" cy="855.01" r="2.0" fill="#c3c3c3"/>
<line x1="159.00" y1="819.47" x2="159.00" y2="834.18" stroke="#c3c3c3" stroke-width="1"/>
<line x1="156.50" y1="819.47" x2="161.50" y2="819.47" stroke="#c3c3c3" stroke-width="1"/>
<line x1="156.50" y1="834.18" x2="161.50" y2="834.18" stroke="#c3c3c3" stroke-width="1"/>
<circle cx="159.00" cy="826.82" r="2.0" fill="#c3c3c3"/>
<polyline points="62.70,870.95 86.80,872.42 110.90,872.79 135.00,872.79 159.00,862.37" fill="none" stroke="#3f5bb5" stroke-width="1"/>
<circle cx="62.70" cy="870.95" r="2.0" fill="#3f5bb5"/>
<circle cx="86.80" cy="872.42" r="2.0" fill="#3f5bb5"/>
<circle cx="110.90" cy="872.79" r="2.0" fill="#3f5bb5"/>
<circle cx="135.00" cy="872.79" r="2.0" fill="#3f5bb5"/>
<line x1="159.00" y1="856.24" x2="159.00" y2="868.50" stroke="#3f5bb5" stroke-width="1"/>
<line x1="156.50" y1="856.24" x2="161.50" y2="856.24" stroke="#3f5bb5" stroke-width="1"/>
<line x1="156.50" y1="868.50" x2="161.50" y2="868.50" stroke="#3f5bb5" stroke-width="1"/>
<circle cx="159.00" cy="862.37" r="2.0" fill="#3f5bb5"/>
<text x="86.80" y="843.02" font-size="9" text-anchor="middle" fill="#1e1e1e" stroke="#1e1e1e" stroke-width="0.3">*</text>
<text x="110.90" y="849.32" font-size="9" text-anchor="middle" fill="#1e1e1e" stroke="#1e1e1e" stroke-width="0.3">*</text>
<text x="135.00" y="846.22" font-size="9" text-anchor="middle" fill="#1e1e1e" stroke="#1e1e1e" stroke-width="0.3">*</text>
<text x="159.00" y="814.52" font-size="9" text-anchor="middle" fill="#1e1e1e" stroke="#1e1e1e" stroke-width="0.3">*</text>
<text x="77.30" y="778.60" font-size="10.0" text-anchor="middle" fill="#1e1e1e">MLL-AF9</text>
<line x1="55.70" y1="782.90" x2="98.20" y2="782.90" stroke="#777" stroke-width="1.3"/>
<line x1="57.70" y1="793.00" x2="67.50" y2="793.00" stroke="#c3c3c3" stroke-width="1"/>
<circle cx="62.60" cy="793.00" r="2.0" fill="#c3c3c3"/>
<line x1="57.70" y1="806.20" x2="67.50" y2="806.20" stroke="#3f5bb5" stroke-width="1"/>
<circle cx="62.60" cy="806.20" r="2.0" fill="#3f5bb5"/>
<text x="72.50" y="796.60" font-size="9.7" text-anchor="start" fill="#1e1e1e">A20<tspan font-size="5.6" dy="-3.9">+/+</tspan></text>
<text x="72.50" y="809.80" font-size="9.7" text-anchor="start" fill="#1e1e1e">A20<tspan font-size="5.6" dy="-3.9">-/-</tspan></text>
<text x="28.00" y="828.60" font-size="9.1" text-anchor="middle" fill="#1e1e1e" transform="rotate(-90 28.00 828.60)">Percent PB GFP</text>
<text x="110.90" y="897.40" font-size="9.4" text-anchor="middle" fill="#1e1e1e">Weeks (Post-Tam)</text>
<line x1="198.00" y1="787.20" x2="198.00" y2="873.00" stroke="#222" stroke-width="1"/>
<line x1="194.60" y1="872.50" x2="198.00" y2="872.50" stroke="#222" stroke-width="0.9"/>
<text x="193.80" y="875.50" font-size="8.6" text-anchor="end" fill="#1e1e1e">0</text>
<line x1="194.60" y1="851.17" x2="198.00" y2="851.17" stroke="#222" stroke-width="0.9"/>
<text x="193.80" y="854.17" font-size="8.6" text-anchor="end" fill="#1e1e1e">10</text>
<line x1="194.60" y1="829.85" x2="198.00" y2="829.85" stroke="#222" stroke-width="0.9"/>
<text x="193.80" y="832.85" font-size="8.6" text-anchor="end" fill="#1e1e1e">20</text>
<line x1="194.60" y1="808.53" x2="198.00" y2="808.53" stroke="#222" stroke-width="0.9"/>
<text x="193.80" y="811.53" font-size="8.6" text-anchor="end" fill="#1e1e1e">30</text>
<line x1="194.60" y1="787.20" x2="198.00" y2="787.20" stroke="#222" stroke-width="0.9"/>
<text x="193.80" y="790.20" font-size="8.6" text-anchor="end" fill="#1e1e1e">40</text>
<line x1="198.00" y1="872.50" x2="326.00" y2="872.50" stroke="#222" stroke-width="1"/>
<line x1="223.70" y1="872.50" x2="223.70" y2="875.50" stroke="#222" stroke-width="0.9"/>
<text x="223.70" y="885.80" font-size="10.0" text-anchor="middle" fill="#1e1e1e">0</text>
<line x1="262.30" y1="872.50" x2="262.30" y2="875.50" stroke="#222" stroke-width="0.9"/>
<text x="262.30" y="885.80" font-size="10.0" text-anchor="middle" fill="#1e1e1e">1</text>
<line x1="300.80" y1="872.50" x2="300.80" y2="875.50" stroke="#222" stroke-width="0.9"/>
<text x="300.80" y="885.80" font-size="10.0" text-anchor="middle" fill="#1e1e1e">2</text>
<polyline points="223.70,861.84 262.30,855.44 300.80,817.06" fill="none" stroke="#c3c3c3" stroke-width="1"/>
<line x1="223.70" y1="855.44" x2="223.70" y2="868.24" stroke="#c3c3c3" stroke-width="1"/>
<line x1="221.20" y1="855.44" x2="226.20" y2="855.44" stroke="#c3c3c3" stroke-width="1"/>
<line x1="221.20" y1="868.24" x2="226.20" y2="868.24" stroke="#c3c3c3" stroke-width="1"/>
<circle cx="223.70" cy="861.84" r="2.0" fill="#c3c3c3"/>
<line x1="262.30" y1="844.78" x2="262.30" y2="866.10" stroke="#c3c3c3" stroke-width="1"/>
<line x1="259.80" y1="844.78" x2="264.80" y2="844.78" stroke="#c3c3c3" stroke-width="1"/>
<line x1="259.80" y1="866.10" x2="264.80" y2="866.10" stroke="#c3c3c3" stroke-width="1"/>
<circle cx="262.30" cy="855.44" r="2.0" fill="#c3c3c3"/>
<line x1="300.80" y1="790.40" x2="300.80" y2="844.78" stroke="#c3c3c3" stroke-width="1"/>
<line x1="298.30" y1="790.40" x2="303.30" y2="790.40" stroke="#c3c3c3" stroke-width="1"/>
<line x1="298.30" y1="844.78" x2="303.30" y2="844.78" stroke="#c3c3c3" stroke-width="1"/>
<circle cx="300.80" cy="817.06" r="2.0" fill="#c3c3c3"/>
<polyline points="223.70,868.24 262.30,871.86 300.80,859.28" fill="none" stroke="#3f5bb5" stroke-width="1"/>
<line x1="223.70" y1="865.04" x2="223.70" y2="871.43" stroke="#3f5bb5" stroke-width="1"/>
<line x1="221.20" y1="865.04" x2="226.20" y2="865.04" stroke="#3f5bb5" stroke-width="1"/>
<line x1="221.20" y1="871.43" x2="226.20" y2="871.43" stroke="#3f5bb5" stroke-width="1"/>
<circle cx="223.70" cy="868.24" r="2.0" fill="#3f5bb5"/>
<circle cx="262.30" cy="871.86" r="2.0" fill="#3f5bb5"/>
<line x1="300.80" y1="846.27" x2="300.80" y2="872.50" stroke="#3f5bb5" stroke-width="1"/>
<line x1="298.30" y1="846.27" x2="303.30" y2="846.27" stroke="#3f5bb5" stroke-width="1"/>
<line x1="298.30" y1="872.50" x2="303.30" y2="872.50" stroke="#3f5bb5" stroke-width="1"/>
<circle cx="300.80" cy="859.28" r="2.0" fill="#3f5bb5"/>
<text x="226.40" y="778.50" font-size="10.0" text-anchor="middle" fill="#1e1e1e">MN1</text>
<line x1="205.50" y1="782.20" x2="247.80" y2="782.20" stroke="#777" stroke-width="1.3"/>
<line x1="207.40" y1="791.90" x2="217.20" y2="791.90" stroke="#c3c3c3" stroke-width="1"/>
<circle cx="212.30" cy="791.90" r="2.0" fill="#c3c3c3"/>
<line x1="207.40" y1="805.20" x2="217.20" y2="805.20" stroke="#3f5bb5" stroke-width="1"/>
<circle cx="212.30" cy="805.20" r="2.0" fill="#3f5bb5"/>
<text x="222.20" y="795.50" font-size="9.7" text-anchor="start" fill="#1e1e1e">A20<tspan font-size="5.6" dy="-3.9">+/+</tspan></text>
<text x="222.20" y="808.80" font-size="9.7" text-anchor="start" fill="#1e1e1e">A20<tspan font-size="5.6" dy="-3.9">-/-</tspan></text>
<text x="181.20" y="830.00" font-size="9.1" text-anchor="middle" fill="#1e1e1e" transform="rotate(-90 181.20 830.00)">Percent PB GFP</text>
<text x="264.00" y="897.40" font-size="9.4" text-anchor="middle" fill="#1e1e1e">Weeks (Post-Tam)</text>
<text x="333.70" y="773.30" font-size="16.3" text-anchor="start" fill="#1e1e1e">I</text>
<line x1="367.20" y1="789.80" x2="367.20" y2="874.70" stroke="#222" stroke-width="1"/>
<line x1="365.00" y1="874.20" x2="367.20" y2="874.20" stroke="#222" stroke-width="0.9"/>
<text x="364.80" y="877.40" font-size="9.0" text-anchor="end" fill="#1e1e1e" letter-spacing="-0.3">0</text>
<line x1="365.00" y1="853.10" x2="367.20" y2="853.10" stroke="#222" stroke-width="0.9"/>
<text x="364.80" y="856.30" font-size="9.0" text-anchor="end" fill="#1e1e1e" letter-spacing="-0.3">25</text>
<line x1="365.00" y1="832.00" x2="367.20" y2="832.00" stroke="#222" stroke-width="0.9"/>
<text x="364.80" y="835.20" font-size="9.0" text-anchor="end" fill="#1e1e1e" letter-spacing="-0.3">50</text>
<line x1="365.00" y1="810.90" x2="367.20" y2="810.90" stroke="#222" stroke-width="0.9"/>
<text x="364.80" y="814.10" font-size="9.0" text-anchor="end" fill="#1e1e1e" letter-spacing="-0.3">75</text>
<line x1="365.00" y1="789.80" x2="367.20" y2="789.80" stroke="#222" stroke-width="0.9"/>
<text x="364.80" y="793.00" font-size="9.0" text-anchor="end" fill="#1e1e1e" letter-spacing="-0.3">100</text>
<line x1="367.20" y1="874.20" x2="495.80" y2="874.20" stroke="#222" stroke-width="1"/>
<line x1="367.20" y1="874.20" x2="367.20" y2="877.20" stroke="#222" stroke-width="0.9"/>
<text x="367.20" y="886.60" font-size="9.2" text-anchor="middle" fill="#1e1e1e" letter-spacing="-0.3">0</text>
<line x1="392.92" y1="874.20" x2="392.92" y2="877.20" stroke="#222" stroke-width="0.9"/>
<text x="392.92" y="886.60" font-size="9.2" text-anchor="middle" fill="#1e1e1e" letter-spacing="-0.3">50</text>
<line x1="418.64" y1="874.20" x2="418.64" y2="877.20" stroke="#222" stroke-width="0.9"/>
<text x="418.64" y="886.60" font-size="9.2" text-anchor="middle" fill="#1e1e1e" letter-spacing="-0.3">100</text>
<line x1="444.36" y1="874.20" x2="444.36" y2="877.20" stroke="#222" stroke-width="0.9"/>
<text x="444.36" y="886.60" font-size="9.2" text-anchor="middle" fill="#1e1e1e" letter-spacing="-0.3">150</text>
<line x1="470.08" y1="874.20" x2="470.08" y2="877.20" stroke="#222" stroke-width="0.9"/>
<text x="470.08" y="886.60" font-size="9.2" text-anchor="middle" fill="#1e1e1e" letter-spacing="-0.3">200</text>
<line x1="495.80" y1="874.20" x2="495.80" y2="877.20" stroke="#222" stroke-width="0.9"/>
<text x="495.80" y="886.60" font-size="9.2" text-anchor="middle" fill="#1e1e1e" letter-spacing="-0.3">250</text>
<path d="M367.20 789.80 H403.21 V799.08 H405.78 V808.37 H421.73 V817.65 H423.78 V837.06 H439.22 V846.35 H447.96 V855.63 H453.10 V864.92 H487.57 V874.20" fill="none" stroke="#3f5bb5" stroke-width="1.1"/>
<rect x="401.21" y="797.08" width="4.00" height="4.00" fill="#3f5bb5" stroke="none" stroke-width="0"/>
<rect x="403.78" y="806.37" width="4.00" height="4.00" fill="#3f5bb5" stroke="none" stroke-width="0"/>
<rect x="419.73" y="815.65" width="4.00" height="4.00" fill="#3f5bb5" stroke="none" stroke-width="0"/>
<rect x="421.78" y="835.06" width="4.00" height="4.00" fill="#3f5bb5" stroke="none" stroke-width="0"/>
<rect x="437.22" y="844.35" width="4.00" height="4.00" fill="#3f5bb5" stroke="none" stroke-width="0"/>
<rect x="445.96" y="853.63" width="4.00" height="4.00" fill="#3f5bb5" stroke="none" stroke-width="0"/>
<rect x="451.10" y="862.92" width="4.00" height="4.00" fill="#3f5bb5" stroke="none" stroke-width="0"/>
<rect x="485.57" y="872.20" width="4.00" height="4.00" fill="#3f5bb5" stroke="none" stroke-width="0"/>
<path d="M367.20 789.80 H397.04 V799.08 H399.09 V808.37 H400.38 V826.94 H401.15 V874.20" fill="none" stroke="#c3c3c3" stroke-width="1.1"/>
<rect x="395.04" y="797.08" width="4.00" height="4.00" fill="#c3c3c3" stroke="none" stroke-width="0"/>
<rect x="397.35" y="806.37" width="4.00" height="4.00" fill="#c3c3c3" stroke="none" stroke-width="0"/>
<rect x="398.38" y="824.94" width="4.00" height="4.00" fill="#c3c3c3" stroke="none" stroke-width="0"/>
<rect x="399.15" y="872.20" width="4.00" height="4.00" fill="#c3c3c3" stroke="none" stroke-width="0"/>
<text x="367.70" y="780.20" font-size="8.9" text-anchor="start" fill="#1e1e1e">Primary</text>
<line x1="405.20" y1="860.50" x2="445.90" y2="860.50" stroke="#555" stroke-width="0.9"/>
<text x="406.60" y="857.00" font-size="7.3" text-anchor="start" fill="#1e1e1e" textLength="32.6" lengthAdjust="spacingAndGlyphs">P &lt; 0.0001</text>
<text x="350.80" y="828.30" font-size="9.1" text-anchor="middle" fill="#1e1e1e" transform="rotate(-90 350.80 828.30)">Disease-free survival</text>
<text x="432.00" y="897.40" font-size="9.6" text-anchor="middle" fill="#1e1e1e">Days (Post-Tam)</text>
<text x="474.40" y="779.60" font-size="9.6" text-anchor="middle" fill="#1e1e1e">MLL-AF9</text>
<line x1="454.30" y1="783.40" x2="495.00" y2="783.40" stroke="#888" stroke-width="1.4"/>
<line x1="456.30" y1="792.60" x2="466.30" y2="792.60" stroke="#c3c3c3" stroke-width="1"/>
<circle cx="461.30" cy="792.60" r="1.9" fill="#c3c3c3"/>
<line x1="456.30" y1="806.10" x2="466.30" y2="806.10" stroke="#3f5bb5" stroke-width="1"/>
<circle cx="461.30" cy="806.10" r="1.9" fill="#3f5bb5"/>
<text x="470.80" y="796.30" font-size="9.6" text-anchor="start" fill="#1e1e1e">A20<tspan font-size="5.6" dy="-3.8">+/+</tspan></text>
<text x="470.80" y="809.60" font-size="9.6" text-anchor="start" fill="#1e1e1e">A20<tspan font-size="5.6" dy="-3.8">-/-</tspan></text>
<text x="508.10" y="773.30" font-size="16.3" text-anchor="start" fill="#1e1e1e">J</text>
<line x1="536.50" y1="788.00" x2="536.50" y2="874.20" stroke="#222" stroke-width="1"/>
<line x1="534.30" y1="873.70" x2="536.50" y2="873.70" stroke="#222" stroke-width="0.9"/>
<text x="534.10" y="876.90" font-size="9.0" text-anchor="end" fill="#1e1e1e" letter-spacing="-0.3">0</text>
<line x1="534.30" y1="852.28" x2="536.50" y2="852.28" stroke="#222" stroke-width="0.9"/>
<text x="534.10" y="855.48" font-size="9.0" text-anchor="end" fill="#1e1e1e" letter-spacing="-0.3">25</text>
<line x1="534.30" y1="830.85" x2="536.50" y2="830.85" stroke="#222" stroke-width="0.9"/>
<text x="534.10" y="834.05" font-size="9.0" text-anchor="end" fill="#1e1e1e" letter-spacing="-0.3">50</text>
<line x1="534.30" y1="809.42" x2="536.50" y2="809.42" stroke="#222" stroke-width="0.9"/>
<text x="534.10" y="812.62" font-size="9.0" text-anchor="end" fill="#1e1e1e" letter-spacing="-0.3">75</text>
<line x1="534.30" y1="788.00" x2="536.50" y2="788.00" stroke="#222" stroke-width="0.9"/>
<text x="534.10" y="791.20" font-size="9.0" text-anchor="end" fill="#1e1e1e" letter-spacing="-0.3">100</text>
<line x1="536.50" y1="873.70" x2="666.30" y2="873.70" stroke="#222" stroke-width="1"/>
<line x1="536.50" y1="873.70" x2="536.50" y2="876.70" stroke="#222" stroke-width="0.9"/>
<text x="536.50" y="886.60" font-size="9.2" text-anchor="middle" fill="#1e1e1e" letter-spacing="-0.3">0</text>
<line x1="562.46" y1="873.70" x2="562.46" y2="876.70" stroke="#222" stroke-width="0.9"/>
<text x="562.46" y="886.60" font-size="9.2" text-anchor="middle" fill="#1e1e1e" letter-spacing="-0.3">20</text>
<line x1="588.42" y1="873.70" x2="588.42" y2="876.70" stroke="#222" stroke-width="0.9"/>
<text x="588.42" y="886.60" font-size="9.2" text-anchor="middle" fill="#1e1e1e" letter-spacing="-0.3">40</text>
<line x1="614.38" y1="873.70" x2="614.38" y2="876.70" stroke="#222" stroke-width="0.9"/>
<text x="614.38" y="886.60" font-size="9.2" text-anchor="middle" fill="#1e1e1e" letter-spacing="-0.3">60</text>
<line x1="640.34" y1="873.70" x2="640.34" y2="876.70" stroke="#222" stroke-width="0.9"/>
<text x="640.34" y="886.60" font-size="9.2" text-anchor="middle" fill="#1e1e1e" letter-spacing="-0.3">80</text>
<line x1="666.30" y1="873.70" x2="666.30" y2="876.70" stroke="#222" stroke-width="0.9"/>
<text x="666.30" y="886.60" font-size="9.2" text-anchor="middle" fill="#1e1e1e" letter-spacing="-0.3">100</text>
<path d="M536.50 788.00 H588.42 V805.14 H604.52 V822.28 H609.19 V839.42 H618.27 V856.56 H644.23 V873.70" fill="none" stroke="#3f5bb5" stroke-width="1.1"/>
<rect x="586.42" y="803.14" width="4.00" height="4.00" fill="#3f5bb5" stroke="none" stroke-width="0"/>
<rect x="602.52" y="820.28" width="4.00" height="4.00" fill="#3f5bb5" stroke="none" stroke-width="0"/>
<rect x="607.19" y="837.42" width="4.00" height="4.00" fill="#3f5bb5" stroke="none" stroke-width="0"/>
<rect x="616.27" y="854.56" width="4.00" height="4.00" fill="#3f5bb5" stroke="none" stroke-width="0"/>
<rect x="642.23" y="871.70" width="4.00" height="4.00" fill="#3f5bb5" stroke="none" stroke-width="0"/>
<path d="M536.50 788.00 H560.77 V822.28 H562.46 V839.42 H564.54 V873.70" fill="none" stroke="#c3c3c3" stroke-width="1.1"/>
<rect x="558.77" y="820.28" width="4.00" height="4.00" fill="#c3c3c3" stroke="none" stroke-width="0"/>
<rect x="560.46" y="837.42" width="4.00" height="4.00" fill="#c3c3c3" stroke="none" stroke-width="0"/>
<rect x="562.54" y="871.70" width="4.00" height="4.00" fill="#c3c3c3" stroke="none" stroke-width="0"/>
<text x="538.50" y="780.20" font-size="8.9" text-anchor="start" fill="#1e1e1e">Secondary</text>
<line x1="569.00" y1="858.50" x2="610.50" y2="858.50" stroke="#555" stroke-width="0.9"/>
<text x="572.00" y="854.80" font-size="7.3" text-anchor="start" fill="#1e1e1e" textLength="32.6" lengthAdjust="spacingAndGlyphs">P = 0.0025</text>
<text x="518.70" y="828.30" font-size="9.1" text-anchor="middle" fill="#1e1e1e" transform="rotate(-90 518.70 828.30)">Disease-free survival</text>
<text x="603.60" y="897.40" font-size="9.6" text-anchor="middle" fill="#1e1e1e">Days (Post-Tam)</text>
<text x="651.10" y="779.60" font-size="9.6" text-anchor="middle" fill="#1e1e1e">MLL-AF9</text>
<line x1="631.00" y1="783.40" x2="671.70" y2="783.40" stroke="#888" stroke-width="1.4"/>
<line x1="633.00" y1="792.60" x2="643.00" y2="792.60" stroke="#c3c3c3" stroke-width="1"/>
<circle cx="638.00" cy="792.60" r="1.9" fill="#c3c3c3"/>
<line x1="633.00" y1="806.10" x2="643.00" y2="806.10" stroke="#3f5bb5" stroke-width="1"/>
<circle cx="638.00" cy="806.10" r="1.9" fill="#3f5bb5"/>
<text x="647.50" y="796.30" font-size="9.6" text-anchor="start" fill="#1e1e1e">A20<tspan font-size="5.6" dy="-3.8">+/+</tspan></text>
<text x="647.50" y="809.60" font-size="9.6" text-anchor="start" fill="#1e1e1e">A20<tspan font-size="5.6" dy="-3.8">-/-</tspan></text>
</svg></body></html>
